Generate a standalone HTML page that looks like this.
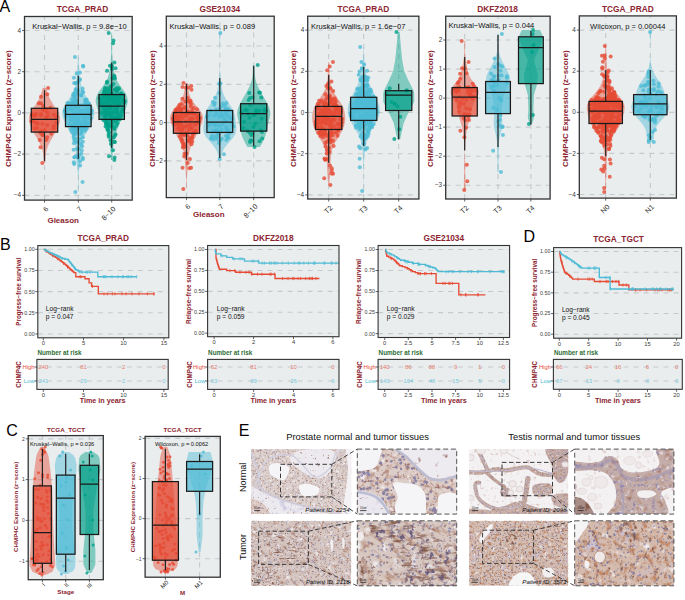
<!DOCTYPE html>
<html><head><meta charset="utf-8"><style>
html,body{margin:0;padding:0;background:#fff;width:685px;height:600px;overflow:hidden}
svg{display:block}
</style></head><body>
<svg width="685" height="600" viewBox="0 0 685 600" font-family="Liberation Sans, sans-serif">
<text x="-0.6" y="11.7" font-size="16" fill="#000" text-anchor="start">A</text>
<clipPath id="a1"><rect x="24.5" y="16.5" width="107.7" height="183.6"/></clipPath>
<rect x="24.5" y="16.5" width="107.7" height="183.6" fill="#E9EDEE"/>
<g clip-path="url(#a1)">
<path d="M24.5,30.5H132.2" stroke="#C5CACD" stroke-width="1.15" stroke-dasharray="5 5"/>
<path d="M24.5,71.7H132.2" stroke="#C5CACD" stroke-width="1.15" stroke-dasharray="5 5"/>
<path d="M24.5,112.9H132.2" stroke="#C5CACD" stroke-width="1.15" stroke-dasharray="5 5"/>
<path d="M24.5,154.1H132.2" stroke="#C5CACD" stroke-width="1.15" stroke-dasharray="5 5"/>
<path d="M24.5,195.3H132.2" stroke="#C5CACD" stroke-width="1.15" stroke-dasharray="5 5"/>
<path d="M44.5,200.1V16.5" stroke="#C5CACD" stroke-width="1.15" stroke-dasharray="5 5"/>
<path d="M78.3,200.1V16.5" stroke="#C5CACD" stroke-width="1.15" stroke-dasharray="5 5"/>
<path d="M111.7,200.1V16.5" stroke="#C5CACD" stroke-width="1.15" stroke-dasharray="5 5"/>
<path d="M43.72,163 L43.65,161.12 L43.56,159.25 L43.45,157.38 L43.28,155.5 L43.05,153.62 L42.72,151.75 L42.27,149.88 L41.71,148 L41.02,146.12 L40.21,144.25 L39.29,142.38 L38.28,140.5 L37.21,138.62 L36.1,136.75 L34.99,134.88 L33.9,133 L32.85,131.12 L31.88,129.25 L31.01,127.38 L30.25,125.5 L29.65,123.62 L29.22,121.75 L29,119.88 L29.03,118 L29.31,116.12 L29.87,114.25 L30.69,112.38 L31.71,110.5 L32.9,108.62 L34.18,106.75 L35.47,104.88 L36.71,103 L37.86,101.12 L38.87,99.25 L39.76,97.38 L40.51,95.5 L41.15,93.62 L41.69,91.75 L42.16,89.88 L42.57,88 L46.43,88 L46.84,89.88 L47.31,91.75 L47.85,93.62 L48.49,95.5 L49.24,97.38 L50.13,99.25 L51.14,101.12 L52.29,103 L53.53,104.88 L54.82,106.75 L56.1,108.62 L57.29,110.5 L58.31,112.38 L59.13,114.25 L59.69,116.12 L59.97,118 L60,119.88 L59.78,121.75 L59.35,123.62 L58.75,125.5 L57.99,127.38 L57.12,129.25 L56.15,131.12 L55.1,133 L54.01,134.88 L52.9,136.75 L51.79,138.62 L50.72,140.5 L49.71,142.38 L48.79,144.25 L47.98,146.12 L47.29,148 L46.73,149.88 L46.28,151.75 L45.95,153.62 L45.72,155.5 L45.55,157.38 L45.44,159.25 L45.35,161.12 L45.28,163Z" fill="#E64B35" fill-opacity="0.45"/>
<circle cx="48.14" cy="88" r="2.0" fill="#E64B35" fill-opacity="0.8"/>
<circle cx="42.28" cy="163" r="2.0" fill="#E64B35" fill-opacity="0.8"/>
<circle cx="42.36" cy="123.73" r="2.0" fill="#E64B35" fill-opacity="0.8"/>
<circle cx="40.99" cy="115.15" r="2.0" fill="#E64B35" fill-opacity="0.8"/>
<circle cx="53.81" cy="125.95" r="2.0" fill="#E64B35" fill-opacity="0.8"/>
<circle cx="56.32" cy="116.86" r="2.0" fill="#E64B35" fill-opacity="0.8"/>
<circle cx="35.49" cy="115.47" r="2.0" fill="#E64B35" fill-opacity="0.8"/>
<circle cx="37.07" cy="127.97" r="2.0" fill="#E64B35" fill-opacity="0.8"/>
<circle cx="40.95" cy="103.19" r="2.0" fill="#E64B35" fill-opacity="0.8"/>
<circle cx="37.77" cy="123.68" r="2.0" fill="#E64B35" fill-opacity="0.8"/>
<circle cx="44.17" cy="110.01" r="2.0" fill="#E64B35" fill-opacity="0.8"/>
<circle cx="46.26" cy="108.96" r="2.0" fill="#E64B35" fill-opacity="0.8"/>
<circle cx="40.22" cy="132.63" r="2.0" fill="#E64B35" fill-opacity="0.8"/>
<circle cx="32.17" cy="114.37" r="2.0" fill="#E64B35" fill-opacity="0.8"/>
<circle cx="42.74" cy="109.87" r="2.0" fill="#E64B35" fill-opacity="0.8"/>
<circle cx="41.25" cy="114.07" r="2.0" fill="#E64B35" fill-opacity="0.8"/>
<circle cx="46.25" cy="117.18" r="2.0" fill="#E64B35" fill-opacity="0.8"/>
<circle cx="56.27" cy="122.4" r="2.0" fill="#E64B35" fill-opacity="0.8"/>
<circle cx="47.22" cy="137.17" r="2.0" fill="#E64B35" fill-opacity="0.8"/>
<circle cx="44.83" cy="129.99" r="2.0" fill="#E64B35" fill-opacity="0.8"/>
<circle cx="47.26" cy="112.2" r="2.0" fill="#E64B35" fill-opacity="0.8"/>
<circle cx="46.36" cy="139.91" r="2.0" fill="#E64B35" fill-opacity="0.8"/>
<circle cx="39.78" cy="140.12" r="2.0" fill="#E64B35" fill-opacity="0.8"/>
<circle cx="53.66" cy="128.18" r="2.0" fill="#E64B35" fill-opacity="0.8"/>
<circle cx="47.3" cy="94.15" r="2.0" fill="#E64B35" fill-opacity="0.8"/>
<circle cx="51.25" cy="133.82" r="2.0" fill="#E64B35" fill-opacity="0.8"/>
<circle cx="50.37" cy="107.83" r="2.0" fill="#E64B35" fill-opacity="0.8"/>
<circle cx="42.76" cy="135.14" r="2.0" fill="#E64B35" fill-opacity="0.8"/>
<circle cx="42.95" cy="105.81" r="2.0" fill="#E64B35" fill-opacity="0.8"/>
<circle cx="40.54" cy="147.29" r="2.0" fill="#E64B35" fill-opacity="0.8"/>
<circle cx="47.97" cy="115.98" r="2.0" fill="#E64B35" fill-opacity="0.8"/>
<circle cx="33.13" cy="121.21" r="2.0" fill="#E64B35" fill-opacity="0.8"/>
<circle cx="38.77" cy="103.3" r="2.0" fill="#E64B35" fill-opacity="0.8"/>
<circle cx="37.15" cy="122.82" r="2.0" fill="#E64B35" fill-opacity="0.8"/>
<circle cx="36.1" cy="114.07" r="2.0" fill="#E64B35" fill-opacity="0.8"/>
<circle cx="41.33" cy="130.83" r="2.0" fill="#E64B35" fill-opacity="0.8"/>
<circle cx="34.9" cy="128.32" r="2.0" fill="#E64B35" fill-opacity="0.8"/>
<circle cx="31.52" cy="121.37" r="2.0" fill="#E64B35" fill-opacity="0.8"/>
<circle cx="35.69" cy="122.91" r="2.0" fill="#E64B35" fill-opacity="0.8"/>
<circle cx="34.59" cy="115.15" r="2.0" fill="#E64B35" fill-opacity="0.8"/>
<circle cx="42.29" cy="134.75" r="2.0" fill="#E64B35" fill-opacity="0.8"/>
<circle cx="32.25" cy="115.55" r="2.0" fill="#E64B35" fill-opacity="0.8"/>
<circle cx="53.81" cy="114.74" r="2.0" fill="#E64B35" fill-opacity="0.8"/>
<circle cx="47.26" cy="124.98" r="2.0" fill="#E64B35" fill-opacity="0.8"/>
<circle cx="40.99" cy="96.77" r="2.0" fill="#E64B35" fill-opacity="0.8"/>
<path d="M44.5,90.2V108.3M44.5,132.1V161.3" stroke="#222" stroke-width="1.2"/>
<rect x="31.3" y="108.3" width="26.4" height="23.8" fill="#E64B35" fill-opacity="0.7" stroke="#1a1a1a" stroke-width="1.25"/>
<path d="M31.3,119.4H57.7" stroke="#1a1a1a" stroke-width="1.25"/>
<path d="M78.08,192 L78.05,188.62 L78.04,185.25 L78.04,181.88 L78.02,178.5 L77.93,175.12 L77.71,171.75 L77.35,168.38 L76.9,165 L76.45,161.62 L76.1,158.25 L75.89,154.88 L75.73,151.5 L75.5,148.12 L75.06,144.75 L74.27,141.38 L73.04,138 L71.39,134.62 L69.48,131.25 L67.55,127.88 L65.76,124.5 L64.2,121.12 L62.97,117.75 L62.3,114.38 L62.44,111 L63.5,107.62 L65.35,104.25 L67.64,100.88 L69.98,97.5 L72.05,94.12 L73.68,90.75 L74.87,87.38 L75.68,84 L76.24,80.62 L76.65,77.25 L76.98,73.88 L77.25,70.5 L77.47,67.12 L77.66,63.75 L77.82,60.38 L77.95,57 L78.65,57 L78.78,60.38 L78.94,63.75 L79.13,67.12 L79.35,70.5 L79.62,73.88 L79.95,77.25 L80.36,80.62 L80.92,84 L81.73,87.38 L82.92,90.75 L84.55,94.12 L86.62,97.5 L88.96,100.88 L91.25,104.25 L93.1,107.62 L94.16,111 L94.3,114.38 L93.63,117.75 L92.4,121.12 L90.84,124.5 L89.05,127.88 L87.12,131.25 L85.21,134.62 L83.56,138 L82.33,141.38 L81.54,144.75 L81.1,148.12 L80.87,151.5 L80.71,154.88 L80.5,158.25 L80.15,161.62 L79.7,165 L79.25,168.38 L78.89,171.75 L78.67,175.12 L78.58,178.5 L78.56,181.88 L78.56,185.25 L78.55,188.62 L78.52,192Z" fill="#4DBBD5" fill-opacity="0.45"/>
<circle cx="74.92" cy="57" r="2.0" fill="#4DBBD5" fill-opacity="0.8"/>
<circle cx="75.38" cy="192" r="2.0" fill="#4DBBD5" fill-opacity="0.8"/>
<circle cx="85.65" cy="99.82" r="2.0" fill="#4DBBD5" fill-opacity="0.8"/>
<circle cx="78.23" cy="109.15" r="2.0" fill="#4DBBD5" fill-opacity="0.8"/>
<circle cx="71.26" cy="108.98" r="2.0" fill="#4DBBD5" fill-opacity="0.8"/>
<circle cx="89.25" cy="111.12" r="2.0" fill="#4DBBD5" fill-opacity="0.8"/>
<circle cx="91.69" cy="110.54" r="2.0" fill="#4DBBD5" fill-opacity="0.8"/>
<circle cx="77.23" cy="123.82" r="2.0" fill="#4DBBD5" fill-opacity="0.8"/>
<circle cx="74.07" cy="134.51" r="2.0" fill="#4DBBD5" fill-opacity="0.8"/>
<circle cx="70.28" cy="116.11" r="2.0" fill="#4DBBD5" fill-opacity="0.8"/>
<circle cx="74.21" cy="164.05" r="2.0" fill="#4DBBD5" fill-opacity="0.8"/>
<circle cx="75.93" cy="132.06" r="2.0" fill="#4DBBD5" fill-opacity="0.8"/>
<circle cx="69.59" cy="123.88" r="2.0" fill="#4DBBD5" fill-opacity="0.8"/>
<circle cx="72.56" cy="102.88" r="2.0" fill="#4DBBD5" fill-opacity="0.8"/>
<circle cx="75.73" cy="94.4" r="2.0" fill="#4DBBD5" fill-opacity="0.8"/>
<circle cx="79.97" cy="121.13" r="2.0" fill="#4DBBD5" fill-opacity="0.8"/>
<circle cx="85.32" cy="99.73" r="2.0" fill="#4DBBD5" fill-opacity="0.8"/>
<circle cx="83.8" cy="104.96" r="2.0" fill="#4DBBD5" fill-opacity="0.8"/>
<circle cx="76.44" cy="125.26" r="2.0" fill="#4DBBD5" fill-opacity="0.8"/>
<circle cx="76.06" cy="117.02" r="2.0" fill="#4DBBD5" fill-opacity="0.8"/>
<circle cx="78.95" cy="111.75" r="2.0" fill="#4DBBD5" fill-opacity="0.8"/>
<circle cx="74.95" cy="115.91" r="2.0" fill="#4DBBD5" fill-opacity="0.8"/>
<circle cx="76.68" cy="73.38" r="2.0" fill="#4DBBD5" fill-opacity="0.8"/>
<circle cx="73.92" cy="77.67" r="2.0" fill="#4DBBD5" fill-opacity="0.8"/>
<circle cx="76.08" cy="156.13" r="2.0" fill="#4DBBD5" fill-opacity="0.8"/>
<circle cx="90.91" cy="112.53" r="2.0" fill="#4DBBD5" fill-opacity="0.8"/>
<circle cx="70.06" cy="104.89" r="2.0" fill="#4DBBD5" fill-opacity="0.8"/>
<circle cx="78.33" cy="142.15" r="2.0" fill="#4DBBD5" fill-opacity="0.8"/>
<circle cx="81.83" cy="115.12" r="2.0" fill="#4DBBD5" fill-opacity="0.8"/>
<circle cx="86.29" cy="105.5" r="2.0" fill="#4DBBD5" fill-opacity="0.8"/>
<circle cx="75.46" cy="141.83" r="2.0" fill="#4DBBD5" fill-opacity="0.8"/>
<circle cx="74.15" cy="102.27" r="2.0" fill="#4DBBD5" fill-opacity="0.8"/>
<circle cx="71.97" cy="106.96" r="2.0" fill="#4DBBD5" fill-opacity="0.8"/>
<circle cx="76.09" cy="104.08" r="2.0" fill="#4DBBD5" fill-opacity="0.8"/>
<circle cx="77.72" cy="93.09" r="2.0" fill="#4DBBD5" fill-opacity="0.8"/>
<circle cx="86.52" cy="100.45" r="2.0" fill="#4DBBD5" fill-opacity="0.8"/>
<circle cx="81.79" cy="150.26" r="2.0" fill="#4DBBD5" fill-opacity="0.8"/>
<circle cx="85.11" cy="127.54" r="2.0" fill="#4DBBD5" fill-opacity="0.8"/>
<circle cx="73.22" cy="95.53" r="2.0" fill="#4DBBD5" fill-opacity="0.8"/>
<circle cx="73.33" cy="94.31" r="2.0" fill="#4DBBD5" fill-opacity="0.8"/>
<circle cx="81.44" cy="132.9" r="2.0" fill="#4DBBD5" fill-opacity="0.8"/>
<circle cx="85.47" cy="100.2" r="2.0" fill="#4DBBD5" fill-opacity="0.8"/>
<circle cx="77.66" cy="120.3" r="2.0" fill="#4DBBD5" fill-opacity="0.8"/>
<circle cx="80.67" cy="112.76" r="2.0" fill="#4DBBD5" fill-opacity="0.8"/>
<circle cx="64.82" cy="110.99" r="2.0" fill="#4DBBD5" fill-opacity="0.8"/>
<circle cx="75.35" cy="113.52" r="2.0" fill="#4DBBD5" fill-opacity="0.8"/>
<circle cx="82.57" cy="181.92" r="2.0" fill="#4DBBD5" fill-opacity="0.8"/>
<circle cx="85.24" cy="125.89" r="2.0" fill="#4DBBD5" fill-opacity="0.8"/>
<circle cx="86.13" cy="103.37" r="2.0" fill="#4DBBD5" fill-opacity="0.8"/>
<circle cx="91.14" cy="113.25" r="2.0" fill="#4DBBD5" fill-opacity="0.8"/>
<circle cx="74.74" cy="96.6" r="2.0" fill="#4DBBD5" fill-opacity="0.8"/>
<circle cx="74.14" cy="94.4" r="2.0" fill="#4DBBD5" fill-opacity="0.8"/>
<circle cx="74.63" cy="92.82" r="2.0" fill="#4DBBD5" fill-opacity="0.8"/>
<circle cx="78.52" cy="148.51" r="2.0" fill="#4DBBD5" fill-opacity="0.8"/>
<circle cx="80.44" cy="134.06" r="2.0" fill="#4DBBD5" fill-opacity="0.8"/>
<circle cx="82.71" cy="159.23" r="2.0" fill="#4DBBD5" fill-opacity="0.8"/>
<circle cx="84.33" cy="114.53" r="2.0" fill="#4DBBD5" fill-opacity="0.8"/>
<circle cx="81.44" cy="125.09" r="2.0" fill="#4DBBD5" fill-opacity="0.8"/>
<circle cx="85.44" cy="111.18" r="2.0" fill="#4DBBD5" fill-opacity="0.8"/>
<circle cx="77.52" cy="127.44" r="2.0" fill="#4DBBD5" fill-opacity="0.8"/>
<circle cx="79.64" cy="117.91" r="2.0" fill="#4DBBD5" fill-opacity="0.8"/>
<circle cx="73.7" cy="137.27" r="2.0" fill="#4DBBD5" fill-opacity="0.8"/>
<circle cx="81.12" cy="144.32" r="2.0" fill="#4DBBD5" fill-opacity="0.8"/>
<circle cx="72.6" cy="125.2" r="2.0" fill="#4DBBD5" fill-opacity="0.8"/>
<circle cx="87.25" cy="124.39" r="2.0" fill="#4DBBD5" fill-opacity="0.8"/>
<circle cx="82.22" cy="112.09" r="2.0" fill="#4DBBD5" fill-opacity="0.8"/>
<circle cx="73.36" cy="106.67" r="2.0" fill="#4DBBD5" fill-opacity="0.8"/>
<circle cx="74.58" cy="157.3" r="2.0" fill="#4DBBD5" fill-opacity="0.8"/>
<circle cx="74.58" cy="130.76" r="2.0" fill="#4DBBD5" fill-opacity="0.8"/>
<circle cx="80.79" cy="128.36" r="2.0" fill="#4DBBD5" fill-opacity="0.8"/>
<circle cx="83.48" cy="116.21" r="2.0" fill="#4DBBD5" fill-opacity="0.8"/>
<circle cx="74.42" cy="157.34" r="2.0" fill="#4DBBD5" fill-opacity="0.8"/>
<circle cx="68.84" cy="103.25" r="2.0" fill="#4DBBD5" fill-opacity="0.8"/>
<circle cx="78.84" cy="105.55" r="2.0" fill="#4DBBD5" fill-opacity="0.8"/>
<circle cx="79.13" cy="154.97" r="2.0" fill="#4DBBD5" fill-opacity="0.8"/>
<circle cx="76.26" cy="128.86" r="2.0" fill="#4DBBD5" fill-opacity="0.8"/>
<circle cx="74.16" cy="130.26" r="2.0" fill="#4DBBD5" fill-opacity="0.8"/>
<circle cx="80.52" cy="105.41" r="2.0" fill="#4DBBD5" fill-opacity="0.8"/>
<circle cx="65.1" cy="109.94" r="2.0" fill="#4DBBD5" fill-opacity="0.8"/>
<circle cx="73.31" cy="105.97" r="2.0" fill="#4DBBD5" fill-opacity="0.8"/>
<circle cx="77.91" cy="90.37" r="2.0" fill="#4DBBD5" fill-opacity="0.8"/>
<circle cx="86.68" cy="128.62" r="2.0" fill="#4DBBD5" fill-opacity="0.8"/>
<circle cx="79.75" cy="79.36" r="2.0" fill="#4DBBD5" fill-opacity="0.8"/>
<circle cx="85.25" cy="101.79" r="2.0" fill="#4DBBD5" fill-opacity="0.8"/>
<circle cx="78.05" cy="81.96" r="2.0" fill="#4DBBD5" fill-opacity="0.8"/>
<circle cx="75.65" cy="89.13" r="2.0" fill="#4DBBD5" fill-opacity="0.8"/>
<circle cx="71.71" cy="116.49" r="2.0" fill="#4DBBD5" fill-opacity="0.8"/>
<circle cx="85.2" cy="130.82" r="2.0" fill="#4DBBD5" fill-opacity="0.8"/>
<circle cx="83.87" cy="115.92" r="2.0" fill="#4DBBD5" fill-opacity="0.8"/>
<circle cx="73.06" cy="114.93" r="2.0" fill="#4DBBD5" fill-opacity="0.8"/>
<circle cx="65.84" cy="116.69" r="2.0" fill="#4DBBD5" fill-opacity="0.8"/>
<circle cx="78.26" cy="117.86" r="2.0" fill="#4DBBD5" fill-opacity="0.8"/>
<circle cx="80.91" cy="129.86" r="2.0" fill="#4DBBD5" fill-opacity="0.8"/>
<circle cx="77.1" cy="129.65" r="2.0" fill="#4DBBD5" fill-opacity="0.8"/>
<circle cx="74.87" cy="97.29" r="2.0" fill="#4DBBD5" fill-opacity="0.8"/>
<circle cx="79.97" cy="161.58" r="2.0" fill="#4DBBD5" fill-opacity="0.8"/>
<circle cx="82.55" cy="91.83" r="2.0" fill="#4DBBD5" fill-opacity="0.8"/>
<circle cx="71.43" cy="108.59" r="2.0" fill="#4DBBD5" fill-opacity="0.8"/>
<circle cx="73.64" cy="149.75" r="2.0" fill="#4DBBD5" fill-opacity="0.8"/>
<circle cx="74.85" cy="123.98" r="2.0" fill="#4DBBD5" fill-opacity="0.8"/>
<circle cx="76.86" cy="100.51" r="2.0" fill="#4DBBD5" fill-opacity="0.8"/>
<circle cx="80.13" cy="165.45" r="2.0" fill="#4DBBD5" fill-opacity="0.8"/>
<circle cx="72.78" cy="126.45" r="2.0" fill="#4DBBD5" fill-opacity="0.8"/>
<circle cx="85.42" cy="121.57" r="2.0" fill="#4DBBD5" fill-opacity="0.8"/>
<circle cx="81.88" cy="132.07" r="2.0" fill="#4DBBD5" fill-opacity="0.8"/>
<circle cx="78.35" cy="157.86" r="2.0" fill="#4DBBD5" fill-opacity="0.8"/>
<circle cx="75.35" cy="138.83" r="2.0" fill="#4DBBD5" fill-opacity="0.8"/>
<circle cx="83" cy="65.7" r="2.0" fill="#4DBBD5" fill-opacity="0.8"/>
<circle cx="74.15" cy="103.49" r="2.0" fill="#4DBBD5" fill-opacity="0.8"/>
<circle cx="81.5" cy="153.69" r="2.0" fill="#4DBBD5" fill-opacity="0.8"/>
<circle cx="73.38" cy="127.94" r="2.0" fill="#4DBBD5" fill-opacity="0.8"/>
<circle cx="73.21" cy="127.57" r="2.0" fill="#4DBBD5" fill-opacity="0.8"/>
<circle cx="85.09" cy="116.57" r="2.0" fill="#4DBBD5" fill-opacity="0.8"/>
<circle cx="73.79" cy="105.79" r="2.0" fill="#4DBBD5" fill-opacity="0.8"/>
<circle cx="90.48" cy="111.51" r="2.0" fill="#4DBBD5" fill-opacity="0.8"/>
<circle cx="78.18" cy="113.64" r="2.0" fill="#4DBBD5" fill-opacity="0.8"/>
<circle cx="72.59" cy="129.36" r="2.0" fill="#4DBBD5" fill-opacity="0.8"/>
<circle cx="71.09" cy="116.3" r="2.0" fill="#4DBBD5" fill-opacity="0.8"/>
<circle cx="76.06" cy="112.21" r="2.0" fill="#4DBBD5" fill-opacity="0.8"/>
<circle cx="82.61" cy="116.75" r="2.0" fill="#4DBBD5" fill-opacity="0.8"/>
<circle cx="82.79" cy="137.25" r="2.0" fill="#4DBBD5" fill-opacity="0.8"/>
<circle cx="69.4" cy="108.5" r="2.0" fill="#4DBBD5" fill-opacity="0.8"/>
<circle cx="75.52" cy="117.02" r="2.0" fill="#4DBBD5" fill-opacity="0.8"/>
<circle cx="70.82" cy="117.75" r="2.0" fill="#4DBBD5" fill-opacity="0.8"/>
<circle cx="90.66" cy="118.59" r="2.0" fill="#4DBBD5" fill-opacity="0.8"/>
<circle cx="74.09" cy="134.07" r="2.0" fill="#4DBBD5" fill-opacity="0.8"/>
<circle cx="73.82" cy="162.23" r="2.0" fill="#4DBBD5" fill-opacity="0.8"/>
<circle cx="67.23" cy="108.23" r="2.0" fill="#4DBBD5" fill-opacity="0.8"/>
<circle cx="75.52" cy="118.12" r="2.0" fill="#4DBBD5" fill-opacity="0.8"/>
<circle cx="88.32" cy="107.67" r="2.0" fill="#4DBBD5" fill-opacity="0.8"/>
<circle cx="88.64" cy="111.94" r="2.0" fill="#4DBBD5" fill-opacity="0.8"/>
<circle cx="83.26" cy="124.11" r="2.0" fill="#4DBBD5" fill-opacity="0.8"/>
<circle cx="83.28" cy="92.22" r="2.0" fill="#4DBBD5" fill-opacity="0.8"/>
<circle cx="82.62" cy="88.38" r="2.0" fill="#4DBBD5" fill-opacity="0.8"/>
<circle cx="74.66" cy="123.05" r="2.0" fill="#4DBBD5" fill-opacity="0.8"/>
<circle cx="70.76" cy="119.71" r="2.0" fill="#4DBBD5" fill-opacity="0.8"/>
<circle cx="86.2" cy="100.04" r="2.0" fill="#4DBBD5" fill-opacity="0.8"/>
<circle cx="84.72" cy="118.17" r="2.0" fill="#4DBBD5" fill-opacity="0.8"/>
<circle cx="65.57" cy="113.09" r="2.0" fill="#4DBBD5" fill-opacity="0.8"/>
<circle cx="79.94" cy="79.67" r="2.0" fill="#4DBBD5" fill-opacity="0.8"/>
<circle cx="76.1" cy="101.22" r="2.0" fill="#4DBBD5" fill-opacity="0.8"/>
<circle cx="74.87" cy="114.21" r="2.0" fill="#4DBBD5" fill-opacity="0.8"/>
<circle cx="73.76" cy="109.5" r="2.0" fill="#4DBBD5" fill-opacity="0.8"/>
<circle cx="72.31" cy="99.23" r="2.0" fill="#4DBBD5" fill-opacity="0.8"/>
<circle cx="67.36" cy="102.91" r="2.0" fill="#4DBBD5" fill-opacity="0.8"/>
<circle cx="72.76" cy="107.1" r="2.0" fill="#4DBBD5" fill-opacity="0.8"/>
<circle cx="74.43" cy="118.74" r="2.0" fill="#4DBBD5" fill-opacity="0.8"/>
<circle cx="90.69" cy="113.44" r="2.0" fill="#4DBBD5" fill-opacity="0.8"/>
<circle cx="68.15" cy="109.68" r="2.0" fill="#4DBBD5" fill-opacity="0.8"/>
<circle cx="88.52" cy="103.17" r="2.0" fill="#4DBBD5" fill-opacity="0.8"/>
<circle cx="71.86" cy="105.14" r="2.0" fill="#4DBBD5" fill-opacity="0.8"/>
<circle cx="74.69" cy="106.74" r="2.0" fill="#4DBBD5" fill-opacity="0.8"/>
<circle cx="86.97" cy="110.1" r="2.0" fill="#4DBBD5" fill-opacity="0.8"/>
<circle cx="87.06" cy="115.29" r="2.0" fill="#4DBBD5" fill-opacity="0.8"/>
<circle cx="76.81" cy="102.79" r="2.0" fill="#4DBBD5" fill-opacity="0.8"/>
<circle cx="66.96" cy="107.44" r="2.0" fill="#4DBBD5" fill-opacity="0.8"/>
<circle cx="77.82" cy="128.77" r="2.0" fill="#4DBBD5" fill-opacity="0.8"/>
<circle cx="77.03" cy="148.9" r="2.0" fill="#4DBBD5" fill-opacity="0.8"/>
<circle cx="87.54" cy="104.72" r="2.0" fill="#4DBBD5" fill-opacity="0.8"/>
<circle cx="71.54" cy="102.77" r="2.0" fill="#4DBBD5" fill-opacity="0.8"/>
<circle cx="74.88" cy="108.62" r="2.0" fill="#4DBBD5" fill-opacity="0.8"/>
<circle cx="89.1" cy="115.25" r="2.0" fill="#4DBBD5" fill-opacity="0.8"/>
<circle cx="67.96" cy="105.84" r="2.0" fill="#4DBBD5" fill-opacity="0.8"/>
<circle cx="76.34" cy="104.93" r="2.0" fill="#4DBBD5" fill-opacity="0.8"/>
<circle cx="86.71" cy="112.58" r="2.0" fill="#4DBBD5" fill-opacity="0.8"/>
<circle cx="85.49" cy="110.59" r="2.0" fill="#4DBBD5" fill-opacity="0.8"/>
<circle cx="65.81" cy="114.73" r="2.0" fill="#4DBBD5" fill-opacity="0.8"/>
<circle cx="66.6" cy="107.76" r="2.0" fill="#4DBBD5" fill-opacity="0.8"/>
<circle cx="73.93" cy="143.24" r="2.0" fill="#4DBBD5" fill-opacity="0.8"/>
<circle cx="89.25" cy="117.94" r="2.0" fill="#4DBBD5" fill-opacity="0.8"/>
<circle cx="73.12" cy="124.24" r="2.0" fill="#4DBBD5" fill-opacity="0.8"/>
<circle cx="84.23" cy="119.98" r="2.0" fill="#4DBBD5" fill-opacity="0.8"/>
<circle cx="89.14" cy="115.9" r="2.0" fill="#4DBBD5" fill-opacity="0.8"/>
<circle cx="75.38" cy="100.33" r="2.0" fill="#4DBBD5" fill-opacity="0.8"/>
<circle cx="74.14" cy="126.56" r="2.0" fill="#4DBBD5" fill-opacity="0.8"/>
<circle cx="82.88" cy="141.73" r="2.0" fill="#4DBBD5" fill-opacity="0.8"/>
<circle cx="81.45" cy="110.87" r="2.0" fill="#4DBBD5" fill-opacity="0.8"/>
<circle cx="74.74" cy="131.25" r="2.0" fill="#4DBBD5" fill-opacity="0.8"/>
<circle cx="84.14" cy="111.64" r="2.0" fill="#4DBBD5" fill-opacity="0.8"/>
<circle cx="73.31" cy="114.96" r="2.0" fill="#4DBBD5" fill-opacity="0.8"/>
<circle cx="75.66" cy="133.86" r="2.0" fill="#4DBBD5" fill-opacity="0.8"/>
<circle cx="70.86" cy="129.82" r="2.0" fill="#4DBBD5" fill-opacity="0.8"/>
<circle cx="82.97" cy="127.48" r="2.0" fill="#4DBBD5" fill-opacity="0.8"/>
<circle cx="88.28" cy="122.69" r="2.0" fill="#4DBBD5" fill-opacity="0.8"/>
<circle cx="79.64" cy="139" r="2.0" fill="#4DBBD5" fill-opacity="0.8"/>
<circle cx="87.75" cy="123.26" r="2.0" fill="#4DBBD5" fill-opacity="0.8"/>
<circle cx="65.47" cy="111.49" r="2.0" fill="#4DBBD5" fill-opacity="0.8"/>
<circle cx="75.64" cy="83.29" r="2.0" fill="#4DBBD5" fill-opacity="0.8"/>
<circle cx="77.71" cy="120.16" r="2.0" fill="#4DBBD5" fill-opacity="0.8"/>
<circle cx="86.57" cy="99.41" r="2.0" fill="#4DBBD5" fill-opacity="0.8"/>
<circle cx="82.84" cy="157.63" r="2.0" fill="#4DBBD5" fill-opacity="0.8"/>
<circle cx="75.45" cy="106.26" r="2.0" fill="#4DBBD5" fill-opacity="0.8"/>
<circle cx="75.81" cy="83.12" r="2.0" fill="#4DBBD5" fill-opacity="0.8"/>
<circle cx="77.02" cy="128.67" r="2.0" fill="#4DBBD5" fill-opacity="0.8"/>
<circle cx="78.14" cy="107.49" r="2.0" fill="#4DBBD5" fill-opacity="0.8"/>
<circle cx="89.94" cy="114.04" r="2.0" fill="#4DBBD5" fill-opacity="0.8"/>
<circle cx="70.7" cy="119.99" r="2.0" fill="#4DBBD5" fill-opacity="0.8"/>
<circle cx="84.75" cy="125.08" r="2.0" fill="#4DBBD5" fill-opacity="0.8"/>
<circle cx="84.02" cy="122.45" r="2.0" fill="#4DBBD5" fill-opacity="0.8"/>
<circle cx="87.08" cy="114.04" r="2.0" fill="#4DBBD5" fill-opacity="0.8"/>
<circle cx="83.28" cy="129.03" r="2.0" fill="#4DBBD5" fill-opacity="0.8"/>
<circle cx="81.19" cy="110.86" r="2.0" fill="#4DBBD5" fill-opacity="0.8"/>
<circle cx="75.15" cy="128.39" r="2.0" fill="#4DBBD5" fill-opacity="0.8"/>
<circle cx="76.5" cy="90.92" r="2.0" fill="#4DBBD5" fill-opacity="0.8"/>
<circle cx="75.26" cy="104.35" r="2.0" fill="#4DBBD5" fill-opacity="0.8"/>
<circle cx="81.3" cy="95.43" r="2.0" fill="#4DBBD5" fill-opacity="0.8"/>
<circle cx="74.09" cy="140.01" r="2.0" fill="#4DBBD5" fill-opacity="0.8"/>
<circle cx="72.77" cy="126.96" r="2.0" fill="#4DBBD5" fill-opacity="0.8"/>
<circle cx="80.99" cy="95.12" r="2.0" fill="#4DBBD5" fill-opacity="0.8"/>
<circle cx="72.24" cy="119.89" r="2.0" fill="#4DBBD5" fill-opacity="0.8"/>
<circle cx="66.46" cy="115.2" r="2.0" fill="#4DBBD5" fill-opacity="0.8"/>
<circle cx="65.73" cy="110.16" r="2.0" fill="#4DBBD5" fill-opacity="0.8"/>
<circle cx="79.42" cy="122.9" r="2.0" fill="#4DBBD5" fill-opacity="0.8"/>
<circle cx="73.56" cy="114.21" r="2.0" fill="#4DBBD5" fill-opacity="0.8"/>
<circle cx="88.87" cy="103.81" r="2.0" fill="#4DBBD5" fill-opacity="0.8"/>
<circle cx="82.13" cy="146.21" r="2.0" fill="#4DBBD5" fill-opacity="0.8"/>
<circle cx="83.18" cy="66.62" r="2.0" fill="#4DBBD5" fill-opacity="0.8"/>
<circle cx="71.96" cy="110.46" r="2.0" fill="#4DBBD5" fill-opacity="0.8"/>
<circle cx="74.14" cy="82.92" r="2.0" fill="#4DBBD5" fill-opacity="0.8"/>
<circle cx="72.25" cy="132.37" r="2.0" fill="#4DBBD5" fill-opacity="0.8"/>
<circle cx="78.26" cy="116.27" r="2.0" fill="#4DBBD5" fill-opacity="0.8"/>
<circle cx="83.96" cy="110.06" r="2.0" fill="#4DBBD5" fill-opacity="0.8"/>
<circle cx="77.03" cy="122.68" r="2.0" fill="#4DBBD5" fill-opacity="0.8"/>
<circle cx="71.61" cy="108.06" r="2.0" fill="#4DBBD5" fill-opacity="0.8"/>
<circle cx="76.13" cy="118.53" r="2.0" fill="#4DBBD5" fill-opacity="0.8"/>
<circle cx="80.86" cy="123.14" r="2.0" fill="#4DBBD5" fill-opacity="0.8"/>
<circle cx="80.04" cy="72.51" r="2.0" fill="#4DBBD5" fill-opacity="0.8"/>
<circle cx="83.58" cy="122.89" r="2.0" fill="#4DBBD5" fill-opacity="0.8"/>
<circle cx="87.34" cy="118.54" r="2.0" fill="#4DBBD5" fill-opacity="0.8"/>
<circle cx="81.3" cy="127.11" r="2.0" fill="#4DBBD5" fill-opacity="0.8"/>
<path d="M78.3,75.7V105.3M78.3,126.6V159" stroke="#222" stroke-width="1.2"/>
<rect x="65.5" y="105.3" width="25.6" height="21.3" fill="#4DBBD5" fill-opacity="0.7" stroke="#1a1a1a" stroke-width="1.25"/>
<path d="M65.5,114.3H91.1" stroke="#1a1a1a" stroke-width="1.25"/>
<path d="M111.06,160 L110.9,156.82 L110.74,153.65 L110.53,150.47 L110.25,147.3 L109.87,144.12 L109.35,140.95 L108.69,137.78 L107.87,134.6 L106.88,131.43 L105.74,128.25 L104.49,125.08 L103.18,121.9 L101.83,118.72 L100.46,115.55 L99.08,112.38 L97.74,109.2 L96.59,106.03 L95.83,102.85 L95.7,99.67 L96.36,96.5 L97.82,93.33 L99.9,90.15 L102.27,86.97 L104.56,83.8 L106.49,80.62 L107.93,77.45 L108.89,74.28 L109.51,71.1 L109.93,67.92 L110.28,64.75 L110.59,61.58 L110.88,58.4 L111.1,55.22 L111.24,52.05 L111.29,48.88 L111.29,45.7 L111.27,42.53 L111.26,39.35 L111.29,36.17 L111.35,33 L112.05,33 L112.11,36.17 L112.14,39.35 L112.13,42.53 L112.11,45.7 L112.11,48.88 L112.16,52.05 L112.3,55.22 L112.52,58.4 L112.81,61.58 L113.12,64.75 L113.47,67.92 L113.89,71.1 L114.51,74.28 L115.47,77.45 L116.91,80.62 L118.84,83.8 L121.13,86.97 L123.5,90.15 L125.58,93.33 L127.04,96.5 L127.7,99.67 L127.57,102.85 L126.81,106.03 L125.66,109.2 L124.32,112.38 L122.94,115.55 L121.57,118.72 L120.22,121.9 L118.91,125.08 L117.66,128.25 L116.52,131.43 L115.53,134.6 L114.71,137.78 L114.05,140.95 L113.53,144.12 L113.15,147.3 L112.87,150.47 L112.66,153.65 L112.5,156.82 L112.34,160Z" fill="#00A087" fill-opacity="0.45"/>
<circle cx="108.72" cy="33" r="2.0" fill="#00A087" fill-opacity="0.8"/>
<circle cx="114.32" cy="160" r="2.0" fill="#00A087" fill-opacity="0.8"/>
<circle cx="119.72" cy="119.15" r="2.0" fill="#00A087" fill-opacity="0.8"/>
<circle cx="103.39" cy="119.94" r="2.0" fill="#00A087" fill-opacity="0.8"/>
<circle cx="111.55" cy="85.89" r="2.0" fill="#00A087" fill-opacity="0.8"/>
<circle cx="111.52" cy="113.63" r="2.0" fill="#00A087" fill-opacity="0.8"/>
<circle cx="114.67" cy="77.03" r="2.0" fill="#00A087" fill-opacity="0.8"/>
<circle cx="108.55" cy="134.68" r="2.0" fill="#00A087" fill-opacity="0.8"/>
<circle cx="111.55" cy="100.35" r="2.0" fill="#00A087" fill-opacity="0.8"/>
<circle cx="107.78" cy="107.42" r="2.0" fill="#00A087" fill-opacity="0.8"/>
<circle cx="115.02" cy="142.11" r="2.0" fill="#00A087" fill-opacity="0.8"/>
<circle cx="106.9" cy="90.56" r="2.0" fill="#00A087" fill-opacity="0.8"/>
<circle cx="123.77" cy="101.12" r="2.0" fill="#00A087" fill-opacity="0.8"/>
<circle cx="106.06" cy="98" r="2.0" fill="#00A087" fill-opacity="0.8"/>
<circle cx="105.98" cy="91.04" r="2.0" fill="#00A087" fill-opacity="0.8"/>
<circle cx="115.7" cy="89.96" r="2.0" fill="#00A087" fill-opacity="0.8"/>
<circle cx="111.66" cy="93.69" r="2.0" fill="#00A087" fill-opacity="0.8"/>
<circle cx="106.05" cy="122.15" r="2.0" fill="#00A087" fill-opacity="0.8"/>
<circle cx="114.44" cy="89.38" r="2.0" fill="#00A087" fill-opacity="0.8"/>
<circle cx="107.45" cy="128.67" r="2.0" fill="#00A087" fill-opacity="0.8"/>
<circle cx="115.87" cy="121.68" r="2.0" fill="#00A087" fill-opacity="0.8"/>
<circle cx="117.06" cy="98.84" r="2.0" fill="#00A087" fill-opacity="0.8"/>
<circle cx="119.18" cy="97.16" r="2.0" fill="#00A087" fill-opacity="0.8"/>
<circle cx="115.18" cy="100.41" r="2.0" fill="#00A087" fill-opacity="0.8"/>
<circle cx="108.8" cy="90.96" r="2.0" fill="#00A087" fill-opacity="0.8"/>
<circle cx="110.04" cy="119.76" r="2.0" fill="#00A087" fill-opacity="0.8"/>
<circle cx="108.99" cy="105.02" r="2.0" fill="#00A087" fill-opacity="0.8"/>
<circle cx="122.32" cy="100.07" r="2.0" fill="#00A087" fill-opacity="0.8"/>
<circle cx="107.56" cy="129.95" r="2.0" fill="#00A087" fill-opacity="0.8"/>
<circle cx="116.46" cy="125.82" r="2.0" fill="#00A087" fill-opacity="0.8"/>
<circle cx="105.88" cy="123.84" r="2.0" fill="#00A087" fill-opacity="0.8"/>
<circle cx="104.77" cy="92.92" r="2.0" fill="#00A087" fill-opacity="0.8"/>
<circle cx="106.08" cy="110.01" r="2.0" fill="#00A087" fill-opacity="0.8"/>
<circle cx="117.51" cy="123.37" r="2.0" fill="#00A087" fill-opacity="0.8"/>
<circle cx="111.71" cy="66.64" r="2.0" fill="#00A087" fill-opacity="0.8"/>
<circle cx="109.11" cy="112.3" r="2.0" fill="#00A087" fill-opacity="0.8"/>
<circle cx="115.54" cy="68.27" r="2.0" fill="#00A087" fill-opacity="0.8"/>
<circle cx="109.04" cy="156.2" r="2.0" fill="#00A087" fill-opacity="0.8"/>
<circle cx="110.77" cy="107.93" r="2.0" fill="#00A087" fill-opacity="0.8"/>
<circle cx="112.23" cy="119.28" r="2.0" fill="#00A087" fill-opacity="0.8"/>
<circle cx="116.81" cy="91.54" r="2.0" fill="#00A087" fill-opacity="0.8"/>
<circle cx="114.26" cy="128.88" r="2.0" fill="#00A087" fill-opacity="0.8"/>
<circle cx="115.65" cy="103.63" r="2.0" fill="#00A087" fill-opacity="0.8"/>
<circle cx="107.58" cy="100.82" r="2.0" fill="#00A087" fill-opacity="0.8"/>
<circle cx="109.97" cy="65.77" r="2.0" fill="#00A087" fill-opacity="0.8"/>
<circle cx="103.57" cy="93.48" r="2.0" fill="#00A087" fill-opacity="0.8"/>
<circle cx="120.65" cy="97.63" r="2.0" fill="#00A087" fill-opacity="0.8"/>
<circle cx="115.93" cy="95.06" r="2.0" fill="#00A087" fill-opacity="0.8"/>
<circle cx="114.12" cy="75.4" r="2.0" fill="#00A087" fill-opacity="0.8"/>
<circle cx="105.07" cy="88.59" r="2.0" fill="#00A087" fill-opacity="0.8"/>
<circle cx="110.26" cy="93.59" r="2.0" fill="#00A087" fill-opacity="0.8"/>
<circle cx="114.43" cy="62.59" r="2.0" fill="#00A087" fill-opacity="0.8"/>
<circle cx="112.67" cy="124.91" r="2.0" fill="#00A087" fill-opacity="0.8"/>
<circle cx="104.2" cy="90.99" r="2.0" fill="#00A087" fill-opacity="0.8"/>
<circle cx="111.23" cy="123.58" r="2.0" fill="#00A087" fill-opacity="0.8"/>
<circle cx="120.79" cy="93.93" r="2.0" fill="#00A087" fill-opacity="0.8"/>
<circle cx="104.63" cy="103.4" r="2.0" fill="#00A087" fill-opacity="0.8"/>
<circle cx="106.53" cy="119.72" r="2.0" fill="#00A087" fill-opacity="0.8"/>
<circle cx="107.02" cy="93.75" r="2.0" fill="#00A087" fill-opacity="0.8"/>
<circle cx="117.18" cy="102.67" r="2.0" fill="#00A087" fill-opacity="0.8"/>
<circle cx="118.59" cy="89.22" r="2.0" fill="#00A087" fill-opacity="0.8"/>
<circle cx="102.69" cy="96.91" r="2.0" fill="#00A087" fill-opacity="0.8"/>
<circle cx="104.8" cy="91.2" r="2.0" fill="#00A087" fill-opacity="0.8"/>
<circle cx="105.12" cy="97.13" r="2.0" fill="#00A087" fill-opacity="0.8"/>
<circle cx="107.18" cy="96.44" r="2.0" fill="#00A087" fill-opacity="0.8"/>
<circle cx="112.3" cy="101.61" r="2.0" fill="#00A087" fill-opacity="0.8"/>
<circle cx="102.55" cy="104.22" r="2.0" fill="#00A087" fill-opacity="0.8"/>
<circle cx="108.41" cy="114.51" r="2.0" fill="#00A087" fill-opacity="0.8"/>
<circle cx="105.76" cy="114.49" r="2.0" fill="#00A087" fill-opacity="0.8"/>
<circle cx="122.97" cy="109.32" r="2.0" fill="#00A087" fill-opacity="0.8"/>
<circle cx="117.13" cy="108.41" r="2.0" fill="#00A087" fill-opacity="0.8"/>
<circle cx="106.87" cy="82.67" r="2.0" fill="#00A087" fill-opacity="0.8"/>
<circle cx="124.17" cy="102.63" r="2.0" fill="#00A087" fill-opacity="0.8"/>
<circle cx="100.95" cy="103.57" r="2.0" fill="#00A087" fill-opacity="0.8"/>
<circle cx="110.54" cy="140.29" r="2.0" fill="#00A087" fill-opacity="0.8"/>
<circle cx="120.95" cy="115.35" r="2.0" fill="#00A087" fill-opacity="0.8"/>
<circle cx="119.27" cy="104.74" r="2.0" fill="#00A087" fill-opacity="0.8"/>
<circle cx="116.38" cy="90.66" r="2.0" fill="#00A087" fill-opacity="0.8"/>
<circle cx="110" cy="96.07" r="2.0" fill="#00A087" fill-opacity="0.8"/>
<circle cx="105.18" cy="111.45" r="2.0" fill="#00A087" fill-opacity="0.8"/>
<circle cx="115.3" cy="95.69" r="2.0" fill="#00A087" fill-opacity="0.8"/>
<circle cx="103.26" cy="112.28" r="2.0" fill="#00A087" fill-opacity="0.8"/>
<circle cx="108.1" cy="125.3" r="2.0" fill="#00A087" fill-opacity="0.8"/>
<circle cx="108.83" cy="107.05" r="2.0" fill="#00A087" fill-opacity="0.8"/>
<circle cx="107.04" cy="70.69" r="2.0" fill="#00A087" fill-opacity="0.8"/>
<circle cx="109.32" cy="94.28" r="2.0" fill="#00A087" fill-opacity="0.8"/>
<circle cx="114.61" cy="157.49" r="2.0" fill="#00A087" fill-opacity="0.8"/>
<circle cx="116.92" cy="101.74" r="2.0" fill="#00A087" fill-opacity="0.8"/>
<circle cx="111.71" cy="96.69" r="2.0" fill="#00A087" fill-opacity="0.8"/>
<circle cx="113.02" cy="150.33" r="2.0" fill="#00A087" fill-opacity="0.8"/>
<circle cx="110.76" cy="105.71" r="2.0" fill="#00A087" fill-opacity="0.8"/>
<circle cx="108.07" cy="129.27" r="2.0" fill="#00A087" fill-opacity="0.8"/>
<circle cx="114.5" cy="102.3" r="2.0" fill="#00A087" fill-opacity="0.8"/>
<circle cx="109.88" cy="116.16" r="2.0" fill="#00A087" fill-opacity="0.8"/>
<circle cx="118.25" cy="99.21" r="2.0" fill="#00A087" fill-opacity="0.8"/>
<circle cx="121.33" cy="93.24" r="2.0" fill="#00A087" fill-opacity="0.8"/>
<circle cx="109.88" cy="95.58" r="2.0" fill="#00A087" fill-opacity="0.8"/>
<circle cx="113.7" cy="103.62" r="2.0" fill="#00A087" fill-opacity="0.8"/>
<circle cx="114.19" cy="141.93" r="2.0" fill="#00A087" fill-opacity="0.8"/>
<circle cx="110.91" cy="143.98" r="2.0" fill="#00A087" fill-opacity="0.8"/>
<circle cx="107.77" cy="122.8" r="2.0" fill="#00A087" fill-opacity="0.8"/>
<circle cx="115.43" cy="118.3" r="2.0" fill="#00A087" fill-opacity="0.8"/>
<circle cx="115.5" cy="134.24" r="2.0" fill="#00A087" fill-opacity="0.8"/>
<circle cx="119.09" cy="103.1" r="2.0" fill="#00A087" fill-opacity="0.8"/>
<circle cx="116.45" cy="110.69" r="2.0" fill="#00A087" fill-opacity="0.8"/>
<circle cx="118.43" cy="116.31" r="2.0" fill="#00A087" fill-opacity="0.8"/>
<circle cx="113.5" cy="40.51" r="2.0" fill="#00A087" fill-opacity="0.8"/>
<circle cx="114.74" cy="112.16" r="2.0" fill="#00A087" fill-opacity="0.8"/>
<circle cx="110.61" cy="108.6" r="2.0" fill="#00A087" fill-opacity="0.8"/>
<circle cx="106.9" cy="106.35" r="2.0" fill="#00A087" fill-opacity="0.8"/>
<circle cx="114.15" cy="116.79" r="2.0" fill="#00A087" fill-opacity="0.8"/>
<circle cx="105.25" cy="87.94" r="2.0" fill="#00A087" fill-opacity="0.8"/>
<circle cx="109.51" cy="99.96" r="2.0" fill="#00A087" fill-opacity="0.8"/>
<circle cx="117.76" cy="112.3" r="2.0" fill="#00A087" fill-opacity="0.8"/>
<circle cx="117.26" cy="96.62" r="2.0" fill="#00A087" fill-opacity="0.8"/>
<circle cx="114.78" cy="109.04" r="2.0" fill="#00A087" fill-opacity="0.8"/>
<circle cx="104.96" cy="104.06" r="2.0" fill="#00A087" fill-opacity="0.8"/>
<circle cx="110.17" cy="89.57" r="2.0" fill="#00A087" fill-opacity="0.8"/>
<circle cx="111.25" cy="126.82" r="2.0" fill="#00A087" fill-opacity="0.8"/>
<circle cx="114.87" cy="97.07" r="2.0" fill="#00A087" fill-opacity="0.8"/>
<circle cx="109.56" cy="93.52" r="2.0" fill="#00A087" fill-opacity="0.8"/>
<circle cx="116.27" cy="96.17" r="2.0" fill="#00A087" fill-opacity="0.8"/>
<circle cx="123.3" cy="102.76" r="2.0" fill="#00A087" fill-opacity="0.8"/>
<circle cx="107.11" cy="122.03" r="2.0" fill="#00A087" fill-opacity="0.8"/>
<circle cx="113.94" cy="121.82" r="2.0" fill="#00A087" fill-opacity="0.8"/>
<circle cx="118.84" cy="105.32" r="2.0" fill="#00A087" fill-opacity="0.8"/>
<circle cx="108.8" cy="96.41" r="2.0" fill="#00A087" fill-opacity="0.8"/>
<circle cx="111.46" cy="92.17" r="2.0" fill="#00A087" fill-opacity="0.8"/>
<circle cx="122.96" cy="110.35" r="2.0" fill="#00A087" fill-opacity="0.8"/>
<circle cx="107.08" cy="81.63" r="2.0" fill="#00A087" fill-opacity="0.8"/>
<circle cx="112.63" cy="112.59" r="2.0" fill="#00A087" fill-opacity="0.8"/>
<circle cx="103.65" cy="108.54" r="2.0" fill="#00A087" fill-opacity="0.8"/>
<circle cx="119.3" cy="102.56" r="2.0" fill="#00A087" fill-opacity="0.8"/>
<circle cx="120.12" cy="117.01" r="2.0" fill="#00A087" fill-opacity="0.8"/>
<circle cx="111.89" cy="65.7" r="2.0" fill="#00A087" fill-opacity="0.8"/>
<circle cx="100.85" cy="100.37" r="2.0" fill="#00A087" fill-opacity="0.8"/>
<circle cx="112.45" cy="78.45" r="2.0" fill="#00A087" fill-opacity="0.8"/>
<circle cx="112.77" cy="95.48" r="2.0" fill="#00A087" fill-opacity="0.8"/>
<circle cx="116.06" cy="89.56" r="2.0" fill="#00A087" fill-opacity="0.8"/>
<circle cx="112.03" cy="98.82" r="2.0" fill="#00A087" fill-opacity="0.8"/>
<circle cx="113.39" cy="83.93" r="2.0" fill="#00A087" fill-opacity="0.8"/>
<circle cx="119.46" cy="94.35" r="2.0" fill="#00A087" fill-opacity="0.8"/>
<circle cx="112.17" cy="112.17" r="2.0" fill="#00A087" fill-opacity="0.8"/>
<circle cx="109.58" cy="92.68" r="2.0" fill="#00A087" fill-opacity="0.8"/>
<circle cx="123.38" cy="94.98" r="2.0" fill="#00A087" fill-opacity="0.8"/>
<circle cx="108.8" cy="136.69" r="2.0" fill="#00A087" fill-opacity="0.8"/>
<circle cx="116.51" cy="96.9" r="2.0" fill="#00A087" fill-opacity="0.8"/>
<circle cx="108.94" cy="107.22" r="2.0" fill="#00A087" fill-opacity="0.8"/>
<circle cx="114.36" cy="127.71" r="2.0" fill="#00A087" fill-opacity="0.8"/>
<circle cx="102" cy="105.57" r="2.0" fill="#00A087" fill-opacity="0.8"/>
<circle cx="124.77" cy="101.33" r="2.0" fill="#00A087" fill-opacity="0.8"/>
<circle cx="107.77" cy="98.78" r="2.0" fill="#00A087" fill-opacity="0.8"/>
<circle cx="99.64" cy="98.16" r="2.0" fill="#00A087" fill-opacity="0.8"/>
<circle cx="108.94" cy="126.01" r="2.0" fill="#00A087" fill-opacity="0.8"/>
<circle cx="109.12" cy="105.23" r="2.0" fill="#00A087" fill-opacity="0.8"/>
<circle cx="101.26" cy="113.1" r="2.0" fill="#00A087" fill-opacity="0.8"/>
<circle cx="110.07" cy="88.65" r="2.0" fill="#00A087" fill-opacity="0.8"/>
<circle cx="109.56" cy="103.92" r="2.0" fill="#00A087" fill-opacity="0.8"/>
<circle cx="116.4" cy="108.46" r="2.0" fill="#00A087" fill-opacity="0.8"/>
<circle cx="108.19" cy="107.92" r="2.0" fill="#00A087" fill-opacity="0.8"/>
<circle cx="106.66" cy="113.61" r="2.0" fill="#00A087" fill-opacity="0.8"/>
<circle cx="104.27" cy="103.57" r="2.0" fill="#00A087" fill-opacity="0.8"/>
<circle cx="118.27" cy="98.87" r="2.0" fill="#00A087" fill-opacity="0.8"/>
<circle cx="118.75" cy="88.13" r="2.0" fill="#00A087" fill-opacity="0.8"/>
<circle cx="111.97" cy="68.98" r="2.0" fill="#00A087" fill-opacity="0.8"/>
<circle cx="104.05" cy="98.69" r="2.0" fill="#00A087" fill-opacity="0.8"/>
<circle cx="117.46" cy="114.44" r="2.0" fill="#00A087" fill-opacity="0.8"/>
<circle cx="108.88" cy="95.58" r="2.0" fill="#00A087" fill-opacity="0.8"/>
<circle cx="108.17" cy="124.42" r="2.0" fill="#00A087" fill-opacity="0.8"/>
<circle cx="101.62" cy="101.2" r="2.0" fill="#00A087" fill-opacity="0.8"/>
<circle cx="119.16" cy="102.96" r="2.0" fill="#00A087" fill-opacity="0.8"/>
<circle cx="116.89" cy="118.35" r="2.0" fill="#00A087" fill-opacity="0.8"/>
<circle cx="115.35" cy="98.3" r="2.0" fill="#00A087" fill-opacity="0.8"/>
<circle cx="111.11" cy="115.96" r="2.0" fill="#00A087" fill-opacity="0.8"/>
<circle cx="113.32" cy="97.22" r="2.0" fill="#00A087" fill-opacity="0.8"/>
<circle cx="108.96" cy="132.26" r="2.0" fill="#00A087" fill-opacity="0.8"/>
<circle cx="121.65" cy="112.03" r="2.0" fill="#00A087" fill-opacity="0.8"/>
<circle cx="108.23" cy="94.11" r="2.0" fill="#00A087" fill-opacity="0.8"/>
<circle cx="113.09" cy="43.31" r="2.0" fill="#00A087" fill-opacity="0.8"/>
<circle cx="114.89" cy="78.48" r="2.0" fill="#00A087" fill-opacity="0.8"/>
<circle cx="116.77" cy="88" r="2.0" fill="#00A087" fill-opacity="0.8"/>
<circle cx="110.83" cy="98.89" r="2.0" fill="#00A087" fill-opacity="0.8"/>
<circle cx="108.4" cy="88.14" r="2.0" fill="#00A087" fill-opacity="0.8"/>
<circle cx="112.84" cy="93.91" r="2.0" fill="#00A087" fill-opacity="0.8"/>
<circle cx="104.54" cy="115.32" r="2.0" fill="#00A087" fill-opacity="0.8"/>
<circle cx="115.04" cy="135.57" r="2.0" fill="#00A087" fill-opacity="0.8"/>
<circle cx="107.97" cy="105.57" r="2.0" fill="#00A087" fill-opacity="0.8"/>
<circle cx="117.58" cy="119.44" r="2.0" fill="#00A087" fill-opacity="0.8"/>
<circle cx="106.21" cy="93.08" r="2.0" fill="#00A087" fill-opacity="0.8"/>
<circle cx="108.36" cy="104.38" r="2.0" fill="#00A087" fill-opacity="0.8"/>
<circle cx="106.41" cy="111.83" r="2.0" fill="#00A087" fill-opacity="0.8"/>
<circle cx="110.52" cy="86.43" r="2.0" fill="#00A087" fill-opacity="0.8"/>
<circle cx="105.7" cy="116.57" r="2.0" fill="#00A087" fill-opacity="0.8"/>
<circle cx="105.61" cy="126.45" r="2.0" fill="#00A087" fill-opacity="0.8"/>
<circle cx="113.92" cy="137.39" r="2.0" fill="#00A087" fill-opacity="0.8"/>
<circle cx="106.54" cy="94.68" r="2.0" fill="#00A087" fill-opacity="0.8"/>
<circle cx="105.15" cy="104.68" r="2.0" fill="#00A087" fill-opacity="0.8"/>
<circle cx="106.35" cy="101.28" r="2.0" fill="#00A087" fill-opacity="0.8"/>
<circle cx="111.4" cy="120.4" r="2.0" fill="#00A087" fill-opacity="0.8"/>
<circle cx="110.17" cy="112.65" r="2.0" fill="#00A087" fill-opacity="0.8"/>
<path d="M111.7,62.6V94.6M111.7,119.4V148" stroke="#222" stroke-width="1.2"/>
<rect x="99" y="94.6" width="25.4" height="24.8" fill="#00A087" fill-opacity="0.7" stroke="#1a1a1a" stroke-width="1.25"/>
<path d="M99,106.1H124.4" stroke="#1a1a1a" stroke-width="1.25"/>
</g>
<rect x="24.5" y="16.5" width="107.7" height="183.6" fill="none" stroke="#333333" stroke-width="1.3"/>
<path d="M22,30.5H24.5" stroke="#3A3A3A" stroke-width="0.8"/>
<text x="21" y="32.66" font-size="6.4" fill="#3A3A3A" text-anchor="end">4</text>
<path d="M22,71.7H24.5" stroke="#3A3A3A" stroke-width="0.8"/>
<text x="21" y="73.86" font-size="6.4" fill="#3A3A3A" text-anchor="end">2</text>
<path d="M22,112.9H24.5" stroke="#3A3A3A" stroke-width="0.8"/>
<text x="21" y="115.06" font-size="6.4" fill="#3A3A3A" text-anchor="end">0</text>
<path d="M22,154.1H24.5" stroke="#3A3A3A" stroke-width="0.8"/>
<text x="21" y="156.26" font-size="6.4" fill="#3A3A3A" text-anchor="end">&#8722;2</text>
<path d="M22,195.3H24.5" stroke="#3A3A3A" stroke-width="0.8"/>
<text x="21" y="197.46" font-size="6.4" fill="#3A3A3A" text-anchor="end">&#8722;4</text>
<path d="M44.5,200.1V202.6" stroke="#3A3A3A" stroke-width="0.8"/>
<path d="M78.3,200.1V202.6" stroke="#3A3A3A" stroke-width="0.8"/>
<path d="M111.7,200.1V202.6" stroke="#3A3A3A" stroke-width="0.8"/>
<text x="48.8" y="209.5" font-size="7.2" fill="#2a2a2a" text-anchor="end" transform="rotate(-45 48.8 209.5)">6</text>
<text x="82.6" y="209.5" font-size="7.2" fill="#2a2a2a" text-anchor="end" transform="rotate(-45 82.6 209.5)">7</text>
<text x="116" y="209.5" font-size="7.2" fill="#2a2a2a" text-anchor="end" transform="rotate(-45 116 209.5)">8&#8722;10</text>
<text x="82.5" y="12.3" font-size="8.32" fill="#8C2530" text-anchor="middle" font-weight="bold">TCGA_PRAD</text>
<text x="32.3" y="29" font-size="7.6" fill="#111" text-anchor="start">Kruskal&#8722;Wallis, p = 9.8e&#8722;10</text>
<text x="63.2" y="222.5" font-size="8" fill="#8C2530" text-anchor="middle" font-weight="bold">Gleason</text>
<text x="11" y="108.6" font-size="8" fill="#8C2530" text-anchor="middle" font-weight="bold" transform="rotate(-90 11 108.6)">CHMP4C Expression (z&#8722;score)</text>
<clipPath id="a2"><rect x="166.3" y="16.2" width="107.9" height="181.4"/></clipPath>
<rect x="166.3" y="16.2" width="107.9" height="181.4" fill="#E9EDEE"/>
<g clip-path="url(#a2)">
<path d="M166.3,46H274.2" stroke="#C5CACD" stroke-width="1.15" stroke-dasharray="5 5"/>
<path d="M166.3,84.3H274.2" stroke="#C5CACD" stroke-width="1.15" stroke-dasharray="5 5"/>
<path d="M166.3,122.6H274.2" stroke="#C5CACD" stroke-width="1.15" stroke-dasharray="5 5"/>
<path d="M166.3,160.9H274.2" stroke="#C5CACD" stroke-width="1.15" stroke-dasharray="5 5"/>
<path d="M186.5,197.6V16.2" stroke="#C5CACD" stroke-width="1.15" stroke-dasharray="5 5"/>
<path d="M219.8,197.6V16.2" stroke="#C5CACD" stroke-width="1.15" stroke-dasharray="5 5"/>
<path d="M253.7,197.6V16.2" stroke="#C5CACD" stroke-width="1.15" stroke-dasharray="5 5"/>
<path d="M186.25,189 L186.25,186.35 L186.25,183.7 L186.22,181.05 L186.13,178.4 L185.98,175.75 L185.77,173.1 L185.54,170.45 L185.32,167.8 L185.15,165.15 L184.99,162.5 L184.83,159.85 L184.61,157.2 L184.26,154.55 L183.72,151.9 L182.97,149.25 L182,146.6 L180.84,143.95 L179.56,141.3 L178.24,138.65 L176.93,136 L175.65,133.35 L174.38,130.7 L173.12,128.05 L171.91,125.4 L170.87,122.75 L170.17,120.1 L170,117.45 L170.51,114.8 L171.74,112.15 L173.55,109.5 L175.73,106.85 L177.98,104.2 L180.05,101.55 L181.75,98.9 L183,96.25 L183.81,93.6 L184.31,90.95 L184.62,88.3 L184.89,85.65 L185.18,83 L187.82,83 L188.11,85.65 L188.38,88.3 L188.69,90.95 L189.19,93.6 L190,96.25 L191.25,98.9 L192.95,101.55 L195.02,104.2 L197.27,106.85 L199.45,109.5 L201.26,112.15 L202.49,114.8 L203,117.45 L202.83,120.1 L202.13,122.75 L201.09,125.4 L199.88,128.05 L198.62,130.7 L197.35,133.35 L196.07,136 L194.76,138.65 L193.44,141.3 L192.16,143.95 L191,146.6 L190.03,149.25 L189.28,151.9 L188.74,154.55 L188.39,157.2 L188.17,159.85 L188.01,162.5 L187.85,165.15 L187.68,167.8 L187.46,170.45 L187.23,173.1 L187.02,175.75 L186.87,178.4 L186.78,181.05 L186.75,183.7 L186.75,186.35 L186.75,189Z" fill="#E64B35" fill-opacity="0.45"/>
<circle cx="183.51" cy="83" r="2.0" fill="#E64B35" fill-opacity="0.8"/>
<circle cx="183.31" cy="189" r="2.0" fill="#E64B35" fill-opacity="0.8"/>
<circle cx="179.73" cy="136.27" r="2.0" fill="#E64B35" fill-opacity="0.8"/>
<circle cx="176.62" cy="109.46" r="2.0" fill="#E64B35" fill-opacity="0.8"/>
<circle cx="187.43" cy="135.27" r="2.0" fill="#E64B35" fill-opacity="0.8"/>
<circle cx="196.9" cy="117.82" r="2.0" fill="#E64B35" fill-opacity="0.8"/>
<circle cx="186.08" cy="87.67" r="2.0" fill="#E64B35" fill-opacity="0.8"/>
<circle cx="195.72" cy="131.19" r="2.0" fill="#E64B35" fill-opacity="0.8"/>
<circle cx="197.88" cy="119.43" r="2.0" fill="#E64B35" fill-opacity="0.8"/>
<circle cx="174.4" cy="119.43" r="2.0" fill="#E64B35" fill-opacity="0.8"/>
<circle cx="187.48" cy="97.91" r="2.0" fill="#E64B35" fill-opacity="0.8"/>
<circle cx="185.38" cy="101.56" r="2.0" fill="#E64B35" fill-opacity="0.8"/>
<circle cx="181.17" cy="138.87" r="2.0" fill="#E64B35" fill-opacity="0.8"/>
<circle cx="191.09" cy="167.69" r="2.0" fill="#E64B35" fill-opacity="0.8"/>
<circle cx="181.15" cy="109.82" r="2.0" fill="#E64B35" fill-opacity="0.8"/>
<circle cx="188.12" cy="111.51" r="2.0" fill="#E64B35" fill-opacity="0.8"/>
<circle cx="188.16" cy="140.45" r="2.0" fill="#E64B35" fill-opacity="0.8"/>
<circle cx="199.17" cy="120.96" r="2.0" fill="#E64B35" fill-opacity="0.8"/>
<circle cx="190.71" cy="124.18" r="2.0" fill="#E64B35" fill-opacity="0.8"/>
<circle cx="185.43" cy="146.83" r="2.0" fill="#E64B35" fill-opacity="0.8"/>
<circle cx="185.22" cy="126.39" r="2.0" fill="#E64B35" fill-opacity="0.8"/>
<circle cx="178.76" cy="127.76" r="2.0" fill="#E64B35" fill-opacity="0.8"/>
<circle cx="198.88" cy="121.69" r="2.0" fill="#E64B35" fill-opacity="0.8"/>
<circle cx="192.3" cy="141.72" r="2.0" fill="#E64B35" fill-opacity="0.8"/>
<circle cx="178.77" cy="121.01" r="2.0" fill="#E64B35" fill-opacity="0.8"/>
<circle cx="173.69" cy="120.79" r="2.0" fill="#E64B35" fill-opacity="0.8"/>
<circle cx="179.65" cy="116.83" r="2.0" fill="#E64B35" fill-opacity="0.8"/>
<circle cx="182.83" cy="126.55" r="2.0" fill="#E64B35" fill-opacity="0.8"/>
<circle cx="197.8" cy="116.55" r="2.0" fill="#E64B35" fill-opacity="0.8"/>
<circle cx="197.85" cy="117.73" r="2.0" fill="#E64B35" fill-opacity="0.8"/>
<circle cx="195.46" cy="123.54" r="2.0" fill="#E64B35" fill-opacity="0.8"/>
<circle cx="173.79" cy="116.3" r="2.0" fill="#E64B35" fill-opacity="0.8"/>
<circle cx="189.36" cy="168.21" r="2.0" fill="#E64B35" fill-opacity="0.8"/>
<circle cx="188.6" cy="87.41" r="2.0" fill="#E64B35" fill-opacity="0.8"/>
<circle cx="190.57" cy="118.97" r="2.0" fill="#E64B35" fill-opacity="0.8"/>
<circle cx="200.12" cy="118.06" r="2.0" fill="#E64B35" fill-opacity="0.8"/>
<circle cx="175.49" cy="124.56" r="2.0" fill="#E64B35" fill-opacity="0.8"/>
<circle cx="182.95" cy="147.47" r="2.0" fill="#E64B35" fill-opacity="0.8"/>
<circle cx="192.11" cy="110.12" r="2.0" fill="#E64B35" fill-opacity="0.8"/>
<circle cx="194.61" cy="132.66" r="2.0" fill="#E64B35" fill-opacity="0.8"/>
<circle cx="188.59" cy="140.88" r="2.0" fill="#E64B35" fill-opacity="0.8"/>
<circle cx="182.35" cy="129.6" r="2.0" fill="#E64B35" fill-opacity="0.8"/>
<circle cx="188.77" cy="125.48" r="2.0" fill="#E64B35" fill-opacity="0.8"/>
<circle cx="193.51" cy="113.6" r="2.0" fill="#E64B35" fill-opacity="0.8"/>
<circle cx="182.55" cy="167.77" r="2.0" fill="#E64B35" fill-opacity="0.8"/>
<circle cx="182.08" cy="112.95" r="2.0" fill="#E64B35" fill-opacity="0.8"/>
<circle cx="180.04" cy="123.75" r="2.0" fill="#E64B35" fill-opacity="0.8"/>
<circle cx="177.95" cy="128.74" r="2.0" fill="#E64B35" fill-opacity="0.8"/>
<circle cx="186.03" cy="113.19" r="2.0" fill="#E64B35" fill-opacity="0.8"/>
<circle cx="181.7" cy="104.26" r="2.0" fill="#E64B35" fill-opacity="0.8"/>
<circle cx="180.74" cy="110.08" r="2.0" fill="#E64B35" fill-opacity="0.8"/>
<circle cx="178.64" cy="110.69" r="2.0" fill="#E64B35" fill-opacity="0.8"/>
<circle cx="191.48" cy="118.28" r="2.0" fill="#E64B35" fill-opacity="0.8"/>
<circle cx="179.44" cy="105.09" r="2.0" fill="#E64B35" fill-opacity="0.8"/>
<circle cx="191.95" cy="113.04" r="2.0" fill="#E64B35" fill-opacity="0.8"/>
<circle cx="183.45" cy="143.84" r="2.0" fill="#E64B35" fill-opacity="0.8"/>
<circle cx="173.49" cy="118.32" r="2.0" fill="#E64B35" fill-opacity="0.8"/>
<circle cx="198.12" cy="115.88" r="2.0" fill="#E64B35" fill-opacity="0.8"/>
<circle cx="178.66" cy="116.35" r="2.0" fill="#E64B35" fill-opacity="0.8"/>
<circle cx="195.44" cy="131.22" r="2.0" fill="#E64B35" fill-opacity="0.8"/>
<circle cx="192.47" cy="136.72" r="2.0" fill="#E64B35" fill-opacity="0.8"/>
<circle cx="191.96" cy="138.12" r="2.0" fill="#E64B35" fill-opacity="0.8"/>
<circle cx="176.4" cy="117.16" r="2.0" fill="#E64B35" fill-opacity="0.8"/>
<circle cx="185.3" cy="126.78" r="2.0" fill="#E64B35" fill-opacity="0.8"/>
<circle cx="176.39" cy="113.11" r="2.0" fill="#E64B35" fill-opacity="0.8"/>
<circle cx="195.34" cy="130.9" r="2.0" fill="#E64B35" fill-opacity="0.8"/>
<circle cx="189.92" cy="158.9" r="2.0" fill="#E64B35" fill-opacity="0.8"/>
<circle cx="189.15" cy="129.38" r="2.0" fill="#E64B35" fill-opacity="0.8"/>
<circle cx="185.45" cy="108.6" r="2.0" fill="#E64B35" fill-opacity="0.8"/>
<circle cx="182.97" cy="108.46" r="2.0" fill="#E64B35" fill-opacity="0.8"/>
<circle cx="191.03" cy="139.03" r="2.0" fill="#E64B35" fill-opacity="0.8"/>
<circle cx="185.89" cy="115.15" r="2.0" fill="#E64B35" fill-opacity="0.8"/>
<circle cx="187.78" cy="163" r="2.0" fill="#E64B35" fill-opacity="0.8"/>
<circle cx="179.96" cy="108.16" r="2.0" fill="#E64B35" fill-opacity="0.8"/>
<circle cx="180.37" cy="108.48" r="2.0" fill="#E64B35" fill-opacity="0.8"/>
<circle cx="174.19" cy="119.45" r="2.0" fill="#E64B35" fill-opacity="0.8"/>
<circle cx="191.36" cy="128.58" r="2.0" fill="#E64B35" fill-opacity="0.8"/>
<circle cx="187.48" cy="132.6" r="2.0" fill="#E64B35" fill-opacity="0.8"/>
<circle cx="176.53" cy="118.52" r="2.0" fill="#E64B35" fill-opacity="0.8"/>
<circle cx="190.56" cy="100.76" r="2.0" fill="#E64B35" fill-opacity="0.8"/>
<circle cx="180.01" cy="121.26" r="2.0" fill="#E64B35" fill-opacity="0.8"/>
<circle cx="184.88" cy="107.11" r="2.0" fill="#E64B35" fill-opacity="0.8"/>
<circle cx="177.96" cy="124.31" r="2.0" fill="#E64B35" fill-opacity="0.8"/>
<circle cx="182.28" cy="133.52" r="2.0" fill="#E64B35" fill-opacity="0.8"/>
<circle cx="192.77" cy="134.26" r="2.0" fill="#E64B35" fill-opacity="0.8"/>
<circle cx="182" cy="115.35" r="2.0" fill="#E64B35" fill-opacity="0.8"/>
<circle cx="177.67" cy="123.7" r="2.0" fill="#E64B35" fill-opacity="0.8"/>
<circle cx="186.26" cy="115.48" r="2.0" fill="#E64B35" fill-opacity="0.8"/>
<circle cx="182.36" cy="128.94" r="2.0" fill="#E64B35" fill-opacity="0.8"/>
<circle cx="196.5" cy="124.12" r="2.0" fill="#E64B35" fill-opacity="0.8"/>
<circle cx="181.95" cy="140.07" r="2.0" fill="#E64B35" fill-opacity="0.8"/>
<circle cx="191.29" cy="85.93" r="2.0" fill="#E64B35" fill-opacity="0.8"/>
<circle cx="175.38" cy="112.17" r="2.0" fill="#E64B35" fill-opacity="0.8"/>
<circle cx="193.79" cy="132.13" r="2.0" fill="#E64B35" fill-opacity="0.8"/>
<circle cx="188.34" cy="101" r="2.0" fill="#E64B35" fill-opacity="0.8"/>
<circle cx="181.17" cy="133.72" r="2.0" fill="#E64B35" fill-opacity="0.8"/>
<circle cx="185.9" cy="121.48" r="2.0" fill="#E64B35" fill-opacity="0.8"/>
<circle cx="181.2" cy="124.18" r="2.0" fill="#E64B35" fill-opacity="0.8"/>
<circle cx="182.56" cy="135.1" r="2.0" fill="#E64B35" fill-opacity="0.8"/>
<circle cx="179.71" cy="126.98" r="2.0" fill="#E64B35" fill-opacity="0.8"/>
<circle cx="182.69" cy="117.92" r="2.0" fill="#E64B35" fill-opacity="0.8"/>
<circle cx="191.41" cy="144.26" r="2.0" fill="#E64B35" fill-opacity="0.8"/>
<circle cx="191.48" cy="89.69" r="2.0" fill="#E64B35" fill-opacity="0.8"/>
<circle cx="198.3" cy="119.85" r="2.0" fill="#E64B35" fill-opacity="0.8"/>
<circle cx="182.48" cy="86.96" r="2.0" fill="#E64B35" fill-opacity="0.8"/>
<circle cx="181.21" cy="111.86" r="2.0" fill="#E64B35" fill-opacity="0.8"/>
<circle cx="193.76" cy="107.9" r="2.0" fill="#E64B35" fill-opacity="0.8"/>
<circle cx="178.4" cy="107.26" r="2.0" fill="#E64B35" fill-opacity="0.8"/>
<circle cx="192.79" cy="118.8" r="2.0" fill="#E64B35" fill-opacity="0.8"/>
<circle cx="184.44" cy="153.77" r="2.0" fill="#E64B35" fill-opacity="0.8"/>
<circle cx="197.04" cy="109.24" r="2.0" fill="#E64B35" fill-opacity="0.8"/>
<circle cx="173.06" cy="118.78" r="2.0" fill="#E64B35" fill-opacity="0.8"/>
<circle cx="194.84" cy="113.86" r="2.0" fill="#E64B35" fill-opacity="0.8"/>
<circle cx="183.91" cy="134.81" r="2.0" fill="#E64B35" fill-opacity="0.8"/>
<circle cx="182.26" cy="141.75" r="2.0" fill="#E64B35" fill-opacity="0.8"/>
<circle cx="175.53" cy="110.02" r="2.0" fill="#E64B35" fill-opacity="0.8"/>
<circle cx="194.84" cy="113.23" r="2.0" fill="#E64B35" fill-opacity="0.8"/>
<circle cx="187.17" cy="112.34" r="2.0" fill="#E64B35" fill-opacity="0.8"/>
<circle cx="183.36" cy="146.23" r="2.0" fill="#E64B35" fill-opacity="0.8"/>
<circle cx="185.31" cy="133.71" r="2.0" fill="#E64B35" fill-opacity="0.8"/>
<circle cx="198.06" cy="116.24" r="2.0" fill="#E64B35" fill-opacity="0.8"/>
<circle cx="180.69" cy="130.05" r="2.0" fill="#E64B35" fill-opacity="0.8"/>
<circle cx="188.29" cy="112.78" r="2.0" fill="#E64B35" fill-opacity="0.8"/>
<circle cx="176.35" cy="117.08" r="2.0" fill="#E64B35" fill-opacity="0.8"/>
<circle cx="179.46" cy="108.66" r="2.0" fill="#E64B35" fill-opacity="0.8"/>
<circle cx="189.69" cy="141.81" r="2.0" fill="#E64B35" fill-opacity="0.8"/>
<circle cx="189.47" cy="137.73" r="2.0" fill="#E64B35" fill-opacity="0.8"/>
<circle cx="178.44" cy="122.74" r="2.0" fill="#E64B35" fill-opacity="0.8"/>
<circle cx="175.32" cy="123.4" r="2.0" fill="#E64B35" fill-opacity="0.8"/>
<circle cx="182.37" cy="98.67" r="2.0" fill="#E64B35" fill-opacity="0.8"/>
<circle cx="189.45" cy="113.56" r="2.0" fill="#E64B35" fill-opacity="0.8"/>
<circle cx="186.45" cy="153.52" r="2.0" fill="#E64B35" fill-opacity="0.8"/>
<circle cx="184.24" cy="156.45" r="2.0" fill="#E64B35" fill-opacity="0.8"/>
<circle cx="183.56" cy="144.21" r="2.0" fill="#E64B35" fill-opacity="0.8"/>
<circle cx="189.62" cy="119.17" r="2.0" fill="#E64B35" fill-opacity="0.8"/>
<circle cx="191.71" cy="112.76" r="2.0" fill="#E64B35" fill-opacity="0.8"/>
<circle cx="189.91" cy="102.26" r="2.0" fill="#E64B35" fill-opacity="0.8"/>
<circle cx="188.56" cy="125.53" r="2.0" fill="#E64B35" fill-opacity="0.8"/>
<circle cx="178.23" cy="119.4" r="2.0" fill="#E64B35" fill-opacity="0.8"/>
<circle cx="174.7" cy="115.12" r="2.0" fill="#E64B35" fill-opacity="0.8"/>
<circle cx="190.76" cy="106.4" r="2.0" fill="#E64B35" fill-opacity="0.8"/>
<circle cx="185.01" cy="134.69" r="2.0" fill="#E64B35" fill-opacity="0.8"/>
<circle cx="191.54" cy="127.67" r="2.0" fill="#E64B35" fill-opacity="0.8"/>
<circle cx="176.71" cy="109.7" r="2.0" fill="#E64B35" fill-opacity="0.8"/>
<circle cx="191" cy="104.11" r="2.0" fill="#E64B35" fill-opacity="0.8"/>
<circle cx="183.46" cy="133.91" r="2.0" fill="#E64B35" fill-opacity="0.8"/>
<circle cx="194.98" cy="124.65" r="2.0" fill="#E64B35" fill-opacity="0.8"/>
<circle cx="193.23" cy="132.69" r="2.0" fill="#E64B35" fill-opacity="0.8"/>
<circle cx="186.32" cy="112.12" r="2.0" fill="#E64B35" fill-opacity="0.8"/>
<circle cx="173.62" cy="122.14" r="2.0" fill="#E64B35" fill-opacity="0.8"/>
<path d="M186.5,84V112.5M186.5,133.3V160" stroke="#222" stroke-width="1.2"/>
<rect x="173.4" y="112.5" width="26.2" height="20.8" fill="#E64B35" fill-opacity="0.7" stroke="#1a1a1a" stroke-width="1.25"/>
<path d="M173.4,121.9H199.6" stroke="#1a1a1a" stroke-width="1.25"/>
<path d="M218.63,159 L218.18,155.85 L217.42,152.7 L216.09,149.55 L214.02,146.4 L211.31,143.25 L208.4,140.1 L205.88,136.95 L204.17,133.8 L203.38,130.65 L203.3,127.5 L203.58,124.35 L203.96,121.2 L204.35,118.05 L204.89,114.9 L205.82,111.75 L207.28,108.6 L209.22,105.45 L211.42,102.3 L213.56,99.15 L215.35,96 L216.65,92.85 L217.48,89.7 L217.99,86.55 L218.35,83.4 L218.68,80.25 L219.02,77.1 L219.32,73.95 L219.54,70.8 L219.68,67.65 L219.76,64.5 L219.78,61.35 L219.79,58.2 L219.79,55.05 L219.78,51.9 L219.74,48.75 L219.67,45.6 L219.56,42.45 L219.44,39.3 L219.33,36.15 L219.29,33 L220.31,33 L220.27,36.15 L220.16,39.3 L220.04,42.45 L219.93,45.6 L219.86,48.75 L219.82,51.9 L219.81,55.05 L219.81,58.2 L219.82,61.35 L219.84,64.5 L219.92,67.65 L220.06,70.8 L220.28,73.95 L220.58,77.1 L220.92,80.25 L221.25,83.4 L221.61,86.55 L222.12,89.7 L222.95,92.85 L224.25,96 L226.04,99.15 L228.18,102.3 L230.38,105.45 L232.32,108.6 L233.78,111.75 L234.71,114.9 L235.25,118.05 L235.64,121.2 L236.02,124.35 L236.3,127.5 L236.22,130.65 L235.43,133.8 L233.72,136.95 L231.2,140.1 L228.29,143.25 L225.58,146.4 L223.51,149.55 L222.18,152.7 L221.42,155.85 L220.97,159Z" fill="#4DBBD5" fill-opacity="0.45"/>
<circle cx="220.37" cy="33" r="2.0" fill="#4DBBD5" fill-opacity="0.8"/>
<circle cx="219.71" cy="159" r="2.0" fill="#4DBBD5" fill-opacity="0.8"/>
<circle cx="213.79" cy="130.74" r="2.0" fill="#4DBBD5" fill-opacity="0.8"/>
<circle cx="233.47" cy="126.51" r="2.0" fill="#4DBBD5" fill-opacity="0.8"/>
<circle cx="214.96" cy="136.3" r="2.0" fill="#4DBBD5" fill-opacity="0.8"/>
<circle cx="224.69" cy="105.41" r="2.0" fill="#4DBBD5" fill-opacity="0.8"/>
<circle cx="213.19" cy="139.5" r="2.0" fill="#4DBBD5" fill-opacity="0.8"/>
<circle cx="208.82" cy="115.14" r="2.0" fill="#4DBBD5" fill-opacity="0.8"/>
<circle cx="227.7" cy="110.13" r="2.0" fill="#4DBBD5" fill-opacity="0.8"/>
<circle cx="218.93" cy="142.96" r="2.0" fill="#4DBBD5" fill-opacity="0.8"/>
<circle cx="215.16" cy="97.76" r="2.0" fill="#4DBBD5" fill-opacity="0.8"/>
<circle cx="217.15" cy="136.88" r="2.0" fill="#4DBBD5" fill-opacity="0.8"/>
<circle cx="219.2" cy="83.8" r="2.0" fill="#4DBBD5" fill-opacity="0.8"/>
<circle cx="226.4" cy="127.13" r="2.0" fill="#4DBBD5" fill-opacity="0.8"/>
<circle cx="209.03" cy="125.07" r="2.0" fill="#4DBBD5" fill-opacity="0.8"/>
<circle cx="212.22" cy="123.47" r="2.0" fill="#4DBBD5" fill-opacity="0.8"/>
<circle cx="231.87" cy="118.73" r="2.0" fill="#4DBBD5" fill-opacity="0.8"/>
<circle cx="225.85" cy="114.77" r="2.0" fill="#4DBBD5" fill-opacity="0.8"/>
<circle cx="211.62" cy="137.94" r="2.0" fill="#4DBBD5" fill-opacity="0.8"/>
<circle cx="215.31" cy="125.2" r="2.0" fill="#4DBBD5" fill-opacity="0.8"/>
<circle cx="215.68" cy="131.64" r="2.0" fill="#4DBBD5" fill-opacity="0.8"/>
<circle cx="224.41" cy="119.13" r="2.0" fill="#4DBBD5" fill-opacity="0.8"/>
<circle cx="223.01" cy="124.11" r="2.0" fill="#4DBBD5" fill-opacity="0.8"/>
<circle cx="228.08" cy="135.74" r="2.0" fill="#4DBBD5" fill-opacity="0.8"/>
<circle cx="227.4" cy="137.43" r="2.0" fill="#4DBBD5" fill-opacity="0.8"/>
<circle cx="220.14" cy="140.16" r="2.0" fill="#4DBBD5" fill-opacity="0.8"/>
<circle cx="226.23" cy="121.19" r="2.0" fill="#4DBBD5" fill-opacity="0.8"/>
<circle cx="226.62" cy="128.94" r="2.0" fill="#4DBBD5" fill-opacity="0.8"/>
<circle cx="225.33" cy="108.46" r="2.0" fill="#4DBBD5" fill-opacity="0.8"/>
<circle cx="219.15" cy="116.83" r="2.0" fill="#4DBBD5" fill-opacity="0.8"/>
<circle cx="226.57" cy="112.75" r="2.0" fill="#4DBBD5" fill-opacity="0.8"/>
<circle cx="222.77" cy="103.54" r="2.0" fill="#4DBBD5" fill-opacity="0.8"/>
<circle cx="223.95" cy="154.25" r="2.0" fill="#4DBBD5" fill-opacity="0.8"/>
<circle cx="210.94" cy="110.87" r="2.0" fill="#4DBBD5" fill-opacity="0.8"/>
<circle cx="228.58" cy="137.92" r="2.0" fill="#4DBBD5" fill-opacity="0.8"/>
<circle cx="206.78" cy="116.78" r="2.0" fill="#4DBBD5" fill-opacity="0.8"/>
<circle cx="226.09" cy="135.82" r="2.0" fill="#4DBBD5" fill-opacity="0.8"/>
<circle cx="221.34" cy="106.52" r="2.0" fill="#4DBBD5" fill-opacity="0.8"/>
<circle cx="219.75" cy="108.96" r="2.0" fill="#4DBBD5" fill-opacity="0.8"/>
<circle cx="226.39" cy="103.07" r="2.0" fill="#4DBBD5" fill-opacity="0.8"/>
<circle cx="220.52" cy="83.6" r="2.0" fill="#4DBBD5" fill-opacity="0.8"/>
<circle cx="217.51" cy="131.42" r="2.0" fill="#4DBBD5" fill-opacity="0.8"/>
<circle cx="227.72" cy="131.87" r="2.0" fill="#4DBBD5" fill-opacity="0.8"/>
<circle cx="229.71" cy="132.87" r="2.0" fill="#4DBBD5" fill-opacity="0.8"/>
<circle cx="221.88" cy="138.69" r="2.0" fill="#4DBBD5" fill-opacity="0.8"/>
<circle cx="216.75" cy="113.74" r="2.0" fill="#4DBBD5" fill-opacity="0.8"/>
<circle cx="219.32" cy="93.02" r="2.0" fill="#4DBBD5" fill-opacity="0.8"/>
<circle cx="218.62" cy="132.1" r="2.0" fill="#4DBBD5" fill-opacity="0.8"/>
<circle cx="225.1" cy="110.4" r="2.0" fill="#4DBBD5" fill-opacity="0.8"/>
<circle cx="214.55" cy="115.25" r="2.0" fill="#4DBBD5" fill-opacity="0.8"/>
<circle cx="216.75" cy="129.95" r="2.0" fill="#4DBBD5" fill-opacity="0.8"/>
<circle cx="221.35" cy="129.69" r="2.0" fill="#4DBBD5" fill-opacity="0.8"/>
<circle cx="216.62" cy="124.7" r="2.0" fill="#4DBBD5" fill-opacity="0.8"/>
<circle cx="216.35" cy="138.95" r="2.0" fill="#4DBBD5" fill-opacity="0.8"/>
<circle cx="227.81" cy="130.08" r="2.0" fill="#4DBBD5" fill-opacity="0.8"/>
<circle cx="227.24" cy="108.62" r="2.0" fill="#4DBBD5" fill-opacity="0.8"/>
<circle cx="219.79" cy="125.86" r="2.0" fill="#4DBBD5" fill-opacity="0.8"/>
<circle cx="218.31" cy="134.88" r="2.0" fill="#4DBBD5" fill-opacity="0.8"/>
<circle cx="214.12" cy="104.89" r="2.0" fill="#4DBBD5" fill-opacity="0.8"/>
<circle cx="214.4" cy="123.99" r="2.0" fill="#4DBBD5" fill-opacity="0.8"/>
<circle cx="214.75" cy="103.02" r="2.0" fill="#4DBBD5" fill-opacity="0.8"/>
<circle cx="221.71" cy="115.56" r="2.0" fill="#4DBBD5" fill-opacity="0.8"/>
<circle cx="221.87" cy="115.65" r="2.0" fill="#4DBBD5" fill-opacity="0.8"/>
<circle cx="208.44" cy="124.75" r="2.0" fill="#4DBBD5" fill-opacity="0.8"/>
<circle cx="228.74" cy="109.63" r="2.0" fill="#4DBBD5" fill-opacity="0.8"/>
<circle cx="216.05" cy="109.5" r="2.0" fill="#4DBBD5" fill-opacity="0.8"/>
<circle cx="228.5" cy="116.36" r="2.0" fill="#4DBBD5" fill-opacity="0.8"/>
<circle cx="226.35" cy="139.88" r="2.0" fill="#4DBBD5" fill-opacity="0.8"/>
<circle cx="232.45" cy="123.33" r="2.0" fill="#4DBBD5" fill-opacity="0.8"/>
<circle cx="211.94" cy="135.17" r="2.0" fill="#4DBBD5" fill-opacity="0.8"/>
<circle cx="217.85" cy="133.29" r="2.0" fill="#4DBBD5" fill-opacity="0.8"/>
<circle cx="230.58" cy="118.37" r="2.0" fill="#4DBBD5" fill-opacity="0.8"/>
<circle cx="212.83" cy="101.89" r="2.0" fill="#4DBBD5" fill-opacity="0.8"/>
<circle cx="211.03" cy="138.56" r="2.0" fill="#4DBBD5" fill-opacity="0.8"/>
<circle cx="221.45" cy="113.86" r="2.0" fill="#4DBBD5" fill-opacity="0.8"/>
<path d="M219.8,78V110.5M219.8,132.4V158" stroke="#222" stroke-width="1.2"/>
<rect x="206.9" y="110.5" width="25.8" height="21.9" fill="#4DBBD5" fill-opacity="0.7" stroke="#1a1a1a" stroke-width="1.25"/>
<path d="M206.9,122H232.7" stroke="#1a1a1a" stroke-width="1.25"/>
<path d="M247.47,147 L246.3,144.95 L245.15,142.9 L244.08,140.85 L243.14,138.8 L242.33,136.75 L241.67,134.7 L241.14,132.65 L240.69,130.6 L240.27,128.55 L239.85,126.5 L239.38,124.45 L238.86,122.4 L238.32,120.35 L237.81,118.3 L237.41,116.25 L237.2,114.2 L237.23,112.15 L237.54,110.1 L238.11,108.05 L238.91,106 L239.89,103.95 L240.98,101.9 L242.13,99.85 L243.31,97.8 L244.49,95.75 L245.65,93.7 L246.79,91.65 L247.89,89.6 L248.93,87.55 L249.87,85.5 L250.68,83.45 L251.36,81.4 L251.89,79.35 L252.27,77.3 L252.52,75.25 L252.66,73.2 L252.73,71.15 L252.76,69.1 L252.78,67.05 L252.8,65 L254.6,65 L254.62,67.05 L254.64,69.1 L254.67,71.15 L254.74,73.2 L254.88,75.25 L255.13,77.3 L255.51,79.35 L256.04,81.4 L256.72,83.45 L257.53,85.5 L258.47,87.55 L259.51,89.6 L260.61,91.65 L261.75,93.7 L262.91,95.75 L264.09,97.8 L265.27,99.85 L266.42,101.9 L267.51,103.95 L268.49,106 L269.29,108.05 L269.86,110.1 L270.17,112.15 L270.2,114.2 L269.99,116.25 L269.59,118.3 L269.08,120.35 L268.54,122.4 L268.02,124.45 L267.55,126.5 L267.13,128.55 L266.71,130.6 L266.26,132.65 L265.73,134.7 L265.07,136.75 L264.26,138.8 L263.32,140.85 L262.25,142.9 L261.1,144.95 L259.93,147Z" fill="#00A087" fill-opacity="0.45"/>
<circle cx="257.74" cy="65" r="2.0" fill="#00A087" fill-opacity="0.8"/>
<circle cx="254.57" cy="147" r="2.0" fill="#00A087" fill-opacity="0.8"/>
<circle cx="249.62" cy="117.87" r="2.0" fill="#00A087" fill-opacity="0.8"/>
<circle cx="252.63" cy="133.58" r="2.0" fill="#00A087" fill-opacity="0.8"/>
<circle cx="251.83" cy="140.66" r="2.0" fill="#00A087" fill-opacity="0.8"/>
<circle cx="241.23" cy="112.78" r="2.0" fill="#00A087" fill-opacity="0.8"/>
<circle cx="262.04" cy="132.1" r="2.0" fill="#00A087" fill-opacity="0.8"/>
<circle cx="256.01" cy="111.21" r="2.0" fill="#00A087" fill-opacity="0.8"/>
<circle cx="259.1" cy="92.51" r="2.0" fill="#00A087" fill-opacity="0.8"/>
<circle cx="252.63" cy="97.58" r="2.0" fill="#00A087" fill-opacity="0.8"/>
<circle cx="257.06" cy="112.28" r="2.0" fill="#00A087" fill-opacity="0.8"/>
<circle cx="246.81" cy="109.99" r="2.0" fill="#00A087" fill-opacity="0.8"/>
<circle cx="243.29" cy="128.13" r="2.0" fill="#00A087" fill-opacity="0.8"/>
<circle cx="261.31" cy="97.42" r="2.0" fill="#00A087" fill-opacity="0.8"/>
<circle cx="259.5" cy="141.22" r="2.0" fill="#00A087" fill-opacity="0.8"/>
<circle cx="250.67" cy="140.2" r="2.0" fill="#00A087" fill-opacity="0.8"/>
<circle cx="264.66" cy="109.52" r="2.0" fill="#00A087" fill-opacity="0.8"/>
<circle cx="260.69" cy="130.34" r="2.0" fill="#00A087" fill-opacity="0.8"/>
<circle cx="248.19" cy="114.11" r="2.0" fill="#00A087" fill-opacity="0.8"/>
<circle cx="256.52" cy="110.27" r="2.0" fill="#00A087" fill-opacity="0.8"/>
<circle cx="259.99" cy="92.73" r="2.0" fill="#00A087" fill-opacity="0.8"/>
<circle cx="253.58" cy="115.05" r="2.0" fill="#00A087" fill-opacity="0.8"/>
<circle cx="266.06" cy="110.66" r="2.0" fill="#00A087" fill-opacity="0.8"/>
<circle cx="249.97" cy="141.92" r="2.0" fill="#00A087" fill-opacity="0.8"/>
<circle cx="251.45" cy="135.19" r="2.0" fill="#00A087" fill-opacity="0.8"/>
<circle cx="259.7" cy="110.82" r="2.0" fill="#00A087" fill-opacity="0.8"/>
<circle cx="247.54" cy="130.91" r="2.0" fill="#00A087" fill-opacity="0.8"/>
<circle cx="249.62" cy="132.87" r="2.0" fill="#00A087" fill-opacity="0.8"/>
<circle cx="264.21" cy="112.58" r="2.0" fill="#00A087" fill-opacity="0.8"/>
<circle cx="253.33" cy="127" r="2.0" fill="#00A087" fill-opacity="0.8"/>
<circle cx="261.61" cy="118.67" r="2.0" fill="#00A087" fill-opacity="0.8"/>
<circle cx="248.65" cy="99.9" r="2.0" fill="#00A087" fill-opacity="0.8"/>
<circle cx="249.23" cy="92.95" r="2.0" fill="#00A087" fill-opacity="0.8"/>
<circle cx="250.14" cy="105.06" r="2.0" fill="#00A087" fill-opacity="0.8"/>
<circle cx="245.09" cy="109.95" r="2.0" fill="#00A087" fill-opacity="0.8"/>
<circle cx="262.17" cy="138.59" r="2.0" fill="#00A087" fill-opacity="0.8"/>
<circle cx="250" cy="97.93" r="2.0" fill="#00A087" fill-opacity="0.8"/>
<circle cx="255.2" cy="123.71" r="2.0" fill="#00A087" fill-opacity="0.8"/>
<circle cx="243.98" cy="121.94" r="2.0" fill="#00A087" fill-opacity="0.8"/>
<circle cx="254.65" cy="114.84" r="2.0" fill="#00A087" fill-opacity="0.8"/>
<path d="M253.7,66V103.7M253.7,131.1V146" stroke="#222" stroke-width="1.2"/>
<rect x="240.6" y="103.7" width="26.2" height="27.4" fill="#00A087" fill-opacity="0.7" stroke="#1a1a1a" stroke-width="1.25"/>
<path d="M240.6,113.6H266.8" stroke="#1a1a1a" stroke-width="1.25"/>
</g>
<rect x="166.3" y="16.2" width="107.9" height="181.4" fill="none" stroke="#333333" stroke-width="1.3"/>
<path d="M163.8,46H166.3" stroke="#3A3A3A" stroke-width="0.8"/>
<text x="162.8" y="48.16" font-size="6.4" fill="#3A3A3A" text-anchor="end">4</text>
<path d="M163.8,84.3H166.3" stroke="#3A3A3A" stroke-width="0.8"/>
<text x="162.8" y="86.46" font-size="6.4" fill="#3A3A3A" text-anchor="end">2</text>
<path d="M163.8,122.6H166.3" stroke="#3A3A3A" stroke-width="0.8"/>
<text x="162.8" y="124.76" font-size="6.4" fill="#3A3A3A" text-anchor="end">0</text>
<path d="M163.8,160.9H166.3" stroke="#3A3A3A" stroke-width="0.8"/>
<text x="162.8" y="163.06" font-size="6.4" fill="#3A3A3A" text-anchor="end">&#8722;2</text>
<path d="M186.5,197.6V200.1" stroke="#3A3A3A" stroke-width="0.8"/>
<path d="M219.8,197.6V200.1" stroke="#3A3A3A" stroke-width="0.8"/>
<path d="M253.7,197.6V200.1" stroke="#3A3A3A" stroke-width="0.8"/>
<text x="190.8" y="207" font-size="7.2" fill="#2a2a2a" text-anchor="end" transform="rotate(-45 190.8 207)">6</text>
<text x="224.1" y="207" font-size="7.2" fill="#2a2a2a" text-anchor="end" transform="rotate(-45 224.1 207)">7</text>
<text x="258" y="207" font-size="7.2" fill="#2a2a2a" text-anchor="end" transform="rotate(-45 258 207)">8&#8722;10</text>
<text x="219.8" y="12.2" font-size="8.32" fill="#8C2530" text-anchor="middle" font-weight="bold">GSE21034</text>
<text x="169.4" y="29.3" font-size="7.6" fill="#111" text-anchor="start">Kruskal&#8722;Wallis, p = 0.089</text>
<text x="208.8" y="216.5" font-size="8" fill="#8C2530" text-anchor="middle" font-weight="bold">Gleason</text>
<text x="154.6" y="108.6" font-size="8" fill="#8C2530" text-anchor="middle" font-weight="bold" transform="rotate(-90 154.6 108.6)">CHMP4C Expression (z&#8722;score)</text>
<clipPath id="a3"><rect x="307.7" y="16.2" width="111.2" height="182.8"/></clipPath>
<rect x="307.7" y="16.2" width="111.2" height="182.8" fill="#E9EDEE"/>
<g clip-path="url(#a3)">
<path d="M307.7,30.1H418.9" stroke="#C5CACD" stroke-width="1.15" stroke-dasharray="5 5"/>
<path d="M307.7,71.3H418.9" stroke="#C5CACD" stroke-width="1.15" stroke-dasharray="5 5"/>
<path d="M307.7,112.5H418.9" stroke="#C5CACD" stroke-width="1.15" stroke-dasharray="5 5"/>
<path d="M307.7,153.7H418.9" stroke="#C5CACD" stroke-width="1.15" stroke-dasharray="5 5"/>
<path d="M307.7,194.9H418.9" stroke="#C5CACD" stroke-width="1.15" stroke-dasharray="5 5"/>
<path d="M328.7,199V16.2" stroke="#C5CACD" stroke-width="1.15" stroke-dasharray="5 5"/>
<path d="M363.7,199V16.2" stroke="#C5CACD" stroke-width="1.15" stroke-dasharray="5 5"/>
<path d="M398.7,199V16.2" stroke="#C5CACD" stroke-width="1.15" stroke-dasharray="5 5"/>
<path d="M328.12,185 L327.92,181.93 L327.71,178.85 L327.51,175.78 L327.33,172.7 L327.17,169.62 L327.04,166.55 L326.91,163.47 L326.75,160.4 L326.54,157.32 L326.21,154.25 L325.66,151.18 L324.8,148.1 L323.55,145.03 L321.91,141.95 L320,138.88 L318,135.8 L316.16,132.72 L314.63,129.65 L313.49,126.58 L312.74,123.5 L312.32,120.42 L312.2,117.35 L312.38,114.28 L312.92,111.2 L313.9,108.12 L315.34,105.05 L317.21,101.97 L319.33,98.9 L321.45,95.83 L323.35,92.75 L324.88,89.67 L326,86.6 L326.79,83.53 L327.32,80.45 L327.65,77.38 L327.85,74.3 L327.96,71.22 L328.02,68.15 L328.09,65.08 L328.18,62 L329.22,62 L329.31,65.08 L329.38,68.15 L329.44,71.22 L329.55,74.3 L329.75,77.38 L330.08,80.45 L330.61,83.53 L331.4,86.6 L332.52,89.67 L334.05,92.75 L335.95,95.83 L338.07,98.9 L340.19,101.97 L342.06,105.05 L343.5,108.12 L344.48,111.2 L345.02,114.28 L345.2,117.35 L345.08,120.42 L344.66,123.5 L343.91,126.58 L342.77,129.65 L341.24,132.72 L339.4,135.8 L337.4,138.88 L335.49,141.95 L333.85,145.03 L332.6,148.1 L331.74,151.18 L331.19,154.25 L330.86,157.32 L330.65,160.4 L330.49,163.47 L330.36,166.55 L330.23,169.62 L330.07,172.7 L329.89,175.78 L329.69,178.85 L329.48,181.93 L329.28,185Z" fill="#E64B35" fill-opacity="0.45"/>
<circle cx="332.95" cy="62" r="2.0" fill="#E64B35" fill-opacity="0.8"/>
<circle cx="330.45" cy="185" r="2.0" fill="#E64B35" fill-opacity="0.8"/>
<circle cx="322.04" cy="122.76" r="2.0" fill="#E64B35" fill-opacity="0.8"/>
<circle cx="320.19" cy="113.36" r="2.0" fill="#E64B35" fill-opacity="0.8"/>
<circle cx="327.22" cy="119.39" r="2.0" fill="#E64B35" fill-opacity="0.8"/>
<circle cx="336.38" cy="105.73" r="2.0" fill="#E64B35" fill-opacity="0.8"/>
<circle cx="330.91" cy="123.18" r="2.0" fill="#E64B35" fill-opacity="0.8"/>
<circle cx="317.86" cy="118.74" r="2.0" fill="#E64B35" fill-opacity="0.8"/>
<circle cx="315.7" cy="124.64" r="2.0" fill="#E64B35" fill-opacity="0.8"/>
<circle cx="320.39" cy="132.3" r="2.0" fill="#E64B35" fill-opacity="0.8"/>
<circle cx="334.57" cy="102.56" r="2.0" fill="#E64B35" fill-opacity="0.8"/>
<circle cx="325.55" cy="146.48" r="2.0" fill="#E64B35" fill-opacity="0.8"/>
<circle cx="330.21" cy="119.65" r="2.0" fill="#E64B35" fill-opacity="0.8"/>
<circle cx="326.6" cy="153.62" r="2.0" fill="#E64B35" fill-opacity="0.8"/>
<circle cx="331.68" cy="99.65" r="2.0" fill="#E64B35" fill-opacity="0.8"/>
<circle cx="325.47" cy="123.39" r="2.0" fill="#E64B35" fill-opacity="0.8"/>
<circle cx="321.75" cy="100.61" r="2.0" fill="#E64B35" fill-opacity="0.8"/>
<circle cx="334.68" cy="99.38" r="2.0" fill="#E64B35" fill-opacity="0.8"/>
<circle cx="329.08" cy="148.12" r="2.0" fill="#E64B35" fill-opacity="0.8"/>
<circle cx="333.6" cy="126.13" r="2.0" fill="#E64B35" fill-opacity="0.8"/>
<circle cx="336.07" cy="128.68" r="2.0" fill="#E64B35" fill-opacity="0.8"/>
<circle cx="333.19" cy="90.9" r="2.0" fill="#E64B35" fill-opacity="0.8"/>
<circle cx="317.66" cy="104" r="2.0" fill="#E64B35" fill-opacity="0.8"/>
<circle cx="324.33" cy="114.41" r="2.0" fill="#E64B35" fill-opacity="0.8"/>
<circle cx="319.02" cy="114.19" r="2.0" fill="#E64B35" fill-opacity="0.8"/>
<circle cx="328.73" cy="135.37" r="2.0" fill="#E64B35" fill-opacity="0.8"/>
<circle cx="338.09" cy="108.46" r="2.0" fill="#E64B35" fill-opacity="0.8"/>
<circle cx="336.26" cy="106.87" r="2.0" fill="#E64B35" fill-opacity="0.8"/>
<circle cx="315.76" cy="121.26" r="2.0" fill="#E64B35" fill-opacity="0.8"/>
<circle cx="320.08" cy="122.32" r="2.0" fill="#E64B35" fill-opacity="0.8"/>
<circle cx="337.34" cy="124.36" r="2.0" fill="#E64B35" fill-opacity="0.8"/>
<circle cx="332.78" cy="104.68" r="2.0" fill="#E64B35" fill-opacity="0.8"/>
<circle cx="325.82" cy="111.25" r="2.0" fill="#E64B35" fill-opacity="0.8"/>
<circle cx="328.02" cy="119.69" r="2.0" fill="#E64B35" fill-opacity="0.8"/>
<circle cx="321.41" cy="131.88" r="2.0" fill="#E64B35" fill-opacity="0.8"/>
<circle cx="337.39" cy="106.8" r="2.0" fill="#E64B35" fill-opacity="0.8"/>
<circle cx="325.71" cy="117.19" r="2.0" fill="#E64B35" fill-opacity="0.8"/>
<circle cx="338.7" cy="111.06" r="2.0" fill="#E64B35" fill-opacity="0.8"/>
<circle cx="331.77" cy="112.82" r="2.0" fill="#E64B35" fill-opacity="0.8"/>
<circle cx="319.66" cy="132.68" r="2.0" fill="#E64B35" fill-opacity="0.8"/>
<circle cx="326.73" cy="141.72" r="2.0" fill="#E64B35" fill-opacity="0.8"/>
<circle cx="321" cy="122.72" r="2.0" fill="#E64B35" fill-opacity="0.8"/>
<circle cx="338.12" cy="130" r="2.0" fill="#E64B35" fill-opacity="0.8"/>
<circle cx="329.8" cy="95.81" r="2.0" fill="#E64B35" fill-opacity="0.8"/>
<circle cx="320.4" cy="136.04" r="2.0" fill="#E64B35" fill-opacity="0.8"/>
<circle cx="321.66" cy="132.88" r="2.0" fill="#E64B35" fill-opacity="0.8"/>
<circle cx="324.97" cy="112.36" r="2.0" fill="#E64B35" fill-opacity="0.8"/>
<circle cx="327.97" cy="104.47" r="2.0" fill="#E64B35" fill-opacity="0.8"/>
<circle cx="330.69" cy="126.74" r="2.0" fill="#E64B35" fill-opacity="0.8"/>
<circle cx="327.32" cy="96.79" r="2.0" fill="#E64B35" fill-opacity="0.8"/>
<circle cx="324.64" cy="114.11" r="2.0" fill="#E64B35" fill-opacity="0.8"/>
<circle cx="315.93" cy="126.88" r="2.0" fill="#E64B35" fill-opacity="0.8"/>
<circle cx="330.85" cy="123.62" r="2.0" fill="#E64B35" fill-opacity="0.8"/>
<circle cx="325.16" cy="132.89" r="2.0" fill="#E64B35" fill-opacity="0.8"/>
<circle cx="316.63" cy="107.38" r="2.0" fill="#E64B35" fill-opacity="0.8"/>
<circle cx="328.29" cy="88.36" r="2.0" fill="#E64B35" fill-opacity="0.8"/>
<circle cx="337.54" cy="135.74" r="2.0" fill="#E64B35" fill-opacity="0.8"/>
<circle cx="317.26" cy="108.64" r="2.0" fill="#E64B35" fill-opacity="0.8"/>
<circle cx="318.88" cy="113.78" r="2.0" fill="#E64B35" fill-opacity="0.8"/>
<circle cx="330.67" cy="142.18" r="2.0" fill="#E64B35" fill-opacity="0.8"/>
<circle cx="323.85" cy="134.08" r="2.0" fill="#E64B35" fill-opacity="0.8"/>
<circle cx="322.39" cy="120.94" r="2.0" fill="#E64B35" fill-opacity="0.8"/>
<circle cx="328.7" cy="105.68" r="2.0" fill="#E64B35" fill-opacity="0.8"/>
<circle cx="326.32" cy="86.11" r="2.0" fill="#E64B35" fill-opacity="0.8"/>
<circle cx="329.55" cy="97.2" r="2.0" fill="#E64B35" fill-opacity="0.8"/>
<circle cx="329.12" cy="139.22" r="2.0" fill="#E64B35" fill-opacity="0.8"/>
<circle cx="340.96" cy="112.22" r="2.0" fill="#E64B35" fill-opacity="0.8"/>
<circle cx="333.62" cy="146.1" r="2.0" fill="#E64B35" fill-opacity="0.8"/>
<circle cx="316.06" cy="122.96" r="2.0" fill="#E64B35" fill-opacity="0.8"/>
<circle cx="329.8" cy="135.86" r="2.0" fill="#E64B35" fill-opacity="0.8"/>
<circle cx="331.41" cy="81.47" r="2.0" fill="#E64B35" fill-opacity="0.8"/>
<circle cx="334.63" cy="98.35" r="2.0" fill="#E64B35" fill-opacity="0.8"/>
<circle cx="334.93" cy="106.43" r="2.0" fill="#E64B35" fill-opacity="0.8"/>
<circle cx="330.03" cy="165.53" r="2.0" fill="#E64B35" fill-opacity="0.8"/>
<circle cx="332.43" cy="114.97" r="2.0" fill="#E64B35" fill-opacity="0.8"/>
<circle cx="325.42" cy="131.14" r="2.0" fill="#E64B35" fill-opacity="0.8"/>
<circle cx="323.48" cy="128.94" r="2.0" fill="#E64B35" fill-opacity="0.8"/>
<circle cx="335.41" cy="104.5" r="2.0" fill="#E64B35" fill-opacity="0.8"/>
<circle cx="335.98" cy="101.21" r="2.0" fill="#E64B35" fill-opacity="0.8"/>
<circle cx="340.04" cy="127.6" r="2.0" fill="#E64B35" fill-opacity="0.8"/>
<circle cx="331.59" cy="98.83" r="2.0" fill="#E64B35" fill-opacity="0.8"/>
<circle cx="326.74" cy="159.23" r="2.0" fill="#E64B35" fill-opacity="0.8"/>
<circle cx="334.68" cy="104.64" r="2.0" fill="#E64B35" fill-opacity="0.8"/>
<circle cx="335.12" cy="110.26" r="2.0" fill="#E64B35" fill-opacity="0.8"/>
<circle cx="328.94" cy="123.51" r="2.0" fill="#E64B35" fill-opacity="0.8"/>
<circle cx="332.45" cy="114.83" r="2.0" fill="#E64B35" fill-opacity="0.8"/>
<circle cx="325.12" cy="130.53" r="2.0" fill="#E64B35" fill-opacity="0.8"/>
<circle cx="330.11" cy="113.18" r="2.0" fill="#E64B35" fill-opacity="0.8"/>
<circle cx="326.15" cy="123.52" r="2.0" fill="#E64B35" fill-opacity="0.8"/>
<circle cx="318.72" cy="105.6" r="2.0" fill="#E64B35" fill-opacity="0.8"/>
<circle cx="324.17" cy="120.89" r="2.0" fill="#E64B35" fill-opacity="0.8"/>
<circle cx="325.25" cy="102.81" r="2.0" fill="#E64B35" fill-opacity="0.8"/>
<circle cx="342.4" cy="118.88" r="2.0" fill="#E64B35" fill-opacity="0.8"/>
<circle cx="328.18" cy="118.62" r="2.0" fill="#E64B35" fill-opacity="0.8"/>
<circle cx="325.36" cy="106.76" r="2.0" fill="#E64B35" fill-opacity="0.8"/>
<circle cx="324.03" cy="134.49" r="2.0" fill="#E64B35" fill-opacity="0.8"/>
<circle cx="321.34" cy="113.65" r="2.0" fill="#E64B35" fill-opacity="0.8"/>
<circle cx="327.19" cy="70.36" r="2.0" fill="#E64B35" fill-opacity="0.8"/>
<circle cx="320.93" cy="134.18" r="2.0" fill="#E64B35" fill-opacity="0.8"/>
<circle cx="319.07" cy="100.74" r="2.0" fill="#E64B35" fill-opacity="0.8"/>
<circle cx="336.61" cy="133.12" r="2.0" fill="#E64B35" fill-opacity="0.8"/>
<circle cx="327.4" cy="113.27" r="2.0" fill="#E64B35" fill-opacity="0.8"/>
<circle cx="327.33" cy="109.55" r="2.0" fill="#E64B35" fill-opacity="0.8"/>
<circle cx="329.8" cy="99.16" r="2.0" fill="#E64B35" fill-opacity="0.8"/>
<circle cx="326.72" cy="150" r="2.0" fill="#E64B35" fill-opacity="0.8"/>
<circle cx="325.39" cy="159.44" r="2.0" fill="#E64B35" fill-opacity="0.8"/>
<circle cx="317.49" cy="127.02" r="2.0" fill="#E64B35" fill-opacity="0.8"/>
<circle cx="323.19" cy="114.14" r="2.0" fill="#E64B35" fill-opacity="0.8"/>
<circle cx="324.35" cy="105.32" r="2.0" fill="#E64B35" fill-opacity="0.8"/>
<circle cx="334.99" cy="113.71" r="2.0" fill="#E64B35" fill-opacity="0.8"/>
<circle cx="329.29" cy="140.68" r="2.0" fill="#E64B35" fill-opacity="0.8"/>
<circle cx="333.07" cy="173.69" r="2.0" fill="#E64B35" fill-opacity="0.8"/>
<circle cx="324.42" cy="110.37" r="2.0" fill="#E64B35" fill-opacity="0.8"/>
<circle cx="340.13" cy="123.81" r="2.0" fill="#E64B35" fill-opacity="0.8"/>
<circle cx="329.53" cy="152.12" r="2.0" fill="#E64B35" fill-opacity="0.8"/>
<circle cx="317.3" cy="124.08" r="2.0" fill="#E64B35" fill-opacity="0.8"/>
<circle cx="321.85" cy="134.09" r="2.0" fill="#E64B35" fill-opacity="0.8"/>
<circle cx="330.78" cy="127.54" r="2.0" fill="#E64B35" fill-opacity="0.8"/>
<circle cx="341.93" cy="122.29" r="2.0" fill="#E64B35" fill-opacity="0.8"/>
<circle cx="324.86" cy="112.22" r="2.0" fill="#E64B35" fill-opacity="0.8"/>
<circle cx="336.06" cy="109.69" r="2.0" fill="#E64B35" fill-opacity="0.8"/>
<circle cx="327.98" cy="83.82" r="2.0" fill="#E64B35" fill-opacity="0.8"/>
<circle cx="338.69" cy="124.09" r="2.0" fill="#E64B35" fill-opacity="0.8"/>
<circle cx="316.97" cy="124.25" r="2.0" fill="#E64B35" fill-opacity="0.8"/>
<circle cx="328.45" cy="97.78" r="2.0" fill="#E64B35" fill-opacity="0.8"/>
<circle cx="338.25" cy="130.77" r="2.0" fill="#E64B35" fill-opacity="0.8"/>
<circle cx="322.69" cy="110.09" r="2.0" fill="#E64B35" fill-opacity="0.8"/>
<circle cx="321.9" cy="117.99" r="2.0" fill="#E64B35" fill-opacity="0.8"/>
<circle cx="316.7" cy="107.77" r="2.0" fill="#E64B35" fill-opacity="0.8"/>
<circle cx="325.35" cy="94.27" r="2.0" fill="#E64B35" fill-opacity="0.8"/>
<circle cx="323.43" cy="104.81" r="2.0" fill="#E64B35" fill-opacity="0.8"/>
<circle cx="334.39" cy="119.59" r="2.0" fill="#E64B35" fill-opacity="0.8"/>
<circle cx="321.96" cy="128.71" r="2.0" fill="#E64B35" fill-opacity="0.8"/>
<circle cx="326.87" cy="136.24" r="2.0" fill="#E64B35" fill-opacity="0.8"/>
<circle cx="325.24" cy="143.06" r="2.0" fill="#E64B35" fill-opacity="0.8"/>
<circle cx="330.71" cy="103.22" r="2.0" fill="#E64B35" fill-opacity="0.8"/>
<circle cx="337.86" cy="108.15" r="2.0" fill="#E64B35" fill-opacity="0.8"/>
<circle cx="330.89" cy="139.83" r="2.0" fill="#E64B35" fill-opacity="0.8"/>
<circle cx="320.57" cy="109.73" r="2.0" fill="#E64B35" fill-opacity="0.8"/>
<circle cx="334.01" cy="105.12" r="2.0" fill="#E64B35" fill-opacity="0.8"/>
<circle cx="341.12" cy="109.72" r="2.0" fill="#E64B35" fill-opacity="0.8"/>
<circle cx="329.71" cy="66.52" r="2.0" fill="#E64B35" fill-opacity="0.8"/>
<circle cx="324.49" cy="158.62" r="2.0" fill="#E64B35" fill-opacity="0.8"/>
<circle cx="331.79" cy="168.14" r="2.0" fill="#E64B35" fill-opacity="0.8"/>
<circle cx="333.03" cy="140.65" r="2.0" fill="#E64B35" fill-opacity="0.8"/>
<circle cx="324.29" cy="112.84" r="2.0" fill="#E64B35" fill-opacity="0.8"/>
<circle cx="325.07" cy="159.68" r="2.0" fill="#E64B35" fill-opacity="0.8"/>
<circle cx="323.03" cy="137.14" r="2.0" fill="#E64B35" fill-opacity="0.8"/>
<circle cx="329.7" cy="124.97" r="2.0" fill="#E64B35" fill-opacity="0.8"/>
<circle cx="339.11" cy="113.76" r="2.0" fill="#E64B35" fill-opacity="0.8"/>
<circle cx="332.6" cy="119.45" r="2.0" fill="#E64B35" fill-opacity="0.8"/>
<circle cx="340.56" cy="118.65" r="2.0" fill="#E64B35" fill-opacity="0.8"/>
<circle cx="321.26" cy="126.39" r="2.0" fill="#E64B35" fill-opacity="0.8"/>
<circle cx="323.88" cy="119.97" r="2.0" fill="#E64B35" fill-opacity="0.8"/>
<circle cx="334.02" cy="132.25" r="2.0" fill="#E64B35" fill-opacity="0.8"/>
<circle cx="332.85" cy="120.83" r="2.0" fill="#E64B35" fill-opacity="0.8"/>
<circle cx="326.85" cy="103.23" r="2.0" fill="#E64B35" fill-opacity="0.8"/>
<circle cx="330.49" cy="88.17" r="2.0" fill="#E64B35" fill-opacity="0.8"/>
<circle cx="324.62" cy="109.06" r="2.0" fill="#E64B35" fill-opacity="0.8"/>
<circle cx="317.26" cy="127.71" r="2.0" fill="#E64B35" fill-opacity="0.8"/>
<circle cx="326.3" cy="116.62" r="2.0" fill="#E64B35" fill-opacity="0.8"/>
<circle cx="316.95" cy="128.08" r="2.0" fill="#E64B35" fill-opacity="0.8"/>
<circle cx="331.39" cy="132.93" r="2.0" fill="#E64B35" fill-opacity="0.8"/>
<circle cx="326.06" cy="99.21" r="2.0" fill="#E64B35" fill-opacity="0.8"/>
<circle cx="328.6" cy="134.34" r="2.0" fill="#E64B35" fill-opacity="0.8"/>
<circle cx="330.61" cy="102.12" r="2.0" fill="#E64B35" fill-opacity="0.8"/>
<circle cx="323.95" cy="102.19" r="2.0" fill="#E64B35" fill-opacity="0.8"/>
<circle cx="327.78" cy="109.4" r="2.0" fill="#E64B35" fill-opacity="0.8"/>
<circle cx="318.33" cy="132.87" r="2.0" fill="#E64B35" fill-opacity="0.8"/>
<circle cx="340.54" cy="119.6" r="2.0" fill="#E64B35" fill-opacity="0.8"/>
<circle cx="330.49" cy="121.02" r="2.0" fill="#E64B35" fill-opacity="0.8"/>
<circle cx="341.3" cy="125.27" r="2.0" fill="#E64B35" fill-opacity="0.8"/>
<circle cx="324.26" cy="178.3" r="2.0" fill="#E64B35" fill-opacity="0.8"/>
<circle cx="331.43" cy="129.34" r="2.0" fill="#E64B35" fill-opacity="0.8"/>
<circle cx="332.78" cy="135.3" r="2.0" fill="#E64B35" fill-opacity="0.8"/>
<circle cx="323.91" cy="118.76" r="2.0" fill="#E64B35" fill-opacity="0.8"/>
<circle cx="318.98" cy="128.66" r="2.0" fill="#E64B35" fill-opacity="0.8"/>
<circle cx="319.16" cy="114.54" r="2.0" fill="#E64B35" fill-opacity="0.8"/>
<circle cx="318.75" cy="119.56" r="2.0" fill="#E64B35" fill-opacity="0.8"/>
<circle cx="331.37" cy="173.43" r="2.0" fill="#E64B35" fill-opacity="0.8"/>
<circle cx="320.69" cy="102.78" r="2.0" fill="#E64B35" fill-opacity="0.8"/>
<circle cx="331.84" cy="170.75" r="2.0" fill="#E64B35" fill-opacity="0.8"/>
<circle cx="326.55" cy="116.91" r="2.0" fill="#E64B35" fill-opacity="0.8"/>
<circle cx="329.74" cy="110.51" r="2.0" fill="#E64B35" fill-opacity="0.8"/>
<circle cx="330.59" cy="132.52" r="2.0" fill="#E64B35" fill-opacity="0.8"/>
<circle cx="329.87" cy="134.14" r="2.0" fill="#E64B35" fill-opacity="0.8"/>
<circle cx="331.77" cy="101.79" r="2.0" fill="#E64B35" fill-opacity="0.8"/>
<circle cx="330.55" cy="135.91" r="2.0" fill="#E64B35" fill-opacity="0.8"/>
<circle cx="325.09" cy="133.51" r="2.0" fill="#E64B35" fill-opacity="0.8"/>
<circle cx="335.39" cy="114.03" r="2.0" fill="#E64B35" fill-opacity="0.8"/>
<path d="M328.7,75V106.4M328.7,129.5V163" stroke="#222" stroke-width="1.2"/>
<rect x="315.6" y="106.4" width="26.2" height="23.1" fill="#E64B35" fill-opacity="0.7" stroke="#1a1a1a" stroke-width="1.25"/>
<path d="M315.6,116.4H341.8" stroke="#1a1a1a" stroke-width="1.25"/>
<path d="M363.57,191 L363.58,187.4 L363.6,183.8 L363.61,180.2 L363.6,176.6 L363.56,173 L363.5,169.4 L363.43,165.8 L363.33,162.2 L363.18,158.6 L362.95,155 L362.6,151.4 L362.11,147.8 L361.45,144.2 L360.55,140.6 L359.31,137 L357.68,133.4 L355.68,129.8 L353.48,126.2 L351.35,122.6 L349.56,119 L348.31,115.4 L347.7,111.8 L347.77,108.2 L348.46,104.6 L349.67,101 L351.26,97.4 L353.08,93.8 L354.99,90.2 L356.8,86.6 L358.36,83 L359.61,79.4 L360.6,75.8 L361.39,72.2 L362.03,68.6 L362.54,65 L362.93,61.4 L363.2,57.8 L363.37,54.2 L363.47,50.6 L363.53,47 L363.87,47 L363.93,50.6 L364.03,54.2 L364.2,57.8 L364.47,61.4 L364.86,65 L365.37,68.6 L366.01,72.2 L366.8,75.8 L367.79,79.4 L369.04,83 L370.6,86.6 L372.41,90.2 L374.32,93.8 L376.14,97.4 L377.73,101 L378.94,104.6 L379.63,108.2 L379.7,111.8 L379.09,115.4 L377.84,119 L376.05,122.6 L373.92,126.2 L371.72,129.8 L369.72,133.4 L368.09,137 L366.85,140.6 L365.95,144.2 L365.29,147.8 L364.8,151.4 L364.45,155 L364.22,158.6 L364.07,162.2 L363.97,165.8 L363.9,169.4 L363.84,173 L363.8,176.6 L363.79,180.2 L363.8,183.8 L363.82,187.4 L363.83,191Z" fill="#4DBBD5" fill-opacity="0.45"/>
<circle cx="360.21" cy="47" r="2.0" fill="#4DBBD5" fill-opacity="0.8"/>
<circle cx="362.14" cy="191" r="2.0" fill="#4DBBD5" fill-opacity="0.8"/>
<circle cx="354.29" cy="115.9" r="2.0" fill="#4DBBD5" fill-opacity="0.8"/>
<circle cx="359.23" cy="91.06" r="2.0" fill="#4DBBD5" fill-opacity="0.8"/>
<circle cx="356.07" cy="112.29" r="2.0" fill="#4DBBD5" fill-opacity="0.8"/>
<circle cx="362.01" cy="68.71" r="2.0" fill="#4DBBD5" fill-opacity="0.8"/>
<circle cx="370.75" cy="89.66" r="2.0" fill="#4DBBD5" fill-opacity="0.8"/>
<circle cx="374.22" cy="98.48" r="2.0" fill="#4DBBD5" fill-opacity="0.8"/>
<circle cx="371.6" cy="107.43" r="2.0" fill="#4DBBD5" fill-opacity="0.8"/>
<circle cx="363.22" cy="100.87" r="2.0" fill="#4DBBD5" fill-opacity="0.8"/>
<circle cx="363.67" cy="80.85" r="2.0" fill="#4DBBD5" fill-opacity="0.8"/>
<circle cx="370.94" cy="104.61" r="2.0" fill="#4DBBD5" fill-opacity="0.8"/>
<circle cx="374.27" cy="104.13" r="2.0" fill="#4DBBD5" fill-opacity="0.8"/>
<circle cx="368.98" cy="120.85" r="2.0" fill="#4DBBD5" fill-opacity="0.8"/>
<circle cx="366.56" cy="121.83" r="2.0" fill="#4DBBD5" fill-opacity="0.8"/>
<circle cx="356.52" cy="101.44" r="2.0" fill="#4DBBD5" fill-opacity="0.8"/>
<circle cx="365.96" cy="93.1" r="2.0" fill="#4DBBD5" fill-opacity="0.8"/>
<circle cx="367.16" cy="80.16" r="2.0" fill="#4DBBD5" fill-opacity="0.8"/>
<circle cx="371.13" cy="103.27" r="2.0" fill="#4DBBD5" fill-opacity="0.8"/>
<circle cx="359.62" cy="158.67" r="2.0" fill="#4DBBD5" fill-opacity="0.8"/>
<circle cx="369.59" cy="108.34" r="2.0" fill="#4DBBD5" fill-opacity="0.8"/>
<circle cx="359.6" cy="110.05" r="2.0" fill="#4DBBD5" fill-opacity="0.8"/>
<circle cx="355.64" cy="101.98" r="2.0" fill="#4DBBD5" fill-opacity="0.8"/>
<circle cx="371.79" cy="125.37" r="2.0" fill="#4DBBD5" fill-opacity="0.8"/>
<circle cx="368.4" cy="112.31" r="2.0" fill="#4DBBD5" fill-opacity="0.8"/>
<circle cx="369.6" cy="118.1" r="2.0" fill="#4DBBD5" fill-opacity="0.8"/>
<circle cx="357.36" cy="125.17" r="2.0" fill="#4DBBD5" fill-opacity="0.8"/>
<circle cx="370.59" cy="122.73" r="2.0" fill="#4DBBD5" fill-opacity="0.8"/>
<circle cx="371.29" cy="126.03" r="2.0" fill="#4DBBD5" fill-opacity="0.8"/>
<circle cx="373.43" cy="117.5" r="2.0" fill="#4DBBD5" fill-opacity="0.8"/>
<circle cx="369.59" cy="120.21" r="2.0" fill="#4DBBD5" fill-opacity="0.8"/>
<circle cx="372.31" cy="103.63" r="2.0" fill="#4DBBD5" fill-opacity="0.8"/>
<circle cx="371.53" cy="103.29" r="2.0" fill="#4DBBD5" fill-opacity="0.8"/>
<circle cx="365.61" cy="96.9" r="2.0" fill="#4DBBD5" fill-opacity="0.8"/>
<circle cx="362.34" cy="121.82" r="2.0" fill="#4DBBD5" fill-opacity="0.8"/>
<circle cx="372.51" cy="109.38" r="2.0" fill="#4DBBD5" fill-opacity="0.8"/>
<circle cx="371.14" cy="114.88" r="2.0" fill="#4DBBD5" fill-opacity="0.8"/>
<circle cx="373.4" cy="116.94" r="2.0" fill="#4DBBD5" fill-opacity="0.8"/>
<circle cx="361.69" cy="80.95" r="2.0" fill="#4DBBD5" fill-opacity="0.8"/>
<circle cx="374.69" cy="100.87" r="2.0" fill="#4DBBD5" fill-opacity="0.8"/>
<circle cx="364.52" cy="104.93" r="2.0" fill="#4DBBD5" fill-opacity="0.8"/>
<circle cx="375.37" cy="115.13" r="2.0" fill="#4DBBD5" fill-opacity="0.8"/>
<circle cx="356.77" cy="94.51" r="2.0" fill="#4DBBD5" fill-opacity="0.8"/>
<circle cx="373.61" cy="96.82" r="2.0" fill="#4DBBD5" fill-opacity="0.8"/>
<circle cx="368.89" cy="95.23" r="2.0" fill="#4DBBD5" fill-opacity="0.8"/>
<circle cx="357.74" cy="119.64" r="2.0" fill="#4DBBD5" fill-opacity="0.8"/>
<circle cx="367.08" cy="80.6" r="2.0" fill="#4DBBD5" fill-opacity="0.8"/>
<circle cx="356.44" cy="108.98" r="2.0" fill="#4DBBD5" fill-opacity="0.8"/>
<circle cx="355.88" cy="106.24" r="2.0" fill="#4DBBD5" fill-opacity="0.8"/>
<circle cx="362.56" cy="109.28" r="2.0" fill="#4DBBD5" fill-opacity="0.8"/>
<circle cx="356.57" cy="109.2" r="2.0" fill="#4DBBD5" fill-opacity="0.8"/>
<circle cx="363.51" cy="116.46" r="2.0" fill="#4DBBD5" fill-opacity="0.8"/>
<circle cx="370.79" cy="124.4" r="2.0" fill="#4DBBD5" fill-opacity="0.8"/>
<circle cx="365.87" cy="85.52" r="2.0" fill="#4DBBD5" fill-opacity="0.8"/>
<circle cx="365.8" cy="135.95" r="2.0" fill="#4DBBD5" fill-opacity="0.8"/>
<circle cx="362.62" cy="84.73" r="2.0" fill="#4DBBD5" fill-opacity="0.8"/>
<circle cx="370.47" cy="101.58" r="2.0" fill="#4DBBD5" fill-opacity="0.8"/>
<circle cx="371.31" cy="106.01" r="2.0" fill="#4DBBD5" fill-opacity="0.8"/>
<circle cx="368.65" cy="106.47" r="2.0" fill="#4DBBD5" fill-opacity="0.8"/>
<circle cx="370.24" cy="91" r="2.0" fill="#4DBBD5" fill-opacity="0.8"/>
<circle cx="369.58" cy="94.04" r="2.0" fill="#4DBBD5" fill-opacity="0.8"/>
<circle cx="361.15" cy="110.28" r="2.0" fill="#4DBBD5" fill-opacity="0.8"/>
<circle cx="353.78" cy="118" r="2.0" fill="#4DBBD5" fill-opacity="0.8"/>
<circle cx="367.83" cy="107.79" r="2.0" fill="#4DBBD5" fill-opacity="0.8"/>
<circle cx="372.85" cy="112.44" r="2.0" fill="#4DBBD5" fill-opacity="0.8"/>
<circle cx="359.35" cy="108.47" r="2.0" fill="#4DBBD5" fill-opacity="0.8"/>
<circle cx="365.98" cy="117.67" r="2.0" fill="#4DBBD5" fill-opacity="0.8"/>
<circle cx="367.06" cy="148.01" r="2.0" fill="#4DBBD5" fill-opacity="0.8"/>
<circle cx="371.64" cy="107.63" r="2.0" fill="#4DBBD5" fill-opacity="0.8"/>
<circle cx="358.74" cy="74.81" r="2.0" fill="#4DBBD5" fill-opacity="0.8"/>
<circle cx="363.44" cy="117.31" r="2.0" fill="#4DBBD5" fill-opacity="0.8"/>
<circle cx="351.05" cy="115.91" r="2.0" fill="#4DBBD5" fill-opacity="0.8"/>
<circle cx="353.61" cy="104.02" r="2.0" fill="#4DBBD5" fill-opacity="0.8"/>
<circle cx="372.16" cy="106.43" r="2.0" fill="#4DBBD5" fill-opacity="0.8"/>
<circle cx="361.99" cy="124.2" r="2.0" fill="#4DBBD5" fill-opacity="0.8"/>
<circle cx="366.44" cy="114.33" r="2.0" fill="#4DBBD5" fill-opacity="0.8"/>
<circle cx="362.6" cy="102.91" r="2.0" fill="#4DBBD5" fill-opacity="0.8"/>
<circle cx="362.02" cy="134.25" r="2.0" fill="#4DBBD5" fill-opacity="0.8"/>
<circle cx="358.73" cy="124.81" r="2.0" fill="#4DBBD5" fill-opacity="0.8"/>
<circle cx="359.87" cy="115.67" r="2.0" fill="#4DBBD5" fill-opacity="0.8"/>
<circle cx="369.68" cy="125.95" r="2.0" fill="#4DBBD5" fill-opacity="0.8"/>
<circle cx="365.85" cy="92.31" r="2.0" fill="#4DBBD5" fill-opacity="0.8"/>
<circle cx="358.05" cy="111.45" r="2.0" fill="#4DBBD5" fill-opacity="0.8"/>
<circle cx="359.58" cy="71.49" r="2.0" fill="#4DBBD5" fill-opacity="0.8"/>
<circle cx="361.41" cy="61.97" r="2.0" fill="#4DBBD5" fill-opacity="0.8"/>
<circle cx="367.33" cy="92.93" r="2.0" fill="#4DBBD5" fill-opacity="0.8"/>
<circle cx="362.48" cy="121.66" r="2.0" fill="#4DBBD5" fill-opacity="0.8"/>
<circle cx="367.57" cy="119.52" r="2.0" fill="#4DBBD5" fill-opacity="0.8"/>
<circle cx="366.77" cy="84.68" r="2.0" fill="#4DBBD5" fill-opacity="0.8"/>
<circle cx="356.85" cy="93.58" r="2.0" fill="#4DBBD5" fill-opacity="0.8"/>
<circle cx="365.85" cy="87.19" r="2.0" fill="#4DBBD5" fill-opacity="0.8"/>
<circle cx="351.7" cy="115.32" r="2.0" fill="#4DBBD5" fill-opacity="0.8"/>
<circle cx="372.45" cy="106.71" r="2.0" fill="#4DBBD5" fill-opacity="0.8"/>
<circle cx="355.14" cy="107.79" r="2.0" fill="#4DBBD5" fill-opacity="0.8"/>
<circle cx="359.58" cy="95.59" r="2.0" fill="#4DBBD5" fill-opacity="0.8"/>
<circle cx="376.1" cy="108.64" r="2.0" fill="#4DBBD5" fill-opacity="0.8"/>
<circle cx="361.66" cy="90.43" r="2.0" fill="#4DBBD5" fill-opacity="0.8"/>
<circle cx="359.94" cy="128.48" r="2.0" fill="#4DBBD5" fill-opacity="0.8"/>
<circle cx="369.01" cy="129.65" r="2.0" fill="#4DBBD5" fill-opacity="0.8"/>
<circle cx="366.7" cy="112.63" r="2.0" fill="#4DBBD5" fill-opacity="0.8"/>
<circle cx="369.07" cy="128.64" r="2.0" fill="#4DBBD5" fill-opacity="0.8"/>
<circle cx="361.86" cy="125.77" r="2.0" fill="#4DBBD5" fill-opacity="0.8"/>
<circle cx="363.69" cy="106.93" r="2.0" fill="#4DBBD5" fill-opacity="0.8"/>
<circle cx="374.65" cy="119.02" r="2.0" fill="#4DBBD5" fill-opacity="0.8"/>
<circle cx="363.82" cy="126.48" r="2.0" fill="#4DBBD5" fill-opacity="0.8"/>
<circle cx="376.99" cy="112.31" r="2.0" fill="#4DBBD5" fill-opacity="0.8"/>
<circle cx="359.47" cy="129.6" r="2.0" fill="#4DBBD5" fill-opacity="0.8"/>
<circle cx="367.01" cy="84.65" r="2.0" fill="#4DBBD5" fill-opacity="0.8"/>
<circle cx="360.32" cy="78.89" r="2.0" fill="#4DBBD5" fill-opacity="0.8"/>
<circle cx="363.97" cy="140.35" r="2.0" fill="#4DBBD5" fill-opacity="0.8"/>
<circle cx="350.63" cy="114.05" r="2.0" fill="#4DBBD5" fill-opacity="0.8"/>
<circle cx="355.96" cy="100.45" r="2.0" fill="#4DBBD5" fill-opacity="0.8"/>
<circle cx="373.11" cy="96.54" r="2.0" fill="#4DBBD5" fill-opacity="0.8"/>
<circle cx="363.25" cy="143.76" r="2.0" fill="#4DBBD5" fill-opacity="0.8"/>
<circle cx="366.79" cy="77.15" r="2.0" fill="#4DBBD5" fill-opacity="0.8"/>
<circle cx="358.43" cy="96.89" r="2.0" fill="#4DBBD5" fill-opacity="0.8"/>
<circle cx="359.87" cy="104.13" r="2.0" fill="#4DBBD5" fill-opacity="0.8"/>
<circle cx="352.89" cy="108.58" r="2.0" fill="#4DBBD5" fill-opacity="0.8"/>
<circle cx="364.96" cy="100.77" r="2.0" fill="#4DBBD5" fill-opacity="0.8"/>
<circle cx="373.51" cy="107.72" r="2.0" fill="#4DBBD5" fill-opacity="0.8"/>
<circle cx="363.95" cy="94.32" r="2.0" fill="#4DBBD5" fill-opacity="0.8"/>
<circle cx="361.87" cy="91" r="2.0" fill="#4DBBD5" fill-opacity="0.8"/>
<circle cx="375.36" cy="110.47" r="2.0" fill="#4DBBD5" fill-opacity="0.8"/>
<circle cx="373.09" cy="100.13" r="2.0" fill="#4DBBD5" fill-opacity="0.8"/>
<circle cx="365.36" cy="136.9" r="2.0" fill="#4DBBD5" fill-opacity="0.8"/>
<circle cx="352.6" cy="113.67" r="2.0" fill="#4DBBD5" fill-opacity="0.8"/>
<circle cx="367.06" cy="107.26" r="2.0" fill="#4DBBD5" fill-opacity="0.8"/>
<circle cx="362.69" cy="92.56" r="2.0" fill="#4DBBD5" fill-opacity="0.8"/>
<circle cx="373.38" cy="97.45" r="2.0" fill="#4DBBD5" fill-opacity="0.8"/>
<circle cx="361.3" cy="125.67" r="2.0" fill="#4DBBD5" fill-opacity="0.8"/>
<circle cx="368.07" cy="107.26" r="2.0" fill="#4DBBD5" fill-opacity="0.8"/>
<circle cx="366.87" cy="117.25" r="2.0" fill="#4DBBD5" fill-opacity="0.8"/>
<circle cx="360.34" cy="106.89" r="2.0" fill="#4DBBD5" fill-opacity="0.8"/>
<circle cx="363.92" cy="77.07" r="2.0" fill="#4DBBD5" fill-opacity="0.8"/>
<circle cx="366.89" cy="95.39" r="2.0" fill="#4DBBD5" fill-opacity="0.8"/>
<circle cx="367.77" cy="136.2" r="2.0" fill="#4DBBD5" fill-opacity="0.8"/>
<circle cx="363.65" cy="113.48" r="2.0" fill="#4DBBD5" fill-opacity="0.8"/>
<circle cx="361.24" cy="94.83" r="2.0" fill="#4DBBD5" fill-opacity="0.8"/>
<circle cx="371.97" cy="127.21" r="2.0" fill="#4DBBD5" fill-opacity="0.8"/>
<circle cx="357.14" cy="89.07" r="2.0" fill="#4DBBD5" fill-opacity="0.8"/>
<circle cx="369.52" cy="127.72" r="2.0" fill="#4DBBD5" fill-opacity="0.8"/>
<circle cx="365.58" cy="134.33" r="2.0" fill="#4DBBD5" fill-opacity="0.8"/>
<circle cx="364.27" cy="143.83" r="2.0" fill="#4DBBD5" fill-opacity="0.8"/>
<circle cx="362.79" cy="127.55" r="2.0" fill="#4DBBD5" fill-opacity="0.8"/>
<circle cx="370.27" cy="116.58" r="2.0" fill="#4DBBD5" fill-opacity="0.8"/>
<circle cx="373.93" cy="115.12" r="2.0" fill="#4DBBD5" fill-opacity="0.8"/>
<circle cx="367.68" cy="125.04" r="2.0" fill="#4DBBD5" fill-opacity="0.8"/>
<circle cx="370.5" cy="113.18" r="2.0" fill="#4DBBD5" fill-opacity="0.8"/>
<circle cx="359.05" cy="146.46" r="2.0" fill="#4DBBD5" fill-opacity="0.8"/>
<circle cx="360.66" cy="126.91" r="2.0" fill="#4DBBD5" fill-opacity="0.8"/>
<circle cx="353.87" cy="109.95" r="2.0" fill="#4DBBD5" fill-opacity="0.8"/>
<circle cx="375.97" cy="107.74" r="2.0" fill="#4DBBD5" fill-opacity="0.8"/>
<circle cx="374.35" cy="111.8" r="2.0" fill="#4DBBD5" fill-opacity="0.8"/>
<circle cx="357.28" cy="94.7" r="2.0" fill="#4DBBD5" fill-opacity="0.8"/>
<circle cx="365.8" cy="120.57" r="2.0" fill="#4DBBD5" fill-opacity="0.8"/>
<circle cx="365.32" cy="97.31" r="2.0" fill="#4DBBD5" fill-opacity="0.8"/>
<circle cx="351.37" cy="112.32" r="2.0" fill="#4DBBD5" fill-opacity="0.8"/>
<circle cx="362.6" cy="131.94" r="2.0" fill="#4DBBD5" fill-opacity="0.8"/>
<circle cx="370.4" cy="106.53" r="2.0" fill="#4DBBD5" fill-opacity="0.8"/>
<circle cx="366.69" cy="98.64" r="2.0" fill="#4DBBD5" fill-opacity="0.8"/>
<circle cx="357.76" cy="107.28" r="2.0" fill="#4DBBD5" fill-opacity="0.8"/>
<circle cx="369.21" cy="123.96" r="2.0" fill="#4DBBD5" fill-opacity="0.8"/>
<circle cx="358.72" cy="101.96" r="2.0" fill="#4DBBD5" fill-opacity="0.8"/>
<circle cx="364.85" cy="106.15" r="2.0" fill="#4DBBD5" fill-opacity="0.8"/>
<circle cx="361.79" cy="120.18" r="2.0" fill="#4DBBD5" fill-opacity="0.8"/>
<circle cx="368.59" cy="133.73" r="2.0" fill="#4DBBD5" fill-opacity="0.8"/>
<circle cx="367.59" cy="115.15" r="2.0" fill="#4DBBD5" fill-opacity="0.8"/>
<circle cx="368.21" cy="90.3" r="2.0" fill="#4DBBD5" fill-opacity="0.8"/>
<circle cx="366.89" cy="94.91" r="2.0" fill="#4DBBD5" fill-opacity="0.8"/>
<circle cx="361.62" cy="125.61" r="2.0" fill="#4DBBD5" fill-opacity="0.8"/>
<circle cx="376.29" cy="110.43" r="2.0" fill="#4DBBD5" fill-opacity="0.8"/>
<circle cx="369.38" cy="108.94" r="2.0" fill="#4DBBD5" fill-opacity="0.8"/>
<circle cx="368.87" cy="109.68" r="2.0" fill="#4DBBD5" fill-opacity="0.8"/>
<circle cx="359.68" cy="94.15" r="2.0" fill="#4DBBD5" fill-opacity="0.8"/>
<circle cx="360.32" cy="148.15" r="2.0" fill="#4DBBD5" fill-opacity="0.8"/>
<circle cx="365.67" cy="115.73" r="2.0" fill="#4DBBD5" fill-opacity="0.8"/>
<circle cx="371.53" cy="120.39" r="2.0" fill="#4DBBD5" fill-opacity="0.8"/>
<circle cx="369" cy="95.47" r="2.0" fill="#4DBBD5" fill-opacity="0.8"/>
<circle cx="362.17" cy="77.09" r="2.0" fill="#4DBBD5" fill-opacity="0.8"/>
<circle cx="358.37" cy="88.99" r="2.0" fill="#4DBBD5" fill-opacity="0.8"/>
<circle cx="364.08" cy="101.87" r="2.0" fill="#4DBBD5" fill-opacity="0.8"/>
<circle cx="367.56" cy="131.8" r="2.0" fill="#4DBBD5" fill-opacity="0.8"/>
<circle cx="354.55" cy="106.98" r="2.0" fill="#4DBBD5" fill-opacity="0.8"/>
<circle cx="369.43" cy="120.13" r="2.0" fill="#4DBBD5" fill-opacity="0.8"/>
<circle cx="355.79" cy="119.23" r="2.0" fill="#4DBBD5" fill-opacity="0.8"/>
<circle cx="358.59" cy="110.47" r="2.0" fill="#4DBBD5" fill-opacity="0.8"/>
<circle cx="355.94" cy="127.64" r="2.0" fill="#4DBBD5" fill-opacity="0.8"/>
<circle cx="359.42" cy="96.9" r="2.0" fill="#4DBBD5" fill-opacity="0.8"/>
<circle cx="360.67" cy="104.56" r="2.0" fill="#4DBBD5" fill-opacity="0.8"/>
<circle cx="373.58" cy="97.45" r="2.0" fill="#4DBBD5" fill-opacity="0.8"/>
<circle cx="376.27" cy="110.26" r="2.0" fill="#4DBBD5" fill-opacity="0.8"/>
<circle cx="360.57" cy="136.58" r="2.0" fill="#4DBBD5" fill-opacity="0.8"/>
<circle cx="358.76" cy="104.37" r="2.0" fill="#4DBBD5" fill-opacity="0.8"/>
<circle cx="375.77" cy="112.72" r="2.0" fill="#4DBBD5" fill-opacity="0.8"/>
<circle cx="358.44" cy="126.01" r="2.0" fill="#4DBBD5" fill-opacity="0.8"/>
<circle cx="361.91" cy="68.26" r="2.0" fill="#4DBBD5" fill-opacity="0.8"/>
<circle cx="362.39" cy="98.73" r="2.0" fill="#4DBBD5" fill-opacity="0.8"/>
<circle cx="359.78" cy="167.27" r="2.0" fill="#4DBBD5" fill-opacity="0.8"/>
<circle cx="357.94" cy="120.36" r="2.0" fill="#4DBBD5" fill-opacity="0.8"/>
<circle cx="361.17" cy="102.11" r="2.0" fill="#4DBBD5" fill-opacity="0.8"/>
<circle cx="360.97" cy="100.82" r="2.0" fill="#4DBBD5" fill-opacity="0.8"/>
<circle cx="368.34" cy="77.75" r="2.0" fill="#4DBBD5" fill-opacity="0.8"/>
<circle cx="357.66" cy="104.4" r="2.0" fill="#4DBBD5" fill-opacity="0.8"/>
<circle cx="356.64" cy="101.12" r="2.0" fill="#4DBBD5" fill-opacity="0.8"/>
<circle cx="371.08" cy="92.03" r="2.0" fill="#4DBBD5" fill-opacity="0.8"/>
<circle cx="362.4" cy="115.88" r="2.0" fill="#4DBBD5" fill-opacity="0.8"/>
<circle cx="368.3" cy="131.39" r="2.0" fill="#4DBBD5" fill-opacity="0.8"/>
<circle cx="366.58" cy="121.9" r="2.0" fill="#4DBBD5" fill-opacity="0.8"/>
<circle cx="371.28" cy="110.22" r="2.0" fill="#4DBBD5" fill-opacity="0.8"/>
<circle cx="358.85" cy="116.51" r="2.0" fill="#4DBBD5" fill-opacity="0.8"/>
<circle cx="354.24" cy="113.36" r="2.0" fill="#4DBBD5" fill-opacity="0.8"/>
<circle cx="370.43" cy="115.54" r="2.0" fill="#4DBBD5" fill-opacity="0.8"/>
<circle cx="363.07" cy="121.93" r="2.0" fill="#4DBBD5" fill-opacity="0.8"/>
<circle cx="364.29" cy="139.01" r="2.0" fill="#4DBBD5" fill-opacity="0.8"/>
<circle cx="365.41" cy="80.06" r="2.0" fill="#4DBBD5" fill-opacity="0.8"/>
<circle cx="367.44" cy="90.96" r="2.0" fill="#4DBBD5" fill-opacity="0.8"/>
<circle cx="359.65" cy="92.61" r="2.0" fill="#4DBBD5" fill-opacity="0.8"/>
<circle cx="360.4" cy="119.24" r="2.0" fill="#4DBBD5" fill-opacity="0.8"/>
<circle cx="374.52" cy="105.16" r="2.0" fill="#4DBBD5" fill-opacity="0.8"/>
<circle cx="363.99" cy="136.27" r="2.0" fill="#4DBBD5" fill-opacity="0.8"/>
<circle cx="358.65" cy="102.56" r="2.0" fill="#4DBBD5" fill-opacity="0.8"/>
<circle cx="366.43" cy="123.47" r="2.0" fill="#4DBBD5" fill-opacity="0.8"/>
<circle cx="358.66" cy="123.17" r="2.0" fill="#4DBBD5" fill-opacity="0.8"/>
<circle cx="371.05" cy="109.52" r="2.0" fill="#4DBBD5" fill-opacity="0.8"/>
<circle cx="355.73" cy="125.47" r="2.0" fill="#4DBBD5" fill-opacity="0.8"/>
<circle cx="367.53" cy="85.91" r="2.0" fill="#4DBBD5" fill-opacity="0.8"/>
<circle cx="364.36" cy="76.6" r="2.0" fill="#4DBBD5" fill-opacity="0.8"/>
<circle cx="361.98" cy="87.4" r="2.0" fill="#4DBBD5" fill-opacity="0.8"/>
<circle cx="375.62" cy="107.01" r="2.0" fill="#4DBBD5" fill-opacity="0.8"/>
<circle cx="358.11" cy="100.06" r="2.0" fill="#4DBBD5" fill-opacity="0.8"/>
<circle cx="360.69" cy="88.18" r="2.0" fill="#4DBBD5" fill-opacity="0.8"/>
<circle cx="353.36" cy="119.09" r="2.0" fill="#4DBBD5" fill-opacity="0.8"/>
<circle cx="364.19" cy="64.54" r="2.0" fill="#4DBBD5" fill-opacity="0.8"/>
<circle cx="369.75" cy="99.42" r="2.0" fill="#4DBBD5" fill-opacity="0.8"/>
<circle cx="365.79" cy="85.69" r="2.0" fill="#4DBBD5" fill-opacity="0.8"/>
<circle cx="361.6" cy="117.33" r="2.0" fill="#4DBBD5" fill-opacity="0.8"/>
<circle cx="370.16" cy="121.14" r="2.0" fill="#4DBBD5" fill-opacity="0.8"/>
<circle cx="355.54" cy="120.96" r="2.0" fill="#4DBBD5" fill-opacity="0.8"/>
<circle cx="358.65" cy="116.33" r="2.0" fill="#4DBBD5" fill-opacity="0.8"/>
<circle cx="367.45" cy="104.6" r="2.0" fill="#4DBBD5" fill-opacity="0.8"/>
<circle cx="373.51" cy="124.19" r="2.0" fill="#4DBBD5" fill-opacity="0.8"/>
<circle cx="366.53" cy="97.98" r="2.0" fill="#4DBBD5" fill-opacity="0.8"/>
<circle cx="368.9" cy="110" r="2.0" fill="#4DBBD5" fill-opacity="0.8"/>
<circle cx="370.89" cy="116.45" r="2.0" fill="#4DBBD5" fill-opacity="0.8"/>
<circle cx="361.49" cy="122.78" r="2.0" fill="#4DBBD5" fill-opacity="0.8"/>
<circle cx="375.22" cy="114.21" r="2.0" fill="#4DBBD5" fill-opacity="0.8"/>
<circle cx="370.27" cy="109.17" r="2.0" fill="#4DBBD5" fill-opacity="0.8"/>
<circle cx="360.38" cy="121.55" r="2.0" fill="#4DBBD5" fill-opacity="0.8"/>
<circle cx="361.76" cy="94.59" r="2.0" fill="#4DBBD5" fill-opacity="0.8"/>
<circle cx="369.22" cy="94.86" r="2.0" fill="#4DBBD5" fill-opacity="0.8"/>
<circle cx="359.77" cy="114.19" r="2.0" fill="#4DBBD5" fill-opacity="0.8"/>
<circle cx="360.56" cy="80.15" r="2.0" fill="#4DBBD5" fill-opacity="0.8"/>
<circle cx="369.2" cy="89.49" r="2.0" fill="#4DBBD5" fill-opacity="0.8"/>
<circle cx="364.53" cy="117.1" r="2.0" fill="#4DBBD5" fill-opacity="0.8"/>
<circle cx="364.28" cy="110.48" r="2.0" fill="#4DBBD5" fill-opacity="0.8"/>
<circle cx="366.01" cy="128.96" r="2.0" fill="#4DBBD5" fill-opacity="0.8"/>
<circle cx="374.62" cy="113.14" r="2.0" fill="#4DBBD5" fill-opacity="0.8"/>
<circle cx="354.89" cy="118.29" r="2.0" fill="#4DBBD5" fill-opacity="0.8"/>
<circle cx="359.85" cy="102.13" r="2.0" fill="#4DBBD5" fill-opacity="0.8"/>
<circle cx="355.87" cy="94.95" r="2.0" fill="#4DBBD5" fill-opacity="0.8"/>
<circle cx="362.83" cy="138.59" r="2.0" fill="#4DBBD5" fill-opacity="0.8"/>
<circle cx="363.73" cy="90.48" r="2.0" fill="#4DBBD5" fill-opacity="0.8"/>
<circle cx="372.82" cy="105.93" r="2.0" fill="#4DBBD5" fill-opacity="0.8"/>
<circle cx="367.73" cy="119.01" r="2.0" fill="#4DBBD5" fill-opacity="0.8"/>
<circle cx="365.33" cy="121.94" r="2.0" fill="#4DBBD5" fill-opacity="0.8"/>
<circle cx="361.18" cy="115.62" r="2.0" fill="#4DBBD5" fill-opacity="0.8"/>
<circle cx="364.98" cy="125.2" r="2.0" fill="#4DBBD5" fill-opacity="0.8"/>
<circle cx="358.92" cy="96.03" r="2.0" fill="#4DBBD5" fill-opacity="0.8"/>
<circle cx="367.15" cy="70.83" r="2.0" fill="#4DBBD5" fill-opacity="0.8"/>
<circle cx="369.8" cy="97.47" r="2.0" fill="#4DBBD5" fill-opacity="0.8"/>
<circle cx="370.86" cy="98.12" r="2.0" fill="#4DBBD5" fill-opacity="0.8"/>
<circle cx="357.64" cy="125.5" r="2.0" fill="#4DBBD5" fill-opacity="0.8"/>
<circle cx="365.42" cy="149.38" r="2.0" fill="#4DBBD5" fill-opacity="0.8"/>
<circle cx="366.24" cy="137.88" r="2.0" fill="#4DBBD5" fill-opacity="0.8"/>
<circle cx="363.71" cy="101.49" r="2.0" fill="#4DBBD5" fill-opacity="0.8"/>
<circle cx="374.12" cy="114.63" r="2.0" fill="#4DBBD5" fill-opacity="0.8"/>
<circle cx="374.5" cy="109.98" r="2.0" fill="#4DBBD5" fill-opacity="0.8"/>
<circle cx="370" cy="105.84" r="2.0" fill="#4DBBD5" fill-opacity="0.8"/>
<circle cx="370.49" cy="97.91" r="2.0" fill="#4DBBD5" fill-opacity="0.8"/>
<circle cx="367.25" cy="101.97" r="2.0" fill="#4DBBD5" fill-opacity="0.8"/>
<path d="M363.7,67V97.3M363.7,120.4V146" stroke="#222" stroke-width="1.2"/>
<rect x="350.6" y="97.3" width="26.2" height="23.1" fill="#4DBBD5" fill-opacity="0.7" stroke="#1a1a1a" stroke-width="1.25"/>
<path d="M350.6,108.5H376.8" stroke="#1a1a1a" stroke-width="1.25"/>
<path d="M397.2,139 L396.61,136.32 L396.03,133.65 L395.44,130.97 L394.86,128.3 L394.27,125.62 L393.68,122.95 L392.46,120.28 L391.25,117.6 L390.03,114.92 L388.81,112.25 L387.37,109.58 L385.89,106.9 L384.42,104.22 L383.2,101.55 L383.2,98.88 L383.2,96.2 L383.2,93.53 L383.77,90.85 L385.11,88.17 L386.45,85.5 L387.79,82.83 L389.08,80.15 L390.29,77.47 L391.49,74.8 L392.69,72.12 L393.48,69.45 L393.97,66.78 L394.45,64.1 L394.94,61.42 L395.32,58.75 L395.59,56.08 L395.86,53.4 L396.13,50.72 L396.39,48.05 L396.66,45.38 L396.88,42.7 L397.08,40.03 L397.29,37.35 L397.49,34.67 L397.7,32 L399.7,32 L399.91,34.67 L400.11,37.35 L400.32,40.03 L400.52,42.7 L400.74,45.38 L401,48.05 L401.27,50.72 L401.54,53.4 L401.81,56.08 L402.07,58.75 L402.46,61.42 L402.95,64.1 L403.43,66.78 L403.92,69.45 L404.71,72.12 L405.91,74.8 L407.11,77.47 L408.32,80.15 L409.61,82.83 L410.95,85.5 L412.29,88.17 L413.62,90.85 L414.2,93.53 L414.2,96.2 L414.2,98.88 L414.2,101.55 L412.98,104.22 L411.5,106.9 L410.03,109.58 L408.59,112.25 L407.37,114.92 L406.15,117.6 L404.94,120.28 L403.72,122.95 L403.13,125.62 L402.54,128.3 L401.96,130.97 L401.37,133.65 L400.79,136.32 L400.2,139Z" fill="#00A087" fill-opacity="0.45"/>
<circle cx="396.45" cy="32" r="2.0" fill="#00A087" fill-opacity="0.8"/>
<circle cx="394.29" cy="139" r="2.0" fill="#00A087" fill-opacity="0.8"/>
<circle cx="397.52" cy="106.37" r="2.0" fill="#00A087" fill-opacity="0.8"/>
<circle cx="399.25" cy="129.37" r="2.0" fill="#00A087" fill-opacity="0.8"/>
<circle cx="406.5" cy="90.45" r="2.0" fill="#00A087" fill-opacity="0.8"/>
<circle cx="386.57" cy="93.96" r="2.0" fill="#00A087" fill-opacity="0.8"/>
<circle cx="407.01" cy="90.58" r="2.0" fill="#00A087" fill-opacity="0.8"/>
<circle cx="389.7" cy="88.34" r="2.0" fill="#00A087" fill-opacity="0.8"/>
<circle cx="391.44" cy="102.09" r="2.0" fill="#00A087" fill-opacity="0.8"/>
<circle cx="400.34" cy="116.63" r="2.0" fill="#00A087" fill-opacity="0.8"/>
<circle cx="394.82" cy="103.84" r="2.0" fill="#00A087" fill-opacity="0.8"/>
<circle cx="394.6" cy="103.64" r="2.0" fill="#00A087" fill-opacity="0.8"/>
<path d="M398.7,83.7V90.7M398.7,110.5V139.4" stroke="#222" stroke-width="1.2"/>
<rect x="385.6" y="90.7" width="26.2" height="19.8" fill="#00A087" fill-opacity="0.7" stroke="#1a1a1a" stroke-width="1.25"/>
<path d="M385.6,95H411.8" stroke="#1a1a1a" stroke-width="1.25"/>
</g>
<rect x="307.7" y="16.2" width="111.2" height="182.8" fill="none" stroke="#333333" stroke-width="1.3"/>
<path d="M305.2,30.1H307.7" stroke="#3A3A3A" stroke-width="0.8"/>
<text x="304.2" y="32.26" font-size="6.4" fill="#3A3A3A" text-anchor="end">4</text>
<path d="M305.2,71.3H307.7" stroke="#3A3A3A" stroke-width="0.8"/>
<text x="304.2" y="73.46" font-size="6.4" fill="#3A3A3A" text-anchor="end">2</text>
<path d="M305.2,112.5H307.7" stroke="#3A3A3A" stroke-width="0.8"/>
<text x="304.2" y="114.66" font-size="6.4" fill="#3A3A3A" text-anchor="end">0</text>
<path d="M305.2,153.7H307.7" stroke="#3A3A3A" stroke-width="0.8"/>
<text x="304.2" y="155.86" font-size="6.4" fill="#3A3A3A" text-anchor="end">&#8722;2</text>
<path d="M305.2,194.9H307.7" stroke="#3A3A3A" stroke-width="0.8"/>
<text x="304.2" y="197.06" font-size="6.4" fill="#3A3A3A" text-anchor="end">&#8722;4</text>
<path d="M328.7,199V201.5" stroke="#3A3A3A" stroke-width="0.8"/>
<path d="M363.7,199V201.5" stroke="#3A3A3A" stroke-width="0.8"/>
<path d="M398.7,199V201.5" stroke="#3A3A3A" stroke-width="0.8"/>
<text x="333" y="208.4" font-size="7.2" fill="#2a2a2a" text-anchor="end" transform="rotate(-45 333 208.4)">T2</text>
<text x="368" y="208.4" font-size="7.2" fill="#2a2a2a" text-anchor="end" transform="rotate(-45 368 208.4)">T3</text>
<text x="403" y="208.4" font-size="7.2" fill="#2a2a2a" text-anchor="end" transform="rotate(-45 403 208.4)">T4</text>
<text x="363.3" y="12.2" font-size="8.32" fill="#8C2530" text-anchor="middle" font-weight="bold">TCGA_PRAD</text>
<text x="311" y="29.3" font-size="7.6" fill="#111" text-anchor="start">Kruskal&#8722;Wallis, p = 1.6e&#8722;07</text>
<text x="363.3" y="222" font-size="8" fill="#8C2530" text-anchor="middle" font-weight="bold"></text>
<text x="296.2" y="108.6" font-size="8" fill="#8C2530" text-anchor="middle" font-weight="bold" transform="rotate(-90 296.2 108.6)">CHMP4C Expression (z&#8722;score)</text>
<clipPath id="a4"><rect x="445.7" y="16.2" width="104.4" height="182.8"/></clipPath>
<rect x="445.7" y="16.2" width="104.4" height="182.8" fill="#E9EDEE"/>
<g clip-path="url(#a4)">
<path d="M445.7,40H550.1" stroke="#C5CACD" stroke-width="1.15" stroke-dasharray="5 5"/>
<path d="M445.7,69.05H550.1" stroke="#C5CACD" stroke-width="1.15" stroke-dasharray="5 5"/>
<path d="M445.7,98.1H550.1" stroke="#C5CACD" stroke-width="1.15" stroke-dasharray="5 5"/>
<path d="M445.7,127.15H550.1" stroke="#C5CACD" stroke-width="1.15" stroke-dasharray="5 5"/>
<path d="M445.7,156.2H550.1" stroke="#C5CACD" stroke-width="1.15" stroke-dasharray="5 5"/>
<path d="M445.7,185.25H550.1" stroke="#C5CACD" stroke-width="1.15" stroke-dasharray="5 5"/>
<path d="M464.7,199V16.2" stroke="#C5CACD" stroke-width="1.15" stroke-dasharray="5 5"/>
<path d="M498,199V16.2" stroke="#C5CACD" stroke-width="1.15" stroke-dasharray="5 5"/>
<path d="M530.9,199V16.2" stroke="#C5CACD" stroke-width="1.15" stroke-dasharray="5 5"/>
<path d="M463.94,190 L463.84,186.28 L463.88,182.55 L464,178.82 L464.13,175.1 L464.17,171.38 L464.15,167.65 L464.16,163.93 L464.27,160.2 L464.43,156.47 L464.53,152.75 L464.51,149.03 L464.33,145.3 L464.02,141.57 L463.62,137.85 L463.18,134.12 L462.65,130.4 L461.9,126.67 L460.86,122.95 L459.68,119.22 L458.71,115.5 L458.06,111.78 L457.37,108.05 L456.15,104.33 L454.24,100.6 L452.1,96.88 L450.7,93.15 L450.99,89.42 L453.1,85.7 L456.12,81.97 L458.82,78.25 L460.58,74.53 L461.59,70.8 L462.3,67.08 L462.96,63.35 L463.58,59.62 L464.05,55.9 L464.29,52.18 L464.31,48.45 L464.22,44.72 L464.18,41 L465.22,41 L465.18,44.72 L465.09,48.45 L465.11,52.18 L465.35,55.9 L465.82,59.62 L466.44,63.35 L467.1,67.08 L467.81,70.8 L468.82,74.53 L470.58,78.25 L473.28,81.97 L476.3,85.7 L478.41,89.42 L478.7,93.15 L477.3,96.88 L475.16,100.6 L473.25,104.33 L472.03,108.05 L471.34,111.78 L470.69,115.5 L469.72,119.22 L468.54,122.95 L467.5,126.67 L466.75,130.4 L466.22,134.12 L465.78,137.85 L465.38,141.57 L465.07,145.3 L464.89,149.03 L464.87,152.75 L464.97,156.47 L465.13,160.2 L465.24,163.93 L465.25,167.65 L465.23,171.38 L465.27,175.1 L465.4,178.82 L465.52,182.55 L465.56,186.28 L465.46,190Z" fill="#E64B35" fill-opacity="0.45"/>
<circle cx="461.7" cy="41" r="2.0" fill="#E64B35" fill-opacity="0.8"/>
<circle cx="464.26" cy="190" r="2.0" fill="#E64B35" fill-opacity="0.8"/>
<circle cx="466.39" cy="87.53" r="2.0" fill="#E64B35" fill-opacity="0.8"/>
<circle cx="466.4" cy="108.17" r="2.0" fill="#E64B35" fill-opacity="0.8"/>
<circle cx="469.13" cy="96.41" r="2.0" fill="#E64B35" fill-opacity="0.8"/>
<circle cx="463.82" cy="103.65" r="2.0" fill="#E64B35" fill-opacity="0.8"/>
<circle cx="460.38" cy="78.87" r="2.0" fill="#E64B35" fill-opacity="0.8"/>
<circle cx="470.04" cy="94.4" r="2.0" fill="#E64B35" fill-opacity="0.8"/>
<circle cx="454.3" cy="89.42" r="2.0" fill="#E64B35" fill-opacity="0.8"/>
<circle cx="464.4" cy="114.12" r="2.0" fill="#E64B35" fill-opacity="0.8"/>
<circle cx="463.7" cy="118.36" r="2.0" fill="#E64B35" fill-opacity="0.8"/>
<circle cx="466.43" cy="73.27" r="2.0" fill="#E64B35" fill-opacity="0.8"/>
<circle cx="466.84" cy="164.73" r="2.0" fill="#E64B35" fill-opacity="0.8"/>
<circle cx="462.1" cy="68.37" r="2.0" fill="#E64B35" fill-opacity="0.8"/>
<circle cx="468.19" cy="90.11" r="2.0" fill="#E64B35" fill-opacity="0.8"/>
<circle cx="466.65" cy="115.16" r="2.0" fill="#E64B35" fill-opacity="0.8"/>
<circle cx="464.42" cy="137.33" r="2.0" fill="#E64B35" fill-opacity="0.8"/>
<circle cx="456.17" cy="91.78" r="2.0" fill="#E64B35" fill-opacity="0.8"/>
<circle cx="472.77" cy="83.84" r="2.0" fill="#E64B35" fill-opacity="0.8"/>
<circle cx="466.46" cy="99.98" r="2.0" fill="#E64B35" fill-opacity="0.8"/>
<circle cx="460.33" cy="130.81" r="2.0" fill="#E64B35" fill-opacity="0.8"/>
<circle cx="460.05" cy="102.34" r="2.0" fill="#E64B35" fill-opacity="0.8"/>
<circle cx="469.65" cy="114.86" r="2.0" fill="#E64B35" fill-opacity="0.8"/>
<circle cx="458.38" cy="90.83" r="2.0" fill="#E64B35" fill-opacity="0.8"/>
<circle cx="462.78" cy="99.02" r="2.0" fill="#E64B35" fill-opacity="0.8"/>
<circle cx="471.41" cy="90.27" r="2.0" fill="#E64B35" fill-opacity="0.8"/>
<circle cx="471.64" cy="96.38" r="2.0" fill="#E64B35" fill-opacity="0.8"/>
<circle cx="467.89" cy="92.66" r="2.0" fill="#E64B35" fill-opacity="0.8"/>
<circle cx="470.45" cy="93.01" r="2.0" fill="#E64B35" fill-opacity="0.8"/>
<circle cx="458.94" cy="107.35" r="2.0" fill="#E64B35" fill-opacity="0.8"/>
<circle cx="458.78" cy="81.93" r="2.0" fill="#E64B35" fill-opacity="0.8"/>
<circle cx="475.8" cy="90.43" r="2.0" fill="#E64B35" fill-opacity="0.8"/>
<circle cx="471.76" cy="91.08" r="2.0" fill="#E64B35" fill-opacity="0.8"/>
<circle cx="460.08" cy="73.72" r="2.0" fill="#E64B35" fill-opacity="0.8"/>
<circle cx="456.67" cy="99.79" r="2.0" fill="#E64B35" fill-opacity="0.8"/>
<circle cx="458.65" cy="90.69" r="2.0" fill="#E64B35" fill-opacity="0.8"/>
<circle cx="472.36" cy="98.78" r="2.0" fill="#E64B35" fill-opacity="0.8"/>
<circle cx="459.17" cy="86.99" r="2.0" fill="#E64B35" fill-opacity="0.8"/>
<circle cx="468.71" cy="88.2" r="2.0" fill="#E64B35" fill-opacity="0.8"/>
<circle cx="469" cy="120.03" r="2.0" fill="#E64B35" fill-opacity="0.8"/>
<circle cx="466.09" cy="127.78" r="2.0" fill="#E64B35" fill-opacity="0.8"/>
<circle cx="473.68" cy="96.76" r="2.0" fill="#E64B35" fill-opacity="0.8"/>
<circle cx="459.62" cy="97.07" r="2.0" fill="#E64B35" fill-opacity="0.8"/>
<circle cx="456.62" cy="91.23" r="2.0" fill="#E64B35" fill-opacity="0.8"/>
<circle cx="457.67" cy="83.35" r="2.0" fill="#E64B35" fill-opacity="0.8"/>
<circle cx="467.27" cy="181.35" r="2.0" fill="#E64B35" fill-opacity="0.8"/>
<circle cx="455.47" cy="88.24" r="2.0" fill="#E64B35" fill-opacity="0.8"/>
<circle cx="474.03" cy="86.53" r="2.0" fill="#E64B35" fill-opacity="0.8"/>
<circle cx="468.84" cy="87.36" r="2.0" fill="#E64B35" fill-opacity="0.8"/>
<circle cx="460.15" cy="104.5" r="2.0" fill="#E64B35" fill-opacity="0.8"/>
<circle cx="471.28" cy="96.22" r="2.0" fill="#E64B35" fill-opacity="0.8"/>
<circle cx="456.84" cy="88.23" r="2.0" fill="#E64B35" fill-opacity="0.8"/>
<circle cx="464.82" cy="68.85" r="2.0" fill="#E64B35" fill-opacity="0.8"/>
<circle cx="455.51" cy="89.16" r="2.0" fill="#E64B35" fill-opacity="0.8"/>
<circle cx="467.62" cy="114.54" r="2.0" fill="#E64B35" fill-opacity="0.8"/>
<circle cx="468.6" cy="62.06" r="2.0" fill="#E64B35" fill-opacity="0.8"/>
<circle cx="469.89" cy="109.24" r="2.0" fill="#E64B35" fill-opacity="0.8"/>
<circle cx="459.08" cy="111.69" r="2.0" fill="#E64B35" fill-opacity="0.8"/>
<circle cx="468.28" cy="116.54" r="2.0" fill="#E64B35" fill-opacity="0.8"/>
<circle cx="465.26" cy="120.16" r="2.0" fill="#E64B35" fill-opacity="0.8"/>
<path d="M464.7,57V87.6M464.7,116V150.4" stroke="#222" stroke-width="1.2"/>
<rect x="452.1" y="87.6" width="25.2" height="28.4" fill="#E64B35" fill-opacity="0.7" stroke="#1a1a1a" stroke-width="1.25"/>
<path d="M452.1,97H477.3" stroke="#1a1a1a" stroke-width="1.25"/>
<path d="M497.22,172 L497.28,168.55 L497.43,165.1 L497.51,161.65 L497.44,158.2 L497.29,154.75 L497.16,151.3 L497.12,147.85 L497.08,144.4 L496.88,140.95 L496.39,137.5 L495.64,134.05 L494.76,130.6 L494.03,127.15 L493.67,123.7 L493.73,120.25 L494.03,116.8 L494.29,113.35 L494.31,109.9 L494.03,106.45 L493.52,103 L492.92,99.55 L492.23,96.1 L491.29,92.65 L489.89,89.2 L488.15,85.75 L486.63,82.3 L486,78.85 L486.57,75.4 L488.08,71.95 L489.98,68.5 L491.86,65.05 L493.6,61.6 L495.11,58.15 L496.3,54.7 L497.1,51.25 L497.52,47.8 L497.6,44.35 L497.48,40.9 L497.3,37.45 L497.22,34 L498.78,34 L498.7,37.45 L498.52,40.9 L498.4,44.35 L498.48,47.8 L498.9,51.25 L499.7,54.7 L500.89,58.15 L502.4,61.6 L504.14,65.05 L506.02,68.5 L507.92,71.95 L509.43,75.4 L510,78.85 L509.37,82.3 L507.85,85.75 L506.11,89.2 L504.71,92.65 L503.77,96.1 L503.08,99.55 L502.48,103 L501.97,106.45 L501.69,109.9 L501.71,113.35 L501.97,116.8 L502.27,120.25 L502.33,123.7 L501.97,127.15 L501.24,130.6 L500.36,134.05 L499.61,137.5 L499.12,140.95 L498.92,144.4 L498.88,147.85 L498.84,151.3 L498.71,154.75 L498.56,158.2 L498.49,161.65 L498.57,165.1 L498.72,168.55 L498.78,172Z" fill="#4DBBD5" fill-opacity="0.45"/>
<circle cx="501.9" cy="34" r="2.0" fill="#4DBBD5" fill-opacity="0.8"/>
<circle cx="500.95" cy="172" r="2.0" fill="#4DBBD5" fill-opacity="0.8"/>
<circle cx="498.32" cy="121.61" r="2.0" fill="#4DBBD5" fill-opacity="0.8"/>
<circle cx="491.39" cy="87.31" r="2.0" fill="#4DBBD5" fill-opacity="0.8"/>
<circle cx="501.25" cy="100.45" r="2.0" fill="#4DBBD5" fill-opacity="0.8"/>
<circle cx="494.38" cy="76.68" r="2.0" fill="#4DBBD5" fill-opacity="0.8"/>
<circle cx="499.27" cy="125.31" r="2.0" fill="#4DBBD5" fill-opacity="0.8"/>
<circle cx="495.43" cy="81.32" r="2.0" fill="#4DBBD5" fill-opacity="0.8"/>
<circle cx="498.72" cy="75.55" r="2.0" fill="#4DBBD5" fill-opacity="0.8"/>
<circle cx="507.05" cy="76.14" r="2.0" fill="#4DBBD5" fill-opacity="0.8"/>
<circle cx="494.61" cy="58.38" r="2.0" fill="#4DBBD5" fill-opacity="0.8"/>
<circle cx="498.32" cy="64.11" r="2.0" fill="#4DBBD5" fill-opacity="0.8"/>
<circle cx="500.53" cy="70.68" r="2.0" fill="#4DBBD5" fill-opacity="0.8"/>
<circle cx="498.78" cy="80.02" r="2.0" fill="#4DBBD5" fill-opacity="0.8"/>
<circle cx="506.93" cy="77.83" r="2.0" fill="#4DBBD5" fill-opacity="0.8"/>
<circle cx="497.08" cy="109.73" r="2.0" fill="#4DBBD5" fill-opacity="0.8"/>
<circle cx="502.32" cy="66.49" r="2.0" fill="#4DBBD5" fill-opacity="0.8"/>
<circle cx="501.69" cy="75.39" r="2.0" fill="#4DBBD5" fill-opacity="0.8"/>
<circle cx="502.67" cy="126.49" r="2.0" fill="#4DBBD5" fill-opacity="0.8"/>
<circle cx="491.08" cy="73.65" r="2.0" fill="#4DBBD5" fill-opacity="0.8"/>
<circle cx="494.72" cy="91.68" r="2.0" fill="#4DBBD5" fill-opacity="0.8"/>
<circle cx="493.87" cy="76.14" r="2.0" fill="#4DBBD5" fill-opacity="0.8"/>
<circle cx="502.07" cy="127.24" r="2.0" fill="#4DBBD5" fill-opacity="0.8"/>
<circle cx="493.14" cy="150.8" r="2.0" fill="#4DBBD5" fill-opacity="0.8"/>
<circle cx="493.37" cy="81.86" r="2.0" fill="#4DBBD5" fill-opacity="0.8"/>
<circle cx="500.25" cy="65.67" r="2.0" fill="#4DBBD5" fill-opacity="0.8"/>
<circle cx="502.9" cy="135.01" r="2.0" fill="#4DBBD5" fill-opacity="0.8"/>
<circle cx="491.4" cy="79.96" r="2.0" fill="#4DBBD5" fill-opacity="0.8"/>
<circle cx="496.96" cy="85.06" r="2.0" fill="#4DBBD5" fill-opacity="0.8"/>
<circle cx="499.87" cy="119.83" r="2.0" fill="#4DBBD5" fill-opacity="0.8"/>
<circle cx="499.91" cy="98.88" r="2.0" fill="#4DBBD5" fill-opacity="0.8"/>
<circle cx="500.46" cy="115.5" r="2.0" fill="#4DBBD5" fill-opacity="0.8"/>
<circle cx="500.53" cy="98.72" r="2.0" fill="#4DBBD5" fill-opacity="0.8"/>
<circle cx="493.79" cy="85.96" r="2.0" fill="#4DBBD5" fill-opacity="0.8"/>
<circle cx="493.05" cy="80.43" r="2.0" fill="#4DBBD5" fill-opacity="0.8"/>
<circle cx="493.28" cy="108.01" r="2.0" fill="#4DBBD5" fill-opacity="0.8"/>
<circle cx="499.91" cy="97.91" r="2.0" fill="#4DBBD5" fill-opacity="0.8"/>
<circle cx="493.99" cy="90.66" r="2.0" fill="#4DBBD5" fill-opacity="0.8"/>
<circle cx="494.72" cy="67.04" r="2.0" fill="#4DBBD5" fill-opacity="0.8"/>
<circle cx="506.97" cy="82.62" r="2.0" fill="#4DBBD5" fill-opacity="0.8"/>
<path d="M498,35V81.5M498,113.6V147" stroke="#222" stroke-width="1.2"/>
<rect x="485.6" y="81.5" width="24.8" height="32.1" fill="#4DBBD5" fill-opacity="0.7" stroke="#1a1a1a" stroke-width="1.25"/>
<path d="M485.6,92.4H510.4" stroke="#1a1a1a" stroke-width="1.25"/>
<path d="M529.9,124 L529.04,121.65 L528.18,119.3 L527.79,116.95 L528,114.6 L528.2,112.25 L528.4,109.9 L528.32,107.55 L528.24,105.2 L528.16,102.85 L528.08,100.5 L528,98.15 L527.93,95.8 L527.43,93.45 L526.73,91.1 L526.02,88.75 L525.32,86.4 L524.8,84.05 L524.57,81.7 L524.33,79.35 L524.1,77 L523.99,74.65 L524.62,72.3 L525.25,69.95 L525.87,67.6 L526.5,65.25 L527.13,62.9 L527.75,60.55 L527.06,58.2 L525.96,55.85 L524.87,53.5 L523.77,51.15 L522.67,48.8 L521.58,46.45 L520.7,44.1 L520.18,41.75 L519.66,39.4 L519.13,37.05 L519.55,34.7 L520.73,32.35 L521.9,30 L539.9,30 L541.07,32.35 L542.25,34.7 L542.67,37.05 L542.14,39.4 L541.62,41.75 L541.1,44.1 L540.22,46.45 L539.13,48.8 L538.03,51.15 L536.93,53.5 L535.84,55.85 L534.74,58.2 L534.05,60.55 L534.67,62.9 L535.3,65.25 L535.93,67.6 L536.55,69.95 L537.18,72.3 L537.81,74.65 L537.7,77 L537.47,79.35 L537.23,81.7 L537,84.05 L536.48,86.4 L535.77,88.75 L535.07,91.1 L534.37,93.45 L533.87,95.8 L533.79,98.15 L533.72,100.5 L533.64,102.85 L533.56,105.2 L533.48,107.55 L533.4,109.9 L533.6,112.25 L533.8,114.6 L534.01,116.95 L533.62,119.3 L532.76,121.65 L531.9,124Z" fill="#00A087" fill-opacity="0.45"/>
<circle cx="533.09" cy="30" r="2.0" fill="#00A087" fill-opacity="0.8"/>
<circle cx="532.66" cy="34" r="2.0" fill="#00A087" fill-opacity="0.8"/>
<circle cx="533.61" cy="45" r="2.0" fill="#00A087" fill-opacity="0.8"/>
<circle cx="532.09" cy="52" r="2.0" fill="#00A087" fill-opacity="0.8"/>
<circle cx="532.85" cy="115" r="2.0" fill="#00A087" fill-opacity="0.8"/>
<circle cx="528.94" cy="124" r="2.0" fill="#00A087" fill-opacity="0.8"/>
<path d="M530.9,31V36.8M530.9,83.6V124.5" stroke="#222" stroke-width="1.2"/>
<rect x="518.5" y="36.8" width="24.8" height="46.8" fill="#00A087" fill-opacity="0.7" stroke="#1a1a1a" stroke-width="1.25"/>
<path d="M518.5,47.7H543.3" stroke="#1a1a1a" stroke-width="1.25"/>
</g>
<rect x="445.7" y="16.2" width="104.4" height="182.8" fill="none" stroke="#333333" stroke-width="1.3"/>
<path d="M443.2,40H445.7" stroke="#3A3A3A" stroke-width="0.8"/>
<text x="442.2" y="42.16" font-size="6.4" fill="#3A3A3A" text-anchor="end">2</text>
<path d="M443.2,69.05H445.7" stroke="#3A3A3A" stroke-width="0.8"/>
<text x="442.2" y="71.21" font-size="6.4" fill="#3A3A3A" text-anchor="end">1</text>
<path d="M443.2,98.1H445.7" stroke="#3A3A3A" stroke-width="0.8"/>
<text x="442.2" y="100.26" font-size="6.4" fill="#3A3A3A" text-anchor="end">0</text>
<path d="M443.2,127.15H445.7" stroke="#3A3A3A" stroke-width="0.8"/>
<text x="442.2" y="129.31" font-size="6.4" fill="#3A3A3A" text-anchor="end">&#8722;1</text>
<path d="M443.2,156.2H445.7" stroke="#3A3A3A" stroke-width="0.8"/>
<text x="442.2" y="158.36" font-size="6.4" fill="#3A3A3A" text-anchor="end">&#8722;2</text>
<path d="M443.2,185.25H445.7" stroke="#3A3A3A" stroke-width="0.8"/>
<text x="442.2" y="187.41" font-size="6.4" fill="#3A3A3A" text-anchor="end">&#8722;3</text>
<path d="M464.7,199V201.5" stroke="#3A3A3A" stroke-width="0.8"/>
<path d="M498,199V201.5" stroke="#3A3A3A" stroke-width="0.8"/>
<path d="M530.9,199V201.5" stroke="#3A3A3A" stroke-width="0.8"/>
<text x="469" y="208.4" font-size="7.2" fill="#2a2a2a" text-anchor="end" transform="rotate(-45 469 208.4)">T2</text>
<text x="502.3" y="208.4" font-size="7.2" fill="#2a2a2a" text-anchor="end" transform="rotate(-45 502.3 208.4)">T3</text>
<text x="535.2" y="208.4" font-size="7.2" fill="#2a2a2a" text-anchor="end" transform="rotate(-45 535.2 208.4)">T4</text>
<text x="497.6" y="12.2" font-size="8.32" fill="#8C2530" text-anchor="middle" font-weight="bold">DKFZ2018</text>
<text x="448.5" y="28" font-size="7.6" fill="#111" text-anchor="start">Kruskal&#8722;Wallis, p = 0.044</text>
<text x="0" y="0" font-size="8" fill="#8C2530" text-anchor="middle" font-weight="bold"></text>
<text x="433.5" y="108.6" font-size="8" fill="#8C2530" text-anchor="middle" font-weight="bold" transform="rotate(-90 433.5 108.6)">CHMP4C Expression (z&#8722;score)</text>
<clipPath id="a5"><rect x="579.3" y="15.9" width="97.1" height="182.2"/></clipPath>
<rect x="579.3" y="15.9" width="97.1" height="182.2" fill="#E9EDEE"/>
<g clip-path="url(#a5)">
<path d="M579.3,30.1H676.4" stroke="#C5CACD" stroke-width="1.15" stroke-dasharray="5 5"/>
<path d="M579.3,71.2H676.4" stroke="#C5CACD" stroke-width="1.15" stroke-dasharray="5 5"/>
<path d="M579.3,112.3H676.4" stroke="#C5CACD" stroke-width="1.15" stroke-dasharray="5 5"/>
<path d="M579.3,153.4H676.4" stroke="#C5CACD" stroke-width="1.15" stroke-dasharray="5 5"/>
<path d="M579.3,194.5H676.4" stroke="#C5CACD" stroke-width="1.15" stroke-dasharray="5 5"/>
<path d="M605.7,198.1V15.9" stroke="#C5CACD" stroke-width="1.15" stroke-dasharray="5 5"/>
<path d="M650.3,198.1V15.9" stroke="#C5CACD" stroke-width="1.15" stroke-dasharray="5 5"/>
<path d="M605.43,192 L605.39,188.35 L605.35,184.7 L605.29,181.05 L605.17,177.4 L605.02,173.75 L604.87,170.1 L604.77,166.45 L604.72,162.8 L604.65,159.15 L604.47,155.5 L604.06,151.85 L603.32,148.2 L602.25,144.55 L600.84,140.9 L599.06,137.25 L596.88,133.6 L594.46,129.95 L592.14,126.3 L590.29,122.65 L588.98,119 L588.01,115.35 L587.18,111.7 L586.7,108.05 L587.1,104.4 L588.77,100.75 L591.56,97.1 L594.81,93.45 L597.81,89.8 L600.15,86.15 L601.76,82.5 L602.82,78.85 L603.52,75.2 L604,71.55 L604.35,67.9 L604.58,64.25 L604.73,60.6 L604.86,56.95 L605.01,53.3 L605.18,49.65 L605.34,46 L606.06,46 L606.22,49.65 L606.39,53.3 L606.54,56.95 L606.67,60.6 L606.82,64.25 L607.05,67.9 L607.4,71.55 L607.88,75.2 L608.58,78.85 L609.64,82.5 L611.25,86.15 L613.59,89.8 L616.59,93.45 L619.84,97.1 L622.63,100.75 L624.3,104.4 L624.7,108.05 L624.22,111.7 L623.39,115.35 L622.42,119 L621.11,122.65 L619.26,126.3 L616.94,129.95 L614.52,133.6 L612.34,137.25 L610.56,140.9 L609.15,144.55 L608.08,148.2 L607.34,151.85 L606.93,155.5 L606.75,159.15 L606.68,162.8 L606.63,166.45 L606.53,170.1 L606.38,173.75 L606.23,177.4 L606.11,181.05 L606.05,184.7 L606.01,188.35 L605.97,192Z" fill="#E64B35" fill-opacity="0.45"/>
<circle cx="604.73" cy="46" r="2.0" fill="#E64B35" fill-opacity="0.8"/>
<circle cx="604.24" cy="192" r="2.0" fill="#E64B35" fill-opacity="0.8"/>
<circle cx="603.34" cy="109.94" r="2.0" fill="#E64B35" fill-opacity="0.8"/>
<circle cx="604.22" cy="159.35" r="2.0" fill="#E64B35" fill-opacity="0.8"/>
<circle cx="611.12" cy="120.29" r="2.0" fill="#E64B35" fill-opacity="0.8"/>
<circle cx="602.87" cy="124.12" r="2.0" fill="#E64B35" fill-opacity="0.8"/>
<circle cx="594.47" cy="109.68" r="2.0" fill="#E64B35" fill-opacity="0.8"/>
<circle cx="611.16" cy="134.65" r="2.0" fill="#E64B35" fill-opacity="0.8"/>
<circle cx="607.79" cy="99.17" r="2.0" fill="#E64B35" fill-opacity="0.8"/>
<circle cx="594.32" cy="127.45" r="2.0" fill="#E64B35" fill-opacity="0.8"/>
<circle cx="609.19" cy="148.98" r="2.0" fill="#E64B35" fill-opacity="0.8"/>
<circle cx="608.76" cy="88.24" r="2.0" fill="#E64B35" fill-opacity="0.8"/>
<circle cx="601.89" cy="122.18" r="2.0" fill="#E64B35" fill-opacity="0.8"/>
<circle cx="608.82" cy="97.07" r="2.0" fill="#E64B35" fill-opacity="0.8"/>
<circle cx="610.45" cy="136.89" r="2.0" fill="#E64B35" fill-opacity="0.8"/>
<circle cx="602.87" cy="99.59" r="2.0" fill="#E64B35" fill-opacity="0.8"/>
<circle cx="605.03" cy="81.9" r="2.0" fill="#E64B35" fill-opacity="0.8"/>
<circle cx="599.18" cy="108.42" r="2.0" fill="#E64B35" fill-opacity="0.8"/>
<circle cx="607.12" cy="124.01" r="2.0" fill="#E64B35" fill-opacity="0.8"/>
<circle cx="607.33" cy="77.28" r="2.0" fill="#E64B35" fill-opacity="0.8"/>
<circle cx="608.05" cy="87.49" r="2.0" fill="#E64B35" fill-opacity="0.8"/>
<circle cx="620.21" cy="108.97" r="2.0" fill="#E64B35" fill-opacity="0.8"/>
<circle cx="594.24" cy="108.89" r="2.0" fill="#E64B35" fill-opacity="0.8"/>
<circle cx="601.37" cy="109.21" r="2.0" fill="#E64B35" fill-opacity="0.8"/>
<circle cx="614.15" cy="97.76" r="2.0" fill="#E64B35" fill-opacity="0.8"/>
<circle cx="612.41" cy="125.71" r="2.0" fill="#E64B35" fill-opacity="0.8"/>
<circle cx="608.06" cy="121.16" r="2.0" fill="#E64B35" fill-opacity="0.8"/>
<circle cx="611.03" cy="115.19" r="2.0" fill="#E64B35" fill-opacity="0.8"/>
<circle cx="600.64" cy="102.81" r="2.0" fill="#E64B35" fill-opacity="0.8"/>
<circle cx="618.34" cy="119.81" r="2.0" fill="#E64B35" fill-opacity="0.8"/>
<circle cx="607.26" cy="104.12" r="2.0" fill="#E64B35" fill-opacity="0.8"/>
<circle cx="603.15" cy="122.27" r="2.0" fill="#E64B35" fill-opacity="0.8"/>
<circle cx="595.44" cy="108.43" r="2.0" fill="#E64B35" fill-opacity="0.8"/>
<circle cx="596.45" cy="97.16" r="2.0" fill="#E64B35" fill-opacity="0.8"/>
<circle cx="618.22" cy="112.33" r="2.0" fill="#E64B35" fill-opacity="0.8"/>
<circle cx="608.7" cy="70.45" r="2.0" fill="#E64B35" fill-opacity="0.8"/>
<circle cx="593.3" cy="121.84" r="2.0" fill="#E64B35" fill-opacity="0.8"/>
<circle cx="600.11" cy="104.5" r="2.0" fill="#E64B35" fill-opacity="0.8"/>
<circle cx="605.11" cy="99.16" r="2.0" fill="#E64B35" fill-opacity="0.8"/>
<circle cx="605.6" cy="127.5" r="2.0" fill="#E64B35" fill-opacity="0.8"/>
<circle cx="601.77" cy="100.47" r="2.0" fill="#E64B35" fill-opacity="0.8"/>
<circle cx="618.46" cy="106.35" r="2.0" fill="#E64B35" fill-opacity="0.8"/>
<circle cx="601.38" cy="101.86" r="2.0" fill="#E64B35" fill-opacity="0.8"/>
<circle cx="606.47" cy="98.68" r="2.0" fill="#E64B35" fill-opacity="0.8"/>
<circle cx="619.28" cy="105.51" r="2.0" fill="#E64B35" fill-opacity="0.8"/>
<circle cx="609.35" cy="124.43" r="2.0" fill="#E64B35" fill-opacity="0.8"/>
<circle cx="605.01" cy="113.57" r="2.0" fill="#E64B35" fill-opacity="0.8"/>
<circle cx="600.29" cy="109.19" r="2.0" fill="#E64B35" fill-opacity="0.8"/>
<circle cx="604.57" cy="55.38" r="2.0" fill="#E64B35" fill-opacity="0.8"/>
<circle cx="608.8" cy="119.62" r="2.0" fill="#E64B35" fill-opacity="0.8"/>
<circle cx="608.93" cy="137.88" r="2.0" fill="#E64B35" fill-opacity="0.8"/>
<circle cx="598.16" cy="113.3" r="2.0" fill="#E64B35" fill-opacity="0.8"/>
<circle cx="601.52" cy="108.37" r="2.0" fill="#E64B35" fill-opacity="0.8"/>
<circle cx="602.15" cy="105.32" r="2.0" fill="#E64B35" fill-opacity="0.8"/>
<circle cx="604.33" cy="168.56" r="2.0" fill="#E64B35" fill-opacity="0.8"/>
<circle cx="618.76" cy="105.48" r="2.0" fill="#E64B35" fill-opacity="0.8"/>
<circle cx="606.87" cy="116.31" r="2.0" fill="#E64B35" fill-opacity="0.8"/>
<circle cx="598.96" cy="116.77" r="2.0" fill="#E64B35" fill-opacity="0.8"/>
<circle cx="600.88" cy="102.23" r="2.0" fill="#E64B35" fill-opacity="0.8"/>
<circle cx="610.52" cy="134.02" r="2.0" fill="#E64B35" fill-opacity="0.8"/>
<circle cx="595" cy="110.14" r="2.0" fill="#E64B35" fill-opacity="0.8"/>
<circle cx="611.68" cy="110.73" r="2.0" fill="#E64B35" fill-opacity="0.8"/>
<circle cx="600.92" cy="140.63" r="2.0" fill="#E64B35" fill-opacity="0.8"/>
<circle cx="595.79" cy="106.77" r="2.0" fill="#E64B35" fill-opacity="0.8"/>
<circle cx="600.72" cy="136.05" r="2.0" fill="#E64B35" fill-opacity="0.8"/>
<circle cx="612.74" cy="125.44" r="2.0" fill="#E64B35" fill-opacity="0.8"/>
<circle cx="597.21" cy="96.96" r="2.0" fill="#E64B35" fill-opacity="0.8"/>
<circle cx="597.87" cy="99.78" r="2.0" fill="#E64B35" fill-opacity="0.8"/>
<circle cx="591.77" cy="111.08" r="2.0" fill="#E64B35" fill-opacity="0.8"/>
<circle cx="598.9" cy="102.53" r="2.0" fill="#E64B35" fill-opacity="0.8"/>
<circle cx="611.31" cy="98.36" r="2.0" fill="#E64B35" fill-opacity="0.8"/>
<circle cx="612.04" cy="101.72" r="2.0" fill="#E64B35" fill-opacity="0.8"/>
<circle cx="615.57" cy="95.97" r="2.0" fill="#E64B35" fill-opacity="0.8"/>
<circle cx="620.14" cy="107.71" r="2.0" fill="#E64B35" fill-opacity="0.8"/>
<circle cx="607.3" cy="111.36" r="2.0" fill="#E64B35" fill-opacity="0.8"/>
<circle cx="609.92" cy="159.46" r="2.0" fill="#E64B35" fill-opacity="0.8"/>
<circle cx="592.78" cy="112.45" r="2.0" fill="#E64B35" fill-opacity="0.8"/>
<circle cx="618.48" cy="116.44" r="2.0" fill="#E64B35" fill-opacity="0.8"/>
<circle cx="604.71" cy="132.81" r="2.0" fill="#E64B35" fill-opacity="0.8"/>
<circle cx="595.99" cy="106.2" r="2.0" fill="#E64B35" fill-opacity="0.8"/>
<circle cx="609.03" cy="90.98" r="2.0" fill="#E64B35" fill-opacity="0.8"/>
<circle cx="616.99" cy="112.5" r="2.0" fill="#E64B35" fill-opacity="0.8"/>
<circle cx="602.71" cy="123.16" r="2.0" fill="#E64B35" fill-opacity="0.8"/>
<circle cx="601.1" cy="136.36" r="2.0" fill="#E64B35" fill-opacity="0.8"/>
<circle cx="617.49" cy="105.59" r="2.0" fill="#E64B35" fill-opacity="0.8"/>
<circle cx="611.54" cy="125.14" r="2.0" fill="#E64B35" fill-opacity="0.8"/>
<circle cx="607.55" cy="130.34" r="2.0" fill="#E64B35" fill-opacity="0.8"/>
<circle cx="620.78" cy="103.85" r="2.0" fill="#E64B35" fill-opacity="0.8"/>
<circle cx="591.16" cy="111.08" r="2.0" fill="#E64B35" fill-opacity="0.8"/>
<circle cx="594.06" cy="120.91" r="2.0" fill="#E64B35" fill-opacity="0.8"/>
<circle cx="593.87" cy="111.49" r="2.0" fill="#E64B35" fill-opacity="0.8"/>
<circle cx="590.58" cy="104.43" r="2.0" fill="#E64B35" fill-opacity="0.8"/>
<circle cx="612.26" cy="110.76" r="2.0" fill="#E64B35" fill-opacity="0.8"/>
<circle cx="608.83" cy="96.5" r="2.0" fill="#E64B35" fill-opacity="0.8"/>
<circle cx="594.54" cy="99.7" r="2.0" fill="#E64B35" fill-opacity="0.8"/>
<circle cx="597.57" cy="98.84" r="2.0" fill="#E64B35" fill-opacity="0.8"/>
<circle cx="598.03" cy="97.8" r="2.0" fill="#E64B35" fill-opacity="0.8"/>
<circle cx="608.84" cy="101.65" r="2.0" fill="#E64B35" fill-opacity="0.8"/>
<circle cx="608.89" cy="94.45" r="2.0" fill="#E64B35" fill-opacity="0.8"/>
<circle cx="614.39" cy="94.86" r="2.0" fill="#E64B35" fill-opacity="0.8"/>
<circle cx="604.31" cy="145.85" r="2.0" fill="#E64B35" fill-opacity="0.8"/>
<circle cx="618.25" cy="121.53" r="2.0" fill="#E64B35" fill-opacity="0.8"/>
<circle cx="605.04" cy="76.77" r="2.0" fill="#E64B35" fill-opacity="0.8"/>
<circle cx="602.25" cy="105.34" r="2.0" fill="#E64B35" fill-opacity="0.8"/>
<circle cx="598.28" cy="115.56" r="2.0" fill="#E64B35" fill-opacity="0.8"/>
<circle cx="598.69" cy="122.74" r="2.0" fill="#E64B35" fill-opacity="0.8"/>
<circle cx="610.45" cy="146.04" r="2.0" fill="#E64B35" fill-opacity="0.8"/>
<circle cx="621.69" cy="106.3" r="2.0" fill="#E64B35" fill-opacity="0.8"/>
<circle cx="611.55" cy="117.71" r="2.0" fill="#E64B35" fill-opacity="0.8"/>
<circle cx="595.47" cy="110.36" r="2.0" fill="#E64B35" fill-opacity="0.8"/>
<circle cx="596.49" cy="101.58" r="2.0" fill="#E64B35" fill-opacity="0.8"/>
<circle cx="602.22" cy="68.66" r="2.0" fill="#E64B35" fill-opacity="0.8"/>
<circle cx="600.89" cy="107.13" r="2.0" fill="#E64B35" fill-opacity="0.8"/>
<circle cx="612.53" cy="100.39" r="2.0" fill="#E64B35" fill-opacity="0.8"/>
<circle cx="594.14" cy="123.98" r="2.0" fill="#E64B35" fill-opacity="0.8"/>
<circle cx="606.49" cy="121" r="2.0" fill="#E64B35" fill-opacity="0.8"/>
<circle cx="609.87" cy="126.02" r="2.0" fill="#E64B35" fill-opacity="0.8"/>
<circle cx="596.79" cy="128.31" r="2.0" fill="#E64B35" fill-opacity="0.8"/>
<circle cx="603.75" cy="107.23" r="2.0" fill="#E64B35" fill-opacity="0.8"/>
<circle cx="612.69" cy="98.02" r="2.0" fill="#E64B35" fill-opacity="0.8"/>
<circle cx="607.88" cy="101.62" r="2.0" fill="#E64B35" fill-opacity="0.8"/>
<circle cx="605.15" cy="138.32" r="2.0" fill="#E64B35" fill-opacity="0.8"/>
<circle cx="618.02" cy="106.48" r="2.0" fill="#E64B35" fill-opacity="0.8"/>
<circle cx="608.96" cy="107.83" r="2.0" fill="#E64B35" fill-opacity="0.8"/>
<circle cx="600.43" cy="106.49" r="2.0" fill="#E64B35" fill-opacity="0.8"/>
<circle cx="602.97" cy="124.15" r="2.0" fill="#E64B35" fill-opacity="0.8"/>
<circle cx="619.72" cy="103.27" r="2.0" fill="#E64B35" fill-opacity="0.8"/>
<circle cx="609.29" cy="82.47" r="2.0" fill="#E64B35" fill-opacity="0.8"/>
<circle cx="618.82" cy="106" r="2.0" fill="#E64B35" fill-opacity="0.8"/>
<circle cx="606.31" cy="87.66" r="2.0" fill="#E64B35" fill-opacity="0.8"/>
<circle cx="594.39" cy="102.67" r="2.0" fill="#E64B35" fill-opacity="0.8"/>
<circle cx="595.2" cy="109.47" r="2.0" fill="#E64B35" fill-opacity="0.8"/>
<circle cx="602.34" cy="101.24" r="2.0" fill="#E64B35" fill-opacity="0.8"/>
<circle cx="611.19" cy="101.46" r="2.0" fill="#E64B35" fill-opacity="0.8"/>
<circle cx="591.44" cy="100.01" r="2.0" fill="#E64B35" fill-opacity="0.8"/>
<circle cx="608.72" cy="149.06" r="2.0" fill="#E64B35" fill-opacity="0.8"/>
<circle cx="614.3" cy="116.99" r="2.0" fill="#E64B35" fill-opacity="0.8"/>
<circle cx="606.15" cy="113.72" r="2.0" fill="#E64B35" fill-opacity="0.8"/>
<circle cx="598.29" cy="132.75" r="2.0" fill="#E64B35" fill-opacity="0.8"/>
<circle cx="609.7" cy="89.52" r="2.0" fill="#E64B35" fill-opacity="0.8"/>
<circle cx="602.93" cy="108.79" r="2.0" fill="#E64B35" fill-opacity="0.8"/>
<circle cx="607.39" cy="87.09" r="2.0" fill="#E64B35" fill-opacity="0.8"/>
<circle cx="607.96" cy="106.66" r="2.0" fill="#E64B35" fill-opacity="0.8"/>
<circle cx="612.92" cy="104.65" r="2.0" fill="#E64B35" fill-opacity="0.8"/>
<circle cx="603.6" cy="125.73" r="2.0" fill="#E64B35" fill-opacity="0.8"/>
<circle cx="620.18" cy="109.95" r="2.0" fill="#E64B35" fill-opacity="0.8"/>
<circle cx="616.2" cy="126.55" r="2.0" fill="#E64B35" fill-opacity="0.8"/>
<circle cx="619.55" cy="107.97" r="2.0" fill="#E64B35" fill-opacity="0.8"/>
<circle cx="609.02" cy="99.21" r="2.0" fill="#E64B35" fill-opacity="0.8"/>
<circle cx="600.89" cy="123.3" r="2.0" fill="#E64B35" fill-opacity="0.8"/>
<circle cx="604.47" cy="139.83" r="2.0" fill="#E64B35" fill-opacity="0.8"/>
<circle cx="599.13" cy="117.57" r="2.0" fill="#E64B35" fill-opacity="0.8"/>
<circle cx="617.32" cy="102.24" r="2.0" fill="#E64B35" fill-opacity="0.8"/>
<circle cx="611.28" cy="131.1" r="2.0" fill="#E64B35" fill-opacity="0.8"/>
<circle cx="614.77" cy="110.93" r="2.0" fill="#E64B35" fill-opacity="0.8"/>
<circle cx="614.12" cy="124.23" r="2.0" fill="#E64B35" fill-opacity="0.8"/>
<circle cx="610.61" cy="163.44" r="2.0" fill="#E64B35" fill-opacity="0.8"/>
<circle cx="607.58" cy="75.93" r="2.0" fill="#E64B35" fill-opacity="0.8"/>
<circle cx="602.23" cy="130.48" r="2.0" fill="#E64B35" fill-opacity="0.8"/>
<circle cx="611.64" cy="127.06" r="2.0" fill="#E64B35" fill-opacity="0.8"/>
<circle cx="598.22" cy="113.44" r="2.0" fill="#E64B35" fill-opacity="0.8"/>
<circle cx="609.19" cy="111.53" r="2.0" fill="#E64B35" fill-opacity="0.8"/>
<circle cx="594.67" cy="106.32" r="2.0" fill="#E64B35" fill-opacity="0.8"/>
<circle cx="612.32" cy="94.14" r="2.0" fill="#E64B35" fill-opacity="0.8"/>
<circle cx="605.38" cy="120.71" r="2.0" fill="#E64B35" fill-opacity="0.8"/>
<circle cx="598.59" cy="103.89" r="2.0" fill="#E64B35" fill-opacity="0.8"/>
<circle cx="617.87" cy="100.16" r="2.0" fill="#E64B35" fill-opacity="0.8"/>
<circle cx="595.67" cy="98.59" r="2.0" fill="#E64B35" fill-opacity="0.8"/>
<circle cx="613.92" cy="129.2" r="2.0" fill="#E64B35" fill-opacity="0.8"/>
<circle cx="608.27" cy="80.26" r="2.0" fill="#E64B35" fill-opacity="0.8"/>
<circle cx="595.15" cy="115.8" r="2.0" fill="#E64B35" fill-opacity="0.8"/>
<circle cx="612.54" cy="122.06" r="2.0" fill="#E64B35" fill-opacity="0.8"/>
<circle cx="607.81" cy="101.55" r="2.0" fill="#E64B35" fill-opacity="0.8"/>
<circle cx="616.37" cy="121.38" r="2.0" fill="#E64B35" fill-opacity="0.8"/>
<circle cx="608.19" cy="101.48" r="2.0" fill="#E64B35" fill-opacity="0.8"/>
<circle cx="603.79" cy="121.98" r="2.0" fill="#E64B35" fill-opacity="0.8"/>
<circle cx="618.02" cy="117.33" r="2.0" fill="#E64B35" fill-opacity="0.8"/>
<circle cx="592.37" cy="109.12" r="2.0" fill="#E64B35" fill-opacity="0.8"/>
<circle cx="614.46" cy="104.44" r="2.0" fill="#E64B35" fill-opacity="0.8"/>
<circle cx="598.35" cy="93.23" r="2.0" fill="#E64B35" fill-opacity="0.8"/>
<circle cx="599.85" cy="121.59" r="2.0" fill="#E64B35" fill-opacity="0.8"/>
<circle cx="598.32" cy="131.16" r="2.0" fill="#E64B35" fill-opacity="0.8"/>
<circle cx="612.79" cy="130.02" r="2.0" fill="#E64B35" fill-opacity="0.8"/>
<circle cx="604.17" cy="122.39" r="2.0" fill="#E64B35" fill-opacity="0.8"/>
<circle cx="612.86" cy="102.91" r="2.0" fill="#E64B35" fill-opacity="0.8"/>
<circle cx="598" cy="105.09" r="2.0" fill="#E64B35" fill-opacity="0.8"/>
<circle cx="611.24" cy="98.36" r="2.0" fill="#E64B35" fill-opacity="0.8"/>
<circle cx="609.6" cy="121.27" r="2.0" fill="#E64B35" fill-opacity="0.8"/>
<circle cx="600.31" cy="91.35" r="2.0" fill="#E64B35" fill-opacity="0.8"/>
<circle cx="605.5" cy="107.5" r="2.0" fill="#E64B35" fill-opacity="0.8"/>
<circle cx="612.71" cy="104.29" r="2.0" fill="#E64B35" fill-opacity="0.8"/>
<circle cx="602.85" cy="61.83" r="2.0" fill="#E64B35" fill-opacity="0.8"/>
<circle cx="610.09" cy="118.84" r="2.0" fill="#E64B35" fill-opacity="0.8"/>
<circle cx="598.71" cy="112.31" r="2.0" fill="#E64B35" fill-opacity="0.8"/>
<circle cx="602.71" cy="127.68" r="2.0" fill="#E64B35" fill-opacity="0.8"/>
<circle cx="617.63" cy="117.27" r="2.0" fill="#E64B35" fill-opacity="0.8"/>
<circle cx="613.9" cy="91.63" r="2.0" fill="#E64B35" fill-opacity="0.8"/>
<circle cx="610.68" cy="56.43" r="2.0" fill="#E64B35" fill-opacity="0.8"/>
<circle cx="603.33" cy="108.83" r="2.0" fill="#E64B35" fill-opacity="0.8"/>
<circle cx="607.97" cy="104.26" r="2.0" fill="#E64B35" fill-opacity="0.8"/>
<circle cx="611.59" cy="130.05" r="2.0" fill="#E64B35" fill-opacity="0.8"/>
<circle cx="610.49" cy="93.69" r="2.0" fill="#E64B35" fill-opacity="0.8"/>
<circle cx="604.69" cy="127" r="2.0" fill="#E64B35" fill-opacity="0.8"/>
<circle cx="614.08" cy="127.1" r="2.0" fill="#E64B35" fill-opacity="0.8"/>
<circle cx="602.86" cy="100.32" r="2.0" fill="#E64B35" fill-opacity="0.8"/>
<circle cx="617.49" cy="122.36" r="2.0" fill="#E64B35" fill-opacity="0.8"/>
<circle cx="605.43" cy="139.68" r="2.0" fill="#E64B35" fill-opacity="0.8"/>
<circle cx="594.23" cy="116.35" r="2.0" fill="#E64B35" fill-opacity="0.8"/>
<circle cx="613.75" cy="107.88" r="2.0" fill="#E64B35" fill-opacity="0.8"/>
<circle cx="602.15" cy="74.27" r="2.0" fill="#E64B35" fill-opacity="0.8"/>
<circle cx="610.41" cy="121.42" r="2.0" fill="#E64B35" fill-opacity="0.8"/>
<circle cx="593.01" cy="120.82" r="2.0" fill="#E64B35" fill-opacity="0.8"/>
<circle cx="618.5" cy="122.36" r="2.0" fill="#E64B35" fill-opacity="0.8"/>
<circle cx="606.68" cy="98.33" r="2.0" fill="#E64B35" fill-opacity="0.8"/>
<circle cx="612.93" cy="116.35" r="2.0" fill="#E64B35" fill-opacity="0.8"/>
<circle cx="595.22" cy="119.22" r="2.0" fill="#E64B35" fill-opacity="0.8"/>
<circle cx="610.01" cy="111.09" r="2.0" fill="#E64B35" fill-opacity="0.8"/>
<circle cx="604.47" cy="142.5" r="2.0" fill="#E64B35" fill-opacity="0.8"/>
<circle cx="598.57" cy="117.57" r="2.0" fill="#E64B35" fill-opacity="0.8"/>
<circle cx="615.66" cy="103.21" r="2.0" fill="#E64B35" fill-opacity="0.8"/>
<circle cx="592.44" cy="118.58" r="2.0" fill="#E64B35" fill-opacity="0.8"/>
<circle cx="605.48" cy="87.07" r="2.0" fill="#E64B35" fill-opacity="0.8"/>
<circle cx="592.64" cy="103.35" r="2.0" fill="#E64B35" fill-opacity="0.8"/>
<circle cx="617.05" cy="107.47" r="2.0" fill="#E64B35" fill-opacity="0.8"/>
<circle cx="616" cy="124.47" r="2.0" fill="#E64B35" fill-opacity="0.8"/>
<circle cx="590.66" cy="109.76" r="2.0" fill="#E64B35" fill-opacity="0.8"/>
<circle cx="605.02" cy="130.32" r="2.0" fill="#E64B35" fill-opacity="0.8"/>
<circle cx="604.7" cy="109.45" r="2.0" fill="#E64B35" fill-opacity="0.8"/>
<circle cx="607.89" cy="72.43" r="2.0" fill="#E64B35" fill-opacity="0.8"/>
<circle cx="612.91" cy="113.46" r="2.0" fill="#E64B35" fill-opacity="0.8"/>
<circle cx="604.13" cy="187.97" r="2.0" fill="#E64B35" fill-opacity="0.8"/>
<circle cx="613.71" cy="92.16" r="2.0" fill="#E64B35" fill-opacity="0.8"/>
<circle cx="596.76" cy="117.92" r="2.0" fill="#E64B35" fill-opacity="0.8"/>
<circle cx="595.37" cy="117.48" r="2.0" fill="#E64B35" fill-opacity="0.8"/>
<circle cx="608.85" cy="140.2" r="2.0" fill="#E64B35" fill-opacity="0.8"/>
<circle cx="593.69" cy="104.52" r="2.0" fill="#E64B35" fill-opacity="0.8"/>
<circle cx="596.77" cy="117.67" r="2.0" fill="#E64B35" fill-opacity="0.8"/>
<circle cx="605.7" cy="113.45" r="2.0" fill="#E64B35" fill-opacity="0.8"/>
<circle cx="604.06" cy="165.85" r="2.0" fill="#E64B35" fill-opacity="0.8"/>
<circle cx="595.07" cy="102.67" r="2.0" fill="#E64B35" fill-opacity="0.8"/>
<circle cx="616.97" cy="120.92" r="2.0" fill="#E64B35" fill-opacity="0.8"/>
<circle cx="604.96" cy="117.55" r="2.0" fill="#E64B35" fill-opacity="0.8"/>
<circle cx="614.74" cy="103.13" r="2.0" fill="#E64B35" fill-opacity="0.8"/>
<circle cx="599.69" cy="98.59" r="2.0" fill="#E64B35" fill-opacity="0.8"/>
<circle cx="613.58" cy="130.84" r="2.0" fill="#E64B35" fill-opacity="0.8"/>
<circle cx="596.69" cy="107.79" r="2.0" fill="#E64B35" fill-opacity="0.8"/>
<circle cx="609.76" cy="176.68" r="2.0" fill="#E64B35" fill-opacity="0.8"/>
<circle cx="606.83" cy="144.18" r="2.0" fill="#E64B35" fill-opacity="0.8"/>
<circle cx="619.09" cy="120.59" r="2.0" fill="#E64B35" fill-opacity="0.8"/>
<circle cx="608.41" cy="86.22" r="2.0" fill="#E64B35" fill-opacity="0.8"/>
<circle cx="609.13" cy="121.91" r="2.0" fill="#E64B35" fill-opacity="0.8"/>
<circle cx="606.65" cy="99.89" r="2.0" fill="#E64B35" fill-opacity="0.8"/>
<circle cx="614.23" cy="98.61" r="2.0" fill="#E64B35" fill-opacity="0.8"/>
<circle cx="604.34" cy="98.82" r="2.0" fill="#E64B35" fill-opacity="0.8"/>
<circle cx="595.17" cy="121.46" r="2.0" fill="#E64B35" fill-opacity="0.8"/>
<circle cx="613.61" cy="131.39" r="2.0" fill="#E64B35" fill-opacity="0.8"/>
<circle cx="613.05" cy="95.52" r="2.0" fill="#E64B35" fill-opacity="0.8"/>
<circle cx="611.45" cy="103.05" r="2.0" fill="#E64B35" fill-opacity="0.8"/>
<circle cx="612.11" cy="121.1" r="2.0" fill="#E64B35" fill-opacity="0.8"/>
<circle cx="597.64" cy="115.99" r="2.0" fill="#E64B35" fill-opacity="0.8"/>
<circle cx="604.85" cy="125.9" r="2.0" fill="#E64B35" fill-opacity="0.8"/>
<circle cx="611.87" cy="128.66" r="2.0" fill="#E64B35" fill-opacity="0.8"/>
<circle cx="611.89" cy="88.14" r="2.0" fill="#E64B35" fill-opacity="0.8"/>
<circle cx="617.88" cy="100.08" r="2.0" fill="#E64B35" fill-opacity="0.8"/>
<circle cx="602.3" cy="67.19" r="2.0" fill="#E64B35" fill-opacity="0.8"/>
<circle cx="611.51" cy="105.54" r="2.0" fill="#E64B35" fill-opacity="0.8"/>
<circle cx="606.73" cy="129.33" r="2.0" fill="#E64B35" fill-opacity="0.8"/>
<circle cx="604.75" cy="58.61" r="2.0" fill="#E64B35" fill-opacity="0.8"/>
<circle cx="598.04" cy="127.16" r="2.0" fill="#E64B35" fill-opacity="0.8"/>
<circle cx="595.26" cy="102.18" r="2.0" fill="#E64B35" fill-opacity="0.8"/>
<circle cx="604.76" cy="103.93" r="2.0" fill="#E64B35" fill-opacity="0.8"/>
<circle cx="605.51" cy="118.63" r="2.0" fill="#E64B35" fill-opacity="0.8"/>
<circle cx="599.02" cy="101.93" r="2.0" fill="#E64B35" fill-opacity="0.8"/>
<circle cx="604.38" cy="85.62" r="2.0" fill="#E64B35" fill-opacity="0.8"/>
<circle cx="607.45" cy="106.98" r="2.0" fill="#E64B35" fill-opacity="0.8"/>
<circle cx="609.21" cy="89.44" r="2.0" fill="#E64B35" fill-opacity="0.8"/>
<circle cx="608.27" cy="101.35" r="2.0" fill="#E64B35" fill-opacity="0.8"/>
<circle cx="601.88" cy="137.99" r="2.0" fill="#E64B35" fill-opacity="0.8"/>
<circle cx="609.56" cy="80.93" r="2.0" fill="#E64B35" fill-opacity="0.8"/>
<circle cx="604.21" cy="137.28" r="2.0" fill="#E64B35" fill-opacity="0.8"/>
<circle cx="610.3" cy="139.79" r="2.0" fill="#E64B35" fill-opacity="0.8"/>
<circle cx="620.18" cy="114.41" r="2.0" fill="#E64B35" fill-opacity="0.8"/>
<circle cx="602.1" cy="142.55" r="2.0" fill="#E64B35" fill-opacity="0.8"/>
<circle cx="607.6" cy="127.01" r="2.0" fill="#E64B35" fill-opacity="0.8"/>
<circle cx="619.14" cy="100.68" r="2.0" fill="#E64B35" fill-opacity="0.8"/>
<circle cx="603.5" cy="130.03" r="2.0" fill="#E64B35" fill-opacity="0.8"/>
<circle cx="607.23" cy="108.18" r="2.0" fill="#E64B35" fill-opacity="0.8"/>
<circle cx="600.82" cy="122.92" r="2.0" fill="#E64B35" fill-opacity="0.8"/>
<circle cx="600.99" cy="141.27" r="2.0" fill="#E64B35" fill-opacity="0.8"/>
<circle cx="598.89" cy="126.25" r="2.0" fill="#E64B35" fill-opacity="0.8"/>
<circle cx="601.94" cy="55.66" r="2.0" fill="#E64B35" fill-opacity="0.8"/>
<circle cx="600.73" cy="127.53" r="2.0" fill="#E64B35" fill-opacity="0.8"/>
<circle cx="609.59" cy="114.04" r="2.0" fill="#E64B35" fill-opacity="0.8"/>
<circle cx="607.35" cy="121.69" r="2.0" fill="#E64B35" fill-opacity="0.8"/>
<circle cx="618.6" cy="100.23" r="2.0" fill="#E64B35" fill-opacity="0.8"/>
<circle cx="607.55" cy="140.27" r="2.0" fill="#E64B35" fill-opacity="0.8"/>
<circle cx="601.37" cy="112.27" r="2.0" fill="#E64B35" fill-opacity="0.8"/>
<circle cx="610.19" cy="143.99" r="2.0" fill="#E64B35" fill-opacity="0.8"/>
<circle cx="607.04" cy="80.26" r="2.0" fill="#E64B35" fill-opacity="0.8"/>
<circle cx="607.06" cy="112.12" r="2.0" fill="#E64B35" fill-opacity="0.8"/>
<circle cx="614.42" cy="97.46" r="2.0" fill="#E64B35" fill-opacity="0.8"/>
<circle cx="610.81" cy="116.41" r="2.0" fill="#E64B35" fill-opacity="0.8"/>
<circle cx="602.04" cy="123.76" r="2.0" fill="#E64B35" fill-opacity="0.8"/>
<circle cx="608.22" cy="98.9" r="2.0" fill="#E64B35" fill-opacity="0.8"/>
<circle cx="599.69" cy="116.17" r="2.0" fill="#E64B35" fill-opacity="0.8"/>
<circle cx="614.67" cy="128.88" r="2.0" fill="#E64B35" fill-opacity="0.8"/>
<circle cx="603.14" cy="171.42" r="2.0" fill="#E64B35" fill-opacity="0.8"/>
<circle cx="618.09" cy="123.36" r="2.0" fill="#E64B35" fill-opacity="0.8"/>
<circle cx="601.34" cy="169.59" r="2.0" fill="#E64B35" fill-opacity="0.8"/>
<circle cx="596.33" cy="130.74" r="2.0" fill="#E64B35" fill-opacity="0.8"/>
<circle cx="607.23" cy="102.4" r="2.0" fill="#E64B35" fill-opacity="0.8"/>
<circle cx="596.85" cy="116.92" r="2.0" fill="#E64B35" fill-opacity="0.8"/>
<circle cx="605.77" cy="86.11" r="2.0" fill="#E64B35" fill-opacity="0.8"/>
<circle cx="601.88" cy="157.78" r="2.0" fill="#E64B35" fill-opacity="0.8"/>
<circle cx="611.94" cy="94.23" r="2.0" fill="#E64B35" fill-opacity="0.8"/>
<circle cx="610.5" cy="120.8" r="2.0" fill="#E64B35" fill-opacity="0.8"/>
<circle cx="611" cy="101.5" r="2.0" fill="#E64B35" fill-opacity="0.8"/>
<circle cx="616.88" cy="122.52" r="2.0" fill="#E64B35" fill-opacity="0.8"/>
<circle cx="619.69" cy="119.65" r="2.0" fill="#E64B35" fill-opacity="0.8"/>
<circle cx="609.11" cy="131.63" r="2.0" fill="#E64B35" fill-opacity="0.8"/>
<circle cx="612.41" cy="112.9" r="2.0" fill="#E64B35" fill-opacity="0.8"/>
<circle cx="594.21" cy="126.75" r="2.0" fill="#E64B35" fill-opacity="0.8"/>
<circle cx="593.89" cy="121.75" r="2.0" fill="#E64B35" fill-opacity="0.8"/>
<circle cx="604.34" cy="91.73" r="2.0" fill="#E64B35" fill-opacity="0.8"/>
<circle cx="619.2" cy="102.29" r="2.0" fill="#E64B35" fill-opacity="0.8"/>
<circle cx="603.83" cy="75.96" r="2.0" fill="#E64B35" fill-opacity="0.8"/>
<circle cx="606.47" cy="136.23" r="2.0" fill="#E64B35" fill-opacity="0.8"/>
<circle cx="590.17" cy="104.42" r="2.0" fill="#E64B35" fill-opacity="0.8"/>
<circle cx="603.31" cy="120.33" r="2.0" fill="#E64B35" fill-opacity="0.8"/>
<circle cx="615.38" cy="97.61" r="2.0" fill="#E64B35" fill-opacity="0.8"/>
<circle cx="607.76" cy="126.11" r="2.0" fill="#E64B35" fill-opacity="0.8"/>
<circle cx="613.18" cy="125.7" r="2.0" fill="#E64B35" fill-opacity="0.8"/>
<circle cx="589.97" cy="109.02" r="2.0" fill="#E64B35" fill-opacity="0.8"/>
<circle cx="596.3" cy="105.52" r="2.0" fill="#E64B35" fill-opacity="0.8"/>
<circle cx="602.08" cy="136.4" r="2.0" fill="#E64B35" fill-opacity="0.8"/>
<circle cx="615.26" cy="100.88" r="2.0" fill="#E64B35" fill-opacity="0.8"/>
<circle cx="593.16" cy="110.07" r="2.0" fill="#E64B35" fill-opacity="0.8"/>
<circle cx="615.66" cy="124.8" r="2.0" fill="#E64B35" fill-opacity="0.8"/>
<circle cx="602.21" cy="132.58" r="2.0" fill="#E64B35" fill-opacity="0.8"/>
<circle cx="616.65" cy="100.41" r="2.0" fill="#E64B35" fill-opacity="0.8"/>
<circle cx="606.19" cy="110" r="2.0" fill="#E64B35" fill-opacity="0.8"/>
<circle cx="600.12" cy="105.2" r="2.0" fill="#E64B35" fill-opacity="0.8"/>
<circle cx="617.92" cy="122.81" r="2.0" fill="#E64B35" fill-opacity="0.8"/>
<circle cx="602.71" cy="111.53" r="2.0" fill="#E64B35" fill-opacity="0.8"/>
<circle cx="609.35" cy="94.67" r="2.0" fill="#E64B35" fill-opacity="0.8"/>
<circle cx="593.4" cy="118.31" r="2.0" fill="#E64B35" fill-opacity="0.8"/>
<circle cx="616.15" cy="104.95" r="2.0" fill="#E64B35" fill-opacity="0.8"/>
<circle cx="614.61" cy="92.78" r="2.0" fill="#E64B35" fill-opacity="0.8"/>
<circle cx="600.48" cy="90.97" r="2.0" fill="#E64B35" fill-opacity="0.8"/>
<circle cx="609" cy="91.12" r="2.0" fill="#E64B35" fill-opacity="0.8"/>
<path d="M605.7,70V101.4M605.7,123.5V156.2" stroke="#222" stroke-width="1.2"/>
<rect x="589" y="101.4" width="33.4" height="22.1" fill="#E64B35" fill-opacity="0.7" stroke="#1a1a1a" stroke-width="1.25"/>
<path d="M589,111.2H622.4" stroke="#1a1a1a" stroke-width="1.25"/>
<path d="M647.41,142 L646.94,139.25 L646.62,136.5 L646.36,133.75 L645.89,131 L644.96,128.25 L643.42,125.5 L641.33,122.75 L638.93,120 L636.52,117.25 L634.35,114.5 L632.62,111.75 L631.54,109 L631.3,106.25 L631.91,103.5 L633.1,100.75 L634.41,98 L635.49,95.25 L636.28,92.5 L637.03,89.75 L638.06,87 L639.52,84.25 L641.35,81.5 L643.29,78.75 L645.09,76 L646.61,73.25 L647.8,70.5 L648.7,67.75 L649.34,65 L649.78,62.25 L650.04,59.5 L650.19,56.75 L650.25,54 L650.27,51.25 L650.26,48.5 L650.21,45.75 L650.13,43 L650.01,40.25 L649.88,37.5 L649.77,34.75 L649.73,32 L650.87,32 L650.83,34.75 L650.72,37.5 L650.59,40.25 L650.47,43 L650.39,45.75 L650.34,48.5 L650.33,51.25 L650.35,54 L650.41,56.75 L650.56,59.5 L650.82,62.25 L651.26,65 L651.9,67.75 L652.8,70.5 L653.99,73.25 L655.51,76 L657.31,78.75 L659.25,81.5 L661.08,84.25 L662.54,87 L663.57,89.75 L664.32,92.5 L665.11,95.25 L666.19,98 L667.5,100.75 L668.69,103.5 L669.3,106.25 L669.06,109 L667.98,111.75 L666.25,114.5 L664.08,117.25 L661.67,120 L659.27,122.75 L657.18,125.5 L655.64,128.25 L654.71,131 L654.24,133.75 L653.98,136.5 L653.66,139.25 L653.19,142Z" fill="#4DBBD5" fill-opacity="0.45"/>
<circle cx="650.13" cy="32" r="2.0" fill="#4DBBD5" fill-opacity="0.8"/>
<circle cx="648.67" cy="142" r="2.0" fill="#4DBBD5" fill-opacity="0.8"/>
<circle cx="648.38" cy="82.87" r="2.0" fill="#4DBBD5" fill-opacity="0.8"/>
<circle cx="650.4" cy="137.22" r="2.0" fill="#4DBBD5" fill-opacity="0.8"/>
<circle cx="652" cy="120.2" r="2.0" fill="#4DBBD5" fill-opacity="0.8"/>
<circle cx="641.62" cy="102.34" r="2.0" fill="#4DBBD5" fill-opacity="0.8"/>
<circle cx="644.7" cy="95.34" r="2.0" fill="#4DBBD5" fill-opacity="0.8"/>
<circle cx="650.39" cy="111.12" r="2.0" fill="#4DBBD5" fill-opacity="0.8"/>
<circle cx="650.39" cy="93.04" r="2.0" fill="#4DBBD5" fill-opacity="0.8"/>
<circle cx="648.4" cy="115.88" r="2.0" fill="#4DBBD5" fill-opacity="0.8"/>
<circle cx="654" cy="89.08" r="2.0" fill="#4DBBD5" fill-opacity="0.8"/>
<circle cx="641.1" cy="102.07" r="2.0" fill="#4DBBD5" fill-opacity="0.8"/>
<circle cx="651.33" cy="106.59" r="2.0" fill="#4DBBD5" fill-opacity="0.8"/>
<circle cx="643.29" cy="104.66" r="2.0" fill="#4DBBD5" fill-opacity="0.8"/>
<circle cx="658.2" cy="101.97" r="2.0" fill="#4DBBD5" fill-opacity="0.8"/>
<circle cx="653.4" cy="80.79" r="2.0" fill="#4DBBD5" fill-opacity="0.8"/>
<circle cx="658.75" cy="113.01" r="2.0" fill="#4DBBD5" fill-opacity="0.8"/>
<circle cx="650.64" cy="119.6" r="2.0" fill="#4DBBD5" fill-opacity="0.8"/>
<circle cx="642.96" cy="101.97" r="2.0" fill="#4DBBD5" fill-opacity="0.8"/>
<circle cx="661.84" cy="113.68" r="2.0" fill="#4DBBD5" fill-opacity="0.8"/>
<circle cx="650.56" cy="93.75" r="2.0" fill="#4DBBD5" fill-opacity="0.8"/>
<circle cx="649.05" cy="140.21" r="2.0" fill="#4DBBD5" fill-opacity="0.8"/>
<circle cx="644.62" cy="115.14" r="2.0" fill="#4DBBD5" fill-opacity="0.8"/>
<circle cx="647.24" cy="104.61" r="2.0" fill="#4DBBD5" fill-opacity="0.8"/>
<circle cx="657.04" cy="107.29" r="2.0" fill="#4DBBD5" fill-opacity="0.8"/>
<circle cx="660.59" cy="106.59" r="2.0" fill="#4DBBD5" fill-opacity="0.8"/>
<circle cx="649.83" cy="98.72" r="2.0" fill="#4DBBD5" fill-opacity="0.8"/>
<circle cx="656.12" cy="94.39" r="2.0" fill="#4DBBD5" fill-opacity="0.8"/>
<circle cx="641.15" cy="108.55" r="2.0" fill="#4DBBD5" fill-opacity="0.8"/>
<circle cx="649.37" cy="119.71" r="2.0" fill="#4DBBD5" fill-opacity="0.8"/>
<circle cx="645.71" cy="106.41" r="2.0" fill="#4DBBD5" fill-opacity="0.8"/>
<circle cx="648.36" cy="76.88" r="2.0" fill="#4DBBD5" fill-opacity="0.8"/>
<circle cx="647.73" cy="84.69" r="2.0" fill="#4DBBD5" fill-opacity="0.8"/>
<circle cx="656.27" cy="116" r="2.0" fill="#4DBBD5" fill-opacity="0.8"/>
<circle cx="654.81" cy="119.46" r="2.0" fill="#4DBBD5" fill-opacity="0.8"/>
<circle cx="644.94" cy="85.3" r="2.0" fill="#4DBBD5" fill-opacity="0.8"/>
<circle cx="644.76" cy="85.73" r="2.0" fill="#4DBBD5" fill-opacity="0.8"/>
<circle cx="659.19" cy="103.58" r="2.0" fill="#4DBBD5" fill-opacity="0.8"/>
<circle cx="653.79" cy="90.27" r="2.0" fill="#4DBBD5" fill-opacity="0.8"/>
<circle cx="655.99" cy="106.25" r="2.0" fill="#4DBBD5" fill-opacity="0.8"/>
<circle cx="653.47" cy="118.29" r="2.0" fill="#4DBBD5" fill-opacity="0.8"/>
<circle cx="653.84" cy="84.33" r="2.0" fill="#4DBBD5" fill-opacity="0.8"/>
<circle cx="643.2" cy="103.68" r="2.0" fill="#4DBBD5" fill-opacity="0.8"/>
<circle cx="641.16" cy="85.99" r="2.0" fill="#4DBBD5" fill-opacity="0.8"/>
<circle cx="648.18" cy="81.86" r="2.0" fill="#4DBBD5" fill-opacity="0.8"/>
<circle cx="635.2" cy="106.33" r="2.0" fill="#4DBBD5" fill-opacity="0.8"/>
<circle cx="658.76" cy="83.46" r="2.0" fill="#4DBBD5" fill-opacity="0.8"/>
<circle cx="651.09" cy="110.31" r="2.0" fill="#4DBBD5" fill-opacity="0.8"/>
<circle cx="653.59" cy="119.64" r="2.0" fill="#4DBBD5" fill-opacity="0.8"/>
<circle cx="654.97" cy="130.02" r="2.0" fill="#4DBBD5" fill-opacity="0.8"/>
<circle cx="654.94" cy="122.44" r="2.0" fill="#4DBBD5" fill-opacity="0.8"/>
<circle cx="641.84" cy="104.17" r="2.0" fill="#4DBBD5" fill-opacity="0.8"/>
<circle cx="645.2" cy="104.05" r="2.0" fill="#4DBBD5" fill-opacity="0.8"/>
<circle cx="638.54" cy="111.23" r="2.0" fill="#4DBBD5" fill-opacity="0.8"/>
<circle cx="657.35" cy="91.58" r="2.0" fill="#4DBBD5" fill-opacity="0.8"/>
<circle cx="654.88" cy="120.57" r="2.0" fill="#4DBBD5" fill-opacity="0.8"/>
<circle cx="650.02" cy="89.26" r="2.0" fill="#4DBBD5" fill-opacity="0.8"/>
<circle cx="646.48" cy="101.53" r="2.0" fill="#4DBBD5" fill-opacity="0.8"/>
<circle cx="648" cy="73.85" r="2.0" fill="#4DBBD5" fill-opacity="0.8"/>
<circle cx="649.89" cy="110.13" r="2.0" fill="#4DBBD5" fill-opacity="0.8"/>
<circle cx="652.42" cy="131.98" r="2.0" fill="#4DBBD5" fill-opacity="0.8"/>
<circle cx="658.53" cy="86.69" r="2.0" fill="#4DBBD5" fill-opacity="0.8"/>
<circle cx="661.42" cy="109.26" r="2.0" fill="#4DBBD5" fill-opacity="0.8"/>
<circle cx="662.02" cy="108.59" r="2.0" fill="#4DBBD5" fill-opacity="0.8"/>
<circle cx="648.47" cy="111.76" r="2.0" fill="#4DBBD5" fill-opacity="0.8"/>
<circle cx="648.42" cy="91.81" r="2.0" fill="#4DBBD5" fill-opacity="0.8"/>
<circle cx="645.28" cy="97.86" r="2.0" fill="#4DBBD5" fill-opacity="0.8"/>
<circle cx="661.6" cy="92.84" r="2.0" fill="#4DBBD5" fill-opacity="0.8"/>
<circle cx="642.88" cy="116.04" r="2.0" fill="#4DBBD5" fill-opacity="0.8"/>
<circle cx="639.6" cy="103.63" r="2.0" fill="#4DBBD5" fill-opacity="0.8"/>
<circle cx="645.17" cy="117.45" r="2.0" fill="#4DBBD5" fill-opacity="0.8"/>
<circle cx="663.5" cy="104.55" r="2.0" fill="#4DBBD5" fill-opacity="0.8"/>
<circle cx="661.69" cy="105.1" r="2.0" fill="#4DBBD5" fill-opacity="0.8"/>
<circle cx="648.61" cy="71.3" r="2.0" fill="#4DBBD5" fill-opacity="0.8"/>
<circle cx="653.82" cy="141.92" r="2.0" fill="#4DBBD5" fill-opacity="0.8"/>
<circle cx="659.61" cy="91.5" r="2.0" fill="#4DBBD5" fill-opacity="0.8"/>
<circle cx="648.66" cy="89.66" r="2.0" fill="#4DBBD5" fill-opacity="0.8"/>
<circle cx="643.36" cy="90.32" r="2.0" fill="#4DBBD5" fill-opacity="0.8"/>
<circle cx="657.7" cy="114.59" r="2.0" fill="#4DBBD5" fill-opacity="0.8"/>
<circle cx="649.05" cy="135.13" r="2.0" fill="#4DBBD5" fill-opacity="0.8"/>
<path d="M650.3,70V94.6M650.3,114.7V139.9" stroke="#222" stroke-width="1.2"/>
<rect x="633.6" y="94.6" width="33.4" height="20.1" fill="#4DBBD5" fill-opacity="0.7" stroke="#1a1a1a" stroke-width="1.25"/>
<path d="M633.6,103.9H667" stroke="#1a1a1a" stroke-width="1.25"/>
</g>
<rect x="579.3" y="15.9" width="97.1" height="182.2" fill="none" stroke="#333333" stroke-width="1.3"/>
<path d="M576.8,30.1H579.3" stroke="#3A3A3A" stroke-width="0.8"/>
<text x="575.8" y="32.26" font-size="6.4" fill="#3A3A3A" text-anchor="end">4</text>
<path d="M576.8,71.2H579.3" stroke="#3A3A3A" stroke-width="0.8"/>
<text x="575.8" y="73.36" font-size="6.4" fill="#3A3A3A" text-anchor="end">2</text>
<path d="M576.8,112.3H579.3" stroke="#3A3A3A" stroke-width="0.8"/>
<text x="575.8" y="114.46" font-size="6.4" fill="#3A3A3A" text-anchor="end">0</text>
<path d="M576.8,153.4H579.3" stroke="#3A3A3A" stroke-width="0.8"/>
<text x="575.8" y="155.56" font-size="6.4" fill="#3A3A3A" text-anchor="end">&#8722;2</text>
<path d="M576.8,194.5H579.3" stroke="#3A3A3A" stroke-width="0.8"/>
<text x="575.8" y="196.66" font-size="6.4" fill="#3A3A3A" text-anchor="end">&#8722;4</text>
<path d="M605.7,198.1V200.6" stroke="#3A3A3A" stroke-width="0.8"/>
<path d="M650.3,198.1V200.6" stroke="#3A3A3A" stroke-width="0.8"/>
<text x="610" y="207.5" font-size="7.2" fill="#2a2a2a" text-anchor="end" transform="rotate(-45 610 207.5)">N0</text>
<text x="654.6" y="207.5" font-size="7.2" fill="#2a2a2a" text-anchor="end" transform="rotate(-45 654.6 207.5)">N1</text>
<text x="627.8" y="12.2" font-size="8.32" fill="#8C2530" text-anchor="middle" font-weight="bold">TCGA_PRAD</text>
<text x="627.8" y="28.5" font-size="7.6" fill="#111" text-anchor="middle">Wilcoxon, p = 0.00044</text>
<text x="0" y="0" font-size="8" fill="#8C2530" text-anchor="middle" font-weight="bold"></text>
<text x="567.8" y="108.6" font-size="8" fill="#8C2530" text-anchor="middle" font-weight="bold" transform="rotate(-90 567.8 108.6)">CHMP4C Expression (z&#8722;score)</text>
<text x="0" y="249.8" font-size="16" fill="#000" text-anchor="start">B</text>
<clipPath id="b1"><rect x="37.8" y="245.6" width="131" height="92.2"/></clipPath>
<rect x="37.8" y="245.6" width="131" height="92.2" fill="#E9EDEE"/>
<path d="M37.8,249.3H168.8" stroke="#C5CACD" stroke-width="1.1" stroke-dasharray="5 5"/>
<path d="M35.3,249.3H37.8" stroke="#3A3A3A" stroke-width="0.8"/>
<text x="34.6" y="251.2" font-size="5.3" fill="#3A3A3A" text-anchor="end">1.00</text>
<path d="M37.8,270.48H168.8" stroke="#C5CACD" stroke-width="1.1" stroke-dasharray="5 5"/>
<path d="M35.3,270.48H37.8" stroke="#3A3A3A" stroke-width="0.8"/>
<text x="34.6" y="272.38" font-size="5.3" fill="#3A3A3A" text-anchor="end">0.75</text>
<path d="M37.8,291.65H168.8" stroke="#C5CACD" stroke-width="1.1" stroke-dasharray="5 5"/>
<path d="M35.3,291.65H37.8" stroke="#3A3A3A" stroke-width="0.8"/>
<text x="34.6" y="293.55" font-size="5.3" fill="#3A3A3A" text-anchor="end">0.50</text>
<path d="M37.8,312.82H168.8" stroke="#C5CACD" stroke-width="1.1" stroke-dasharray="5 5"/>
<path d="M35.3,312.82H37.8" stroke="#3A3A3A" stroke-width="0.8"/>
<text x="34.6" y="314.72" font-size="5.3" fill="#3A3A3A" text-anchor="end">0.25</text>
<path d="M37.8,334H168.8" stroke="#C5CACD" stroke-width="1.1" stroke-dasharray="5 5"/>
<path d="M35.3,334H37.8" stroke="#3A3A3A" stroke-width="0.8"/>
<text x="34.6" y="335.9" font-size="5.3" fill="#3A3A3A" text-anchor="end">0.00</text>
<g clip-path="url(#b1)">
<path d="M43.6,249.3H44.88V250.24H46.16V251.18H47.44V252.12H48.72V253.06H50V254H51.33V254.83H52.67V255.67H54V256.5H55.33V257.33H56.67V258.17H58V259H59.09V259.86H60.17V260.71H61.26V261.57H62.34V262.43H63.43V263.29H64.51V264.14H65.6V265H66.62V265.95H67.65V266.9H68.67V267.85H69.7V268.8H70.72V269.75H71.75V270.7H72.77V271.65H73.8V272.6H75.8V276.7H85V278.7H89.1V282.8H91.6V286.4H98.3V293.8H154" fill="none" stroke="#E64B35" stroke-width="1.35"/>
<path d="M80,275.1V278.3M104,292.2V295.4M122,292.2V295.4M126,292.2V295.4M139,292.2V295.4M154,292.2V295.4M46.3,249.69V252.89M52.79,254.14V257.34M57.54,257.11V260.31M63.65,261.86V265.06M67.52,265.18V268.38M67.81,265.45V268.65M80.82,275.1V278.3M92.46,284.8V288M147.34,292.2V295.4M153.88,292.2V295.4M112.36,292.2V295.4M107.26,292.2V295.4M131.96,292.2V295.4M114.98,292.2V295.4" stroke="#E64B35" stroke-width="0.8"/>
<path d="M43.6,249.3H45.2V250.23H46.8V251.15H48.4V252.07H50V253H52.25V254H54.5V255H56.75V256H59V257H60.5V257.75H62V258.5H65V259.25H68V260H68.67V260.83H69.33V261.67H70V262.5H70.67V263.33H71.33V264.17H72V265H72.67V265.83H73.33V266.67H74V267.5H74.67V268.33H75.33V269.17H76V270H78V271.05H80V272.1H97.8V276.7H136.7" fill="none" stroke="#4DBBD5" stroke-width="1.35"/>
<path d="M82,270.5V273.7M86,270.5V273.7M90,270.5V273.7M106,275.1V278.3M112,275.1V278.3M118,275.1V278.3M123,275.1V278.3M127,275.1V278.3M136.7,275.1V278.3M45.58,248.84V252.04M53.99,253.18V256.38M57.9,254.91V258.11M62.17,256.94V260.14M71.57,262.86V266.06M74.64,266.71V269.91M79.08,270.02V273.22M87.4,270.5V273.7M122.8,275.1V278.3M104.64,275.1V278.3M131.25,275.1V278.3M128.77,275.1V278.3M103.28,275.1V278.3" stroke="#4DBBD5" stroke-width="0.8"/>
</g>
<rect x="37.8" y="245.6" width="131" height="92.2" fill="none" stroke="#333333" stroke-width="1.1"/>
<path d="M43.3,337.8V340.3" stroke="#3A3A3A" stroke-width="0.8"/>
<text x="43.3" y="345.4" font-size="5.8" fill="#3A3A3A" text-anchor="middle">0</text>
<path d="M83.5,337.8V340.3" stroke="#3A3A3A" stroke-width="0.8"/>
<text x="83.5" y="345.4" font-size="5.8" fill="#3A3A3A" text-anchor="middle">5</text>
<path d="M123.6,337.8V340.3" stroke="#3A3A3A" stroke-width="0.8"/>
<text x="123.6" y="345.4" font-size="5.8" fill="#3A3A3A" text-anchor="middle">10</text>
<path d="M163.9,337.8V340.3" stroke="#3A3A3A" stroke-width="0.8"/>
<text x="163.9" y="345.4" font-size="5.8" fill="#3A3A3A" text-anchor="middle">15</text>
<text x="103.3" y="241.1" font-size="8.3" fill="#8C2530" text-anchor="middle" font-weight="bold">TCGA_PRAD</text>
<text x="45.8" y="311.1" font-size="6.6" fill="#111" text-anchor="start">Log&#8722;rank</text>
<text x="45.8" y="319.3" font-size="6.6" fill="#111" text-anchor="start">p = 0.047</text>
<text x="20.6" y="291.7" font-size="6.3" fill="#8C2530" text-anchor="middle" font-weight="bold" transform="rotate(-90 20.6 291.7)">Progress&#8722;free survival</text>
<rect x="36.9" y="359.4" width="131.3" height="30" fill="#E9EDEE"/>
<text x="37.4" y="355.2" font-size="6.3" fill="#2E6E35" text-anchor="start" font-weight="bold">Number at risk</text>
<path d="M36.9,367H168.2" stroke="#C5CACD" stroke-width="1.1" stroke-dasharray="5 5"/>
<path d="M34.4,367H36.9" stroke="#3A3A3A" stroke-width="0.8"/>
<text x="34.5" y="369.1" font-size="5.9" fill="#E64B35" text-anchor="end">High</text>
<text x="43.3" y="369.1" font-size="5.9" fill="#E64B35" text-anchor="middle" fill-opacity="0.75">240</text>
<text x="83.5" y="369.1" font-size="5.9" fill="#E64B35" text-anchor="middle" fill-opacity="0.75">81</text>
<text x="123.6" y="369.1" font-size="5.9" fill="#E64B35" text-anchor="middle" fill-opacity="0.75">2</text>
<text x="163.9" y="369.1" font-size="5.9" fill="#E64B35" text-anchor="middle" fill-opacity="0.75">0</text>
<path d="M36.9,381H168.2" stroke="#C5CACD" stroke-width="1.1" stroke-dasharray="5 5"/>
<path d="M34.4,381H36.9" stroke="#3A3A3A" stroke-width="0.8"/>
<text x="34.5" y="383.1" font-size="5.9" fill="#4DBBD5" text-anchor="end">Low</text>
<text x="43.3" y="383.1" font-size="5.9" fill="#4DBBD5" text-anchor="middle" fill-opacity="0.75">241</text>
<text x="83.5" y="383.1" font-size="5.9" fill="#4DBBD5" text-anchor="middle" fill-opacity="0.75">29</text>
<text x="123.6" y="383.1" font-size="5.9" fill="#4DBBD5" text-anchor="middle" fill-opacity="0.75">2</text>
<text x="163.9" y="383.1" font-size="5.9" fill="#4DBBD5" text-anchor="middle" fill-opacity="0.75">0</text>
<rect x="36.9" y="359.4" width="131.3" height="30" fill="none" stroke="#333333" stroke-width="1.1"/>
<path d="M43.3,389.4V391.9" stroke="#3A3A3A" stroke-width="0.8"/>
<text x="43.3" y="397" font-size="5.8" fill="#3A3A3A" text-anchor="middle">0</text>
<path d="M83.5,389.4V391.9" stroke="#3A3A3A" stroke-width="0.8"/>
<text x="83.5" y="397" font-size="5.8" fill="#3A3A3A" text-anchor="middle">5</text>
<path d="M123.6,389.4V391.9" stroke="#3A3A3A" stroke-width="0.8"/>
<text x="123.6" y="397" font-size="5.8" fill="#3A3A3A" text-anchor="middle">10</text>
<path d="M163.9,389.4V391.9" stroke="#3A3A3A" stroke-width="0.8"/>
<text x="163.9" y="397" font-size="5.8" fill="#3A3A3A" text-anchor="middle">15</text>
<text x="102.55" y="402.7" font-size="7.2" fill="#8C2530" text-anchor="middle" font-weight="bold">Time in years</text>
<text x="20.9" y="374.4" font-size="6.3" fill="#8C2530" text-anchor="middle" font-weight="bold" transform="rotate(-90 20.9 374.4)">CHMP4C</text>
<clipPath id="b2"><rect x="207.6" y="245.5" width="131.4" height="91.2"/></clipPath>
<rect x="207.6" y="245.5" width="131.4" height="91.2" fill="#E9EDEE"/>
<path d="M207.6,249.5H339" stroke="#C5CACD" stroke-width="1.1" stroke-dasharray="5 5"/>
<path d="M205.1,249.5H207.6" stroke="#3A3A3A" stroke-width="0.8"/>
<text x="204.4" y="251.4" font-size="5.3" fill="#3A3A3A" text-anchor="end">1.00</text>
<path d="M207.6,270.43H339" stroke="#C5CACD" stroke-width="1.1" stroke-dasharray="5 5"/>
<path d="M205.1,270.43H207.6" stroke="#3A3A3A" stroke-width="0.8"/>
<text x="204.4" y="272.32" font-size="5.3" fill="#3A3A3A" text-anchor="end">0.75</text>
<path d="M207.6,291.35H339" stroke="#C5CACD" stroke-width="1.1" stroke-dasharray="5 5"/>
<path d="M205.1,291.35H207.6" stroke="#3A3A3A" stroke-width="0.8"/>
<text x="204.4" y="293.25" font-size="5.3" fill="#3A3A3A" text-anchor="end">0.50</text>
<path d="M207.6,312.27H339" stroke="#C5CACD" stroke-width="1.1" stroke-dasharray="5 5"/>
<path d="M205.1,312.27H207.6" stroke="#3A3A3A" stroke-width="0.8"/>
<text x="204.4" y="314.17" font-size="5.3" fill="#3A3A3A" text-anchor="end">0.25</text>
<path d="M207.6,333.2H339" stroke="#C5CACD" stroke-width="1.1" stroke-dasharray="5 5"/>
<path d="M205.1,333.2H207.6" stroke="#3A3A3A" stroke-width="0.8"/>
<text x="204.4" y="335.1" font-size="5.3" fill="#3A3A3A" text-anchor="end">0.00</text>
<g clip-path="url(#b2)">
<path d="M214.9,249.5H216V257.8H216.21V258.64H216.43V259.49H216.64V260.33H216.86V261.17H217.07V262.01H217.29V262.86H217.5V263.7H217.82V264.62H218.13V265.53H218.45V266.45H218.77V267.37H219.08V268.28H219.4V269.2H226.7V270.6H235.6V272.2H251.4V274.2H275V278.5H319.4" fill="none" stroke="#E64B35" stroke-width="1.35"/>
<path d="M230,269V272.2M240,270.6V273.8M246,270.6V273.8M262,272.6V275.8M270,272.6V275.8M288,276.9V280.1M294,276.9V280.1M298,276.9V280.1M310,276.9V280.1M316,276.9V280.1M234.69,269V272.2M249.01,270.6V273.8M271.13,272.6V275.8M251.99,272.6V275.8M274.53,272.6V275.8M257.53,272.6V275.8M282.59,276.9V280.1M300.61,276.9V280.1M292.81,276.9V280.1M305.62,276.9V280.1M309.13,276.9V280.1M312.49,276.9V280.1M311.9,276.9V280.1" stroke="#E64B35" stroke-width="0.8"/>
<path d="M214.9,249.5H215.12V250.38H215.34V251.26H215.56V252.14H215.78V253.02H216V253.9H220.8V255.8H226.7V257.4H232.6V258.8H244.5V261.1H258.8V263.1H341" fill="none" stroke="#4DBBD5" stroke-width="1.35"/>
<path d="M222,254.2V257.4M234,257.2V260.4M252,259.5V262.7M254,259.5V262.7M274,261.5V264.7M277,261.5V264.7M294,261.5V264.7M300,261.5V264.7M315,261.5V264.7M332,261.5V264.7M336,261.5V264.7M240,257.2V260.4M242.06,257.2V260.4M258.17,259.5V262.7M274.9,261.5V264.7M324.15,261.5V264.7M303.86,261.5V264.7M308.47,261.5V264.7M324.66,261.5V264.7M314.14,261.5V264.7M313.78,261.5V264.7M331.32,261.5V264.7M271.27,261.5V264.7M264.38,261.5V264.7M282.34,261.5V264.7M288.3,261.5V264.7M269.59,261.5V264.7M262.29,261.5V264.7M298.47,261.5V264.7" stroke="#4DBBD5" stroke-width="0.8"/>
</g>
<rect x="207.6" y="245.5" width="131.4" height="91.2" fill="none" stroke="#333333" stroke-width="1.1"/>
<path d="M214.1,336.7V339.2" stroke="#3A3A3A" stroke-width="0.8"/>
<text x="214.1" y="344.3" font-size="5.8" fill="#3A3A3A" text-anchor="middle">0</text>
<path d="M253.6,336.7V339.2" stroke="#3A3A3A" stroke-width="0.8"/>
<text x="253.6" y="344.3" font-size="5.8" fill="#3A3A3A" text-anchor="middle">2</text>
<path d="M293.5,336.7V339.2" stroke="#3A3A3A" stroke-width="0.8"/>
<text x="293.5" y="344.3" font-size="5.8" fill="#3A3A3A" text-anchor="middle">4</text>
<path d="M332.9,336.7V339.2" stroke="#3A3A3A" stroke-width="0.8"/>
<text x="332.9" y="344.3" font-size="5.8" fill="#3A3A3A" text-anchor="middle">6</text>
<text x="273.3" y="241.1" font-size="8.3" fill="#8C2530" text-anchor="middle" font-weight="bold">DKFZ2018</text>
<text x="216.8" y="311.2" font-size="6.6" fill="#111" text-anchor="start">Log&#8722;rank</text>
<text x="216.8" y="319.4" font-size="6.6" fill="#111" text-anchor="start">p = 0.059</text>
<text x="190.6" y="291.5" font-size="6.3" fill="#8C2530" text-anchor="middle" font-weight="bold" transform="rotate(-90 190.6 291.5)">Relapse&#8722;free survival</text>
<rect x="207.6" y="359.4" width="131.4" height="30" fill="#E9EDEE"/>
<text x="208.1" y="355.2" font-size="6.3" fill="#2E6E35" text-anchor="start" font-weight="bold">Number at risk</text>
<path d="M207.6,367H339" stroke="#C5CACD" stroke-width="1.1" stroke-dasharray="5 5"/>
<path d="M205.1,367H207.6" stroke="#3A3A3A" stroke-width="0.8"/>
<text x="205.2" y="369.1" font-size="5.9" fill="#E64B35" text-anchor="end">High</text>
<text x="214.1" y="369.1" font-size="5.9" fill="#E64B35" text-anchor="middle" fill-opacity="0.75">62</text>
<text x="253.6" y="369.1" font-size="5.9" fill="#E64B35" text-anchor="middle" fill-opacity="0.75">81</text>
<text x="293.5" y="369.1" font-size="5.9" fill="#E64B35" text-anchor="middle" fill-opacity="0.75">10</text>
<text x="332.9" y="369.1" font-size="5.9" fill="#E64B35" text-anchor="middle" fill-opacity="0.75">0</text>
<path d="M207.6,381H339" stroke="#C5CACD" stroke-width="1.1" stroke-dasharray="5 5"/>
<path d="M205.1,381H207.6" stroke="#3A3A3A" stroke-width="0.8"/>
<text x="205.2" y="383.1" font-size="5.9" fill="#4DBBD5" text-anchor="end">Low</text>
<text x="214.1" y="383.1" font-size="5.9" fill="#4DBBD5" text-anchor="middle" fill-opacity="0.75">63</text>
<text x="253.6" y="383.1" font-size="5.9" fill="#4DBBD5" text-anchor="middle" fill-opacity="0.75">89</text>
<text x="293.5" y="383.1" font-size="5.9" fill="#4DBBD5" text-anchor="middle" fill-opacity="0.75">26</text>
<text x="332.9" y="383.1" font-size="5.9" fill="#4DBBD5" text-anchor="middle" fill-opacity="0.75">6</text>
<rect x="207.6" y="359.4" width="131.4" height="30" fill="none" stroke="#333333" stroke-width="1.1"/>
<path d="M214.1,389.4V391.9" stroke="#3A3A3A" stroke-width="0.8"/>
<text x="214.1" y="397" font-size="5.8" fill="#3A3A3A" text-anchor="middle">0</text>
<path d="M253.6,389.4V391.9" stroke="#3A3A3A" stroke-width="0.8"/>
<text x="253.6" y="397" font-size="5.8" fill="#3A3A3A" text-anchor="middle">2</text>
<path d="M293.5,389.4V391.9" stroke="#3A3A3A" stroke-width="0.8"/>
<text x="293.5" y="397" font-size="5.8" fill="#3A3A3A" text-anchor="middle">4</text>
<path d="M332.9,389.4V391.9" stroke="#3A3A3A" stroke-width="0.8"/>
<text x="332.9" y="397" font-size="5.8" fill="#3A3A3A" text-anchor="middle">6</text>
<text x="273.3" y="402.7" font-size="7.2" fill="#8C2530" text-anchor="middle" font-weight="bold">Time in years</text>
<text x="191.6" y="374.4" font-size="6.3" fill="#8C2530" text-anchor="middle" font-weight="bold" transform="rotate(-90 191.6 374.4)">CHMP4C</text>
<clipPath id="b3"><rect x="378.1" y="245.5" width="131.5" height="92"/></clipPath>
<rect x="378.1" y="245.5" width="131.5" height="92" fill="#E9EDEE"/>
<path d="M378.1,249.5H509.6" stroke="#C5CACD" stroke-width="1.1" stroke-dasharray="5 5"/>
<path d="M375.6,249.5H378.1" stroke="#3A3A3A" stroke-width="0.8"/>
<text x="374.9" y="251.4" font-size="5.3" fill="#3A3A3A" text-anchor="end">1.00</text>
<path d="M378.1,270.52H509.6" stroke="#C5CACD" stroke-width="1.1" stroke-dasharray="5 5"/>
<path d="M375.6,270.52H378.1" stroke="#3A3A3A" stroke-width="0.8"/>
<text x="374.9" y="272.42" font-size="5.3" fill="#3A3A3A" text-anchor="end">0.75</text>
<path d="M378.1,291.55H509.6" stroke="#C5CACD" stroke-width="1.1" stroke-dasharray="5 5"/>
<path d="M375.6,291.55H378.1" stroke="#3A3A3A" stroke-width="0.8"/>
<text x="374.9" y="293.45" font-size="5.3" fill="#3A3A3A" text-anchor="end">0.50</text>
<path d="M378.1,312.58H509.6" stroke="#C5CACD" stroke-width="1.1" stroke-dasharray="5 5"/>
<path d="M375.6,312.58H378.1" stroke="#3A3A3A" stroke-width="0.8"/>
<text x="374.9" y="314.48" font-size="5.3" fill="#3A3A3A" text-anchor="end">0.25</text>
<path d="M378.1,333.6H509.6" stroke="#C5CACD" stroke-width="1.1" stroke-dasharray="5 5"/>
<path d="M375.6,333.6H378.1" stroke="#3A3A3A" stroke-width="0.8"/>
<text x="374.9" y="335.5" font-size="5.3" fill="#3A3A3A" text-anchor="end">0.00</text>
<g clip-path="url(#b3)">
<path d="M385.3,249.5H385.53V250.46H385.76V251.41H385.99V252.37H386.21V253.33H386.44V254.29H386.67V255.24H386.9V256.2H388.62V257.1H390.35V258H392.07V258.9H393.8V259.8H394.64V260.64H395.49V261.49H396.33V262.33H397.17V263.17H398.01V264.01H398.86V264.86H399.7V265.7H402.33V266.67H404.97V267.63H407.6V268.6H409.23V269.6H410.87V270.6H412.5V271.6H415.25V272.6H418V273.6H436.1V283.4H458.8V294.8H485.4" fill="none" stroke="#E64B35" stroke-width="1.35"/>
<path d="M420,272V275.2M426,272V275.2M445,281.8V285M450,281.8V285M466,293.2V296.4M478,293.2V296.4M391.25,256.87V260.07M396.59,260.99V264.19M407.03,266.79V269.99M411.16,269.18V272.38M417.83,271.94V275.14M420.3,272V275.2M424.62,272V275.2M431.36,272V275.2M442.87,281.8V285M448.95,281.8V285M452.39,281.8V285M477.92,293.2V296.4M465.48,293.2V296.4M460.86,293.2V296.4" stroke="#E64B35" stroke-width="0.8"/>
<path d="M385.3,249.5H385.73V250.35H386.15V251.2H386.57V252.05H387V252.9H389.27V253.87H391.53V254.83H393.8V255.8H395.18V256.68H396.56V257.56H397.94V258.44H399.32V259.32H400.7V260.2H404.63V261.23H408.57V262.27H412.5V263.3H418.9V264.3H425.3V265.3H427.77V266.12H430.25V266.95H432.73V267.78H435.2V268.6H436.17V269.6H437.13V270.6H438.1V271.6H504.1" fill="none" stroke="#4DBBD5" stroke-width="1.35"/>
<path d="M405,259.4V262.6M418,262.4V265.6M430,265.4V268.6M446,270V273.2M452,270V273.2M460,270V273.2M468,270V273.2M478,270V273.2M490,270V273.2M504,270V273.2M390.06,252.6V255.8M397.25,256.4V259.6M407.31,260.34V263.54M406.2,260.04V263.24M419.86,262.85V266.05M418.38,262.62V265.82M413.26,261.82V265.02M425.98,263.93V267.13M428.71,264.84V268.04M477.6,270V273.2M502.64,270V273.2M503.93,270V273.2M448.22,270V273.2M471.38,270V273.2M501.15,270V273.2M453.94,270V273.2" stroke="#4DBBD5" stroke-width="0.8"/>
</g>
<rect x="378.1" y="245.5" width="131.5" height="92" fill="none" stroke="#333333" stroke-width="1.1"/>
<path d="M384.7,337.5V340" stroke="#3A3A3A" stroke-width="0.8"/>
<text x="384.7" y="345.1" font-size="5.8" fill="#3A3A3A" text-anchor="middle">0</text>
<path d="M408.3,337.5V340" stroke="#3A3A3A" stroke-width="0.8"/>
<text x="408.3" y="345.1" font-size="5.8" fill="#3A3A3A" text-anchor="middle">2.5</text>
<path d="M432,337.5V340" stroke="#3A3A3A" stroke-width="0.8"/>
<text x="432" y="345.1" font-size="5.8" fill="#3A3A3A" text-anchor="middle">5</text>
<path d="M455.6,337.5V340" stroke="#3A3A3A" stroke-width="0.8"/>
<text x="455.6" y="345.1" font-size="5.8" fill="#3A3A3A" text-anchor="middle">7.5</text>
<path d="M479.8,337.5V340" stroke="#3A3A3A" stroke-width="0.8"/>
<text x="479.8" y="345.1" font-size="5.8" fill="#3A3A3A" text-anchor="middle">10</text>
<path d="M503.4,337.5V340" stroke="#3A3A3A" stroke-width="0.8"/>
<text x="503.4" y="345.1" font-size="5.8" fill="#3A3A3A" text-anchor="middle">12.5</text>
<text x="443.8" y="241.1" font-size="8.3" fill="#8C2530" text-anchor="middle" font-weight="bold">GSE21034</text>
<text x="386.8" y="311.2" font-size="6.6" fill="#111" text-anchor="start">Log&#8722;rank</text>
<text x="386.8" y="319.4" font-size="6.6" fill="#111" text-anchor="start">p = 0.029</text>
<text x="361.1" y="291.5" font-size="6.3" fill="#8C2530" text-anchor="middle" font-weight="bold" transform="rotate(-90 361.1 291.5)">Relapse&#8722;free survival</text>
<rect x="378.1" y="359.4" width="131.5" height="30" fill="#E9EDEE"/>
<text x="378.6" y="355.2" font-size="6.3" fill="#2E6E35" text-anchor="start" font-weight="bold">Number at risk</text>
<path d="M378.1,367H509.6" stroke="#C5CACD" stroke-width="1.1" stroke-dasharray="5 5"/>
<path d="M375.6,367H378.1" stroke="#3A3A3A" stroke-width="0.8"/>
<text x="375.7" y="369.1" font-size="5.9" fill="#E64B35" text-anchor="end">High</text>
<text x="384.7" y="369.1" font-size="5.9" fill="#E64B35" text-anchor="middle" fill-opacity="0.75">140</text>
<text x="408.3" y="369.1" font-size="5.9" fill="#E64B35" text-anchor="middle" fill-opacity="0.75">86</text>
<text x="432" y="369.1" font-size="5.9" fill="#E64B35" text-anchor="middle" fill-opacity="0.75">88</text>
<text x="455.6" y="369.1" font-size="5.9" fill="#E64B35" text-anchor="middle" fill-opacity="0.75">9</text>
<text x="479.8" y="369.1" font-size="5.9" fill="#E64B35" text-anchor="middle" fill-opacity="0.75">1</text>
<text x="503.4" y="369.1" font-size="5.9" fill="#E64B35" text-anchor="middle" fill-opacity="0.75">0</text>
<path d="M378.1,381H509.6" stroke="#C5CACD" stroke-width="1.1" stroke-dasharray="5 5"/>
<path d="M375.6,381H378.1" stroke="#3A3A3A" stroke-width="0.8"/>
<text x="375.7" y="383.1" font-size="5.9" fill="#4DBBD5" text-anchor="end">Low</text>
<text x="384.7" y="383.1" font-size="5.9" fill="#4DBBD5" text-anchor="middle" fill-opacity="0.75">140</text>
<text x="408.3" y="383.1" font-size="5.9" fill="#4DBBD5" text-anchor="middle" fill-opacity="0.75">104</text>
<text x="432" y="383.1" font-size="5.9" fill="#4DBBD5" text-anchor="middle" fill-opacity="0.75">48</text>
<text x="455.6" y="383.1" font-size="5.9" fill="#4DBBD5" text-anchor="middle" fill-opacity="0.75">15</text>
<text x="479.8" y="383.1" font-size="5.9" fill="#4DBBD5" text-anchor="middle" fill-opacity="0.75">5</text>
<text x="503.4" y="383.1" font-size="5.9" fill="#4DBBD5" text-anchor="middle" fill-opacity="0.75">0</text>
<rect x="378.1" y="359.4" width="131.5" height="30" fill="none" stroke="#333333" stroke-width="1.1"/>
<path d="M384.7,389.4V391.9" stroke="#3A3A3A" stroke-width="0.8"/>
<text x="384.7" y="397" font-size="5.8" fill="#3A3A3A" text-anchor="middle">0</text>
<path d="M408.3,389.4V391.9" stroke="#3A3A3A" stroke-width="0.8"/>
<text x="408.3" y="397" font-size="5.8" fill="#3A3A3A" text-anchor="middle">2.5</text>
<path d="M432,389.4V391.9" stroke="#3A3A3A" stroke-width="0.8"/>
<text x="432" y="397" font-size="5.8" fill="#3A3A3A" text-anchor="middle">5</text>
<path d="M455.6,389.4V391.9" stroke="#3A3A3A" stroke-width="0.8"/>
<text x="455.6" y="397" font-size="5.8" fill="#3A3A3A" text-anchor="middle">7.5</text>
<path d="M479.8,389.4V391.9" stroke="#3A3A3A" stroke-width="0.8"/>
<text x="479.8" y="397" font-size="5.8" fill="#3A3A3A" text-anchor="middle">10</text>
<path d="M503.4,389.4V391.9" stroke="#3A3A3A" stroke-width="0.8"/>
<text x="503.4" y="397" font-size="5.8" fill="#3A3A3A" text-anchor="middle">12.5</text>
<text x="443.85" y="402.7" font-size="7.2" fill="#8C2530" text-anchor="middle" font-weight="bold">Time in years</text>
<text x="362.1" y="374.4" font-size="6.3" fill="#8C2530" text-anchor="middle" font-weight="bold" transform="rotate(-90 362.1 374.4)">CHMP4C</text>
<text x="523.5" y="241.7" font-size="16" fill="#000" text-anchor="start">D</text>
<clipPath id="d1"><rect x="553.6" y="247.6" width="128" height="90.6"/></clipPath>
<rect x="553.6" y="247.6" width="128" height="90.6" fill="#E9EDEE"/>
<path d="M553.6,251.5H681.6" stroke="#C5CACD" stroke-width="1.1" stroke-dasharray="5 5"/>
<path d="M551.1,251.5H553.6" stroke="#3A3A3A" stroke-width="0.8"/>
<text x="550.4" y="253.4" font-size="5.3" fill="#3A3A3A" text-anchor="end">1.00</text>
<path d="M553.6,272.18H681.6" stroke="#C5CACD" stroke-width="1.1" stroke-dasharray="5 5"/>
<path d="M551.1,272.18H553.6" stroke="#3A3A3A" stroke-width="0.8"/>
<text x="550.4" y="274.07" font-size="5.3" fill="#3A3A3A" text-anchor="end">0.75</text>
<path d="M553.6,292.85H681.6" stroke="#C5CACD" stroke-width="1.1" stroke-dasharray="5 5"/>
<path d="M551.1,292.85H553.6" stroke="#3A3A3A" stroke-width="0.8"/>
<text x="550.4" y="294.75" font-size="5.3" fill="#3A3A3A" text-anchor="end">0.50</text>
<path d="M553.6,313.52H681.6" stroke="#C5CACD" stroke-width="1.1" stroke-dasharray="5 5"/>
<path d="M551.1,313.52H553.6" stroke="#3A3A3A" stroke-width="0.8"/>
<text x="550.4" y="315.42" font-size="5.3" fill="#3A3A3A" text-anchor="end">0.25</text>
<path d="M553.6,334.2H681.6" stroke="#C5CACD" stroke-width="1.1" stroke-dasharray="5 5"/>
<path d="M551.1,334.2H553.6" stroke="#3A3A3A" stroke-width="0.8"/>
<text x="550.4" y="336.1" font-size="5.3" fill="#3A3A3A" text-anchor="end">0.00</text>
<g clip-path="url(#d1)">
<path d="M559.5,251.5H559.64V252.42H559.79V253.34H559.93V254.27H560.08V255.19H560.22V256.11H560.37V257.03H560.51V257.96H560.66V258.88H560.8V259.8H561.05V260.66H561.3V261.52H561.55V262.39H561.8V263.25H562.05V264.11H562.3V264.98H562.55V265.84H562.8V266.7H563.09V267.54H563.37V268.39H563.66V269.23H563.94V270.07H564.23V270.91H564.51V271.76H564.8V272.6H566.1V273.47H567.4V274.33H568.7V275.2H569.7V276.18H570.7V277.15H571.7V278.12H572.7V279.1H594.3V281.5H619V285H628.8V289.8H673.2" fill="none" stroke="#E64B35" stroke-width="1.35"/>
<path d="M562,260.4V263.6M566,271.4V274.6M578,277.5V280.7M588,277.5V280.7M600,279.9V283.1M608,279.9V283.1M623,283.4V286.6M640,288.2V291.4M655,288.2V291.4M662,288.2V291.4M670,288.2V291.4M569.7,274.57V277.77M589.64,277.5V280.7M592.1,277.5V280.7M612.4,279.9V283.1M606.09,279.9V283.1M618.71,279.9V283.1M616,279.9V283.1M626.3,283.4V286.6M646.47,288.2V291.4M659.63,288.2V291.4M671.6,288.2V291.4M657.8,288.2V291.4M667.87,288.2V291.4M669.39,288.2V291.4M635.43,288.2V291.4M635.85,288.2V291.4" stroke="#E64B35" stroke-width="0.8"/>
<path d="M559.5,251.5H560.08V252.35H560.65V253.2H561.22V254.05H561.8V254.9H563.52V255.88H565.25V256.85H566.98V257.82H568.7V258.8H570.18V259.8H571.65V260.8H573.12V261.8H574.6V262.8H575.75V263.68H576.9V264.57H578.05V265.45H579.2V266.33H580.35V267.22H581.5V268.1H599.3V277.5H610.1V289H673.8" fill="none" stroke="#4DBBD5" stroke-width="1.35"/>
<path d="M566,255.4V258.6M572,259.4V262.6M580,265.4V268.6M588,266.5V269.7M594,266.5V269.7M606,275.9V279.1M632,287.4V290.6M645,287.4V290.6M660,287.4V290.6M673,287.4V290.6M567.02,256.25V259.45M574.42,261.08V264.28M578.63,264.3V267.5M594.58,266.5V269.7M589.75,266.5V269.7M595.97,266.5V269.7M609.76,275.9V279.1M610.3,287.4V290.6M653.24,287.4V290.6M660.66,287.4V290.6M656.49,287.4V290.6M628.63,287.4V290.6M632.43,287.4V290.6M633.36,287.4V290.6M665.79,287.4V290.6M652.21,287.4V290.6M672.02,287.4V290.6" stroke="#4DBBD5" stroke-width="0.8"/>
</g>
<rect x="553.6" y="247.6" width="128" height="90.6" fill="none" stroke="#333333" stroke-width="1.1"/>
<path d="M559.3,338.2V340.7" stroke="#3A3A3A" stroke-width="0.8"/>
<text x="559.3" y="345.8" font-size="5.8" fill="#3A3A3A" text-anchor="middle">0</text>
<path d="M588.7,338.2V340.7" stroke="#3A3A3A" stroke-width="0.8"/>
<text x="588.7" y="345.8" font-size="5.8" fill="#3A3A3A" text-anchor="middle">5</text>
<path d="M618.1,338.2V340.7" stroke="#3A3A3A" stroke-width="0.8"/>
<text x="618.1" y="345.8" font-size="5.8" fill="#3A3A3A" text-anchor="middle">10</text>
<path d="M647.5,338.2V340.7" stroke="#3A3A3A" stroke-width="0.8"/>
<text x="647.5" y="345.8" font-size="5.8" fill="#3A3A3A" text-anchor="middle">15</text>
<path d="M676.6,338.2V340.7" stroke="#3A3A3A" stroke-width="0.8"/>
<text x="676.6" y="345.8" font-size="5.8" fill="#3A3A3A" text-anchor="middle">20</text>
<text x="618.6" y="241.5" font-size="8.3" fill="#8C2530" text-anchor="middle" font-weight="bold">TCGA_TGCT</text>
<text x="561.9" y="311.5" font-size="6.6" fill="#111" text-anchor="start">Log&#8722;rank</text>
<text x="561.9" y="319.7" font-size="6.6" fill="#111" text-anchor="start">p = 0.045</text>
<text x="536.8" y="292.9" font-size="6.3" fill="#8C2530" text-anchor="middle" font-weight="bold" transform="rotate(-90 536.8 292.9)">Progress&#8722;free survival</text>
<rect x="553.4" y="359.4" width="128.9" height="29.9" fill="#E9EDEE"/>
<text x="553.9" y="355.2" font-size="6.3" fill="#2E6E35" text-anchor="start" font-weight="bold">Number at risk</text>
<path d="M553.4,367H682.3" stroke="#C5CACD" stroke-width="1.1" stroke-dasharray="5 5"/>
<path d="M550.9,367H553.4" stroke="#3A3A3A" stroke-width="0.8"/>
<text x="551" y="369.1" font-size="5.9" fill="#E64B35" text-anchor="end">High</text>
<text x="559.3" y="369.1" font-size="5.9" fill="#E64B35" text-anchor="middle" fill-opacity="0.75">66</text>
<text x="588.7" y="369.1" font-size="5.9" fill="#E64B35" text-anchor="middle" fill-opacity="0.75">24</text>
<text x="618.1" y="369.1" font-size="5.9" fill="#E64B35" text-anchor="middle" fill-opacity="0.75">16</text>
<text x="647.5" y="369.1" font-size="5.9" fill="#E64B35" text-anchor="middle" fill-opacity="0.75">6</text>
<text x="676.6" y="369.1" font-size="5.9" fill="#E64B35" text-anchor="middle" fill-opacity="0.75">0</text>
<path d="M553.4,381H682.3" stroke="#C5CACD" stroke-width="1.1" stroke-dasharray="5 5"/>
<path d="M550.9,381H553.4" stroke="#3A3A3A" stroke-width="0.8"/>
<text x="551" y="383.1" font-size="5.9" fill="#4DBBD5" text-anchor="end">Low</text>
<text x="559.3" y="383.1" font-size="5.9" fill="#4DBBD5" text-anchor="middle" fill-opacity="0.75">67</text>
<text x="588.7" y="383.1" font-size="5.9" fill="#4DBBD5" text-anchor="middle" fill-opacity="0.75">13</text>
<text x="618.1" y="383.1" font-size="5.9" fill="#4DBBD5" text-anchor="middle" fill-opacity="0.75">8</text>
<text x="647.5" y="383.1" font-size="5.9" fill="#4DBBD5" text-anchor="middle" fill-opacity="0.75">8</text>
<text x="676.6" y="383.1" font-size="5.9" fill="#4DBBD5" text-anchor="middle" fill-opacity="0.75">0</text>
<rect x="553.4" y="359.4" width="128.9" height="29.9" fill="none" stroke="#333333" stroke-width="1.1"/>
<path d="M559.3,389.3V391.8" stroke="#3A3A3A" stroke-width="0.8"/>
<text x="559.3" y="396.9" font-size="5.8" fill="#3A3A3A" text-anchor="middle">0</text>
<path d="M588.7,389.3V391.8" stroke="#3A3A3A" stroke-width="0.8"/>
<text x="588.7" y="396.9" font-size="5.8" fill="#3A3A3A" text-anchor="middle">5</text>
<path d="M618.1,389.3V391.8" stroke="#3A3A3A" stroke-width="0.8"/>
<text x="618.1" y="396.9" font-size="5.8" fill="#3A3A3A" text-anchor="middle">10</text>
<path d="M647.5,389.3V391.8" stroke="#3A3A3A" stroke-width="0.8"/>
<text x="647.5" y="396.9" font-size="5.8" fill="#3A3A3A" text-anchor="middle">15</text>
<path d="M676.6,389.3V391.8" stroke="#3A3A3A" stroke-width="0.8"/>
<text x="676.6" y="396.9" font-size="5.8" fill="#3A3A3A" text-anchor="middle">20</text>
<text x="617.85" y="402.6" font-size="7.2" fill="#8C2530" text-anchor="middle" font-weight="bold">Time in years</text>
<text x="537.4" y="374.35" font-size="6.3" fill="#8C2530" text-anchor="middle" font-weight="bold" transform="rotate(-90 537.4 374.35)">CHMP4C</text>
<text x="6.3" y="436" font-size="16" fill="#000" text-anchor="start">C</text>
<clipPath id="c1"><rect x="28.2" y="435.6" width="75.1" height="144.1"/></clipPath>
<rect x="28.2" y="435.6" width="75.1" height="144.1" fill="#E9EDEE"/>
<g clip-path="url(#c1)">
<path d="M28.2,438.8H103.3" stroke="#C5CACD" stroke-width="1.15" stroke-dasharray="5 5"/>
<path d="M28.2,479.6H103.3" stroke="#C5CACD" stroke-width="1.15" stroke-dasharray="5 5"/>
<path d="M28.2,520.4H103.3" stroke="#C5CACD" stroke-width="1.15" stroke-dasharray="5 5"/>
<path d="M28.2,561.2H103.3" stroke="#C5CACD" stroke-width="1.15" stroke-dasharray="5 5"/>
<path d="M42.4,579.7V435.6" stroke="#C5CACD" stroke-width="1.15" stroke-dasharray="5 5"/>
<path d="M65.7,579.7V435.6" stroke="#C5CACD" stroke-width="1.15" stroke-dasharray="5 5"/>
<path d="M89.4,579.7V435.6" stroke="#C5CACD" stroke-width="1.15" stroke-dasharray="5 5"/>
<path d="M39.4,575 L32.31,571.8 L30.94,568.6 L29.57,565.4 L29.59,562.2 L29.8,559 L30.01,555.8 L30.23,552.6 L30.43,549.4 L30.59,546.2 L30.75,543 L30.91,539.8 L31.07,536.6 L31.23,533.4 L31.39,530.2 L31.55,527 L31.71,523.8 L31.87,520.6 L31.94,517.4 L32,514.2 L32.05,511 L32.1,507.8 L32.16,504.6 L32.21,501.4 L32.26,498.2 L32.32,495 L32.37,491.8 L32.54,488.6 L32.86,485.4 L33.18,482.2 L33.5,479 L33.82,475.8 L34.14,472.6 L34.48,469.4 L34.91,466.2 L35.33,463 L35.76,459.8 L36.19,456.6 L37.2,453.4 L38.8,450.2 L40.4,447 L44.4,447 L46,450.2 L47.6,453.4 L48.61,456.6 L49.04,459.8 L49.47,463 L49.89,466.2 L50.32,469.4 L50.66,472.6 L50.98,475.8 L51.3,479 L51.62,482.2 L51.94,485.4 L52.26,488.6 L52.43,491.8 L52.48,495 L52.54,498.2 L52.59,501.4 L52.64,504.6 L52.7,507.8 L52.75,511 L52.8,514.2 L52.86,517.4 L52.93,520.6 L53.09,523.8 L53.25,527 L53.41,530.2 L53.57,533.4 L53.73,536.6 L53.89,539.8 L54.05,543 L54.21,546.2 L54.37,549.4 L54.57,552.6 L54.79,555.8 L55,559 L55.21,562.2 L55.23,565.4 L53.86,568.6 L52.49,571.8 L45.4,575Z" fill="#E64B35" fill-opacity="0.45"/>
<circle cx="45.26" cy="447" r="1.5" fill="#E64B35" fill-opacity="0.8"/>
<circle cx="41.96" cy="575" r="1.5" fill="#E64B35" fill-opacity="0.8"/>
<circle cx="36.01" cy="557.08" r="1.5" fill="#E64B35" fill-opacity="0.8"/>
<circle cx="52.35" cy="566.87" r="1.5" fill="#E64B35" fill-opacity="0.8"/>
<circle cx="38.73" cy="489.51" r="1.5" fill="#E64B35" fill-opacity="0.8"/>
<circle cx="46.92" cy="528.11" r="1.5" fill="#E64B35" fill-opacity="0.8"/>
<circle cx="48.26" cy="513.57" r="1.5" fill="#E64B35" fill-opacity="0.8"/>
<circle cx="39.88" cy="573.49" r="1.5" fill="#E64B35" fill-opacity="0.8"/>
<circle cx="46.65" cy="561.22" r="1.5" fill="#E64B35" fill-opacity="0.8"/>
<circle cx="40.54" cy="521.15" r="1.5" fill="#E64B35" fill-opacity="0.8"/>
<circle cx="38.53" cy="472.8" r="1.5" fill="#E64B35" fill-opacity="0.8"/>
<circle cx="37.37" cy="517" r="1.5" fill="#E64B35" fill-opacity="0.8"/>
<circle cx="50.47" cy="518.61" r="1.5" fill="#E64B35" fill-opacity="0.8"/>
<circle cx="40.06" cy="518.68" r="1.5" fill="#E64B35" fill-opacity="0.8"/>
<circle cx="42.54" cy="474.45" r="1.5" fill="#E64B35" fill-opacity="0.8"/>
<circle cx="42.42" cy="504.45" r="1.5" fill="#E64B35" fill-opacity="0.8"/>
<circle cx="32.26" cy="558.62" r="1.5" fill="#E64B35" fill-opacity="0.8"/>
<circle cx="46.79" cy="500.46" r="1.5" fill="#E64B35" fill-opacity="0.8"/>
<circle cx="47.32" cy="544.84" r="1.5" fill="#E64B35" fill-opacity="0.8"/>
<circle cx="50.45" cy="559.25" r="1.5" fill="#E64B35" fill-opacity="0.8"/>
<circle cx="40.08" cy="485.31" r="1.5" fill="#E64B35" fill-opacity="0.8"/>
<circle cx="37.2" cy="519.58" r="1.5" fill="#E64B35" fill-opacity="0.8"/>
<circle cx="39.19" cy="556.48" r="1.5" fill="#E64B35" fill-opacity="0.8"/>
<circle cx="46.36" cy="490.26" r="1.5" fill="#E64B35" fill-opacity="0.8"/>
<circle cx="45.27" cy="525.15" r="1.5" fill="#E64B35" fill-opacity="0.8"/>
<circle cx="40.78" cy="498.56" r="1.5" fill="#E64B35" fill-opacity="0.8"/>
<circle cx="42.82" cy="572.22" r="1.5" fill="#E64B35" fill-opacity="0.8"/>
<circle cx="35.93" cy="531.24" r="1.5" fill="#E64B35" fill-opacity="0.8"/>
<circle cx="51.52" cy="563.16" r="1.5" fill="#E64B35" fill-opacity="0.8"/>
<circle cx="41.9" cy="521.16" r="1.5" fill="#E64B35" fill-opacity="0.8"/>
<circle cx="42.5" cy="476.75" r="1.5" fill="#E64B35" fill-opacity="0.8"/>
<circle cx="47.35" cy="496.64" r="1.5" fill="#E64B35" fill-opacity="0.8"/>
<circle cx="36.25" cy="549.86" r="1.5" fill="#E64B35" fill-opacity="0.8"/>
<circle cx="44.62" cy="452.22" r="1.5" fill="#E64B35" fill-opacity="0.8"/>
<circle cx="40.74" cy="460.32" r="1.5" fill="#E64B35" fill-opacity="0.8"/>
<circle cx="47.81" cy="502.03" r="1.5" fill="#E64B35" fill-opacity="0.8"/>
<circle cx="33.55" cy="564.77" r="1.5" fill="#E64B35" fill-opacity="0.8"/>
<circle cx="37.68" cy="554.2" r="1.5" fill="#E64B35" fill-opacity="0.8"/>
<circle cx="43.76" cy="450.5" r="1.5" fill="#E64B35" fill-opacity="0.8"/>
<circle cx="42.02" cy="563.19" r="1.5" fill="#E64B35" fill-opacity="0.8"/>
<circle cx="40.13" cy="527.64" r="1.5" fill="#E64B35" fill-opacity="0.8"/>
<circle cx="43.78" cy="507.59" r="1.5" fill="#E64B35" fill-opacity="0.8"/>
<circle cx="37.54" cy="497.18" r="1.5" fill="#E64B35" fill-opacity="0.8"/>
<circle cx="41.03" cy="566.84" r="1.5" fill="#E64B35" fill-opacity="0.8"/>
<circle cx="34.86" cy="478.76" r="1.5" fill="#E64B35" fill-opacity="0.8"/>
<circle cx="47.63" cy="507.45" r="1.5" fill="#E64B35" fill-opacity="0.8"/>
<circle cx="37.13" cy="560.09" r="1.5" fill="#E64B35" fill-opacity="0.8"/>
<circle cx="48.77" cy="536.79" r="1.5" fill="#E64B35" fill-opacity="0.8"/>
<circle cx="43.45" cy="545.06" r="1.5" fill="#E64B35" fill-opacity="0.8"/>
<circle cx="44.17" cy="504.47" r="1.5" fill="#E64B35" fill-opacity="0.8"/>
<circle cx="44.64" cy="518.71" r="1.5" fill="#E64B35" fill-opacity="0.8"/>
<circle cx="35.88" cy="503.04" r="1.5" fill="#E64B35" fill-opacity="0.8"/>
<circle cx="47.13" cy="492.21" r="1.5" fill="#E64B35" fill-opacity="0.8"/>
<circle cx="38.35" cy="569.05" r="1.5" fill="#E64B35" fill-opacity="0.8"/>
<circle cx="50.31" cy="565.49" r="1.5" fill="#E64B35" fill-opacity="0.8"/>
<circle cx="48.43" cy="555.1" r="1.5" fill="#E64B35" fill-opacity="0.8"/>
<circle cx="44.18" cy="452.08" r="1.5" fill="#E64B35" fill-opacity="0.8"/>
<circle cx="48.81" cy="550.77" r="1.5" fill="#E64B35" fill-opacity="0.8"/>
<circle cx="41.11" cy="548.93" r="1.5" fill="#E64B35" fill-opacity="0.8"/>
<circle cx="45.6" cy="525.48" r="1.5" fill="#E64B35" fill-opacity="0.8"/>
<circle cx="49.99" cy="489.95" r="1.5" fill="#E64B35" fill-opacity="0.8"/>
<circle cx="35.74" cy="560.41" r="1.5" fill="#E64B35" fill-opacity="0.8"/>
<circle cx="35.71" cy="489.38" r="1.5" fill="#E64B35" fill-opacity="0.8"/>
<circle cx="40.63" cy="546.16" r="1.5" fill="#E64B35" fill-opacity="0.8"/>
<circle cx="42.59" cy="545.37" r="1.5" fill="#E64B35" fill-opacity="0.8"/>
<circle cx="34.75" cy="564.93" r="1.5" fill="#E64B35" fill-opacity="0.8"/>
<circle cx="37.18" cy="529.35" r="1.5" fill="#E64B35" fill-opacity="0.8"/>
<circle cx="47.75" cy="475.09" r="1.5" fill="#E64B35" fill-opacity="0.8"/>
<circle cx="40.45" cy="503.85" r="1.5" fill="#E64B35" fill-opacity="0.8"/>
<circle cx="34.75" cy="563.78" r="1.5" fill="#E64B35" fill-opacity="0.8"/>
<circle cx="36.21" cy="541.24" r="1.5" fill="#E64B35" fill-opacity="0.8"/>
<circle cx="43.76" cy="510.64" r="1.5" fill="#E64B35" fill-opacity="0.8"/>
<circle cx="37.08" cy="570.59" r="1.5" fill="#E64B35" fill-opacity="0.8"/>
<circle cx="41.91" cy="542.26" r="1.5" fill="#E64B35" fill-opacity="0.8"/>
<circle cx="43.19" cy="554.51" r="1.5" fill="#E64B35" fill-opacity="0.8"/>
<circle cx="41.8" cy="449.03" r="1.5" fill="#E64B35" fill-opacity="0.8"/>
<circle cx="42.44" cy="454.46" r="1.5" fill="#E64B35" fill-opacity="0.8"/>
<circle cx="47.5" cy="477.48" r="1.5" fill="#E64B35" fill-opacity="0.8"/>
<circle cx="32.05" cy="558.76" r="1.5" fill="#E64B35" fill-opacity="0.8"/>
<circle cx="50.68" cy="536.12" r="1.5" fill="#E64B35" fill-opacity="0.8"/>
<path d="M42.4,449V485.9M42.4,563.3V572.5" stroke="#222" stroke-width="1.2"/>
<rect x="33.45" y="485.9" width="17.9" height="77.4" fill="#E64B35" fill-opacity="0.7" stroke="#1a1a1a" stroke-width="1.25"/>
<path d="M33.45,532.5H51.35" stroke="#1a1a1a" stroke-width="1.25"/>
<path d="M63.7,574 L58.36,570.95 L56.49,567.9 L56.19,564.85 L55.88,561.8 L55.87,558.75 L56.27,555.7 L56.68,552.65 L57.09,549.6 L57.49,546.55 L57.82,543.5 L58.06,540.45 L58.31,537.4 L58.55,534.35 L58.8,531.3 L59.04,528.25 L59.28,525.2 L59.53,522.15 L59.66,519.1 L59.5,516.05 L59.35,513 L59.2,509.95 L59.05,506.9 L58.89,503.85 L58.74,500.8 L58.36,497.75 L57.91,494.7 L57.45,491.65 L56.99,488.6 L56.53,485.55 L56.08,482.5 L55.66,479.45 L55.46,476.4 L55.26,473.35 L55.05,470.3 L54.85,467.25 L54.88,464.2 L55.56,461.15 L56.23,458.1 L58.12,455.05 L62.7,452 L68.7,452 L73.28,455.05 L75.17,458.1 L75.84,461.15 L76.52,464.2 L76.55,467.25 L76.35,470.3 L76.14,473.35 L75.94,476.4 L75.74,479.45 L75.33,482.5 L74.87,485.55 L74.41,488.6 L73.95,491.65 L73.5,494.7 L73.04,497.75 L72.66,500.8 L72.51,503.85 L72.36,506.9 L72.2,509.95 L72.05,513 L71.9,516.05 L71.75,519.1 L71.87,522.15 L72.12,525.2 L72.36,528.25 L72.6,531.3 L72.85,534.35 L73.09,537.4 L73.34,540.45 L73.58,543.5 L73.91,546.55 L74.31,549.6 L74.72,552.65 L75.13,555.7 L75.53,558.75 L75.52,561.8 L75.22,564.85 L74.91,567.9 L73.04,570.95 L67.7,574Z" fill="#4DBBD5" fill-opacity="0.45"/>
<circle cx="62.69" cy="452" r="1.5" fill="#4DBBD5" fill-opacity="0.8"/>
<circle cx="59.75" cy="456" r="1.5" fill="#4DBBD5" fill-opacity="0.8"/>
<circle cx="70.54" cy="470" r="1.5" fill="#4DBBD5" fill-opacity="0.8"/>
<circle cx="66.89" cy="478" r="1.5" fill="#4DBBD5" fill-opacity="0.8"/>
<circle cx="66.32" cy="482" r="1.5" fill="#4DBBD5" fill-opacity="0.8"/>
<circle cx="61.3" cy="486" r="1.5" fill="#4DBBD5" fill-opacity="0.8"/>
<circle cx="69.42" cy="495" r="1.5" fill="#4DBBD5" fill-opacity="0.8"/>
<circle cx="63.46" cy="505" r="1.5" fill="#4DBBD5" fill-opacity="0.8"/>
<circle cx="68.03" cy="520" r="1.5" fill="#4DBBD5" fill-opacity="0.8"/>
<circle cx="62.4" cy="533" r="1.5" fill="#4DBBD5" fill-opacity="0.8"/>
<circle cx="66.72" cy="548" r="1.5" fill="#4DBBD5" fill-opacity="0.8"/>
<circle cx="68.18" cy="560" r="1.5" fill="#4DBBD5" fill-opacity="0.8"/>
<circle cx="63.62" cy="566" r="1.5" fill="#4DBBD5" fill-opacity="0.8"/>
<circle cx="65.45" cy="571" r="1.5" fill="#4DBBD5" fill-opacity="0.8"/>
<circle cx="61.35" cy="574" r="1.5" fill="#4DBBD5" fill-opacity="0.8"/>
<path d="M65.7,453.8V475.1M65.7,554.2V571.7" stroke="#222" stroke-width="1.2"/>
<rect x="56.35" y="475.1" width="18.7" height="79.1" fill="#4DBBD5" fill-opacity="0.7" stroke="#1a1a1a" stroke-width="1.25"/>
<path d="M56.35,498.1H75.05" stroke="#1a1a1a" stroke-width="1.25"/>
<path d="M87.4,573 L85.89,569.98 L84.38,566.95 L83.4,563.92 L83.4,560.9 L83.4,557.88 L83.4,554.85 L83.4,551.83 L83.52,548.8 L83.82,545.77 L84.12,542.75 L84.43,539.73 L84.73,536.7 L85.03,533.67 L85.34,530.65 L85.4,527.62 L85.4,524.6 L85.4,521.58 L85.4,518.55 L85.4,515.52 L85.4,512.5 L85.32,509.48 L84.87,506.45 L84.41,503.43 L83.96,500.4 L83.51,497.38 L83.05,494.35 L82.6,491.32 L82.06,488.3 L81.45,485.27 L80.85,482.25 L80.25,479.23 L79.64,476.2 L79.04,473.18 L78.43,470.15 L78.61,467.12 L78.82,464.1 L79.04,461.07 L79.25,458.05 L80.86,455.02 L85.4,452 L93.4,452 L97.94,455.02 L99.55,458.05 L99.76,461.07 L99.98,464.1 L100.19,467.12 L100.37,470.15 L99.77,473.18 L99.16,476.2 L98.56,479.23 L97.95,482.25 L97.35,485.27 L96.74,488.3 L96.2,491.32 L95.75,494.35 L95.29,497.38 L94.84,500.4 L94.39,503.43 L93.93,506.45 L93.48,509.48 L93.4,512.5 L93.4,515.52 L93.4,518.55 L93.4,521.58 L93.4,524.6 L93.4,527.62 L93.47,530.65 L93.77,533.67 L94.07,536.7 L94.37,539.73 L94.68,542.75 L94.98,545.77 L95.28,548.8 L95.4,551.83 L95.4,554.85 L95.4,557.88 L95.4,560.9 L95.4,563.92 L94.42,566.95 L92.91,569.98 L91.4,573Z" fill="#00A087" fill-opacity="0.45"/>
<circle cx="90.83" cy="452" r="1.5" fill="#00A087" fill-opacity="0.8"/>
<circle cx="92.18" cy="456" r="1.5" fill="#00A087" fill-opacity="0.8"/>
<circle cx="83.29" cy="462" r="1.5" fill="#00A087" fill-opacity="0.8"/>
<circle cx="90.35" cy="470" r="1.5" fill="#00A087" fill-opacity="0.8"/>
<circle cx="93.03" cy="480" r="1.5" fill="#00A087" fill-opacity="0.8"/>
<circle cx="85.1" cy="495" r="1.5" fill="#00A087" fill-opacity="0.8"/>
<circle cx="92.79" cy="520" r="1.5" fill="#00A087" fill-opacity="0.8"/>
<circle cx="93.1" cy="545" r="1.5" fill="#00A087" fill-opacity="0.8"/>
<circle cx="84.82" cy="556" r="1.5" fill="#00A087" fill-opacity="0.8"/>
<circle cx="86.88" cy="573" r="1.5" fill="#00A087" fill-opacity="0.8"/>
<path d="M89.4,453.8V465.3M89.4,534.5V570" stroke="#222" stroke-width="1.2"/>
<rect x="80.15" y="465.3" width="18.5" height="69.2" fill="#00A087" fill-opacity="0.7" stroke="#1a1a1a" stroke-width="1.25"/>
<path d="M80.15,484.1H98.65" stroke="#1a1a1a" stroke-width="1.25"/>
</g>
<rect x="28.2" y="435.6" width="75.1" height="144.1" fill="none" stroke="#333333" stroke-width="1.3"/>
<path d="M25.7,438.8H28.2" stroke="#3A3A3A" stroke-width="0.8"/>
<text x="24.7" y="440.6" font-size="5" fill="#3A3A3A" text-anchor="end">2</text>
<path d="M25.7,479.6H28.2" stroke="#3A3A3A" stroke-width="0.8"/>
<text x="24.7" y="481.4" font-size="5" fill="#3A3A3A" text-anchor="end">1</text>
<path d="M25.7,520.4H28.2" stroke="#3A3A3A" stroke-width="0.8"/>
<text x="24.7" y="522.2" font-size="5" fill="#3A3A3A" text-anchor="end">0</text>
<path d="M25.7,561.2H28.2" stroke="#3A3A3A" stroke-width="0.8"/>
<text x="24.7" y="563" font-size="5" fill="#3A3A3A" text-anchor="end">&#8722;1</text>
<path d="M42.4,579.7V582.2" stroke="#3A3A3A" stroke-width="0.8"/>
<path d="M65.7,579.7V582.2" stroke="#3A3A3A" stroke-width="0.8"/>
<path d="M89.4,579.7V582.2" stroke="#3A3A3A" stroke-width="0.8"/>
<text x="45.8" y="585.5" font-size="6" fill="#2a2a2a" text-anchor="end" transform="rotate(-45 45.8 585.5)">I</text>
<text x="69.1" y="585.5" font-size="6" fill="#2a2a2a" text-anchor="end" transform="rotate(-45 69.1 585.5)">II</text>
<text x="92.8" y="585.5" font-size="6" fill="#2a2a2a" text-anchor="end" transform="rotate(-45 92.8 585.5)">III</text>
<text x="66.1" y="432.4" font-size="6.24" fill="#8C2530" text-anchor="middle" font-weight="bold">TCGA_TGCT</text>
<text x="30" y="446.2" font-size="5.7" fill="#111" text-anchor="start">Kruskal&#8722;Wallis, p = 0.036</text>
<text x="65.8" y="594.4" font-size="6.2" fill="#8C2530" text-anchor="middle" font-weight="bold">Stage</text>
<text x="18.2" y="506.8" font-size="6.2" fill="#8C2530" text-anchor="middle" font-weight="bold" transform="rotate(-90 18.2 506.8)">CHMP4C Expression (z&#8722;score)</text>
<clipPath id="c2"><rect x="145.1" y="436.4" width="75.2" height="140.8"/></clipPath>
<rect x="145.1" y="436.4" width="75.2" height="140.8" fill="#E9EDEE"/>
<g clip-path="url(#c2)">
<path d="M145.1,438.4H220.3" stroke="#C5CACD" stroke-width="1.15" stroke-dasharray="5 5"/>
<path d="M145.1,478.5H220.3" stroke="#C5CACD" stroke-width="1.15" stroke-dasharray="5 5"/>
<path d="M145.1,518.6H220.3" stroke="#C5CACD" stroke-width="1.15" stroke-dasharray="5 5"/>
<path d="M145.1,558.7H220.3" stroke="#C5CACD" stroke-width="1.15" stroke-dasharray="5 5"/>
<path d="M165.4,577.2V436.4" stroke="#C5CACD" stroke-width="1.15" stroke-dasharray="5 5"/>
<path d="M199.6,577.2V436.4" stroke="#C5CACD" stroke-width="1.15" stroke-dasharray="5 5"/>
<path d="M162.4,572 L155.37,568.88 L153.23,565.75 L152.99,562.62 L152.75,559.5 L152.51,556.38 L152.54,553.25 L152.79,550.12 L153.04,547 L153.29,543.88 L153.54,540.75 L153.79,537.62 L154.04,534.5 L154.29,531.38 L154.52,528.25 L154.72,525.12 L154.93,522 L155.14,518.88 L155.35,515.75 L155.56,512.62 L155.77,509.5 L155.97,506.38 L156.18,503.25 L156.39,500.12 L156.64,497 L156.89,493.88 L157.14,490.75 L157.39,487.62 L157.64,484.5 L157.89,481.38 L158.14,478.25 L158.39,475.12 L158.7,472 L159.01,468.88 L159.33,465.75 L159.64,462.62 L159.95,459.5 L160.26,456.38 L161.06,453.25 L162.23,450.12 L163.4,447 L167.4,447 L168.57,450.12 L169.74,453.25 L170.54,456.38 L170.85,459.5 L171.16,462.62 L171.47,465.75 L171.79,468.88 L172.1,472 L172.41,475.12 L172.66,478.25 L172.91,481.38 L173.16,484.5 L173.41,487.62 L173.66,490.75 L173.91,493.88 L174.16,497 L174.41,500.12 L174.62,503.25 L174.83,506.38 L175.03,509.5 L175.24,512.62 L175.45,515.75 L175.66,518.88 L175.87,522 L176.08,525.12 L176.28,528.25 L176.51,531.38 L176.76,534.5 L177.01,537.62 L177.26,540.75 L177.51,543.88 L177.76,547 L178.01,550.12 L178.26,553.25 L178.29,556.38 L178.05,559.5 L177.81,562.62 L177.57,565.75 L175.43,568.88 L168.4,572Z" fill="#E64B35" fill-opacity="0.45"/>
<circle cx="160.58" cy="447" r="1.5" fill="#E64B35" fill-opacity="0.8"/>
<circle cx="165.21" cy="572" r="1.5" fill="#E64B35" fill-opacity="0.8"/>
<circle cx="163.59" cy="543.08" r="1.5" fill="#E64B35" fill-opacity="0.8"/>
<circle cx="169.94" cy="456.82" r="1.5" fill="#E64B35" fill-opacity="0.8"/>
<circle cx="164.15" cy="493.53" r="1.5" fill="#E64B35" fill-opacity="0.8"/>
<circle cx="171.75" cy="523.82" r="1.5" fill="#E64B35" fill-opacity="0.8"/>
<circle cx="170.18" cy="516.99" r="1.5" fill="#E64B35" fill-opacity="0.8"/>
<circle cx="167.29" cy="554.65" r="1.5" fill="#E64B35" fill-opacity="0.8"/>
<circle cx="161.38" cy="500.37" r="1.5" fill="#E64B35" fill-opacity="0.8"/>
<circle cx="162.66" cy="490.2" r="1.5" fill="#E64B35" fill-opacity="0.8"/>
<circle cx="165.24" cy="529.46" r="1.5" fill="#E64B35" fill-opacity="0.8"/>
<circle cx="164.11" cy="478.15" r="1.5" fill="#E64B35" fill-opacity="0.8"/>
<circle cx="167.57" cy="496.41" r="1.5" fill="#E64B35" fill-opacity="0.8"/>
<circle cx="165.52" cy="560.49" r="1.5" fill="#E64B35" fill-opacity="0.8"/>
<circle cx="161.53" cy="554.3" r="1.5" fill="#E64B35" fill-opacity="0.8"/>
<circle cx="166.62" cy="473.33" r="1.5" fill="#E64B35" fill-opacity="0.8"/>
<circle cx="174.59" cy="528.63" r="1.5" fill="#E64B35" fill-opacity="0.8"/>
<circle cx="159.28" cy="544.65" r="1.5" fill="#E64B35" fill-opacity="0.8"/>
<circle cx="162.83" cy="502.91" r="1.5" fill="#E64B35" fill-opacity="0.8"/>
<circle cx="154.7" cy="556.97" r="1.5" fill="#E64B35" fill-opacity="0.8"/>
<circle cx="161.34" cy="447.53" r="1.5" fill="#E64B35" fill-opacity="0.8"/>
<circle cx="156.06" cy="545.68" r="1.5" fill="#E64B35" fill-opacity="0.8"/>
<circle cx="163.78" cy="547.38" r="1.5" fill="#E64B35" fill-opacity="0.8"/>
<circle cx="172.5" cy="562.64" r="1.5" fill="#E64B35" fill-opacity="0.8"/>
<circle cx="168.77" cy="569.09" r="1.5" fill="#E64B35" fill-opacity="0.8"/>
<circle cx="173.03" cy="508.87" r="1.5" fill="#E64B35" fill-opacity="0.8"/>
<circle cx="169.56" cy="478.45" r="1.5" fill="#E64B35" fill-opacity="0.8"/>
<circle cx="166.86" cy="568.59" r="1.5" fill="#E64B35" fill-opacity="0.8"/>
<circle cx="166.99" cy="537.7" r="1.5" fill="#E64B35" fill-opacity="0.8"/>
<circle cx="154.91" cy="559.49" r="1.5" fill="#E64B35" fill-opacity="0.8"/>
<circle cx="163.81" cy="488.43" r="1.5" fill="#E64B35" fill-opacity="0.8"/>
<circle cx="160.29" cy="550.45" r="1.5" fill="#E64B35" fill-opacity="0.8"/>
<circle cx="166.61" cy="457.09" r="1.5" fill="#E64B35" fill-opacity="0.8"/>
<circle cx="159.48" cy="488.22" r="1.5" fill="#E64B35" fill-opacity="0.8"/>
<circle cx="165.96" cy="485.14" r="1.5" fill="#E64B35" fill-opacity="0.8"/>
<circle cx="162.94" cy="538.38" r="1.5" fill="#E64B35" fill-opacity="0.8"/>
<circle cx="165.27" cy="512.76" r="1.5" fill="#E64B35" fill-opacity="0.8"/>
<circle cx="164.26" cy="475.95" r="1.5" fill="#E64B35" fill-opacity="0.8"/>
<circle cx="159.64" cy="495.29" r="1.5" fill="#E64B35" fill-opacity="0.8"/>
<circle cx="168.85" cy="497.58" r="1.5" fill="#E64B35" fill-opacity="0.8"/>
<circle cx="171.33" cy="536.65" r="1.5" fill="#E64B35" fill-opacity="0.8"/>
<circle cx="166.57" cy="473.97" r="1.5" fill="#E64B35" fill-opacity="0.8"/>
<circle cx="161.02" cy="472.91" r="1.5" fill="#E64B35" fill-opacity="0.8"/>
<circle cx="167.16" cy="520.61" r="1.5" fill="#E64B35" fill-opacity="0.8"/>
<circle cx="171.08" cy="498.95" r="1.5" fill="#E64B35" fill-opacity="0.8"/>
<circle cx="176.04" cy="553.19" r="1.5" fill="#E64B35" fill-opacity="0.8"/>
<circle cx="170.39" cy="534.69" r="1.5" fill="#E64B35" fill-opacity="0.8"/>
<circle cx="157" cy="528.32" r="1.5" fill="#E64B35" fill-opacity="0.8"/>
<circle cx="171.87" cy="514.51" r="1.5" fill="#E64B35" fill-opacity="0.8"/>
<circle cx="167.05" cy="571.14" r="1.5" fill="#E64B35" fill-opacity="0.8"/>
<circle cx="160.52" cy="552.41" r="1.5" fill="#E64B35" fill-opacity="0.8"/>
<circle cx="174.41" cy="549.18" r="1.5" fill="#E64B35" fill-opacity="0.8"/>
<circle cx="172.39" cy="550.56" r="1.5" fill="#E64B35" fill-opacity="0.8"/>
<circle cx="173.74" cy="564.15" r="1.5" fill="#E64B35" fill-opacity="0.8"/>
<circle cx="160.09" cy="548.14" r="1.5" fill="#E64B35" fill-opacity="0.8"/>
<circle cx="166.63" cy="504.96" r="1.5" fill="#E64B35" fill-opacity="0.8"/>
<circle cx="163.2" cy="525.68" r="1.5" fill="#E64B35" fill-opacity="0.8"/>
<circle cx="163.18" cy="467.36" r="1.5" fill="#E64B35" fill-opacity="0.8"/>
<circle cx="168.51" cy="474.25" r="1.5" fill="#E64B35" fill-opacity="0.8"/>
<circle cx="167.75" cy="539.6" r="1.5" fill="#E64B35" fill-opacity="0.8"/>
<circle cx="163.18" cy="484.83" r="1.5" fill="#E64B35" fill-opacity="0.8"/>
<circle cx="166.21" cy="532.84" r="1.5" fill="#E64B35" fill-opacity="0.8"/>
<circle cx="172.41" cy="509.29" r="1.5" fill="#E64B35" fill-opacity="0.8"/>
<circle cx="166.54" cy="516.95" r="1.5" fill="#E64B35" fill-opacity="0.8"/>
<circle cx="172.9" cy="526.37" r="1.5" fill="#E64B35" fill-opacity="0.8"/>
<circle cx="166.24" cy="480" r="1.5" fill="#E64B35" fill-opacity="0.8"/>
<circle cx="175.99" cy="560.13" r="1.5" fill="#E64B35" fill-opacity="0.8"/>
<circle cx="159.39" cy="480.53" r="1.5" fill="#E64B35" fill-opacity="0.8"/>
<circle cx="165" cy="571.32" r="1.5" fill="#E64B35" fill-opacity="0.8"/>
<circle cx="166.29" cy="570.35" r="1.5" fill="#E64B35" fill-opacity="0.8"/>
<circle cx="167.67" cy="571.93" r="1.5" fill="#E64B35" fill-opacity="0.8"/>
<circle cx="170.09" cy="462.83" r="1.5" fill="#E64B35" fill-opacity="0.8"/>
<circle cx="167.83" cy="538" r="1.5" fill="#E64B35" fill-opacity="0.8"/>
<circle cx="164.92" cy="553.47" r="1.5" fill="#E64B35" fill-opacity="0.8"/>
<circle cx="168.05" cy="536.35" r="1.5" fill="#E64B35" fill-opacity="0.8"/>
<circle cx="165.99" cy="523.01" r="1.5" fill="#E64B35" fill-opacity="0.8"/>
<circle cx="169.64" cy="564.59" r="1.5" fill="#E64B35" fill-opacity="0.8"/>
<circle cx="172.24" cy="499.73" r="1.5" fill="#E64B35" fill-opacity="0.8"/>
<circle cx="158.37" cy="494.63" r="1.5" fill="#E64B35" fill-opacity="0.8"/>
<circle cx="163.35" cy="471.26" r="1.5" fill="#E64B35" fill-opacity="0.8"/>
<circle cx="171.56" cy="508.09" r="1.5" fill="#E64B35" fill-opacity="0.8"/>
<circle cx="159.4" cy="487.61" r="1.5" fill="#E64B35" fill-opacity="0.8"/>
<circle cx="169.85" cy="501.1" r="1.5" fill="#E64B35" fill-opacity="0.8"/>
<circle cx="155.12" cy="557.8" r="1.5" fill="#E64B35" fill-opacity="0.8"/>
<circle cx="168.39" cy="540.04" r="1.5" fill="#E64B35" fill-opacity="0.8"/>
<circle cx="168.66" cy="467.35" r="1.5" fill="#E64B35" fill-opacity="0.8"/>
<circle cx="160.01" cy="544.71" r="1.5" fill="#E64B35" fill-opacity="0.8"/>
<circle cx="162.9" cy="547.73" r="1.5" fill="#E64B35" fill-opacity="0.8"/>
<circle cx="160.23" cy="531.59" r="1.5" fill="#E64B35" fill-opacity="0.8"/>
<circle cx="168.97" cy="519.01" r="1.5" fill="#E64B35" fill-opacity="0.8"/>
<circle cx="165.89" cy="515" r="1.5" fill="#E64B35" fill-opacity="0.8"/>
<circle cx="166.75" cy="480.08" r="1.5" fill="#E64B35" fill-opacity="0.8"/>
<circle cx="162.03" cy="534.41" r="1.5" fill="#E64B35" fill-opacity="0.8"/>
<circle cx="166.97" cy="524.63" r="1.5" fill="#E64B35" fill-opacity="0.8"/>
<circle cx="170.09" cy="465.67" r="1.5" fill="#E64B35" fill-opacity="0.8"/>
<circle cx="168.19" cy="463.92" r="1.5" fill="#E64B35" fill-opacity="0.8"/>
<circle cx="174.7" cy="543.91" r="1.5" fill="#E64B35" fill-opacity="0.8"/>
<circle cx="162.17" cy="481.17" r="1.5" fill="#E64B35" fill-opacity="0.8"/>
<circle cx="165.68" cy="518.12" r="1.5" fill="#E64B35" fill-opacity="0.8"/>
<circle cx="163.03" cy="564.66" r="1.5" fill="#E64B35" fill-opacity="0.8"/>
<circle cx="162.49" cy="530.41" r="1.5" fill="#E64B35" fill-opacity="0.8"/>
<circle cx="168.43" cy="460.28" r="1.5" fill="#E64B35" fill-opacity="0.8"/>
<circle cx="159.85" cy="514.8" r="1.5" fill="#E64B35" fill-opacity="0.8"/>
<circle cx="166.34" cy="506.96" r="1.5" fill="#E64B35" fill-opacity="0.8"/>
<circle cx="168.23" cy="465.2" r="1.5" fill="#E64B35" fill-opacity="0.8"/>
<circle cx="172.84" cy="515.71" r="1.5" fill="#E64B35" fill-opacity="0.8"/>
<circle cx="160.17" cy="469.23" r="1.5" fill="#E64B35" fill-opacity="0.8"/>
<circle cx="160.58" cy="547.09" r="1.5" fill="#E64B35" fill-opacity="0.8"/>
<circle cx="165.25" cy="557.7" r="1.5" fill="#E64B35" fill-opacity="0.8"/>
<circle cx="172.24" cy="502.09" r="1.5" fill="#E64B35" fill-opacity="0.8"/>
<circle cx="159.04" cy="531.43" r="1.5" fill="#E64B35" fill-opacity="0.8"/>
<circle cx="171.46" cy="521.78" r="1.5" fill="#E64B35" fill-opacity="0.8"/>
<circle cx="164.37" cy="570.49" r="1.5" fill="#E64B35" fill-opacity="0.8"/>
<circle cx="166.01" cy="481.26" r="1.5" fill="#E64B35" fill-opacity="0.8"/>
<circle cx="172.7" cy="569.56" r="1.5" fill="#E64B35" fill-opacity="0.8"/>
<circle cx="161.04" cy="571.97" r="1.5" fill="#E64B35" fill-opacity="0.8"/>
<circle cx="162.43" cy="520.07" r="1.5" fill="#E64B35" fill-opacity="0.8"/>
<circle cx="158.14" cy="562.48" r="1.5" fill="#E64B35" fill-opacity="0.8"/>
<circle cx="161.74" cy="448.31" r="1.5" fill="#E64B35" fill-opacity="0.8"/>
<circle cx="163.44" cy="462.18" r="1.5" fill="#E64B35" fill-opacity="0.8"/>
<path d="M165.4,448.8V481.6M165.4,560.2V570.3" stroke="#222" stroke-width="1.2"/>
<rect x="152.4" y="481.6" width="26" height="78.6" fill="#E64B35" fill-opacity="0.7" stroke="#1a1a1a" stroke-width="1.25"/>
<path d="M152.4,525.2H178.4" stroke="#1a1a1a" stroke-width="1.25"/>
<path d="M198.6,552 L198.31,549.5 L198.01,547 L197.72,544.5 L197.42,542 L197.13,539.5 L196.84,537 L196.6,534.5 L196.6,532 L196.6,529.5 L196.6,527 L196.6,524.5 L196.6,522 L196.6,519.5 L196.6,517 L196.57,514.5 L196.4,512 L196.23,509.5 L196.07,507 L195.9,504.5 L195.73,502 L195.5,499.5 L195,497 L194.5,494.5 L194,492 L193.45,489.5 L192.7,487 L191.95,484.5 L191.2,482 L190.45,479.5 L189.7,477 L188.95,474.5 L188.2,472 L187.55,469.5 L187.3,467 L187.05,464.5 L186.8,462 L186.72,459.5 L187.35,457 L187.97,454.5 L188.6,452 L210.6,452 L211.22,454.5 L211.85,457 L212.47,459.5 L212.4,462 L212.15,464.5 L211.9,467 L211.65,469.5 L211,472 L210.25,474.5 L209.5,477 L208.75,479.5 L208,482 L207.25,484.5 L206.5,487 L205.75,489.5 L205.2,492 L204.7,494.5 L204.2,497 L203.7,499.5 L203.47,502 L203.3,504.5 L203.13,507 L202.97,509.5 L202.8,512 L202.63,514.5 L202.6,517 L202.6,519.5 L202.6,522 L202.6,524.5 L202.6,527 L202.6,529.5 L202.6,532 L202.6,534.5 L202.36,537 L202.07,539.5 L201.78,542 L201.48,544.5 L201.19,547 L200.89,549.5 L200.6,552Z" fill="#4DBBD5" fill-opacity="0.45"/>
<circle cx="203.35" cy="452" r="1.5" fill="#4DBBD5" fill-opacity="0.8"/>
<circle cx="201.27" cy="456" r="1.5" fill="#4DBBD5" fill-opacity="0.8"/>
<circle cx="191.69" cy="466" r="1.5" fill="#4DBBD5" fill-opacity="0.8"/>
<circle cx="205.06" cy="474" r="1.5" fill="#4DBBD5" fill-opacity="0.8"/>
<circle cx="199.67" cy="514" r="1.5" fill="#4DBBD5" fill-opacity="0.8"/>
<circle cx="196.03" cy="552" r="1.5" fill="#4DBBD5" fill-opacity="0.8"/>
<path d="M199.6,454.2V461.5M199.6,491.3V514.6" stroke="#222" stroke-width="1.2"/>
<rect x="186.6" y="461.5" width="26" height="29.8" fill="#4DBBD5" fill-opacity="0.7" stroke="#1a1a1a" stroke-width="1.25"/>
<path d="M186.6,469.2H212.6" stroke="#1a1a1a" stroke-width="1.25"/>
</g>
<rect x="145.1" y="436.4" width="75.2" height="140.8" fill="none" stroke="#333333" stroke-width="1.3"/>
<path d="M142.6,438.4H145.1" stroke="#3A3A3A" stroke-width="0.8"/>
<text x="141.6" y="440.2" font-size="5" fill="#3A3A3A" text-anchor="end">2</text>
<path d="M142.6,478.5H145.1" stroke="#3A3A3A" stroke-width="0.8"/>
<text x="141.6" y="480.3" font-size="5" fill="#3A3A3A" text-anchor="end">1</text>
<path d="M142.6,518.6H145.1" stroke="#3A3A3A" stroke-width="0.8"/>
<text x="141.6" y="520.4" font-size="5" fill="#3A3A3A" text-anchor="end">0</text>
<path d="M142.6,558.7H145.1" stroke="#3A3A3A" stroke-width="0.8"/>
<text x="141.6" y="560.5" font-size="5" fill="#3A3A3A" text-anchor="end">&#8722;1</text>
<path d="M165.4,577.2V579.7" stroke="#3A3A3A" stroke-width="0.8"/>
<path d="M199.6,577.2V579.7" stroke="#3A3A3A" stroke-width="0.8"/>
<text x="168.8" y="583" font-size="6" fill="#2a2a2a" text-anchor="end" transform="rotate(-45 168.8 583)">M0</text>
<text x="203" y="583" font-size="6" fill="#2a2a2a" text-anchor="end" transform="rotate(-45 203 583)">M1</text>
<text x="182.6" y="432.3" font-size="6.24" fill="#8C2530" text-anchor="middle" font-weight="bold">TCGA_TGCT</text>
<text x="181.6" y="446" font-size="5.7" fill="#111" text-anchor="middle">Wilcoxon, p = 0.0062</text>
<text x="182.6" y="595" font-size="6.2" fill="#8C2530" text-anchor="middle" font-weight="bold">M</text>
<text x="135.3" y="507" font-size="6.2" fill="#8C2530" text-anchor="middle" font-weight="bold" transform="rotate(-90 135.3 507)">CHMP4C Expression (z&#8722;score)</text>
<text x="238.7" y="436.1" font-size="16" fill="#000" text-anchor="start">E</text>
<text x="357.6" y="440.2" font-size="9.4" fill="#111" text-anchor="middle">Prostate normal and tumor tissues</text>
<text x="574.2" y="440.2" font-size="9.4" fill="#111" text-anchor="middle">Testis normal and tumor tissues</text>
<text x="245.8" y="477.3" font-size="9.1" fill="#111" text-anchor="middle" transform="rotate(-90 245.8 477.3)">Normal</text>
<text x="245.6" y="547" font-size="9.1" fill="#111" text-anchor="middle" transform="rotate(-90 245.6 547)">Tumor</text>
<clipPath id="t1c"><rect x="251.1" y="449.1" width="100.1" height="65"/></clipPath>
<g clip-path="url(#t1c)">
<rect x="251.1" y="449.1" width="100.1" height="65" fill="#DCD0CD"/>
<filter id="t1b0" x="0" y="0" width="100%" height="100%" color-interpolation-filters="sRGB"><feTurbulence type="fractalNoise" baseFrequency="0.4" numOctaves="3" seed="5"/><feColorMatrix type="matrix" values="0 0 0 0 0.72 0 0 0 0 0.56 0 0 0 0 0.5 3 0 0 0 -1.6500000000000001"/></filter>
<rect x="251.1" y="449.1" width="100.1" height="65" filter="url(#t1b0)"/>
<filter id="t1b1" x="0" y="0" width="100%" height="100%" color-interpolation-filters="sRGB"><feTurbulence type="fractalNoise" baseFrequency="0.6" numOctaves="3" seed="6"/><feColorMatrix type="matrix" values="0 0 0 0 0.55 0 0 0 0 0.42 0 0 0 0 0.42 4 0 0 0 -2.52"/></filter>
<rect x="251.1" y="449.1" width="100.1" height="65" filter="url(#t1b1)"/>
<filter id="t1b2" x="0" y="0" width="100%" height="100%" color-interpolation-filters="sRGB"><feTurbulence type="fractalNoise" baseFrequency="0.3" numOctaves="3" seed="9"/><feColorMatrix type="matrix" values="0 0 0 0 0.95 0 0 0 0 0.93 0 0 0 0 0.94 4 0 0 0 -2.32"/></filter>
<rect x="251.1" y="449.1" width="100.1" height="65" filter="url(#t1b2)"/>
<g fill="#7A79A6" fill-opacity="0.55"><circle cx="277.03" cy="493.64" r="0.53"/><circle cx="336.12" cy="461.17" r="0.43"/><circle cx="265.83" cy="463.74" r="0.54"/><circle cx="264.13" cy="483.64" r="0.42"/><circle cx="334.95" cy="488.65" r="0.38"/><circle cx="278.71" cy="458.64" r="0.57"/><circle cx="332.15" cy="501.49" r="0.56"/><circle cx="325.65" cy="510.81" r="0.55"/><circle cx="299.83" cy="498.18" r="0.5"/><circle cx="294.1" cy="472.77" r="0.47"/><circle cx="282.51" cy="456.73" r="0.56"/><circle cx="331.01" cy="513.17" r="0.53"/><circle cx="306.58" cy="497.75" r="0.41"/><circle cx="318.85" cy="477.92" r="0.41"/><circle cx="271.38" cy="483.08" r="0.43"/><circle cx="297.09" cy="488.46" r="0.46"/><circle cx="264.19" cy="481.01" r="0.43"/><circle cx="274.69" cy="461.74" r="0.46"/><circle cx="346.56" cy="474.43" r="0.54"/><circle cx="344.49" cy="451.91" r="0.41"/><circle cx="331.79" cy="503.58" r="0.52"/><circle cx="267.09" cy="475.98" r="0.57"/><circle cx="339.81" cy="501.31" r="0.42"/><circle cx="336.55" cy="473.46" r="0.54"/><circle cx="311.51" cy="496.08" r="0.42"/><circle cx="280.66" cy="459.79" r="0.53"/><circle cx="262.34" cy="463.76" r="0.39"/><circle cx="315.52" cy="485.25" r="0.5"/><circle cx="254.99" cy="477.67" r="0.45"/><circle cx="260.38" cy="449.29" r="0.6"/><circle cx="263.26" cy="468.7" r="0.44"/><circle cx="298.14" cy="472.94" r="0.56"/><circle cx="251.67" cy="470.86" r="0.49"/><circle cx="298.57" cy="492.62" r="0.44"/><circle cx="254.28" cy="481.69" r="0.58"/><circle cx="319.57" cy="504.29" r="0.43"/><circle cx="254.91" cy="474.95" r="0.39"/><circle cx="326.99" cy="488.09" r="0.38"/><circle cx="299.22" cy="485.15" r="0.45"/><circle cx="289.97" cy="451.27" r="0.4"/><circle cx="287.24" cy="477.82" r="0.57"/><circle cx="331.55" cy="470.08" r="0.58"/><circle cx="251.59" cy="465.23" r="0.57"/><circle cx="266.09" cy="480.23" r="0.46"/><circle cx="285.63" cy="501.22" r="0.42"/><circle cx="323.01" cy="492.43" r="0.59"/><circle cx="295.2" cy="486.36" r="0.51"/><circle cx="335.15" cy="507.44" r="0.4"/><circle cx="264.83" cy="483.8" r="0.56"/><circle cx="347.38" cy="468.46" r="0.39"/><circle cx="256.31" cy="451.08" r="0.54"/><circle cx="337.82" cy="514.08" r="0.56"/><circle cx="293.58" cy="489.54" r="0.56"/><circle cx="329.66" cy="478.36" r="0.38"/><circle cx="254.03" cy="465.94" r="0.45"/><circle cx="344.92" cy="465.17" r="0.57"/><circle cx="336.54" cy="476.15" r="0.6"/><circle cx="327.36" cy="480.56" r="0.43"/><circle cx="288.69" cy="480.05" r="0.42"/><circle cx="261.4" cy="487.38" r="0.44"/><circle cx="339.71" cy="481.4" r="0.49"/><circle cx="334.64" cy="463.03" r="0.54"/><circle cx="337.41" cy="458.42" r="0.56"/><circle cx="266.49" cy="452.58" r="0.49"/><circle cx="343.78" cy="465.83" r="0.48"/><circle cx="304.19" cy="449.72" r="0.48"/><circle cx="273.17" cy="452.4" r="0.53"/><circle cx="342.61" cy="509.67" r="0.56"/><circle cx="334.31" cy="493.39" r="0.54"/><circle cx="317.89" cy="487.5" r="0.43"/><circle cx="302.31" cy="499.48" r="0.57"/><circle cx="289.25" cy="502.06" r="0.49"/><circle cx="308.35" cy="476" r="0.58"/><circle cx="284.96" cy="492.8" r="0.58"/><circle cx="258.88" cy="480.19" r="0.47"/><circle cx="332.59" cy="500.08" r="0.6"/><circle cx="295.92" cy="475.78" r="0.5"/><circle cx="272.67" cy="458.58" r="0.45"/><circle cx="280.59" cy="462.35" r="0.59"/><circle cx="260.02" cy="456.44" r="0.4"/><circle cx="257.8" cy="474.23" r="0.42"/><circle cx="267.03" cy="450.12" r="0.53"/><circle cx="256.03" cy="464.14" r="0.5"/><circle cx="339.54" cy="491.96" r="0.53"/><circle cx="321.23" cy="500.91" r="0.57"/><circle cx="266.62" cy="452.61" r="0.51"/><circle cx="303.03" cy="482.96" r="0.55"/><circle cx="293.79" cy="476.51" r="0.43"/><circle cx="279.28" cy="486.73" r="0.5"/><circle cx="341.87" cy="467.31" r="0.54"/><circle cx="260.81" cy="491.48" r="0.41"/><circle cx="336.95" cy="511.84" r="0.43"/><circle cx="281.67" cy="455.81" r="0.47"/><circle cx="308.71" cy="476.41" r="0.53"/><circle cx="287.49" cy="449.23" r="0.57"/><circle cx="259.93" cy="455.67" r="0.55"/><circle cx="333.02" cy="478.19" r="0.47"/><circle cx="265.04" cy="449.18" r="0.49"/><circle cx="275.51" cy="458.92" r="0.58"/><circle cx="253.03" cy="472.65" r="0.54"/><circle cx="325.39" cy="485.72" r="0.52"/><circle cx="311.09" cy="499.14" r="0.49"/><circle cx="306.32" cy="502.23" r="0.51"/><circle cx="288.79" cy="450.43" r="0.55"/><circle cx="279.88" cy="485.2" r="0.47"/><circle cx="334.58" cy="487.72" r="0.5"/><circle cx="329.48" cy="477.73" r="0.5"/><circle cx="326.21" cy="496.06" r="0.54"/><circle cx="340.28" cy="485.37" r="0.5"/><circle cx="269.96" cy="464.78" r="0.47"/><circle cx="255.37" cy="471.83" r="0.54"/><circle cx="297.04" cy="504.24" r="0.41"/><circle cx="328.29" cy="477.13" r="0.5"/><circle cx="256.8" cy="475.29" r="0.56"/><circle cx="324.69" cy="485.76" r="0.47"/><circle cx="295.78" cy="496.16" r="0.51"/><circle cx="309.84" cy="478.2" r="0.59"/><circle cx="302.38" cy="482.15" r="0.39"/><circle cx="330.94" cy="490.65" r="0.43"/><circle cx="262.48" cy="476.4" r="0.59"/><circle cx="338.24" cy="479.35" r="0.38"/><circle cx="334.08" cy="462.24" r="0.54"/><circle cx="323.2" cy="450.22" r="0.5"/><circle cx="280.61" cy="494.3" r="0.59"/><circle cx="317.78" cy="481.21" r="0.51"/><circle cx="275.98" cy="479.5" r="0.4"/><circle cx="323.12" cy="506.84" r="0.53"/><circle cx="268.65" cy="458.19" r="0.43"/><circle cx="303.49" cy="500.27" r="0.53"/><circle cx="323.36" cy="482.41" r="0.41"/><circle cx="318.27" cy="502.13" r="0.43"/><circle cx="323.15" cy="479.26" r="0.42"/><circle cx="278.69" cy="484.07" r="0.56"/><circle cx="311.34" cy="449.13" r="0.55"/><circle cx="309.18" cy="476.57" r="0.43"/><circle cx="295.23" cy="494.09" r="0.44"/><circle cx="340.27" cy="456.21" r="0.46"/><circle cx="341.09" cy="460.54" r="0.5"/><circle cx="339.13" cy="479.48" r="0.54"/><circle cx="297.8" cy="495.67" r="0.59"/><circle cx="285.12" cy="497.01" r="0.45"/><circle cx="339.95" cy="498.76" r="0.57"/><circle cx="338.57" cy="487.8" r="0.59"/><circle cx="266.66" cy="486.4" r="0.39"/><circle cx="270.46" cy="486.67" r="0.46"/><circle cx="255.79" cy="468.98" r="0.59"/><circle cx="298.38" cy="493.5" r="0.47"/><circle cx="258.22" cy="488.89" r="0.42"/><circle cx="263.33" cy="489.21" r="0.53"/><circle cx="253.17" cy="459.89" r="0.45"/><circle cx="330.92" cy="497.37" r="0.54"/><circle cx="256.13" cy="459.08" r="0.54"/><circle cx="328.15" cy="492.85" r="0.43"/><circle cx="337.86" cy="482.58" r="0.42"/><circle cx="256.69" cy="463.38" r="0.46"/><circle cx="340.52" cy="503.1" r="0.56"/><circle cx="275.29" cy="455.89" r="0.57"/><circle cx="295.39" cy="468.25" r="0.5"/><circle cx="257.55" cy="476.65" r="0.52"/><circle cx="337.63" cy="457.07" r="0.58"/><circle cx="261.65" cy="462.52" r="0.45"/><circle cx="268.01" cy="455.02" r="0.52"/><circle cx="291.02" cy="461.43" r="0.49"/><circle cx="293.31" cy="475.01" r="0.46"/><circle cx="280.75" cy="493.99" r="0.48"/><circle cx="257.91" cy="458.54" r="0.56"/><circle cx="286.7" cy="486.78" r="0.47"/><circle cx="261.86" cy="462.99" r="0.58"/><circle cx="343.91" cy="501.93" r="0.57"/><circle cx="290.74" cy="480.9" r="0.49"/><circle cx="271.7" cy="485.91" r="0.57"/><circle cx="296.03" cy="477.63" r="0.46"/><circle cx="334.97" cy="511.82" r="0.46"/><circle cx="337.56" cy="466.16" r="0.42"/><circle cx="282.66" cy="454.72" r="0.41"/><circle cx="274.33" cy="491.44" r="0.58"/><circle cx="260.01" cy="486.38" r="0.48"/><circle cx="253.07" cy="465.99" r="0.41"/><circle cx="275" cy="453.64" r="0.56"/><circle cx="252.73" cy="476.04" r="0.41"/><circle cx="284.25" cy="484.31" r="0.47"/><circle cx="259.11" cy="476.59" r="0.51"/><circle cx="291.02" cy="500.12" r="0.48"/><circle cx="341.62" cy="480.28" r="0.51"/><circle cx="297.98" cy="504.93" r="0.54"/><circle cx="295.38" cy="472.85" r="0.55"/><circle cx="334.92" cy="488.25" r="0.57"/><circle cx="303.93" cy="476.08" r="0.45"/><circle cx="278.04" cy="459.05" r="0.58"/><circle cx="271.99" cy="476.67" r="0.56"/><circle cx="336.79" cy="498.47" r="0.44"/><circle cx="289.9" cy="491.32" r="0.39"/><circle cx="299.13" cy="482.02" r="0.58"/><circle cx="342.75" cy="454.06" r="0.47"/><circle cx="272.07" cy="485.08" r="0.38"/><circle cx="251.48" cy="456.09" r="0.58"/><circle cx="342.64" cy="481.98" r="0.44"/><circle cx="280.94" cy="496.78" r="0.51"/><circle cx="295.79" cy="494.02" r="0.4"/><circle cx="342.41" cy="480.68" r="0.55"/><circle cx="339.64" cy="483" r="0.41"/><circle cx="285.27" cy="483.32" r="0.38"/><circle cx="345.95" cy="467.16" r="0.52"/><circle cx="272.05" cy="485.62" r="0.45"/><circle cx="258.79" cy="460.54" r="0.38"/><circle cx="340.99" cy="462.28" r="0.58"/><circle cx="259.54" cy="489.49" r="0.53"/><circle cx="319.09" cy="508.24" r="0.4"/><circle cx="315.7" cy="494.83" r="0.59"/><circle cx="253.67" cy="487.39" r="0.45"/><circle cx="289.6" cy="471.78" r="0.48"/><circle cx="291.69" cy="463.29" r="0.41"/><circle cx="336.02" cy="458.84" r="0.52"/><circle cx="265.75" cy="470.25" r="0.6"/><circle cx="285.03" cy="455.76" r="0.5"/><circle cx="309.87" cy="482.29" r="0.59"/><circle cx="302.42" cy="472.77" r="0.42"/><circle cx="309.29" cy="497.47" r="0.49"/><circle cx="290.2" cy="465.43" r="0.57"/><circle cx="266.89" cy="452.79" r="0.51"/><circle cx="342.91" cy="493.98" r="0.53"/><circle cx="337.12" cy="475.89" r="0.47"/><circle cx="320.19" cy="483.16" r="0.55"/><circle cx="342.44" cy="452.08" r="0.42"/><circle cx="297.91" cy="495.53" r="0.43"/><circle cx="295.42" cy="492.23" r="0.44"/><circle cx="292.39" cy="490.62" r="0.57"/><circle cx="296.28" cy="469.7" r="0.4"/><circle cx="339.89" cy="499.49" r="0.52"/><circle cx="268.79" cy="483.7" r="0.48"/><circle cx="316.04" cy="505.86" r="0.46"/><circle cx="288.5" cy="494.91" r="0.57"/><circle cx="340.36" cy="508.93" r="0.39"/><circle cx="306.31" cy="481.6" r="0.6"/><circle cx="274.48" cy="451.98" r="0.59"/><circle cx="296.84" cy="478.89" r="0.47"/><circle cx="278.85" cy="451.01" r="0.5"/><circle cx="272.73" cy="481.56" r="0.6"/><circle cx="284.57" cy="457.03" r="0.51"/><circle cx="269.05" cy="457.31" r="0.58"/><circle cx="307.02" cy="506.93" r="0.42"/><circle cx="268.78" cy="486.66" r="0.53"/><circle cx="268.95" cy="481.74" r="0.5"/><circle cx="260.95" cy="452.93" r="0.56"/><circle cx="276.07" cy="492.94" r="0.4"/><circle cx="339.58" cy="450.95" r="0.56"/><circle cx="340.18" cy="449.9" r="0.39"/><circle cx="276.04" cy="451.97" r="0.57"/><circle cx="265.52" cy="493.05" r="0.59"/></g>
<path d="M296,452C300.17,450.17 308.5,449 315,449C321.5,449 332,449.17 335,452C338,454.83 334.5,462 333,466C331.5,470 329,474 326,476C323,478 319.33,479 315,478C310.67,477 304.17,473 300,470C295.83,467 290.67,463 290,460C289.33,457 291.83,453.83 296,452Z" fill="#EDEAEF"/>
<clipPath id="t1s0"><path d="M296,452C300.17,450.17 308.5,449 315,449C321.5,449 332,449.17 335,452C338,454.83 334.5,462 333,466C331.5,470 329,474 326,476C323,478 319.33,479 315,478C310.67,477 304.17,473 300,470C295.83,467 290.67,463 290,460C289.33,457 291.83,453.83 296,452Z"/></clipPath>
<g clip-path="url(#t1s0)">
<filter id="t1f0_0" x="0" y="0" width="100%" height="100%" color-interpolation-filters="sRGB"><feTurbulence type="fractalNoise" baseFrequency="0.4" numOctaves="3" seed="7"/><feColorMatrix type="matrix" values="0 0 0 0 0.62 0 0 0 0 0.45 0 0 0 0 0.42 5 0 0 0 -3.3000000000000003"/></filter>
<rect x="251.1" y="449.1" width="100.1" height="65" filter="url(#t1f0_0)"/>
</g>
<path d="M270,465C271.17,463.83 274,463.17 276,463C278,462.83 279.83,463.33 282,464C284.17,464.67 288,465.33 289,467C290,468.67 288.83,471.83 288,474C287.17,476.17 286,479.33 284,480C282,480.67 278.17,478.83 276,478C273.83,477.17 272.17,476.33 271,475C269.83,473.67 269.17,471.67 269,470C268.83,468.33 268.83,466.17 270,465Z" fill="#F5F4F6"/>
<path d="M299,486C299.5,484.17 302.83,484.17 305,484C307.17,483.83 309.67,484.33 312,485C314.33,485.67 318,486.5 319,488C320,489.5 319.5,492.67 318,494C316.5,495.33 312.67,495.83 310,496C307.33,496.17 303.83,496.67 302,495C300.17,493.33 298.5,487.83 299,486Z" fill="#F5F4F6"/>
<path d="M346,449C346.83,445.5 351.83,437.83 353,449C354.17,460.17 354.83,504.83 353,516C351.17,527.17 343.33,519.5 342,516C340.67,512.5 344,502.67 345,495C346,487.33 347.83,477.67 348,470C348.17,462.33 345.17,452.5 346,449Z" fill="#F3F1F3"/>
<path d="M250,488C252,484 257,490 262,492C267,494 273.67,497.67 280,500C286.33,502.33 293.33,504 300,506C306.67,508 314.67,510.33 320,512C325.33,513.67 343.67,515.33 332,516C320.33,516.67 263.67,520.67 250,516C236.33,511.33 248,492 250,488Z" fill="#ECEAEF"/>
<clipPath id="t1s4"><path d="M250,488C252,484 257,490 262,492C267,494 273.67,497.67 280,500C286.33,502.33 293.33,504 300,506C306.67,508 314.67,510.33 320,512C325.33,513.67 343.67,515.33 332,516C320.33,516.67 263.67,520.67 250,516C236.33,511.33 248,492 250,488Z"/></clipPath>
<g clip-path="url(#t1s4)">
<filter id="t1f4_0" x="0" y="0" width="100%" height="100%" color-interpolation-filters="sRGB"><feTurbulence type="fractalNoise" baseFrequency="0.4" numOctaves="3" seed="36"/><feColorMatrix type="matrix" values="0 0 0 0 0.62 0 0 0 0 0.45 0 0 0 0 0.42 5 0 0 0 -3.4000000000000004"/></filter>
<rect x="251.1" y="449.1" width="100.1" height="65" filter="url(#t1f4_0)"/>
<filter id="t1f4_1" x="0" y="0" width="100%" height="100%" color-interpolation-filters="sRGB"><feTurbulence type="fractalNoise" baseFrequency="0.15" numOctaves="3" seed="37"/><feColorMatrix type="matrix" values="0 0 0 0 0.8 0 0 0 0 0.79 0 0 0 0 0.88 4 0 0 0 -2.2"/></filter>
<rect x="251.1" y="449.1" width="100.1" height="65" filter="url(#t1f4_1)"/>
</g>
<path d="M250,500C252,497.83 258.67,500.33 262,503C265.33,505.67 272,513.83 270,516C268,518.17 253.33,518.67 250,516C246.67,513.33 248,502.17 250,500Z" fill="#D9C7C3"/>
<clipPath id="t1s5"><path d="M250,500C252,497.83 258.67,500.33 262,503C265.33,505.67 272,513.83 270,516C268,518.17 253.33,518.67 250,516C246.67,513.33 248,502.17 250,500Z"/></clipPath>
<g clip-path="url(#t1s5)">
<filter id="t1f5_0" x="0" y="0" width="100%" height="100%" color-interpolation-filters="sRGB"><feTurbulence type="fractalNoise" baseFrequency="0.4" numOctaves="3" seed="40"/><feColorMatrix type="matrix" values="0 0 0 0 0.72 0 0 0 0 0.56 0 0 0 0 0.5 3 0 0 0 -1.6500000000000001"/></filter>
<rect x="251.1" y="449.1" width="100.1" height="65" filter="url(#t1f5_0)"/>
<filter id="t1f5_1" x="0" y="0" width="100%" height="100%" color-interpolation-filters="sRGB"><feTurbulence type="fractalNoise" baseFrequency="0.6" numOctaves="3" seed="41"/><feColorMatrix type="matrix" values="0 0 0 0 0.55 0 0 0 0 0.42 0 0 0 0 0.42 4 0 0 0 -2.52"/></filter>
<rect x="251.1" y="449.1" width="100.1" height="65" filter="url(#t1f5_1)"/>
<filter id="t1f5_2" x="0" y="0" width="100%" height="100%" color-interpolation-filters="sRGB"><feTurbulence type="fractalNoise" baseFrequency="0.3" numOctaves="3" seed="44"/><feColorMatrix type="matrix" values="0 0 0 0 0.95 0 0 0 0 0.93 0 0 0 0 0.94 4 0 0 0 -2.32"/></filter>
<rect x="251.1" y="449.1" width="100.1" height="65" filter="url(#t1f5_2)"/>
</g>
<path d="M257,449C242.5,442 257.33,463.5 258,470C258.67,476.5 258.17,483.5 261,488C263.83,492.5 268.5,494.17 275,497C281.5,499.83 290.83,502.67 300,505C309.17,507.33 322.5,509.83 330,511C337.5,512.17 357.17,522.33 345,512" fill="none" stroke="#CDCBDC" stroke-width="1.6" stroke-linecap="round" stroke-linejoin="round"/>
<path d="M262,488C249,491.5 260.67,475 262,470C263.33,465 265.33,460.5 270,458C274.67,455.5 285,454.33 290,455C295,455.67 295.83,458.33 300,462C304.17,465.67 310,476 315,477C320,478 326.67,471.67 330,468C333.33,464.33 333.33,458.17 335,455C336.67,451.83 352.17,443.5 340,449" fill="none" stroke="#D2CFDF" stroke-width="1.4" stroke-linecap="round" stroke-linejoin="round"/>
</g>
<path d="M254.1,510.6H260.1" stroke="#222" stroke-width="0.8"/>
<text x="257.1" y="509.1" font-size="2.6" fill="#222" text-anchor="middle">50um</text>
<clipPath id="t2c"><rect x="357.3" y="449.1" width="99.4" height="65"/></clipPath>
<g clip-path="url(#t2c)">
<rect x="357.3" y="449.1" width="99.4" height="65" fill="#DDCDC8"/>
<filter id="t2b0" x="0" y="0" width="100%" height="100%" color-interpolation-filters="sRGB"><feTurbulence type="fractalNoise" baseFrequency="0.2" numOctaves="3" seed="15"/><feColorMatrix type="matrix" values="0 0 0 0 0.72 0 0 0 0 0.56 0 0 0 0 0.5 3 0 0 0 -1.47"/></filter>
<rect x="357.3" y="449.1" width="99.4" height="65" filter="url(#t2b0)"/>
<filter id="t2b1" x="0" y="0" width="100%" height="100%" color-interpolation-filters="sRGB"><feTurbulence type="fractalNoise" baseFrequency="0.3" numOctaves="3" seed="16"/><feColorMatrix type="matrix" values="0 0 0 0 0.58 0 0 0 0 0.42 0 0 0 0 0.4 4 0 0 0 -2.32"/></filter>
<rect x="357.3" y="449.1" width="99.4" height="65" filter="url(#t2b1)"/>
<filter id="t2b2" x="0" y="0" width="100%" height="100%" color-interpolation-filters="sRGB"><feTurbulence type="fractalNoise" baseFrequency="0.15" numOctaves="3" seed="19"/><feColorMatrix type="matrix" values="0 0 0 0 0.95 0 0 0 0 0.93 0 0 0 0 0.94 4 0 0 0 -2.48"/></filter>
<rect x="357.3" y="449.1" width="99.4" height="65" filter="url(#t2b2)"/>
<g fill="#77739F" fill-opacity="0.75"><circle cx="377.69" cy="488.15" r="1.09"/><circle cx="434.47" cy="498.79" r="1.08"/><circle cx="425.23" cy="481.78" r="1.45"/><circle cx="435.46" cy="512.26" r="1.07"/><circle cx="370.16" cy="487.93" r="1.58"/><circle cx="395.5" cy="476.92" r="1.38"/><circle cx="361.75" cy="475.54" r="1.28"/><circle cx="434.95" cy="513.48" r="1.11"/><circle cx="435.2" cy="510.34" r="1.5"/><circle cx="434.37" cy="508.44" r="1.49"/><circle cx="391.86" cy="479.63" r="1.3"/><circle cx="413.72" cy="483.08" r="1.66"/><circle cx="359.2" cy="477.03" r="1.23"/><circle cx="399.85" cy="453.26" r="1.16"/><circle cx="367.09" cy="488.67" r="1.07"/><circle cx="399.38" cy="450.58" r="1.64"/><circle cx="421.77" cy="484.65" r="1.3"/><circle cx="401" cy="469" r="1.14"/><circle cx="426.86" cy="482.58" r="1.46"/><circle cx="430.1" cy="509.44" r="1.08"/><circle cx="400.58" cy="463.29" r="1.36"/><circle cx="361.06" cy="489.53" r="1.48"/><circle cx="362.58" cy="480.6" r="1.12"/><circle cx="376.71" cy="483.14" r="1.57"/><circle cx="382.75" cy="499.73" r="1.22"/><circle cx="414.99" cy="479.84" r="1.08"/><circle cx="417.21" cy="469.1" r="1.43"/><circle cx="380.4" cy="463.39" r="1.21"/><circle cx="428.3" cy="494.21" r="1.07"/><circle cx="427.79" cy="498.66" r="1.34"/><circle cx="432.91" cy="510.14" r="1.56"/><circle cx="364.48" cy="473.73" r="1.45"/><circle cx="425.72" cy="498.76" r="1.49"/><circle cx="369.06" cy="474.83" r="1.65"/><circle cx="383.27" cy="455.64" r="1.56"/><circle cx="421.92" cy="473.09" r="1.34"/><circle cx="383.79" cy="494.01" r="1.24"/><circle cx="370.85" cy="481.43" r="1.08"/><circle cx="434.12" cy="479.47" r="1.33"/><circle cx="386.93" cy="494.68" r="1.33"/><circle cx="401.24" cy="462.52" r="1.1"/><circle cx="430.81" cy="492.17" r="1.17"/><circle cx="403" cy="456.81" r="1.55"/><circle cx="414.58" cy="477.73" r="1.67"/><circle cx="407.84" cy="467.01" r="1.48"/><circle cx="451.83" cy="489.71" r="1.63"/><circle cx="412.14" cy="468.47" r="1.45"/><circle cx="387.39" cy="489.61" r="1.59"/><circle cx="446.07" cy="482.14" r="1.41"/><circle cx="390.92" cy="497.47" r="1.31"/><circle cx="393.37" cy="497.07" r="1.27"/><circle cx="393.77" cy="487.5" r="1.37"/><circle cx="449.16" cy="487.21" r="1.27"/><circle cx="404.08" cy="459.49" r="1.14"/><circle cx="416.11" cy="481.16" r="1.3"/><circle cx="377.59" cy="478.46" r="1.15"/><circle cx="359.63" cy="472.13" r="1.36"/><circle cx="367.65" cy="472.58" r="1.61"/><circle cx="396.06" cy="467.01" r="1.58"/><circle cx="388.66" cy="498.27" r="1.66"/><circle cx="385.76" cy="490.13" r="1.56"/><circle cx="385.16" cy="479.75" r="1.27"/><circle cx="363.28" cy="472.35" r="1.67"/><circle cx="383.69" cy="492.69" r="1.6"/><circle cx="380.73" cy="462.94" r="1.48"/><circle cx="363.81" cy="488.67" r="1.61"/><circle cx="382.59" cy="498.56" r="1.37"/><circle cx="399.76" cy="459.77" r="1.57"/><circle cx="391.3" cy="461.35" r="1.3"/></g>
<path d="M354.51,446.51C358.85,442.79 376.35,444.77 380.57,446.51C384.79,448.25 380.69,453.46 379.82,456.93C378.96,460.41 377.84,465.12 375.36,467.36C372.88,469.59 368.41,470.09 364.93,470.33C361.46,470.58 356.25,472.82 354.51,468.85C352.77,464.88 350.17,450.23 354.51,446.51Z" fill="#F4F3F5"/>
<path d="M394.71,446.51C403.4,444.77 449.31,442.54 460.23,446.51C471.15,450.48 462.71,465.12 460.23,470.33C457.75,475.55 450.3,476.54 445.34,477.78C440.38,479.02 434.67,479.02 430.45,477.78C426.23,476.54 423.75,473.81 420.03,470.33C416.3,466.86 412.33,460.9 408.11,456.93C403.9,452.96 386.03,448.25 394.71,446.51Z" fill="#EDEBF0"/>
<clipPath id="t2s1"><path d="M394.71,446.51C403.4,444.77 449.31,442.54 460.23,446.51C471.15,450.48 462.71,465.12 460.23,470.33C457.75,475.55 450.3,476.54 445.34,477.78C440.38,479.02 434.67,479.02 430.45,477.78C426.23,476.54 423.75,473.81 420.03,470.33C416.3,466.86 412.33,460.9 408.11,456.93C403.9,452.96 386.03,448.25 394.71,446.51Z"/></clipPath>
<g clip-path="url(#t2s1)">
<filter id="t2f1_0" x="0" y="0" width="100%" height="100%" color-interpolation-filters="sRGB"><feTurbulence type="fractalNoise" baseFrequency="0.12" numOctaves="3" seed="24"/><feColorMatrix type="matrix" values="0 0 0 0 0.6 0 0 0 0 0.42 0 0 0 0 0.4 5 0 0 0 -3.4000000000000004"/></filter>
<rect x="357.3" y="449.1" width="99.4" height="65" filter="url(#t2f1_0)"/>
</g>
<path d="M393.22,483.74C394.22,481.38 399.68,482.74 403.65,482.99C407.62,483.24 413.57,483.61 417.05,485.22C420.52,486.84 423,489.44 424.49,492.67C425.98,495.9 426.23,500.61 425.98,504.58C425.73,508.55 427.22,514.51 423,516.49C418.79,518.48 405.38,517.98 400.67,516.49C395.95,515 395.21,510.79 394.71,507.56C394.22,504.33 397.94,501.11 397.69,497.14C397.44,493.17 392.23,486.09 393.22,483.74Z" fill="#F5F4F6"/>
<path d="M439.38,495.65C441.62,493.66 447.82,492.17 451.29,492.67C454.77,493.17 458.74,494.65 460.23,498.63C461.72,502.6 463.7,513.52 460.23,516.49C456.75,519.47 443.11,518.48 439.38,516.49C435.66,514.51 437.89,508.06 437.89,504.58C437.89,501.11 437.15,497.63 439.38,495.65Z" fill="#F5F4F6"/>
<path d="M354.51,492.67C357.24,488.7 366.17,491.43 370.89,492.67C375.6,493.91 379.95,496.14 382.8,500.11C385.66,504.08 392.73,513.76 388.01,516.49C383.3,519.22 360.09,520.46 354.51,516.49C348.93,512.52 351.78,496.64 354.51,492.67Z" fill="#EAE8EE"/>
<clipPath id="t2s4"><path d="M354.51,492.67C357.24,488.7 366.17,491.43 370.89,492.67C375.6,493.91 379.95,496.14 382.8,500.11C385.66,504.08 392.73,513.76 388.01,516.49C383.3,519.22 360.09,520.46 354.51,516.49C348.93,512.52 351.78,496.64 354.51,492.67Z"/></clipPath>
<g clip-path="url(#t2s4)">
<filter id="t2f4_0" x="0" y="0" width="100%" height="100%" color-interpolation-filters="sRGB"><feTurbulence type="fractalNoise" baseFrequency="0.08" numOctaves="3" seed="46"/><feColorMatrix type="matrix" values="0 0 0 0 0.8 0 0 0 0 0.79 0 0 0 0 0.88 4 0 0 0 -2.2"/></filter>
<rect x="357.3" y="449.1" width="99.4" height="65" filter="url(#t2f4_0)"/>
<filter id="t2f4_1" x="0" y="0" width="100%" height="100%" color-interpolation-filters="sRGB"><feTurbulence type="fractalNoise" baseFrequency="0.3" numOctaves="3" seed="48"/><feColorMatrix type="matrix" values="0 0 0 0 0.62 0 0 0 0 0.45 0 0 0 0 0.42 5 0 0 0 -3.4000000000000004"/></filter>
<rect x="357.3" y="449.1" width="99.4" height="65" filter="url(#t2f4_1)"/>
</g>
<path d="M396.2,447.26C387.52,445.02 402.9,453.34 406.63,456.93C410.35,460.53 414.57,465.25 418.54,468.85C422.51,472.44 425.98,476.79 430.45,478.52C434.92,480.26 440.62,480.63 445.34,479.27C450.05,477.9 466.93,475.67 458.74,470.33" fill="none" stroke="#BCBDD0" stroke-width="2.6" stroke-linecap="round" stroke-linejoin="round"/>
<path d="M354.51,494.16C351.41,490.44 364.93,492.92 369.4,494.16C373.87,495.4 378.21,497.88 381.31,501.6C384.41,505.33 392.48,517.73 388.01,516.49" fill="none" stroke="#BBBDD2" stroke-width="2.6" stroke-linecap="round" stroke-linejoin="round"/>
</g>
<path d="M360.3,510.6H366.3" stroke="#222" stroke-width="0.8"/>
<text x="363.3" y="509.1" font-size="2.6" fill="#222" text-anchor="middle">50um</text>
<rect x="280.5" y="464.3" width="51.3" height="32.6" fill="none" stroke="#3a3a3a" stroke-width="1" stroke-dasharray="4.5 2.5"/>
<path d="M331.8,464.3L357.3,449.1M331.8,496.9L357.3,514.1" stroke="#333" stroke-width="0.9" stroke-dasharray="4.5 2.5"/>
<rect x="357.3" y="449.1" width="99.4" height="65" fill="none" stroke="#555" stroke-width="1" stroke-dasharray="5 2.8"/>
<text x="349.7" y="511.8" font-size="6.2" fill="#111" text-anchor="end" font-style="italic">Patient ID: 2254</text>
<clipPath id="t3c"><rect x="251.1" y="520.8" width="100.1" height="65"/></clipPath>
<g clip-path="url(#t3c)">
<rect x="251.1" y="520.8" width="100.1" height="65" fill="#D6C7C3"/>
<filter id="t3b0" x="0" y="0" width="100%" height="100%" color-interpolation-filters="sRGB"><feTurbulence type="fractalNoise" baseFrequency="0.15 0.36" numOctaves="3" seed="31"/><feColorMatrix type="matrix" values="0 0 0 0 0.7 0 0 0 0 0.52 0 0 0 0 0.44 3 0 0 0 -1.62"/></filter>
<g transform="rotate(35 301.15 553.3)"><rect x="226.07" y="478.22" width="150.15" height="150.15" filter="url(#t3b0)"/></g>
<filter id="t3b1" x="0" y="0" width="100%" height="100%" color-interpolation-filters="sRGB"><feTurbulence type="fractalNoise" baseFrequency="0.44999999999999996" numOctaves="3" seed="32"/><feColorMatrix type="matrix" values="0 0 0 0 0.58 0 0 0 0 0.42 0 0 0 0 0.38 4 0 0 0 -2.4"/></filter>
<rect x="251.1" y="520.8" width="100.1" height="65" filter="url(#t3b1)"/>
<filter id="t3b2" x="0" y="0" width="100%" height="100%" color-interpolation-filters="sRGB"><feTurbulence type="fractalNoise" baseFrequency="0.135 0.42" numOctaves="3" seed="33"/><feColorMatrix type="matrix" values="0 0 0 0 0.52 0 0 0 0 0.36 0 0 0 0 0.3 3.5 0 0 0 -2.3800000000000003"/></filter>
<g transform="rotate(35 301.15 553.3)"><rect x="226.07" y="478.22" width="150.15" height="150.15" filter="url(#t3b2)"/></g>
<filter id="t3b3" x="0" y="0" width="100%" height="100%" color-interpolation-filters="sRGB"><feTurbulence type="fractalNoise" baseFrequency="0.21" numOctaves="3" seed="34"/><feColorMatrix type="matrix" values="0 0 0 0 0.95 0 0 0 0 0.94 0 0 0 0 0.95 4 0 0 0 -2.4"/></filter>
<rect x="251.1" y="520.8" width="100.1" height="65" filter="url(#t3b3)"/>
<g fill="#66689E" fill-opacity="0.6"><circle cx="272.11" cy="545.85" r="0.46"/><circle cx="290.7" cy="557.37" r="0.57"/><circle cx="276.59" cy="543.95" r="0.46"/><circle cx="332.65" cy="539.91" r="0.63"/><circle cx="258.48" cy="521.36" r="0.52"/><circle cx="293.36" cy="569.7" r="0.63"/><circle cx="302.49" cy="540.29" r="0.59"/><circle cx="297.16" cy="537.54" r="0.49"/><circle cx="251.15" cy="566.88" r="0.42"/><circle cx="269.92" cy="561.08" r="0.57"/><circle cx="313.04" cy="561.98" r="0.61"/><circle cx="345.67" cy="583.71" r="0.51"/><circle cx="286.24" cy="529.63" r="0.52"/><circle cx="268.37" cy="581.5" r="0.6"/><circle cx="274.68" cy="565.76" r="0.59"/><circle cx="261.03" cy="573.39" r="0.59"/><circle cx="298.4" cy="582.15" r="0.43"/><circle cx="254.49" cy="567.81" r="0.58"/><circle cx="251.52" cy="560.16" r="0.56"/><circle cx="288.99" cy="529.03" r="0.62"/><circle cx="340.39" cy="556.91" r="0.47"/><circle cx="305.32" cy="562.81" r="0.54"/><circle cx="331.46" cy="535.55" r="0.63"/><circle cx="322.96" cy="529.32" r="0.43"/><circle cx="328.98" cy="542.31" r="0.64"/><circle cx="344.32" cy="539.08" r="0.6"/><circle cx="272.89" cy="553.37" r="0.46"/><circle cx="331.04" cy="530.06" r="0.64"/><circle cx="287.31" cy="539.37" r="0.42"/><circle cx="272.22" cy="524.91" r="0.47"/><circle cx="349.16" cy="563.4" r="0.44"/><circle cx="261.76" cy="550.64" r="0.63"/><circle cx="296.51" cy="543.96" r="0.58"/><circle cx="263.65" cy="532.79" r="0.54"/><circle cx="334.61" cy="550.87" r="0.48"/><circle cx="304.82" cy="572.88" r="0.46"/><circle cx="266.07" cy="553.21" r="0.5"/><circle cx="265.68" cy="534.59" r="0.63"/><circle cx="271.33" cy="542.86" r="0.65"/><circle cx="288.39" cy="581.97" r="0.62"/><circle cx="299.05" cy="550.8" r="0.42"/><circle cx="289.91" cy="554.89" r="0.66"/><circle cx="258.77" cy="574.39" r="0.65"/><circle cx="339.73" cy="554.59" r="0.58"/><circle cx="286.54" cy="522.68" r="0.51"/><circle cx="325.7" cy="526.53" r="0.53"/><circle cx="257.08" cy="529.51" r="0.62"/><circle cx="255.12" cy="561.47" r="0.48"/><circle cx="279.24" cy="581.8" r="0.52"/><circle cx="307.56" cy="578.91" r="0.58"/><circle cx="264.14" cy="541.65" r="0.62"/><circle cx="281.82" cy="527.7" r="0.49"/><circle cx="279.29" cy="552.12" r="0.45"/><circle cx="335.36" cy="584.55" r="0.46"/><circle cx="304.33" cy="535.74" r="0.57"/><circle cx="278.23" cy="520.89" r="0.42"/><circle cx="252.98" cy="539.82" r="0.59"/><circle cx="299.36" cy="544.94" r="0.45"/><circle cx="337.35" cy="581.51" r="0.45"/><circle cx="286.84" cy="549.75" r="0.5"/><circle cx="258.71" cy="569.39" r="0.55"/><circle cx="252.75" cy="521.47" r="0.58"/><circle cx="294.55" cy="544.98" r="0.62"/><circle cx="253.88" cy="584.11" r="0.64"/><circle cx="300.03" cy="548.32" r="0.45"/><circle cx="317.55" cy="557.06" r="0.5"/><circle cx="317.98" cy="526.71" r="0.5"/><circle cx="346.29" cy="533.22" r="0.66"/><circle cx="286.54" cy="570.27" r="0.62"/><circle cx="263.04" cy="580.48" r="0.45"/><circle cx="278.31" cy="551.52" r="0.53"/><circle cx="346.81" cy="530.19" r="0.56"/><circle cx="259.71" cy="526.06" r="0.46"/><circle cx="315.54" cy="542.86" r="0.64"/><circle cx="299.23" cy="574.84" r="0.44"/><circle cx="288.91" cy="569.97" r="0.66"/><circle cx="261.06" cy="555.26" r="0.59"/><circle cx="335.41" cy="570.3" r="0.51"/><circle cx="331.74" cy="563.92" r="0.5"/><circle cx="282.78" cy="525.05" r="0.49"/><circle cx="268.43" cy="578.86" r="0.54"/><circle cx="329.27" cy="576.57" r="0.59"/><circle cx="255.09" cy="564.6" r="0.5"/><circle cx="276.91" cy="540.26" r="0.43"/><circle cx="342.74" cy="528.12" r="0.47"/><circle cx="346.31" cy="580.63" r="0.53"/><circle cx="274.36" cy="579.46" r="0.42"/><circle cx="305.31" cy="522.89" r="0.62"/><circle cx="324.05" cy="539.99" r="0.41"/><circle cx="261.1" cy="540.71" r="0.49"/><circle cx="336.11" cy="572.71" r="0.45"/><circle cx="350.83" cy="559.81" r="0.5"/><circle cx="300.69" cy="522.55" r="0.42"/><circle cx="302.01" cy="571.16" r="0.65"/><circle cx="251.65" cy="549.69" r="0.55"/><circle cx="277.97" cy="535.63" r="0.41"/><circle cx="338.66" cy="537.26" r="0.63"/><circle cx="317.84" cy="585.35" r="0.56"/><circle cx="328.81" cy="557.86" r="0.43"/><circle cx="322.99" cy="574.84" r="0.64"/><circle cx="288.03" cy="558.13" r="0.63"/><circle cx="263.62" cy="560.81" r="0.42"/><circle cx="305.31" cy="572.21" r="0.5"/><circle cx="259.29" cy="535.72" r="0.61"/><circle cx="348.44" cy="555.84" r="0.59"/><circle cx="310.29" cy="581.81" r="0.59"/><circle cx="334.11" cy="527.24" r="0.63"/><circle cx="277.98" cy="555.71" r="0.46"/><circle cx="277.87" cy="555.18" r="0.6"/><circle cx="320.25" cy="571.09" r="0.56"/><circle cx="294.82" cy="535.04" r="0.48"/><circle cx="275.96" cy="554.46" r="0.46"/><circle cx="314.93" cy="566.44" r="0.64"/><circle cx="261" cy="580.76" r="0.45"/><circle cx="300.13" cy="570.73" r="0.44"/><circle cx="339.26" cy="542.35" r="0.54"/><circle cx="296.61" cy="524.41" r="0.51"/><circle cx="276.22" cy="552.23" r="0.65"/><circle cx="257.15" cy="544.17" r="0.55"/><circle cx="342.46" cy="523.22" r="0.52"/><circle cx="341.31" cy="573.69" r="0.41"/><circle cx="282.21" cy="536.93" r="0.48"/><circle cx="279.63" cy="533.65" r="0.57"/><circle cx="332.16" cy="535.09" r="0.45"/><circle cx="267.89" cy="570.19" r="0.63"/><circle cx="305.23" cy="568.22" r="0.44"/><circle cx="322.76" cy="584.22" r="0.53"/><circle cx="251.11" cy="527.88" r="0.48"/><circle cx="297.92" cy="560.74" r="0.66"/><circle cx="253.38" cy="546" r="0.6"/><circle cx="316.37" cy="565.74" r="0.43"/><circle cx="287.83" cy="533.26" r="0.57"/><circle cx="274.01" cy="571.87" r="0.42"/><circle cx="338.09" cy="544.77" r="0.42"/><circle cx="325.56" cy="550.44" r="0.45"/><circle cx="330.52" cy="555.55" r="0.61"/><circle cx="293.57" cy="541.47" r="0.61"/><circle cx="282.72" cy="566.54" r="0.55"/><circle cx="257.52" cy="552.11" r="0.46"/><circle cx="264.21" cy="569.48" r="0.6"/><circle cx="337.38" cy="539.33" r="0.47"/><circle cx="345.44" cy="542.75" r="0.43"/><circle cx="275.08" cy="529.8" r="0.59"/><circle cx="344.62" cy="576.25" r="0.52"/><circle cx="277.84" cy="555.53" r="0.5"/><circle cx="271.96" cy="562.11" r="0.64"/><circle cx="305.39" cy="540.71" r="0.52"/><circle cx="258.43" cy="567.16" r="0.58"/><circle cx="340.81" cy="568.39" r="0.46"/><circle cx="292.87" cy="543.57" r="0.49"/><circle cx="330.57" cy="545.5" r="0.56"/><circle cx="270.56" cy="563.12" r="0.62"/><circle cx="313.7" cy="544.32" r="0.54"/><circle cx="277.64" cy="548.96" r="0.65"/><circle cx="293.25" cy="582.45" r="0.42"/><circle cx="313.59" cy="561.61" r="0.43"/><circle cx="260.03" cy="585.4" r="0.49"/><circle cx="265.32" cy="541.61" r="0.51"/><circle cx="293.76" cy="585.19" r="0.51"/><circle cx="276.73" cy="559.98" r="0.51"/><circle cx="324.4" cy="545.24" r="0.49"/><circle cx="280.9" cy="550.45" r="0.5"/><circle cx="301.91" cy="580.15" r="0.62"/><circle cx="285.21" cy="555.25" r="0.62"/><circle cx="277.8" cy="563.26" r="0.41"/><circle cx="326.02" cy="529.7" r="0.51"/><circle cx="294.8" cy="571.02" r="0.49"/><circle cx="296" cy="539.45" r="0.58"/><circle cx="272.98" cy="583.78" r="0.51"/><circle cx="308.05" cy="554.77" r="0.41"/><circle cx="264.46" cy="527.32" r="0.58"/><circle cx="275.35" cy="546.56" r="0.42"/><circle cx="300.23" cy="536.7" r="0.51"/><circle cx="335.26" cy="577.43" r="0.43"/><circle cx="308.23" cy="524.03" r="0.66"/><circle cx="325.73" cy="523.79" r="0.51"/><circle cx="327.32" cy="537.02" r="0.65"/><circle cx="261.14" cy="580.49" r="0.45"/><circle cx="319.63" cy="538.76" r="0.5"/><circle cx="257.72" cy="565.06" r="0.61"/><circle cx="251.55" cy="527.91" r="0.44"/><circle cx="273.19" cy="575.36" r="0.46"/><circle cx="302.08" cy="542.52" r="0.63"/><circle cx="320.48" cy="549.94" r="0.64"/><circle cx="297.18" cy="561.24" r="0.42"/><circle cx="254.06" cy="523.37" r="0.52"/><circle cx="312.01" cy="528.79" r="0.43"/><circle cx="333.32" cy="578.8" r="0.42"/><circle cx="294.5" cy="562.19" r="0.44"/><circle cx="333.4" cy="551.2" r="0.61"/><circle cx="340.6" cy="524.45" r="0.58"/><circle cx="346.7" cy="563.75" r="0.41"/><circle cx="341.73" cy="562.36" r="0.57"/><circle cx="311.65" cy="562.2" r="0.55"/><circle cx="347" cy="562.43" r="0.53"/><circle cx="263.81" cy="528.17" r="0.56"/><circle cx="308.03" cy="541.07" r="0.64"/><circle cx="265.99" cy="566.89" r="0.53"/><circle cx="329.83" cy="563.4" r="0.52"/><circle cx="324.71" cy="563.28" r="0.53"/><circle cx="303.86" cy="533.41" r="0.56"/><circle cx="305.27" cy="563" r="0.61"/><circle cx="261.7" cy="563.39" r="0.45"/><circle cx="310.53" cy="585.79" r="0.6"/><circle cx="336.02" cy="525" r="0.55"/><circle cx="300.3" cy="543.25" r="0.54"/><circle cx="266.31" cy="573.5" r="0.62"/><circle cx="323.06" cy="559.34" r="0.47"/><circle cx="300.19" cy="536.84" r="0.42"/><circle cx="313.14" cy="544.73" r="0.65"/><circle cx="302.63" cy="525.88" r="0.62"/><circle cx="275.54" cy="540.6" r="0.61"/><circle cx="275.44" cy="528.12" r="0.46"/><circle cx="299.19" cy="544.32" r="0.63"/><circle cx="303.73" cy="583.34" r="0.59"/><circle cx="276.3" cy="544.1" r="0.43"/><circle cx="308.09" cy="583.32" r="0.66"/><circle cx="251.45" cy="546.14" r="0.54"/><circle cx="302.04" cy="529.6" r="0.48"/><circle cx="281.29" cy="541.1" r="0.59"/><circle cx="315.37" cy="564.31" r="0.5"/><circle cx="262.59" cy="578.18" r="0.6"/><circle cx="338.56" cy="536.2" r="0.46"/><circle cx="288.41" cy="547.53" r="0.63"/><circle cx="329.06" cy="524.41" r="0.57"/><circle cx="323.14" cy="574.96" r="0.52"/><circle cx="266.09" cy="539.81" r="0.63"/><circle cx="318.93" cy="531.32" r="0.43"/><circle cx="303.44" cy="566.67" r="0.63"/><circle cx="267.58" cy="568.83" r="0.49"/><circle cx="339.76" cy="521.16" r="0.62"/><circle cx="307.74" cy="550.37" r="0.46"/><circle cx="344.25" cy="562.21" r="0.48"/><circle cx="255.07" cy="560.94" r="0.59"/><circle cx="270.36" cy="537.25" r="0.6"/><circle cx="333.27" cy="540.05" r="0.5"/><circle cx="322.35" cy="576.53" r="0.48"/><circle cx="314.06" cy="559.75" r="0.45"/><circle cx="342.21" cy="559.39" r="0.61"/><circle cx="290" cy="527.72" r="0.42"/><circle cx="263.79" cy="576.35" r="0.43"/><circle cx="296.74" cy="544.74" r="0.5"/><circle cx="288.44" cy="529.1" r="0.49"/><circle cx="324.07" cy="557.22" r="0.59"/><circle cx="258.56" cy="580.99" r="0.57"/><circle cx="264.05" cy="553.57" r="0.46"/><circle cx="317.04" cy="529.32" r="0.5"/><circle cx="329.07" cy="564.62" r="0.54"/><circle cx="324.99" cy="524.24" r="0.5"/><circle cx="265.95" cy="555.18" r="0.5"/><circle cx="348.76" cy="554.88" r="0.63"/><circle cx="296.48" cy="531.61" r="0.61"/><circle cx="260" cy="527.93" r="0.61"/><circle cx="310.52" cy="552.91" r="0.43"/><circle cx="327.26" cy="577.94" r="0.5"/><circle cx="323.42" cy="558.34" r="0.6"/><circle cx="310.72" cy="559.17" r="0.43"/><circle cx="315.56" cy="577.5" r="0.49"/><circle cx="308.47" cy="555.51" r="0.66"/><circle cx="271.32" cy="534.61" r="0.54"/><circle cx="319.83" cy="533.05" r="0.42"/><circle cx="295.67" cy="577.33" r="0.45"/><circle cx="328.68" cy="539.94" r="0.44"/><circle cx="300.45" cy="530.74" r="0.48"/><circle cx="289.62" cy="573.48" r="0.53"/><circle cx="263.74" cy="575.37" r="0.49"/><circle cx="332.61" cy="584.01" r="0.48"/><circle cx="329.6" cy="585.36" r="0.54"/><circle cx="329.94" cy="580.51" r="0.41"/><circle cx="294.86" cy="555.93" r="0.5"/><circle cx="347.87" cy="545.77" r="0.62"/><circle cx="256.61" cy="576.12" r="0.42"/><circle cx="307.04" cy="561.93" r="0.61"/><circle cx="315.27" cy="572.52" r="0.53"/><circle cx="340.67" cy="575.25" r="0.47"/><circle cx="278.97" cy="535.73" r="0.54"/><circle cx="326.82" cy="554.35" r="0.6"/><circle cx="288.59" cy="574.45" r="0.53"/><circle cx="286.19" cy="530.41" r="0.53"/><circle cx="264.35" cy="543.99" r="0.5"/><circle cx="269.91" cy="558.12" r="0.59"/><circle cx="313.41" cy="528.8" r="0.52"/><circle cx="288.1" cy="544.88" r="0.61"/><circle cx="286.87" cy="524.16" r="0.48"/><circle cx="308.96" cy="568.15" r="0.5"/><circle cx="341.01" cy="585.49" r="0.52"/><circle cx="257.35" cy="552.82" r="0.51"/><circle cx="287.63" cy="584.19" r="0.55"/><circle cx="339.68" cy="557.58" r="0.61"/><circle cx="307.63" cy="566.55" r="0.42"/><circle cx="313.27" cy="548.93" r="0.53"/><circle cx="310.72" cy="581.03" r="0.59"/><circle cx="263.72" cy="536.3" r="0.42"/><circle cx="300.36" cy="579.02" r="0.58"/><circle cx="306.07" cy="567.72" r="0.43"/><circle cx="330.05" cy="541.03" r="0.62"/><circle cx="274.64" cy="554.14" r="0.5"/><circle cx="259.19" cy="537.13" r="0.43"/><circle cx="342.59" cy="521.39" r="0.42"/><circle cx="336.19" cy="554.64" r="0.54"/><circle cx="339.43" cy="561.25" r="0.63"/><circle cx="290.9" cy="547.95" r="0.5"/><circle cx="341.15" cy="563.47" r="0.55"/><circle cx="294.51" cy="581.75" r="0.63"/><circle cx="280.89" cy="583.67" r="0.45"/><circle cx="286.4" cy="582.69" r="0.63"/><circle cx="320.93" cy="580.8" r="0.43"/><circle cx="318.32" cy="569.39" r="0.5"/><circle cx="290.12" cy="530.41" r="0.52"/><circle cx="328.68" cy="527.28" r="0.46"/><circle cx="268.87" cy="526.88" r="0.45"/><circle cx="276.59" cy="582.64" r="0.57"/><circle cx="288.05" cy="527.83" r="0.56"/><circle cx="292.84" cy="553.75" r="0.6"/><circle cx="264.32" cy="524.63" r="0.42"/><circle cx="348.17" cy="535.07" r="0.57"/><circle cx="350.36" cy="569.25" r="0.58"/><circle cx="306.74" cy="525.63" r="0.45"/><circle cx="268.28" cy="578.65" r="0.5"/><circle cx="271.44" cy="575.65" r="0.65"/><circle cx="333.67" cy="553.44" r="0.49"/><circle cx="338.6" cy="547.79" r="0.45"/><circle cx="302.47" cy="532.17" r="0.63"/><circle cx="315.27" cy="537.71" r="0.49"/><circle cx="284.44" cy="561.9" r="0.54"/><circle cx="349.98" cy="578.7" r="0.44"/><circle cx="302.84" cy="533.1" r="0.53"/><circle cx="251.45" cy="565.97" r="0.59"/><circle cx="335.25" cy="541.72" r="0.65"/><circle cx="302.65" cy="581.58" r="0.55"/><circle cx="344.37" cy="579.56" r="0.51"/><circle cx="301.41" cy="532.42" r="0.5"/><circle cx="262.36" cy="568.22" r="0.47"/><circle cx="325.44" cy="532.21" r="0.51"/><circle cx="311.67" cy="550.28" r="0.44"/><circle cx="307.91" cy="556.7" r="0.54"/><circle cx="275.23" cy="560.3" r="0.45"/><circle cx="316.26" cy="576.89" r="0.48"/><circle cx="347.32" cy="547.28" r="0.42"/><circle cx="277.89" cy="546.45" r="0.42"/><circle cx="308.66" cy="573.89" r="0.49"/><circle cx="295.84" cy="524.57" r="0.59"/><circle cx="314.05" cy="557.13" r="0.48"/><circle cx="314.89" cy="551.27" r="0.6"/><circle cx="313.19" cy="529.53" r="0.42"/><circle cx="253.07" cy="577.19" r="0.44"/><circle cx="254.95" cy="523.03" r="0.5"/><circle cx="269.92" cy="544.82" r="0.65"/><circle cx="346.69" cy="569.82" r="0.58"/><circle cx="333.66" cy="537.95" r="0.48"/><circle cx="269.09" cy="572.51" r="0.59"/><circle cx="254.72" cy="574.21" r="0.5"/><circle cx="288.49" cy="538.24" r="0.52"/><circle cx="301.97" cy="545.36" r="0.64"/><circle cx="278.85" cy="584.1" r="0.6"/><circle cx="279.48" cy="563.98" r="0.43"/><circle cx="270.16" cy="577.56" r="0.6"/><circle cx="339.88" cy="525.26" r="0.59"/><circle cx="273.82" cy="537.99" r="0.44"/><circle cx="282.91" cy="539.89" r="0.49"/><circle cx="313.45" cy="532.98" r="0.47"/><circle cx="306.73" cy="536.64" r="0.65"/><circle cx="326.02" cy="558.13" r="0.48"/><circle cx="264.3" cy="580.9" r="0.46"/><circle cx="320.95" cy="543.92" r="0.6"/><circle cx="329.45" cy="581.45" r="0.65"/><circle cx="281.8" cy="538.16" r="0.49"/><circle cx="320.66" cy="537.98" r="0.44"/><circle cx="317.79" cy="583.59" r="0.64"/><circle cx="251.15" cy="528.27" r="0.57"/><circle cx="328.95" cy="585.54" r="0.55"/><circle cx="262.67" cy="577.02" r="0.6"/><circle cx="283.32" cy="550.96" r="0.65"/><circle cx="295.62" cy="582.15" r="0.59"/><circle cx="342.42" cy="543.16" r="0.45"/><circle cx="309.85" cy="536.19" r="0.55"/><circle cx="270.89" cy="539.53" r="0.62"/><circle cx="285.51" cy="573.74" r="0.52"/><circle cx="309.78" cy="530.17" r="0.58"/><circle cx="333.6" cy="574.88" r="0.5"/><circle cx="334.81" cy="553.04" r="0.48"/><circle cx="297.64" cy="566.83" r="0.44"/><circle cx="333.05" cy="585.17" r="0.58"/><circle cx="341.63" cy="561.83" r="0.62"/><circle cx="339.24" cy="525.23" r="0.44"/><circle cx="277.39" cy="548.55" r="0.45"/><circle cx="282.88" cy="540.56" r="0.52"/><circle cx="294.51" cy="556.62" r="0.59"/><circle cx="342.72" cy="576.71" r="0.51"/><circle cx="309.84" cy="526.49" r="0.45"/><circle cx="276.09" cy="563.31" r="0.43"/><circle cx="315.56" cy="534.45" r="0.41"/><circle cx="308.91" cy="547.83" r="0.43"/><circle cx="263.82" cy="568.12" r="0.5"/><circle cx="280.94" cy="533.36" r="0.51"/><circle cx="336.89" cy="565.53" r="0.56"/><circle cx="339.01" cy="580.94" r="0.54"/><circle cx="310.18" cy="539.62" r="0.55"/><circle cx="252.22" cy="546.33" r="0.59"/><circle cx="272.54" cy="570.38" r="0.5"/><circle cx="329.57" cy="574.75" r="0.63"/><circle cx="307.96" cy="521.55" r="0.55"/><circle cx="341.43" cy="527.96" r="0.51"/><circle cx="337.94" cy="524.01" r="0.59"/><circle cx="340.35" cy="568.82" r="0.58"/><circle cx="312.28" cy="560.39" r="0.65"/><circle cx="275.61" cy="585.05" r="0.61"/><circle cx="278.13" cy="562.81" r="0.44"/><circle cx="339.23" cy="558.04" r="0.6"/><circle cx="281.4" cy="585.4" r="0.62"/><circle cx="313.87" cy="540.23" r="0.49"/><circle cx="348.69" cy="577.86" r="0.42"/><circle cx="277.37" cy="570.48" r="0.65"/><circle cx="268.7" cy="561.69" r="0.57"/><circle cx="328.74" cy="580.66" r="0.62"/><circle cx="275.36" cy="541.93" r="0.41"/><circle cx="301.19" cy="567.18" r="0.56"/><circle cx="276.1" cy="558.95" r="0.62"/><circle cx="274" cy="566.42" r="0.62"/><circle cx="287.12" cy="521.24" r="0.62"/><circle cx="328.89" cy="582.92" r="0.55"/><circle cx="267.4" cy="555.98" r="0.64"/><circle cx="263.96" cy="535.99" r="0.51"/><circle cx="334.74" cy="572.45" r="0.48"/><circle cx="334.79" cy="535.49" r="0.63"/><circle cx="300.08" cy="568.57" r="0.43"/><circle cx="300.08" cy="554.26" r="0.46"/><circle cx="304.94" cy="553.91" r="0.54"/><circle cx="324.56" cy="559.69" r="0.53"/><circle cx="315.19" cy="562.82" r="0.6"/><circle cx="260.41" cy="541.5" r="0.54"/><circle cx="256.82" cy="585.69" r="0.42"/><circle cx="296.98" cy="521.72" r="0.43"/><circle cx="335.68" cy="528.34" r="0.44"/><circle cx="299.5" cy="529.34" r="0.62"/><circle cx="314.48" cy="520.92" r="0.6"/><circle cx="314.5" cy="548.88" r="0.6"/><circle cx="285.34" cy="521.32" r="0.44"/><circle cx="336.99" cy="522.16" r="0.64"/><circle cx="321.94" cy="541.89" r="0.5"/><circle cx="313.15" cy="571.76" r="0.57"/><circle cx="296.3" cy="550.94" r="0.5"/><circle cx="311.5" cy="577.62" r="0.54"/><circle cx="251.36" cy="556.7" r="0.61"/><circle cx="273.46" cy="565.45" r="0.56"/><circle cx="303.44" cy="550.7" r="0.49"/><circle cx="281.54" cy="521.93" r="0.56"/></g>
<clipPath id="t3s0"><path d="M263.4,535.38C265.88,532.65 279.78,532.65 287.22,535.38C294.67,538.11 304.6,547.04 308.07,551.76C311.54,556.47 311.54,561.68 308.07,563.67C304.6,565.65 293.18,565.65 287.22,563.67C281.27,561.68 276.31,556.47 272.33,551.76C268.36,547.04 260.92,538.11 263.4,535.38Z"/></clipPath>
<g clip-path="url(#t3s0)">
<filter id="t3f0_0" x="0" y="0" width="100%" height="100%" color-interpolation-filters="sRGB"><feTurbulence type="fractalNoise" baseFrequency="0.12 0.5" numOctaves="3" seed="37"/><feColorMatrix type="matrix" values="0 0 0 0 0.52 0 0 0 0 0.36 0 0 0 0 0.3 4 0 0 0 -2.28"/></filter>
<rect x="251.1" y="520.8" width="100.1" height="65" filter="url(#t3f0_0)"/>
</g>
<clipPath id="t3s1"><path d="M250,563.67C253.72,559.95 267.37,562.68 272.33,565.16C277.3,567.64 279.78,574.84 279.78,578.56C279.78,582.28 277.3,586 272.33,587.49C267.37,588.98 253.72,591.46 250,587.49C246.28,583.52 246.28,567.39 250,563.67Z"/></clipPath>
<g clip-path="url(#t3s1)">
<filter id="t3f1_0" x="0" y="0" width="100%" height="100%" color-interpolation-filters="sRGB"><feTurbulence type="fractalNoise" baseFrequency="0.4" numOctaves="3" seed="45"/><feColorMatrix type="matrix" values="0 0 0 0 0.52 0 0 0 0 0.36 0 0 0 0 0.3 4 0 0 0 -2.24"/></filter>
<rect x="251.1" y="520.8" width="100.1" height="65" filter="url(#t3f1_0)"/>
</g>
<path d="M330.41,540.59C330.65,539.1 332.14,538.6 332.64,539.85C333.13,541.09 333.63,546.55 333.38,548.04C333.13,549.52 331.65,550.02 331.15,548.78C330.65,547.54 330.16,542.08 330.41,540.59Z" fill="#F4F2F4"/>
<path d="M342.32,538.36C342.64,537.12 344.25,538.23 344.55,539.85C344.85,541.46 344.43,546.79 344.1,548.04C343.78,549.28 342.91,548.9 342.61,547.29C342.32,545.68 341.99,539.6 342.32,538.36Z" fill="#F0EEF0"/>
</g>
<path d="M254.1,582.3H260.1" stroke="#222" stroke-width="0.8"/>
<text x="257.1" y="580.8" font-size="2.6" fill="#222" text-anchor="middle">50um</text>
<clipPath id="t4c"><rect x="357.3" y="520.8" width="99.4" height="65"/></clipPath>
<g clip-path="url(#t4c)">
<rect x="357.3" y="520.8" width="99.4" height="65" fill="#D8C8C2"/>
<filter id="t4b0" x="0" y="0" width="100%" height="100%" color-interpolation-filters="sRGB"><feTurbulence type="fractalNoise" baseFrequency="0.075 0.18" numOctaves="3" seed="41"/><feColorMatrix type="matrix" values="0 0 0 0 0.7 0 0 0 0 0.52 0 0 0 0 0.44 3 0 0 0 -1.62"/></filter>
<g transform="rotate(35 407 553.3)"><rect x="332.45" y="478.75" width="149.1" height="149.1" filter="url(#t4b0)"/></g>
<filter id="t4b1" x="0" y="0" width="100%" height="100%" color-interpolation-filters="sRGB"><feTurbulence type="fractalNoise" baseFrequency="0.22499999999999998" numOctaves="3" seed="42"/><feColorMatrix type="matrix" values="0 0 0 0 0.58 0 0 0 0 0.42 0 0 0 0 0.38 4 0 0 0 -2.4"/></filter>
<rect x="357.3" y="520.8" width="99.4" height="65" filter="url(#t4b1)"/>
<filter id="t4b2" x="0" y="0" width="100%" height="100%" color-interpolation-filters="sRGB"><feTurbulence type="fractalNoise" baseFrequency="0.0675 0.21" numOctaves="3" seed="43"/><feColorMatrix type="matrix" values="0 0 0 0 0.52 0 0 0 0 0.36 0 0 0 0 0.3 3.5 0 0 0 -2.3800000000000003"/></filter>
<g transform="rotate(35 407 553.3)"><rect x="332.45" y="478.75" width="149.1" height="149.1" filter="url(#t4b2)"/></g>
<filter id="t4b3" x="0" y="0" width="100%" height="100%" color-interpolation-filters="sRGB"><feTurbulence type="fractalNoise" baseFrequency="0.105" numOctaves="3" seed="44"/><feColorMatrix type="matrix" values="0 0 0 0 0.95 0 0 0 0 0.94 0 0 0 0 0.95 4 0 0 0 -2.4"/></filter>
<rect x="357.3" y="520.8" width="99.4" height="65" filter="url(#t4b3)"/>
<g fill="#66689E" fill-opacity="0.55"><circle cx="454.55" cy="524.34" r="1.08"/><circle cx="405.4" cy="582.01" r="0.93"/><circle cx="448.67" cy="531.14" r="1.2"/><circle cx="398.35" cy="532.7" r="0.91"/><circle cx="420" cy="523.02" r="0.92"/><circle cx="358.4" cy="525.31" r="0.83"/><circle cx="380.22" cy="538.63" r="1.1"/><circle cx="398.65" cy="576.53" r="1.15"/><circle cx="446.28" cy="582.4" r="1.01"/><circle cx="424.01" cy="578.1" r="0.99"/><circle cx="371.44" cy="554.63" r="0.99"/><circle cx="375.16" cy="526.83" r="0.83"/><circle cx="426.62" cy="573.6" r="1.05"/><circle cx="399.71" cy="522.65" r="0.75"/><circle cx="422.39" cy="555.23" r="0.96"/><circle cx="374.35" cy="528.81" r="0.83"/><circle cx="370.08" cy="559.76" r="0.89"/><circle cx="412.45" cy="548.7" r="1"/><circle cx="431.29" cy="571.53" r="0.82"/><circle cx="452.7" cy="576.25" r="1.12"/><circle cx="402.33" cy="582.68" r="1.12"/><circle cx="381.06" cy="565.45" r="1.13"/><circle cx="432.14" cy="579.28" r="0.99"/><circle cx="424.02" cy="525.74" r="1.05"/><circle cx="371.84" cy="567.87" r="1.16"/><circle cx="394.23" cy="525.36" r="0.77"/><circle cx="408.66" cy="530.94" r="1.08"/><circle cx="417.9" cy="553.31" r="1.05"/><circle cx="372.29" cy="550.59" r="0.77"/><circle cx="411.72" cy="572.37" r="0.82"/><circle cx="425.74" cy="585.41" r="0.9"/><circle cx="378.01" cy="537.21" r="1.12"/><circle cx="365.31" cy="571.24" r="0.87"/><circle cx="432.44" cy="578.46" r="1.13"/><circle cx="376.4" cy="556.42" r="0.89"/><circle cx="444.3" cy="539.98" r="0.83"/><circle cx="397.65" cy="526.41" r="0.85"/><circle cx="427.17" cy="542.04" r="0.83"/><circle cx="450.25" cy="537.76" r="1.11"/><circle cx="425.3" cy="556.96" r="1.04"/><circle cx="415.04" cy="575.49" r="1.06"/><circle cx="383.94" cy="563.42" r="0.98"/><circle cx="449.01" cy="528.36" r="0.95"/><circle cx="453.4" cy="525.19" r="1.08"/><circle cx="446.75" cy="560.39" r="0.78"/><circle cx="434.45" cy="537.92" r="0.98"/><circle cx="438.51" cy="541.17" r="0.86"/><circle cx="368.9" cy="543.08" r="0.8"/><circle cx="426.34" cy="574.74" r="0.78"/><circle cx="409.74" cy="572.29" r="1.1"/><circle cx="383.64" cy="555.25" r="1.06"/><circle cx="409.02" cy="585.74" r="1.16"/><circle cx="453.3" cy="528.94" r="0.76"/><circle cx="415.92" cy="558.42" r="0.87"/><circle cx="381.49" cy="571.9" r="1.11"/><circle cx="358.64" cy="528.78" r="1.07"/><circle cx="399.31" cy="530.81" r="1.18"/><circle cx="390.06" cy="525.83" r="0.94"/><circle cx="397.65" cy="562.83" r="1.09"/><circle cx="365.43" cy="551.46" r="1.16"/><circle cx="405.64" cy="578.51" r="1.16"/><circle cx="437.24" cy="563.11" r="0.8"/><circle cx="455.01" cy="540.38" r="0.89"/><circle cx="407.4" cy="555.58" r="1.1"/><circle cx="410.93" cy="580.68" r="1.1"/><circle cx="421.57" cy="538.66" r="1.04"/><circle cx="407.09" cy="570.1" r="0.87"/><circle cx="436.1" cy="567.15" r="0.83"/><circle cx="450.57" cy="552.33" r="0.95"/><circle cx="390.85" cy="545.95" r="1.11"/><circle cx="448.97" cy="551.32" r="0.99"/><circle cx="403.9" cy="528.75" r="1.15"/><circle cx="399.06" cy="522.53" r="0.86"/><circle cx="387.08" cy="571.87" r="0.83"/><circle cx="372.91" cy="579.5" r="0.89"/><circle cx="449.82" cy="521.46" r="0.79"/><circle cx="378.2" cy="546.2" r="0.99"/><circle cx="389.95" cy="583.44" r="1.17"/><circle cx="413.75" cy="584.87" r="1.14"/><circle cx="454.26" cy="558.92" r="0.8"/><circle cx="413.68" cy="523.97" r="0.93"/><circle cx="456.15" cy="546.46" r="1.06"/><circle cx="451.8" cy="566.9" r="0.92"/><circle cx="408.29" cy="528.77" r="1.1"/><circle cx="421.73" cy="541.87" r="0.94"/><circle cx="442.07" cy="523.98" r="0.85"/><circle cx="419.67" cy="572.16" r="0.99"/><circle cx="419.99" cy="521.46" r="1.01"/><circle cx="412.49" cy="525.57" r="0.99"/><circle cx="382.55" cy="543.24" r="1.11"/><circle cx="440.44" cy="521.61" r="0.79"/><circle cx="420.53" cy="580.83" r="1.03"/><circle cx="391.2" cy="569.22" r="1.16"/><circle cx="363.76" cy="523.17" r="0.95"/><circle cx="428.18" cy="554.77" r="0.96"/><circle cx="373.08" cy="531.52" r="0.77"/><circle cx="403.6" cy="537.89" r="1.01"/><circle cx="403.84" cy="541.62" r="1.09"/><circle cx="390.79" cy="550.83" r="0.96"/><circle cx="426.88" cy="584.55" r="1.08"/><circle cx="357.33" cy="569.64" r="0.99"/><circle cx="420.88" cy="522.91" r="0.76"/><circle cx="358.84" cy="528.45" r="0.8"/><circle cx="427.88" cy="570.49" r="0.93"/><circle cx="378.75" cy="549.31" r="0.8"/><circle cx="381.71" cy="549.73" r="1.15"/><circle cx="429.57" cy="528.2" r="1.11"/><circle cx="454.63" cy="578.53" r="0.83"/><circle cx="415.59" cy="582.3" r="0.86"/><circle cx="414.44" cy="561.78" r="1.18"/><circle cx="439.4" cy="551.23" r="1.02"/><circle cx="377.6" cy="574.18" r="0.86"/><circle cx="423.3" cy="530.04" r="1.08"/><circle cx="437.49" cy="527.92" r="0.93"/><circle cx="373.17" cy="554.91" r="0.86"/><circle cx="450.14" cy="574.93" r="0.78"/><circle cx="381.62" cy="538.08" r="0.81"/><circle cx="412.3" cy="567.67" r="0.97"/><circle cx="407.92" cy="531.82" r="0.96"/><circle cx="441.2" cy="525.93" r="0.85"/><circle cx="409.21" cy="553.24" r="0.84"/><circle cx="432.28" cy="584.77" r="0.97"/><circle cx="455.6" cy="581.82" r="1.09"/><circle cx="386.87" cy="557.15" r="1.17"/><circle cx="441.55" cy="551.62" r="0.86"/><circle cx="382.91" cy="546.35" r="1.11"/><circle cx="398.23" cy="554.41" r="0.84"/><circle cx="400.94" cy="531.04" r="0.77"/><circle cx="378.01" cy="556.04" r="1.04"/><circle cx="432.12" cy="546.46" r="1.05"/><circle cx="449.36" cy="523.4" r="1"/><circle cx="379.86" cy="583.14" r="0.82"/><circle cx="389.73" cy="544.38" r="1.09"/><circle cx="424.49" cy="523.97" r="0.96"/><circle cx="391.94" cy="530.48" r="0.76"/><circle cx="404.25" cy="573.63" r="1.2"/><circle cx="379.27" cy="539.5" r="1.04"/><circle cx="415.08" cy="544.98" r="0.82"/><circle cx="439.99" cy="545.36" r="0.88"/><circle cx="408.3" cy="526.72" r="0.97"/><circle cx="368.48" cy="542.12" r="1.04"/><circle cx="429.87" cy="584.32" r="1.06"/><circle cx="366.57" cy="561.56" r="0.87"/><circle cx="379.98" cy="563.67" r="0.9"/><circle cx="445.42" cy="554.68" r="0.82"/><circle cx="370.44" cy="523.91" r="1.17"/><circle cx="449.27" cy="550.74" r="1.16"/><circle cx="429.77" cy="567.91" r="1.05"/><circle cx="430.66" cy="525.93" r="1.04"/><circle cx="403.23" cy="546.32" r="0.84"/><circle cx="420.98" cy="571.29" r="1.05"/><circle cx="363.11" cy="524.04" r="1.04"/><circle cx="422.23" cy="526.43" r="0.77"/><circle cx="444.59" cy="585.25" r="1.15"/><circle cx="418.33" cy="525.11" r="0.89"/><circle cx="386.41" cy="549.22" r="1.16"/><circle cx="449.91" cy="531.82" r="0.99"/><circle cx="444.76" cy="585.49" r="0.99"/><circle cx="376.88" cy="566" r="0.79"/><circle cx="432.41" cy="576.46" r="1.14"/><circle cx="432.1" cy="533.33" r="0.98"/><circle cx="380.66" cy="523.45" r="1.12"/><circle cx="363.86" cy="559.6" r="0.89"/><circle cx="417.64" cy="543.11" r="1.04"/><circle cx="450.45" cy="528.8" r="1.06"/><circle cx="407.39" cy="580.52" r="0.89"/><circle cx="451.44" cy="559.54" r="0.76"/><circle cx="372.98" cy="554.78" r="1.02"/><circle cx="447.91" cy="553.25" r="1.14"/><circle cx="414.27" cy="547.8" r="1.15"/></g>
<clipPath id="t4s0"><path d="M372.26,520.88C377.33,518.66 393.14,518.35 402.63,520.88C412.12,523.41 420.19,531.32 429.2,536.06C438.22,540.8 452.13,541.06 456.72,549.35C461.31,557.63 463.84,579.71 456.72,585.78C449.6,591.86 423.03,589.64 414.02,585.78C405,581.93 406.74,569.02 402.63,562.63C398.52,556.24 394.41,552.19 389.35,547.45C384.28,542.7 375.11,538.59 372.26,534.16C369.42,529.73 367.2,523.09 372.26,520.88Z"/></clipPath>
<g clip-path="url(#t4s0)">
<filter id="t4f0_0" x="0" y="0" width="100%" height="100%" color-interpolation-filters="sRGB"><feTurbulence type="fractalNoise" baseFrequency="0.06 0.25" numOctaves="3" seed="47"/><feColorMatrix type="matrix" values="0 0 0 0 0.52 0 0 0 0 0.36 0 0 0 0 0.3 4 0 0 0 -2.16"/></filter>
<rect x="357.3" y="520.8" width="99.4" height="65" filter="url(#t4f0_0)"/>
<filter id="t4f0_1" x="0" y="0" width="100%" height="100%" color-interpolation-filters="sRGB"><feTurbulence type="fractalNoise" baseFrequency="0.2" numOctaves="3" seed="48"/><feColorMatrix type="matrix" values="0 0 0 0 0.42 0 0 0 0 0.36 0 0 0 0 0.48 5 0 0 0 -2.8000000000000003"/></filter>
<rect x="357.3" y="520.8" width="99.4" height="65" filter="url(#t4f0_1)"/>
</g>
<clipPath id="t4s1"><path d="M357.08,562.63C359.61,559.09 367.84,560.67 372.26,564.53C376.69,568.39 386.18,582.24 383.65,585.78C381.12,589.33 361.51,589.64 357.08,585.78C352.65,581.93 354.55,566.17 357.08,562.63Z"/></clipPath>
<g clip-path="url(#t4s1)">
<filter id="t4f1_0" x="0" y="0" width="100%" height="100%" color-interpolation-filters="sRGB"><feTurbulence type="fractalNoise" baseFrequency="0.2" numOctaves="3" seed="56"/><feColorMatrix type="matrix" values="0 0 0 0 0.52 0 0 0 0 0.36 0 0 0 0 0.3 4 0 0 0 -2.2"/></filter>
<rect x="357.3" y="520.8" width="99.4" height="65" filter="url(#t4f1_0)"/>
</g>
<path d="M358.03,533.21C358.66,531.79 361.83,531.47 362.77,532.26C363.72,533.05 364.36,536.53 363.72,537.96C363.09,539.38 359.93,541.6 358.98,540.8C358.03,540.01 357.4,534.64 358.03,533.21Z" fill="#F0ECEC"/>
</g>
<path d="M360.3,582.3H366.3" stroke="#222" stroke-width="0.8"/>
<text x="363.3" y="580.8" font-size="2.6" fill="#222" text-anchor="middle">50um</text>
<rect x="258.6" y="531.2" width="49.8" height="33.2" fill="none" stroke="#3a3a3a" stroke-width="1" stroke-dasharray="4.5 2.5"/>
<path d="M308.4,531.2L357.3,520.8M308.4,564.4L357.3,585.8" stroke="#333" stroke-width="0.9" stroke-dasharray="4.5 2.5"/>
<rect x="357.3" y="520.8" width="99.4" height="65" fill="none" stroke="#555" stroke-width="1" stroke-dasharray="5 2.8"/>
<text x="349.7" y="583.5" font-size="6.2" fill="#111" text-anchor="end" font-style="italic">Patient ID: 2116</text>
<clipPath id="t5c"><rect x="469.1" y="449.1" width="99.1" height="65"/></clipPath>
<g clip-path="url(#t5c)">
<rect x="469.1" y="449.1" width="99.1" height="65" fill="#F3F1F2"/>
<filter id="t5b0" x="0" y="0" width="100%" height="100%" color-interpolation-filters="sRGB"><feTurbulence type="fractalNoise" baseFrequency="0.3" numOctaves="3" seed="51"/><feColorMatrix type="matrix" values="0 0 0 0 0.86 0 0 0 0 0.78 0 0 0 0 0.77 5 0 0 0 -3.1"/></filter>
<rect x="469.1" y="449.1" width="99.1" height="65" filter="url(#t5b0)"/>
<g fill="#7A79A6" fill-opacity="0.55"><circle cx="502.69" cy="490.67" r="0.58"/><circle cx="554.19" cy="500.95" r="0.56"/><circle cx="502.25" cy="512" r="0.55"/><circle cx="556.07" cy="449.71" r="0.56"/><circle cx="566.05" cy="470.06" r="0.43"/><circle cx="554.99" cy="457.68" r="0.4"/><circle cx="539.22" cy="491.14" r="0.6"/><circle cx="554.34" cy="513.77" r="0.58"/><circle cx="528.07" cy="510.47" r="0.5"/><circle cx="566.09" cy="460.84" r="0.55"/><circle cx="550.21" cy="457.67" r="0.53"/><circle cx="557.04" cy="464.72" r="0.56"/><circle cx="534.11" cy="485.74" r="0.51"/><circle cx="561.1" cy="479.93" r="0.44"/><circle cx="559.18" cy="510.05" r="0.55"/><circle cx="556.81" cy="498.93" r="0.46"/><circle cx="505.16" cy="513.89" r="0.59"/><circle cx="529.92" cy="511.78" r="0.55"/><circle cx="551.34" cy="452.46" r="0.42"/><circle cx="525.61" cy="512.12" r="0.56"/><circle cx="533.95" cy="512.61" r="0.59"/><circle cx="565.17" cy="450.72" r="0.41"/><circle cx="529.16" cy="512.35" r="0.4"/><circle cx="550.73" cy="510.54" r="0.4"/><circle cx="564.88" cy="477.33" r="0.58"/><circle cx="549.94" cy="457.16" r="0.5"/><circle cx="512.66" cy="510.4" r="0.38"/><circle cx="542.2" cy="496.08" r="0.39"/><circle cx="557.38" cy="475.57" r="0.46"/><circle cx="532.32" cy="510.94" r="0.58"/><circle cx="541.37" cy="490.92" r="0.48"/><circle cx="539.74" cy="488.87" r="0.42"/><circle cx="542.68" cy="511.18" r="0.48"/><circle cx="503.04" cy="489.97" r="0.43"/><circle cx="550.95" cy="453.78" r="0.39"/><circle cx="553.36" cy="454.5" r="0.51"/><circle cx="564.89" cy="461.85" r="0.49"/><circle cx="550.06" cy="452.89" r="0.41"/><circle cx="555.67" cy="452.54" r="0.39"/><circle cx="559.64" cy="455.43" r="0.59"/><circle cx="542.55" cy="487.59" r="0.46"/><circle cx="553.29" cy="457.67" r="0.51"/><circle cx="534.96" cy="512.86" r="0.5"/><circle cx="479.08" cy="511.48" r="0.41"/><circle cx="546.19" cy="511.99" r="0.39"/><circle cx="484.82" cy="509.8" r="0.41"/><circle cx="533.7" cy="490.04" r="0.58"/><circle cx="566.62" cy="512.35" r="0.52"/><circle cx="535.86" cy="511.95" r="0.4"/><circle cx="521.67" cy="504.5" r="0.53"/><circle cx="566.03" cy="506.03" r="0.48"/><circle cx="561.25" cy="501.1" r="0.52"/><circle cx="550.66" cy="461.39" r="0.4"/><circle cx="557.48" cy="496.93" r="0.42"/><circle cx="470.58" cy="511.81" r="0.58"/><circle cx="479.89" cy="511.3" r="0.6"/><circle cx="567.54" cy="511.95" r="0.56"/><circle cx="545.5" cy="495.07" r="0.58"/><circle cx="553.69" cy="498.79" r="0.59"/><circle cx="564.01" cy="510.9" r="0.59"/><circle cx="554.61" cy="502.24" r="0.39"/><circle cx="521.7" cy="508.52" r="0.58"/><circle cx="546.61" cy="491.07" r="0.41"/><circle cx="554.15" cy="453.23" r="0.44"/><circle cx="550.07" cy="513.5" r="0.52"/><circle cx="565.08" cy="499.39" r="0.58"/><circle cx="539.96" cy="489.35" r="0.48"/><circle cx="495.44" cy="510.51" r="0.42"/><circle cx="560.8" cy="461.38" r="0.52"/><circle cx="554.98" cy="462.76" r="0.54"/><circle cx="565.64" cy="473.4" r="0.43"/><circle cx="559.13" cy="509.68" r="0.51"/><circle cx="535.51" cy="485.8" r="0.51"/><circle cx="512.31" cy="511.72" r="0.46"/><circle cx="522.16" cy="510.99" r="0.59"/><circle cx="546.06" cy="485.1" r="0.43"/><circle cx="553.29" cy="509.6" r="0.49"/><circle cx="507.22" cy="495.75" r="0.43"/><circle cx="554.23" cy="454.58" r="0.39"/><circle cx="532.12" cy="509.87" r="0.44"/><circle cx="561.59" cy="455.55" r="0.56"/><circle cx="546.03" cy="513.09" r="0.57"/><circle cx="564.68" cy="459" r="0.53"/><circle cx="557.9" cy="471.69" r="0.38"/></g>
<path d="M546,448C548.83,445 565.17,444.33 569,448C572.83,451.67 570,464.33 569,470C568,475.67 565.17,480.33 563,482C560.83,483.67 557.83,482.67 556,480C554.17,477.33 553.67,471.33 552,466C550.33,460.67 543.17,451 546,448Z" fill="#C2AAA6"/>
<clipPath id="t5s0"><path d="M546,448C548.83,445 565.17,444.33 569,448C572.83,451.67 570,464.33 569,470C568,475.67 565.17,480.33 563,482C560.83,483.67 557.83,482.67 556,480C554.17,477.33 553.67,471.33 552,466C550.33,460.67 543.17,451 546,448Z"/></clipPath>
<g clip-path="url(#t5s0)">
<filter id="t5f0_0" x="0" y="0" width="100%" height="100%" color-interpolation-filters="sRGB"><feTurbulence type="fractalNoise" baseFrequency="0.35" numOctaves="3" seed="25"/><feColorMatrix type="matrix" values="0 0 0 0 0.72 0 0 0 0 0.56 0 0 0 0 0.48 3 0 0 0 -1.6500000000000001"/></filter>
<rect x="469.1" y="449.1" width="99.1" height="65" filter="url(#t5f0_0)"/>
<filter id="t5f0_1" x="0" y="0" width="100%" height="100%" color-interpolation-filters="sRGB"><feTurbulence type="fractalNoise" baseFrequency="0.5" numOctaves="3" seed="26"/><feColorMatrix type="matrix" values="0 0 0 0 0.52 0 0 0 0 0.5 0 0 0 0 0.68 4 0 0 0 -2.32"/></filter>
<rect x="469.1" y="449.1" width="99.1" height="65" filter="url(#t5f0_1)"/>
<filter id="t5f0_2" x="0" y="0" width="100%" height="100%" color-interpolation-filters="sRGB"><feTurbulence type="fractalNoise" baseFrequency="0.25" numOctaves="3" seed="27"/><feColorMatrix type="matrix" values="0 0 0 0 0.64 0 0 0 0 0.44 0 0 0 0 0.36 4 0 0 0 -2.56"/></filter>
<rect x="469.1" y="449.1" width="99.1" height="65" filter="url(#t5f0_2)"/>
<filter id="t5f0_3" x="0" y="0" width="100%" height="100%" color-interpolation-filters="sRGB"><feTurbulence type="fractalNoise" baseFrequency="0.4" numOctaves="3" seed="28"/><feColorMatrix type="matrix" values="0 0 0 0 0.92 0 0 0 0 0.9 0 0 0 0 0.92 4 0 0 0 -2.48"/></filter>
<rect x="469.1" y="449.1" width="99.1" height="65" filter="url(#t5f0_3)"/>
</g>
<path d="M534,485C536.83,483.5 547,482.67 550,484C553,485.33 553.67,490.83 552,493C550.33,495.17 543.17,497 540,497C536.83,497 534,495 533,493C532,491 531.17,486.5 534,485Z" fill="#C6AEA8"/>
<clipPath id="t5s1"><path d="M534,485C536.83,483.5 547,482.67 550,484C553,485.33 553.67,490.83 552,493C550.33,495.17 543.17,497 540,497C536.83,497 534,495 533,493C532,491 531.17,486.5 534,485Z"/></clipPath>
<g clip-path="url(#t5s1)">
<filter id="t5f1_0" x="0" y="0" width="100%" height="100%" color-interpolation-filters="sRGB"><feTurbulence type="fractalNoise" baseFrequency="0.35" numOctaves="3" seed="32"/><feColorMatrix type="matrix" values="0 0 0 0 0.72 0 0 0 0 0.56 0 0 0 0 0.48 3 0 0 0 -1.6500000000000001"/></filter>
<rect x="469.1" y="449.1" width="99.1" height="65" filter="url(#t5f1_0)"/>
<filter id="t5f1_1" x="0" y="0" width="100%" height="100%" color-interpolation-filters="sRGB"><feTurbulence type="fractalNoise" baseFrequency="0.5" numOctaves="3" seed="33"/><feColorMatrix type="matrix" values="0 0 0 0 0.52 0 0 0 0 0.5 0 0 0 0 0.68 4 0 0 0 -2.32"/></filter>
<rect x="469.1" y="449.1" width="99.1" height="65" filter="url(#t5f1_1)"/>
<filter id="t5f1_2" x="0" y="0" width="100%" height="100%" color-interpolation-filters="sRGB"><feTurbulence type="fractalNoise" baseFrequency="0.25" numOctaves="3" seed="34"/><feColorMatrix type="matrix" values="0 0 0 0 0.64 0 0 0 0 0.44 0 0 0 0 0.36 4 0 0 0 -2.56"/></filter>
<rect x="469.1" y="449.1" width="99.1" height="65" filter="url(#t5f1_2)"/>
<filter id="t5f1_3" x="0" y="0" width="100%" height="100%" color-interpolation-filters="sRGB"><feTurbulence type="fractalNoise" baseFrequency="0.4" numOctaves="3" seed="35"/><feColorMatrix type="matrix" values="0 0 0 0 0.92 0 0 0 0 0.9 0 0 0 0 0.92 4 0 0 0 -2.48"/></filter>
<rect x="469.1" y="449.1" width="99.1" height="65" filter="url(#t5f1_3)"/>
</g>
<path d="M552,496C554.17,494 566.17,492.17 569,494C571.83,495.83 571.17,505 569,507C566.83,509 558.83,507.83 556,506C553.17,504.17 549.83,498 552,496Z" fill="#C6AEA8"/>
<clipPath id="t5s2"><path d="M552,496C554.17,494 566.17,492.17 569,494C571.83,495.83 571.17,505 569,507C566.83,509 558.83,507.83 556,506C553.17,504.17 549.83,498 552,496Z"/></clipPath>
<g clip-path="url(#t5s2)">
<filter id="t5f2_0" x="0" y="0" width="100%" height="100%" color-interpolation-filters="sRGB"><feTurbulence type="fractalNoise" baseFrequency="0.35" numOctaves="3" seed="39"/><feColorMatrix type="matrix" values="0 0 0 0 0.72 0 0 0 0 0.56 0 0 0 0 0.48 3 0 0 0 -1.6500000000000001"/></filter>
<rect x="469.1" y="449.1" width="99.1" height="65" filter="url(#t5f2_0)"/>
<filter id="t5f2_1" x="0" y="0" width="100%" height="100%" color-interpolation-filters="sRGB"><feTurbulence type="fractalNoise" baseFrequency="0.5" numOctaves="3" seed="40"/><feColorMatrix type="matrix" values="0 0 0 0 0.52 0 0 0 0 0.5 0 0 0 0 0.68 4 0 0 0 -2.32"/></filter>
<rect x="469.1" y="449.1" width="99.1" height="65" filter="url(#t5f2_1)"/>
<filter id="t5f2_2" x="0" y="0" width="100%" height="100%" color-interpolation-filters="sRGB"><feTurbulence type="fractalNoise" baseFrequency="0.25" numOctaves="3" seed="41"/><feColorMatrix type="matrix" values="0 0 0 0 0.64 0 0 0 0 0.44 0 0 0 0 0.36 4 0 0 0 -2.56"/></filter>
<rect x="469.1" y="449.1" width="99.1" height="65" filter="url(#t5f2_2)"/>
<filter id="t5f2_3" x="0" y="0" width="100%" height="100%" color-interpolation-filters="sRGB"><feTurbulence type="fractalNoise" baseFrequency="0.4" numOctaves="3" seed="42"/><feColorMatrix type="matrix" values="0 0 0 0 0.92 0 0 0 0 0.9 0 0 0 0 0.92 4 0 0 0 -2.48"/></filter>
<rect x="469.1" y="449.1" width="99.1" height="65" filter="url(#t5f2_3)"/>
</g>
<path d="M501,489C502,487.67 506,486.83 508,488C510,489.17 514,494.67 513,496C512,497.33 504,497.17 502,496C500,494.83 500,490.33 501,489Z" fill="#B9A3A4"/>
<clipPath id="t5s3"><path d="M501,489C502,487.67 506,486.83 508,488C510,489.17 514,494.67 513,496C512,497.33 504,497.17 502,496C500,494.83 500,490.33 501,489Z"/></clipPath>
<g clip-path="url(#t5s3)">
<filter id="t5f3_0" x="0" y="0" width="100%" height="100%" color-interpolation-filters="sRGB"><feTurbulence type="fractalNoise" baseFrequency="0.35" numOctaves="3" seed="46"/><feColorMatrix type="matrix" values="0 0 0 0 0.72 0 0 0 0 0.56 0 0 0 0 0.48 3 0 0 0 -1.6500000000000001"/></filter>
<rect x="469.1" y="449.1" width="99.1" height="65" filter="url(#t5f3_0)"/>
<filter id="t5f3_1" x="0" y="0" width="100%" height="100%" color-interpolation-filters="sRGB"><feTurbulence type="fractalNoise" baseFrequency="0.5" numOctaves="3" seed="47"/><feColorMatrix type="matrix" values="0 0 0 0 0.52 0 0 0 0 0.5 0 0 0 0 0.68 4 0 0 0 -2.32"/></filter>
<rect x="469.1" y="449.1" width="99.1" height="65" filter="url(#t5f3_1)"/>
<filter id="t5f3_2" x="0" y="0" width="100%" height="100%" color-interpolation-filters="sRGB"><feTurbulence type="fractalNoise" baseFrequency="0.25" numOctaves="3" seed="48"/><feColorMatrix type="matrix" values="0 0 0 0 0.64 0 0 0 0 0.44 0 0 0 0 0.36 4 0 0 0 -2.56"/></filter>
<rect x="469.1" y="449.1" width="99.1" height="65" filter="url(#t5f3_2)"/>
<filter id="t5f3_3" x="0" y="0" width="100%" height="100%" color-interpolation-filters="sRGB"><feTurbulence type="fractalNoise" baseFrequency="0.4" numOctaves="3" seed="49"/><feColorMatrix type="matrix" values="0 0 0 0 0.92 0 0 0 0 0.9 0 0 0 0 0.92 4 0 0 0 -2.48"/></filter>
<rect x="469.1" y="449.1" width="99.1" height="65" filter="url(#t5f3_3)"/>
</g>
<path d="M468,509C473.33,508 491.33,511 500,510C508.67,509 513.33,503.33 520,503C526.67,502.67 531.83,506.83 540,508C548.17,509.17 564.17,508.67 569,510C573.83,511.33 585.83,515 569,516C552.17,517 484.83,517.17 468,516C451.17,514.83 462.67,510 468,509Z" fill="#C9B0A8"/>
<clipPath id="t5s4"><path d="M468,509C473.33,508 491.33,511 500,510C508.67,509 513.33,503.33 520,503C526.67,502.67 531.83,506.83 540,508C548.17,509.17 564.17,508.67 569,510C573.83,511.33 585.83,515 569,516C552.17,517 484.83,517.17 468,516C451.17,514.83 462.67,510 468,509Z"/></clipPath>
<g clip-path="url(#t5s4)">
<filter id="t5f4_0" x="0" y="0" width="100%" height="100%" color-interpolation-filters="sRGB"><feTurbulence type="fractalNoise" baseFrequency="0.35" numOctaves="3" seed="53"/><feColorMatrix type="matrix" values="0 0 0 0 0.72 0 0 0 0 0.56 0 0 0 0 0.48 3 0 0 0 -1.6500000000000001"/></filter>
<rect x="469.1" y="449.1" width="99.1" height="65" filter="url(#t5f4_0)"/>
<filter id="t5f4_1" x="0" y="0" width="100%" height="100%" color-interpolation-filters="sRGB"><feTurbulence type="fractalNoise" baseFrequency="0.5" numOctaves="3" seed="54"/><feColorMatrix type="matrix" values="0 0 0 0 0.52 0 0 0 0 0.5 0 0 0 0 0.68 4 0 0 0 -2.32"/></filter>
<rect x="469.1" y="449.1" width="99.1" height="65" filter="url(#t5f4_1)"/>
<filter id="t5f4_2" x="0" y="0" width="100%" height="100%" color-interpolation-filters="sRGB"><feTurbulence type="fractalNoise" baseFrequency="0.25" numOctaves="3" seed="55"/><feColorMatrix type="matrix" values="0 0 0 0 0.64 0 0 0 0 0.44 0 0 0 0 0.36 4 0 0 0 -2.56"/></filter>
<rect x="469.1" y="449.1" width="99.1" height="65" filter="url(#t5f4_2)"/>
<filter id="t5f4_3" x="0" y="0" width="100%" height="100%" color-interpolation-filters="sRGB"><feTurbulence type="fractalNoise" baseFrequency="0.4" numOctaves="3" seed="56"/><feColorMatrix type="matrix" values="0 0 0 0 0.92 0 0 0 0 0.9 0 0 0 0 0.92 4 0 0 0 -2.48"/></filter>
<rect x="469.1" y="449.1" width="99.1" height="65" filter="url(#t5f4_3)"/>
</g>
<path d="M476.9,448C476.15,445.77 480.82,455.67 482.5,459.2C484.18,462.73 486.25,466.97 487,469.2C487.75,471.43 488.68,476.13 487,472.6" fill="none" stroke="#C2A69C" stroke-width="3.9" stroke-linecap="round" stroke-linejoin="round"/>
<mask id="t5m0" maskUnits="userSpaceOnUse" x="469.1" y="449.1" width="99.1" height="65"><path d="M476.9,448C476.15,445.77 480.82,455.67 482.5,459.2C484.18,462.73 486.25,466.97 487,469.2C487.75,471.43 488.68,476.13 487,472.6" fill="none" stroke="#fff" stroke-width="3.9" stroke-linecap="round"/></mask>
<g mask="url(#t5m0)">
<filter id="t5g0_0" x="0" y="0" width="100%" height="100%" color-interpolation-filters="sRGB"><feTurbulence type="fractalNoise" baseFrequency="0.35" numOctaves="3" seed="25"/><feColorMatrix type="matrix" values="0 0 0 0 0.72 0 0 0 0 0.56 0 0 0 0 0.48 3 0 0 0 -1.6500000000000001"/></filter>
<rect x="469.1" y="449.1" width="99.1" height="65" filter="url(#t5g0_0)"/>
<filter id="t5g0_1" x="0" y="0" width="100%" height="100%" color-interpolation-filters="sRGB"><feTurbulence type="fractalNoise" baseFrequency="0.5" numOctaves="3" seed="26"/><feColorMatrix type="matrix" values="0 0 0 0 0.52 0 0 0 0 0.5 0 0 0 0 0.68 4 0 0 0 -2.32"/></filter>
<rect x="469.1" y="449.1" width="99.1" height="65" filter="url(#t5g0_1)"/>
<filter id="t5g0_2" x="0" y="0" width="100%" height="100%" color-interpolation-filters="sRGB"><feTurbulence type="fractalNoise" baseFrequency="0.25" numOctaves="3" seed="27"/><feColorMatrix type="matrix" values="0 0 0 0 0.64 0 0 0 0 0.44 0 0 0 0 0.36 4 0 0 0 -2.56"/></filter>
<rect x="469.1" y="449.1" width="99.1" height="65" filter="url(#t5g0_2)"/>
<filter id="t5g0_3" x="0" y="0" width="100%" height="100%" color-interpolation-filters="sRGB"><feTurbulence type="fractalNoise" baseFrequency="0.4" numOctaves="3" seed="28"/><feColorMatrix type="matrix" values="0 0 0 0 0.92 0 0 0 0 0.9 0 0 0 0 0.92 4 0 0 0 -2.48"/></filter>
<rect x="469.1" y="449.1" width="99.1" height="65" filter="url(#t5g0_3)"/>
</g>
<path d="M467,471.4C454.37,471.33 475.87,472.6 479.2,472.6C482.53,472.6 484.22,471.97 487,471.4C489.78,470.83 492.57,469.38 495.9,469.2C499.23,469.02 503.48,470.42 507,470.3C510.52,470.18 513.47,468.97 517,468.5C520.53,468.03 524.48,466.63 528.2,467.5C531.92,468.37 535.58,472.48 539.3,473.7C543.02,474.92 547.88,474.92 550.5,474.8C553.12,474.68 568.92,473.57 555,473" fill="none" stroke="#C4A99F" stroke-width="4.2" stroke-linecap="round" stroke-linejoin="round"/>
<mask id="t5m1" maskUnits="userSpaceOnUse" x="469.1" y="449.1" width="99.1" height="65"><path d="M467,471.4C454.37,471.33 475.87,472.6 479.2,472.6C482.53,472.6 484.22,471.97 487,471.4C489.78,470.83 492.57,469.38 495.9,469.2C499.23,469.02 503.48,470.42 507,470.3C510.52,470.18 513.47,468.97 517,468.5C520.53,468.03 524.48,466.63 528.2,467.5C531.92,468.37 535.58,472.48 539.3,473.7C543.02,474.92 547.88,474.92 550.5,474.8C553.12,474.68 568.92,473.57 555,473" fill="none" stroke="#fff" stroke-width="4.2" stroke-linecap="round"/></mask>
<g mask="url(#t5m1)">
<filter id="t5g1_0" x="0" y="0" width="100%" height="100%" color-interpolation-filters="sRGB"><feTurbulence type="fractalNoise" baseFrequency="0.35" numOctaves="3" seed="30"/><feColorMatrix type="matrix" values="0 0 0 0 0.72 0 0 0 0 0.56 0 0 0 0 0.48 3 0 0 0 -1.6500000000000001"/></filter>
<rect x="469.1" y="449.1" width="99.1" height="65" filter="url(#t5g1_0)"/>
<filter id="t5g1_1" x="0" y="0" width="100%" height="100%" color-interpolation-filters="sRGB"><feTurbulence type="fractalNoise" baseFrequency="0.5" numOctaves="3" seed="31"/><feColorMatrix type="matrix" values="0 0 0 0 0.52 0 0 0 0 0.5 0 0 0 0 0.68 4 0 0 0 -2.32"/></filter>
<rect x="469.1" y="449.1" width="99.1" height="65" filter="url(#t5g1_1)"/>
<filter id="t5g1_2" x="0" y="0" width="100%" height="100%" color-interpolation-filters="sRGB"><feTurbulence type="fractalNoise" baseFrequency="0.25" numOctaves="3" seed="32"/><feColorMatrix type="matrix" values="0 0 0 0 0.64 0 0 0 0 0.44 0 0 0 0 0.36 4 0 0 0 -2.56"/></filter>
<rect x="469.1" y="449.1" width="99.1" height="65" filter="url(#t5g1_2)"/>
<filter id="t5g1_3" x="0" y="0" width="100%" height="100%" color-interpolation-filters="sRGB"><feTurbulence type="fractalNoise" baseFrequency="0.4" numOctaves="3" seed="33"/><feColorMatrix type="matrix" values="0 0 0 0 0.92 0 0 0 0 0.9 0 0 0 0 0.92 4 0 0 0 -2.48"/></filter>
<rect x="469.1" y="449.1" width="99.1" height="65" filter="url(#t5g1_3)"/>
</g>
<path d="M487,472.6C485.33,471.48 491.28,477.27 493.7,479.3C496.12,481.33 499.83,483.68 501.5,484.8C503.17,485.92 506.12,488.03 503.7,486" fill="none" stroke="#C2A69C" stroke-width="3.3" stroke-linecap="round" stroke-linejoin="round"/>
<mask id="t5m2" maskUnits="userSpaceOnUse" x="469.1" y="449.1" width="99.1" height="65"><path d="M487,472.6C485.33,471.48 491.28,477.27 493.7,479.3C496.12,481.33 499.83,483.68 501.5,484.8C503.17,485.92 506.12,488.03 503.7,486" fill="none" stroke="#fff" stroke-width="3.3" stroke-linecap="round"/></mask>
<g mask="url(#t5m2)">
<filter id="t5g2_0" x="0" y="0" width="100%" height="100%" color-interpolation-filters="sRGB"><feTurbulence type="fractalNoise" baseFrequency="0.35" numOctaves="3" seed="35"/><feColorMatrix type="matrix" values="0 0 0 0 0.72 0 0 0 0 0.56 0 0 0 0 0.48 3 0 0 0 -1.6500000000000001"/></filter>
<rect x="469.1" y="449.1" width="99.1" height="65" filter="url(#t5g2_0)"/>
<filter id="t5g2_1" x="0" y="0" width="100%" height="100%" color-interpolation-filters="sRGB"><feTurbulence type="fractalNoise" baseFrequency="0.5" numOctaves="3" seed="36"/><feColorMatrix type="matrix" values="0 0 0 0 0.52 0 0 0 0 0.5 0 0 0 0 0.68 4 0 0 0 -2.32"/></filter>
<rect x="469.1" y="449.1" width="99.1" height="65" filter="url(#t5g2_1)"/>
<filter id="t5g2_2" x="0" y="0" width="100%" height="100%" color-interpolation-filters="sRGB"><feTurbulence type="fractalNoise" baseFrequency="0.25" numOctaves="3" seed="37"/><feColorMatrix type="matrix" values="0 0 0 0 0.64 0 0 0 0 0.44 0 0 0 0 0.36 4 0 0 0 -2.56"/></filter>
<rect x="469.1" y="449.1" width="99.1" height="65" filter="url(#t5g2_2)"/>
<filter id="t5g2_3" x="0" y="0" width="100%" height="100%" color-interpolation-filters="sRGB"><feTurbulence type="fractalNoise" baseFrequency="0.4" numOctaves="3" seed="38"/><feColorMatrix type="matrix" values="0 0 0 0 0.92 0 0 0 0 0.9 0 0 0 0 0.92 4 0 0 0 -2.48"/></filter>
<rect x="469.1" y="449.1" width="99.1" height="65" filter="url(#t5g2_3)"/>
</g>
<path d="M479.2,482.6C472.02,481.3 476.53,491.78 476.9,494.9C477.27,498.02 479.17,499.28 481.4,501.3C483.63,503.32 487.33,505.67 490.3,507C493.27,508.33 496.42,509.27 499.2,509.3C501.98,509.33 504.38,508.12 507,507.2C509.62,506.28 512.73,504.55 514.9,503.8C517.07,503.05 525.95,506.23 520,502.7" fill="none" stroke="#C4A99F" stroke-width="3.8" stroke-linecap="round" stroke-linejoin="round"/>
<mask id="t5m3" maskUnits="userSpaceOnUse" x="469.1" y="449.1" width="99.1" height="65"><path d="M479.2,482.6C472.02,481.3 476.53,491.78 476.9,494.9C477.27,498.02 479.17,499.28 481.4,501.3C483.63,503.32 487.33,505.67 490.3,507C493.27,508.33 496.42,509.27 499.2,509.3C501.98,509.33 504.38,508.12 507,507.2C509.62,506.28 512.73,504.55 514.9,503.8C517.07,503.05 525.95,506.23 520,502.7" fill="none" stroke="#fff" stroke-width="3.8" stroke-linecap="round"/></mask>
<g mask="url(#t5m3)">
<filter id="t5g3_0" x="0" y="0" width="100%" height="100%" color-interpolation-filters="sRGB"><feTurbulence type="fractalNoise" baseFrequency="0.35" numOctaves="3" seed="40"/><feColorMatrix type="matrix" values="0 0 0 0 0.72 0 0 0 0 0.56 0 0 0 0 0.48 3 0 0 0 -1.6500000000000001"/></filter>
<rect x="469.1" y="449.1" width="99.1" height="65" filter="url(#t5g3_0)"/>
<filter id="t5g3_1" x="0" y="0" width="100%" height="100%" color-interpolation-filters="sRGB"><feTurbulence type="fractalNoise" baseFrequency="0.5" numOctaves="3" seed="41"/><feColorMatrix type="matrix" values="0 0 0 0 0.52 0 0 0 0 0.5 0 0 0 0 0.68 4 0 0 0 -2.32"/></filter>
<rect x="469.1" y="449.1" width="99.1" height="65" filter="url(#t5g3_1)"/>
<filter id="t5g3_2" x="0" y="0" width="100%" height="100%" color-interpolation-filters="sRGB"><feTurbulence type="fractalNoise" baseFrequency="0.25" numOctaves="3" seed="42"/><feColorMatrix type="matrix" values="0 0 0 0 0.64 0 0 0 0 0.44 0 0 0 0 0.36 4 0 0 0 -2.56"/></filter>
<rect x="469.1" y="449.1" width="99.1" height="65" filter="url(#t5g3_2)"/>
<filter id="t5g3_3" x="0" y="0" width="100%" height="100%" color-interpolation-filters="sRGB"><feTurbulence type="fractalNoise" baseFrequency="0.4" numOctaves="3" seed="43"/><feColorMatrix type="matrix" values="0 0 0 0 0.92 0 0 0 0 0.9 0 0 0 0 0.92 4 0 0 0 -2.48"/></filter>
<rect x="469.1" y="449.1" width="99.1" height="65" filter="url(#t5g3_3)"/>
</g>
<path d="" fill="none" stroke="#C4A99F" stroke-width="3.5" stroke-linecap="round" stroke-linejoin="round"/>
<mask id="t5m4" maskUnits="userSpaceOnUse" x="469.1" y="449.1" width="99.1" height="65"><path d="" fill="none" stroke="#fff" stroke-width="3.5" stroke-linecap="round"/></mask>
<g mask="url(#t5m4)">
<filter id="t5g4_0" x="0" y="0" width="100%" height="100%" color-interpolation-filters="sRGB"><feTurbulence type="fractalNoise" baseFrequency="0.35" numOctaves="3" seed="45"/><feColorMatrix type="matrix" values="0 0 0 0 0.72 0 0 0 0 0.56 0 0 0 0 0.48 3 0 0 0 -1.6500000000000001"/></filter>
<rect x="469.1" y="449.1" width="99.1" height="65" filter="url(#t5g4_0)"/>
<filter id="t5g4_1" x="0" y="0" width="100%" height="100%" color-interpolation-filters="sRGB"><feTurbulence type="fractalNoise" baseFrequency="0.5" numOctaves="3" seed="46"/><feColorMatrix type="matrix" values="0 0 0 0 0.52 0 0 0 0 0.5 0 0 0 0 0.68 4 0 0 0 -2.32"/></filter>
<rect x="469.1" y="449.1" width="99.1" height="65" filter="url(#t5g4_1)"/>
<filter id="t5g4_2" x="0" y="0" width="100%" height="100%" color-interpolation-filters="sRGB"><feTurbulence type="fractalNoise" baseFrequency="0.25" numOctaves="3" seed="47"/><feColorMatrix type="matrix" values="0 0 0 0 0.64 0 0 0 0 0.44 0 0 0 0 0.36 4 0 0 0 -2.56"/></filter>
<rect x="469.1" y="449.1" width="99.1" height="65" filter="url(#t5g4_2)"/>
<filter id="t5g4_3" x="0" y="0" width="100%" height="100%" color-interpolation-filters="sRGB"><feTurbulence type="fractalNoise" baseFrequency="0.4" numOctaves="3" seed="48"/><feColorMatrix type="matrix" values="0 0 0 0 0.92 0 0 0 0 0.9 0 0 0 0 0.92 4 0 0 0 -2.48"/></filter>
<rect x="469.1" y="449.1" width="99.1" height="65" filter="url(#t5g4_3)"/>
</g>
<path d="M528.2,479.3C527.82,475.57 526.65,488.15 525.9,492.6C525.15,497.05 523.32,502.27 523.7,506C524.08,509.73 527.45,519.45 528.2,515" fill="none" stroke="#C2A8A0" stroke-width="5" stroke-linecap="round" stroke-linejoin="round"/>
<mask id="t5m5" maskUnits="userSpaceOnUse" x="469.1" y="449.1" width="99.1" height="65"><path d="M528.2,479.3C527.82,475.57 526.65,488.15 525.9,492.6C525.15,497.05 523.32,502.27 523.7,506C524.08,509.73 527.45,519.45 528.2,515" fill="none" stroke="#fff" stroke-width="5" stroke-linecap="round"/></mask>
<g mask="url(#t5m5)">
<filter id="t5g5_0" x="0" y="0" width="100%" height="100%" color-interpolation-filters="sRGB"><feTurbulence type="fractalNoise" baseFrequency="0.35" numOctaves="3" seed="50"/><feColorMatrix type="matrix" values="0 0 0 0 0.72 0 0 0 0 0.56 0 0 0 0 0.48 3 0 0 0 -1.6500000000000001"/></filter>
<rect x="469.1" y="449.1" width="99.1" height="65" filter="url(#t5g5_0)"/>
<filter id="t5g5_1" x="0" y="0" width="100%" height="100%" color-interpolation-filters="sRGB"><feTurbulence type="fractalNoise" baseFrequency="0.5" numOctaves="3" seed="51"/><feColorMatrix type="matrix" values="0 0 0 0 0.52 0 0 0 0 0.5 0 0 0 0 0.68 4 0 0 0 -2.32"/></filter>
<rect x="469.1" y="449.1" width="99.1" height="65" filter="url(#t5g5_1)"/>
<filter id="t5g5_2" x="0" y="0" width="100%" height="100%" color-interpolation-filters="sRGB"><feTurbulence type="fractalNoise" baseFrequency="0.25" numOctaves="3" seed="52"/><feColorMatrix type="matrix" values="0 0 0 0 0.64 0 0 0 0 0.44 0 0 0 0 0.36 4 0 0 0 -2.56"/></filter>
<rect x="469.1" y="449.1" width="99.1" height="65" filter="url(#t5g5_2)"/>
<filter id="t5g5_3" x="0" y="0" width="100%" height="100%" color-interpolation-filters="sRGB"><feTurbulence type="fractalNoise" baseFrequency="0.4" numOctaves="3" seed="53"/><feColorMatrix type="matrix" values="0 0 0 0 0.92 0 0 0 0 0.9 0 0 0 0 0.92 4 0 0 0 -2.48"/></filter>
<rect x="469.1" y="449.1" width="99.1" height="65" filter="url(#t5g5_3)"/>
</g>
<path d="M501.5,448C499.9,447.25 507.32,452.83 510.4,454.7C513.48,456.57 521.48,460.32 520,459.2" fill="none" stroke="#D8CDCE" stroke-width="0.8" stroke-linecap="round" stroke-linejoin="round"/>
<path d="M477,449C476.25,447.2 480.83,455.7 482.5,459.2C484.17,462.7 487.92,471.7 487,470" fill="none" stroke="#BDB6CC" stroke-width="1.0" stroke-linecap="round" stroke-linejoin="round"/>
<path d="M468,471.8C457.5,471.22 480.5,471.72 487,471.5C493.5,471.28 500.17,471.12 507,470.5C513.83,469.88 520.83,467.05 528,467.8C535.17,468.55 560,474.33 550,475" fill="none" stroke="#BDB6CC" stroke-width="1.1" stroke-linecap="round" stroke-linejoin="round"/>
<path d="M479,484C471.83,482.67 475.17,491.17 477,495C478.83,498.83 485,504.92 490,507C495,509.08 502,508.17 507,507.5C512,506.83 524.67,506.92 520,503" fill="none" stroke="#BDB6CC" stroke-width="1.0" stroke-linecap="round" stroke-linejoin="round"/>
<ellipse cx="463.5" cy="466.28" rx="4.38" ry="3.5" fill="#EFE9EA" stroke="#E3D9DA" stroke-width="1.05"/>
<ellipse cx="470.51" cy="457.52" rx="3.5" ry="3.15" fill="#EFE9EA" stroke="#E3D9DA" stroke-width="1.05"/>
<ellipse cx="481.02" cy="450.51" rx="4.38" ry="3.5" fill="#EFE9EA" stroke="#E3D9DA" stroke-width="1.05"/>
<ellipse cx="512.56" cy="483.8" rx="3.5" ry="3.15" fill="#EFE9EA" stroke="#E0D5D6" stroke-width="1.05"/>
<ellipse cx="519.57" cy="489.05" rx="3.15" ry="2.8" fill="#EFE9EA" stroke="#E0D5D6" stroke-width="1.05"/>
<ellipse cx="510.81" cy="492.56" rx="2.8" ry="2.45" fill="#EFE9EA" stroke="#E0D5D6" stroke-width="1.05"/>
<ellipse cx="503.8" cy="450.51" rx="3.85" ry="3.15" fill="#EFE9EA" stroke="#E3D9DA" stroke-width="1.05"/>
<ellipse cx="565.12" cy="464.53" rx="2.8" ry="2.45" fill="#EFE9EA" stroke="#E3D9DA" stroke-width="1.05"/>
<ellipse cx="470.51" cy="497.81" rx="3.15" ry="2.45" fill="#EFE9EA" stroke="#E3D9DA" stroke-width="1.05"/>
</g>
<path d="M472.1,510.6H478.1" stroke="#222" stroke-width="0.8"/>
<text x="475.1" y="509.1" font-size="2.6" fill="#222" text-anchor="middle">50um</text>
<clipPath id="t6c"><rect x="574.7" y="449.1" width="99.2" height="65"/></clipPath>
<g clip-path="url(#t6c)">
<rect x="574.7" y="449.1" width="99.2" height="65" fill="#F3F1F2"/>
<filter id="t6b0" x="0" y="0" width="100%" height="100%" color-interpolation-filters="sRGB"><feTurbulence type="fractalNoise" baseFrequency="0.14" numOctaves="3" seed="61"/><feColorMatrix type="matrix" values="0 0 0 0 0.86 0 0 0 0 0.78 0 0 0 0 0.77 5 0 0 0 -3.1"/></filter>
<rect x="574.7" y="449.1" width="99.2" height="65" filter="url(#t6b0)"/>
<g fill="#7273A6" fill-opacity="0.6"><circle cx="639.32" cy="499.29" r="0.83"/><circle cx="643.8" cy="473.72" r="1"/><circle cx="671.69" cy="475.53" r="1.13"/><circle cx="659.91" cy="472.83" r="0.84"/><circle cx="661.42" cy="465.81" r="1.17"/><circle cx="648.62" cy="507.72" r="1.16"/><circle cx="669.34" cy="454.49" r="1.14"/><circle cx="610.89" cy="477.2" r="0.79"/><circle cx="653.66" cy="469.51" r="0.99"/><circle cx="624.7" cy="505.94" r="0.78"/><circle cx="614.1" cy="513.19" r="0.76"/><circle cx="671.93" cy="454.57" r="0.84"/><circle cx="643.4" cy="482.27" r="1.17"/><circle cx="605.68" cy="463.43" r="0.82"/><circle cx="605.98" cy="468.44" r="1.19"/><circle cx="639.76" cy="505.26" r="0.97"/><circle cx="648" cy="513.1" r="0.75"/><circle cx="578.34" cy="500.26" r="0.86"/><circle cx="654.78" cy="484.22" r="1.16"/><circle cx="651.66" cy="480.4" r="0.91"/><circle cx="608.94" cy="459.99" r="1.17"/><circle cx="615.15" cy="479.86" r="0.93"/><circle cx="628.84" cy="504.6" r="1.04"/><circle cx="623.46" cy="493.09" r="1.1"/><circle cx="635.17" cy="483.64" r="0.84"/><circle cx="645.71" cy="503.32" r="0.87"/><circle cx="632.56" cy="485.54" r="0.87"/><circle cx="641.1" cy="507.46" r="0.94"/><circle cx="636.13" cy="487.42" r="1"/><circle cx="644.2" cy="493.11" r="0.96"/><circle cx="581.31" cy="513.46" r="1.19"/><circle cx="641.41" cy="489.69" r="0.84"/><circle cx="634.94" cy="478.1" r="1.02"/><circle cx="580.06" cy="502.43" r="1.04"/><circle cx="656.04" cy="500.54" r="0.75"/><circle cx="610.38" cy="458.85" r="1.08"/><circle cx="666.4" cy="478.87" r="0.97"/><circle cx="629.13" cy="498.89" r="1.01"/><circle cx="599.3" cy="471.49" r="0.83"/><circle cx="611.05" cy="471.18" r="1.14"/><circle cx="596.15" cy="462.54" r="0.9"/><circle cx="626.82" cy="504.05" r="0.96"/><circle cx="669.41" cy="481.17" r="1"/><circle cx="642.39" cy="507" r="0.89"/><circle cx="654.95" cy="506.59" r="1"/><circle cx="622.35" cy="510.8" r="0.9"/><circle cx="651.28" cy="511.55" r="1.01"/><circle cx="577.44" cy="510.97" r="1.15"/><circle cx="637.36" cy="479.75" r="0.88"/><circle cx="619.1" cy="471.87" r="0.78"/><circle cx="607.35" cy="467.28" r="0.93"/><circle cx="664.04" cy="460.93" r="1.06"/><circle cx="624.24" cy="492.76" r="1.04"/><circle cx="672.7" cy="454.78" r="0.89"/><circle cx="671.78" cy="475.56" r="1.03"/><circle cx="618.34" cy="470.32" r="0.99"/><circle cx="617.32" cy="505.29" r="0.96"/><circle cx="671.6" cy="485.32" r="1.19"/><circle cx="627.41" cy="476.83" r="1.19"/><circle cx="647.37" cy="477.39" r="0.91"/><circle cx="649.06" cy="484" r="0.83"/><circle cx="663.85" cy="471.99" r="0.82"/><circle cx="659.51" cy="449.28" r="1.08"/><circle cx="599.94" cy="468.7" r="0.99"/><circle cx="622.98" cy="509.82" r="1"/><circle cx="637.6" cy="500.39" r="0.82"/><circle cx="591.17" cy="468.75" r="0.79"/><circle cx="660.61" cy="492.63" r="0.89"/><circle cx="663.92" cy="461.77" r="0.81"/><circle cx="660.13" cy="479.16" r="0.93"/><circle cx="664.73" cy="453.17" r="0.95"/><circle cx="672.53" cy="484.55" r="1.13"/><circle cx="613.21" cy="476.79" r="0.99"/><circle cx="670.66" cy="480.76" r="1.07"/><circle cx="617.67" cy="466.74" r="1.15"/><circle cx="671.09" cy="449.76" r="1.2"/><circle cx="671.77" cy="480.43" r="0.87"/><circle cx="639.48" cy="508.17" r="1.16"/><circle cx="654.4" cy="505.15" r="0.99"/><circle cx="586.41" cy="508.54" r="0.92"/><circle cx="617.85" cy="477.65" r="0.84"/><circle cx="664.65" cy="450.81" r="0.96"/><circle cx="576.63" cy="503.29" r="1.01"/><circle cx="619.76" cy="503.79" r="0.95"/><circle cx="592.31" cy="466.05" r="0.85"/><circle cx="629.73" cy="480.97" r="1"/><circle cx="651.71" cy="506.11" r="1.13"/><circle cx="660.17" cy="459.07" r="0.96"/><circle cx="635.87" cy="480.04" r="0.89"/><circle cx="636.33" cy="472.38" r="0.91"/><circle cx="649.39" cy="497.69" r="1.14"/><circle cx="657.27" cy="469.86" r="1.14"/><circle cx="632.14" cy="513.57" r="1.03"/><circle cx="666.23" cy="475.37" r="1.05"/><circle cx="663.94" cy="462.22" r="1.17"/></g>
<path d="M571.51,462.15C574.74,460.9 585.9,463.14 590.87,462.89C595.83,462.64 598.93,461.7 601.29,460.66C603.65,459.61 603.28,457.38 605.01,456.64C606.75,455.89 609.6,455.64 611.71,456.19C613.82,456.74 615.93,457.8 617.67,459.91C619.41,462.02 619.65,466.74 622.14,468.85C624.62,470.96 627.84,472.32 632.56,472.57C637.27,472.82 645.96,471.82 650.43,470.33C654.89,468.85 658.37,467.6 659.36,463.63C660.35,459.66 653.41,449.36 656.38,446.51C659.36,443.66 673.75,440.31 677.23,446.51C680.7,452.72 678.72,476.79 677.23,483.74C675.74,490.68 671.02,486.71 668.29,488.2C665.57,489.69 661.35,490.44 660.85,492.67C660.35,494.9 664.82,497.63 665.32,501.6C665.81,505.57 673.01,514.01 663.83,516.49C654.65,518.97 618.41,518.48 610.22,516.49C602.04,514.51 613.7,508.55 614.69,504.58C615.68,500.61 616.43,496.39 616.18,492.67C615.93,488.95 614.94,485.47 613.2,482.25C611.47,479.02 609.23,475.3 605.76,473.31C602.28,471.33 598.06,470.83 592.36,470.33C586.65,469.84 574.99,471.7 571.51,470.33C568.04,468.97 568.28,463.39 571.51,462.15Z" fill="#C4ACA8"/>
<clipPath id="t6s0"><path d="M571.51,462.15C574.74,460.9 585.9,463.14 590.87,462.89C595.83,462.64 598.93,461.7 601.29,460.66C603.65,459.61 603.28,457.38 605.01,456.64C606.75,455.89 609.6,455.64 611.71,456.19C613.82,456.74 615.93,457.8 617.67,459.91C619.41,462.02 619.65,466.74 622.14,468.85C624.62,470.96 627.84,472.32 632.56,472.57C637.27,472.82 645.96,471.82 650.43,470.33C654.89,468.85 658.37,467.6 659.36,463.63C660.35,459.66 653.41,449.36 656.38,446.51C659.36,443.66 673.75,440.31 677.23,446.51C680.7,452.72 678.72,476.79 677.23,483.74C675.74,490.68 671.02,486.71 668.29,488.2C665.57,489.69 661.35,490.44 660.85,492.67C660.35,494.9 664.82,497.63 665.32,501.6C665.81,505.57 673.01,514.01 663.83,516.49C654.65,518.97 618.41,518.48 610.22,516.49C602.04,514.51 613.7,508.55 614.69,504.58C615.68,500.61 616.43,496.39 616.18,492.67C615.93,488.95 614.94,485.47 613.2,482.25C611.47,479.02 609.23,475.3 605.76,473.31C602.28,471.33 598.06,470.83 592.36,470.33C586.65,469.84 574.99,471.7 571.51,470.33C568.04,468.97 568.28,463.39 571.51,462.15Z"/></clipPath>
<g clip-path="url(#t6s0)">
<filter id="t6f0_0" x="0" y="0" width="100%" height="100%" color-interpolation-filters="sRGB"><feTurbulence type="fractalNoise" baseFrequency="0.17" numOctaves="3" seed="25"/><feColorMatrix type="matrix" values="0 0 0 0 0.72 0 0 0 0 0.56 0 0 0 0 0.48 3 0 0 0 -1.6500000000000001"/></filter>
<rect x="574.7" y="449.1" width="99.2" height="65" filter="url(#t6f0_0)"/>
<filter id="t6f0_1" x="0" y="0" width="100%" height="100%" color-interpolation-filters="sRGB"><feTurbulence type="fractalNoise" baseFrequency="0.25" numOctaves="3" seed="26"/><feColorMatrix type="matrix" values="0 0 0 0 0.52 0 0 0 0 0.5 0 0 0 0 0.68 4 0 0 0 -2.32"/></filter>
<rect x="574.7" y="449.1" width="99.2" height="65" filter="url(#t6f0_1)"/>
<filter id="t6f0_2" x="0" y="0" width="100%" height="100%" color-interpolation-filters="sRGB"><feTurbulence type="fractalNoise" baseFrequency="0.12" numOctaves="3" seed="27"/><feColorMatrix type="matrix" values="0 0 0 0 0.64 0 0 0 0 0.44 0 0 0 0 0.36 4 0 0 0 -2.56"/></filter>
<rect x="574.7" y="449.1" width="99.2" height="65" filter="url(#t6f0_2)"/>
<filter id="t6f0_3" x="0" y="0" width="100%" height="100%" color-interpolation-filters="sRGB"><feTurbulence type="fractalNoise" baseFrequency="0.2" numOctaves="3" seed="28"/><feColorMatrix type="matrix" values="0 0 0 0 0.92 0 0 0 0 0.9 0 0 0 0 0.92 4 0 0 0 -2.48"/></filter>
<rect x="574.7" y="449.1" width="99.2" height="65" filter="url(#t6f0_3)"/>
</g>
<path d="M571.51,498.63C573.25,495.65 578.71,497.14 581.93,498.63C585.16,500.11 589.13,504.58 590.87,507.56C592.6,510.54 595.58,515 592.36,516.49C589.13,517.98 574.99,519.47 571.51,516.49C568.04,513.52 569.77,501.6 571.51,498.63Z" fill="#A88D86"/>
<clipPath id="t6s1"><path d="M571.51,498.63C573.25,495.65 578.71,497.14 581.93,498.63C585.16,500.11 589.13,504.58 590.87,507.56C592.6,510.54 595.58,515 592.36,516.49C589.13,517.98 574.99,519.47 571.51,516.49C568.04,513.52 569.77,501.6 571.51,498.63Z"/></clipPath>
<g clip-path="url(#t6s1)">
<filter id="t6f1_0" x="0" y="0" width="100%" height="100%" color-interpolation-filters="sRGB"><feTurbulence type="fractalNoise" baseFrequency="0.2" numOctaves="3" seed="71"/><feColorMatrix type="matrix" values="0 0 0 0 0.52 0 0 0 0 0.36 0 0 0 0 0.3 4 0 0 0 -2.0"/></filter>
<rect x="574.7" y="449.1" width="99.2" height="65" filter="url(#t6f1_0)"/>
</g>
<path d="M638.52,491.18C640.5,490.19 647.45,489.94 650.43,490.44C653.41,490.93 656.88,492.92 656.38,494.16C655.89,495.4 650.43,497.51 647.45,497.88C644.47,498.25 640,497.51 638.52,496.39C637.03,495.28 636.53,492.17 638.52,491.18Z" fill="#F2F0F1"/>
<path d="M573,466.91C558.85,467.03 585.66,467.58 590.87,466.91C596.08,466.24 601.04,464.01 604.27,462.89C607.49,461.77 607.99,459.76 610.22,460.21C612.46,460.66 615.56,462.94 617.67,465.57C619.78,468.2 619.9,473.66 622.88,475.99C625.86,478.33 630.95,479.22 635.54,479.57C640.13,479.91 645.46,479.17 650.43,478.08C655.39,476.99 661.1,475 665.32,473.01C669.54,471.03 691.13,467.18 675.74,466.17" fill="none" stroke="rgba(150,145,185,0.45)" stroke-width="3.5" stroke-linecap="round" stroke-linejoin="round"/>
<path d="M620.65,482.25C620.9,478.28 621.76,488.95 622.14,492.67C622.51,496.39 623.13,500.61 622.88,504.58C622.63,508.55 621.02,520.22 620.65,516.49" fill="none" stroke="rgba(150,145,185,0.4)" stroke-width="3" stroke-linecap="round" stroke-linejoin="round"/>
<ellipse cx="629.58" cy="460.66" rx="5.96" ry="4.17" fill="#EFE9EA" stroke="#E6DEDE" stroke-width="0.89"/>
<ellipse cx="647.45" cy="453.96" rx="5.21" ry="3.28" fill="#EFE9EA" stroke="#E8E1E1" stroke-width="0.89"/>
<ellipse cx="601.29" cy="482.25" rx="6.7" ry="5.96" fill="#EFE9EA" stroke="#E4DCDC" stroke-width="0.89"/>
<ellipse cx="586.4" cy="482.25" rx="4.47" ry="3.72" fill="#EFE9EA" stroke="#E3DADA" stroke-width="0.89"/>
<ellipse cx="638.52" cy="465.12" rx="2.68" ry="3.28" fill="#EFE9EA" stroke="#E0D6D6" stroke-width="0.89"/>
<ellipse cx="581.93" cy="491.18" rx="4.47" ry="2.98" fill="#EFE9EA" stroke="#E3DADA" stroke-width="0.89"/>
<ellipse cx="592.36" cy="497.14" rx="4.47" ry="3.72" fill="#EFE9EA" stroke="#E3DADA" stroke-width="0.89"/>
<ellipse cx="598.31" cy="506.07" rx="3.72" ry="2.98" fill="#EFE9EA" stroke="#E3DADA" stroke-width="0.89"/>
<ellipse cx="590.87" cy="477.78" rx="2.23" ry="2.23" fill="#EFE9EA" stroke="#E3DADA" stroke-width="0.89"/>
</g>
<path d="M577.7,510.6H583.7" stroke="#222" stroke-width="0.8"/>
<text x="580.7" y="509.1" font-size="2.6" fill="#222" text-anchor="middle">50um</text>
<rect x="502" y="462.4" width="50.5" height="33.3" fill="none" stroke="#3a3a3a" stroke-width="1" stroke-dasharray="4.5 2.5"/>
<path d="M552.5,462.4L574.7,449.1M552.5,495.7L574.7,514.1" stroke="#333" stroke-width="0.9" stroke-dasharray="4.5 2.5"/>
<rect x="574.7" y="449.1" width="99.2" height="65" fill="none" stroke="#555" stroke-width="1" stroke-dasharray="5 2.8"/>
<text x="566.7" y="511.8" font-size="6.2" fill="#111" text-anchor="end" font-style="italic">Patient ID: 2098</text>
<clipPath id="t7c"><rect x="469.1" y="520.8" width="99.1" height="65"/></clipPath>
<g clip-path="url(#t7c)">
<rect x="469.1" y="520.8" width="99.1" height="65" fill="#D4BDB2"/>
<filter id="t7b0" x="0" y="0" width="100%" height="100%" color-interpolation-filters="sRGB"><feTurbulence type="fractalNoise" baseFrequency="0.1" numOctaves="3" seed="79"/><feColorMatrix type="matrix" values="0 0 0 0 0.8 0 0 0 0 0.76 0 0 0 0 0.84 3.5 0 0 0 -1.9949999999999999"/></filter>
<rect x="469.1" y="520.8" width="99.1" height="65" filter="url(#t7b0)"/>
<filter id="t7b1" x="0" y="0" width="100%" height="100%" color-interpolation-filters="sRGB"><feTurbulence type="fractalNoise" baseFrequency="0.35" numOctaves="3" seed="71"/><feColorMatrix type="matrix" values="0 0 0 0 0.76 0 0 0 0 0.52 0 0 0 0 0.38 3.5 0 0 0 -1.855"/></filter>
<rect x="469.1" y="520.8" width="99.1" height="65" filter="url(#t7b1)"/>
<filter id="t7b2" x="0" y="0" width="100%" height="100%" color-interpolation-filters="sRGB"><feTurbulence type="fractalNoise" baseFrequency="0.5" numOctaves="3" seed="72"/><feColorMatrix type="matrix" values="0 0 0 0 0.55 0 0 0 0 0.36 0 0 0 0 0.28 4 0 0 0 -2.4"/></filter>
<rect x="469.1" y="520.8" width="99.1" height="65" filter="url(#t7b2)"/>
<filter id="t7b3" x="0" y="0" width="100%" height="100%" color-interpolation-filters="sRGB"><feTurbulence type="fractalNoise" baseFrequency="0.6" numOctaves="3" seed="73"/><feColorMatrix type="matrix" values="0 0 0 0 0.45 0 0 0 0 0.45 0 0 0 0 0.62 5 0 0 0 -3.2"/></filter>
<rect x="469.1" y="520.8" width="99.1" height="65" filter="url(#t7b3)"/>
<filter id="t7b4" x="0" y="0" width="100%" height="100%" color-interpolation-filters="sRGB"><feTurbulence type="fractalNoise" baseFrequency="0.25" numOctaves="3" seed="74"/><feColorMatrix type="matrix" values="0 0 0 0 0.95 0 0 0 0 0.94 0 0 0 0 0.95 4 0 0 0 -2.48"/></filter>
<rect x="469.1" y="520.8" width="99.1" height="65" filter="url(#t7b4)"/>
<g fill="#66689E" fill-opacity="0.5"><circle cx="477.38" cy="532" r="0.53"/><circle cx="485.09" cy="582.5" r="0.56"/><circle cx="542.67" cy="551.05" r="0.56"/><circle cx="493.25" cy="560.01" r="0.46"/><circle cx="490.57" cy="569.86" r="0.55"/><circle cx="477.76" cy="585.33" r="0.48"/><circle cx="522.96" cy="540.43" r="0.5"/><circle cx="564.24" cy="543.49" r="0.54"/><circle cx="546.82" cy="577.25" r="0.53"/><circle cx="511.91" cy="542.84" r="0.46"/><circle cx="506.14" cy="578.39" r="0.56"/><circle cx="490.35" cy="538.03" r="0.38"/><circle cx="561.41" cy="524.65" r="0.46"/><circle cx="562.38" cy="549.13" r="0.52"/><circle cx="551.38" cy="554.83" r="0.56"/><circle cx="545.49" cy="560.12" r="0.5"/><circle cx="557.01" cy="564.72" r="0.45"/><circle cx="558.25" cy="574.18" r="0.59"/><circle cx="535.15" cy="549.69" r="0.45"/><circle cx="530.92" cy="532.48" r="0.54"/><circle cx="539.22" cy="577.93" r="0.42"/><circle cx="526.67" cy="556.59" r="0.51"/><circle cx="509.66" cy="521.4" r="0.58"/><circle cx="558.7" cy="531.15" r="0.58"/><circle cx="528.16" cy="521.33" r="0.52"/><circle cx="498.85" cy="545.05" r="0.4"/><circle cx="551.62" cy="562.97" r="0.43"/><circle cx="525.47" cy="548.26" r="0.6"/><circle cx="489.84" cy="565.27" r="0.55"/><circle cx="557.16" cy="538.21" r="0.57"/><circle cx="509.97" cy="532.28" r="0.4"/><circle cx="509.92" cy="577.27" r="0.52"/><circle cx="517" cy="554.96" r="0.42"/><circle cx="492.11" cy="537.99" r="0.54"/><circle cx="533.89" cy="524.17" r="0.5"/><circle cx="564.12" cy="525.55" r="0.41"/><circle cx="565.1" cy="554.64" r="0.58"/><circle cx="551.8" cy="551.32" r="0.6"/><circle cx="495.03" cy="540.83" r="0.43"/><circle cx="543.86" cy="527.52" r="0.47"/><circle cx="545.79" cy="567.34" r="0.45"/><circle cx="484.58" cy="574.31" r="0.57"/><circle cx="532.55" cy="559.48" r="0.4"/><circle cx="502.88" cy="538.99" r="0.49"/><circle cx="496.84" cy="560.51" r="0.48"/><circle cx="565.33" cy="537.65" r="0.38"/><circle cx="537.06" cy="556.74" r="0.5"/><circle cx="542.37" cy="566.45" r="0.42"/><circle cx="487.63" cy="577.76" r="0.54"/><circle cx="508.48" cy="566.45" r="0.53"/><circle cx="477.37" cy="549.76" r="0.55"/><circle cx="551.43" cy="565.16" r="0.45"/><circle cx="555.14" cy="556.74" r="0.6"/><circle cx="563.86" cy="579.15" r="0.42"/><circle cx="563.01" cy="538.03" r="0.42"/><circle cx="521.2" cy="564.61" r="0.44"/><circle cx="565.57" cy="525.54" r="0.56"/><circle cx="540.63" cy="571.32" r="0.48"/><circle cx="558.35" cy="541.67" r="0.48"/><circle cx="550.57" cy="577.27" r="0.39"/><circle cx="501.02" cy="530.36" r="0.51"/><circle cx="551.26" cy="534.8" r="0.55"/><circle cx="484.43" cy="584.76" r="0.4"/><circle cx="482.59" cy="574.73" r="0.46"/><circle cx="476.08" cy="538.19" r="0.57"/><circle cx="553.55" cy="541.95" r="0.38"/><circle cx="537.65" cy="528.91" r="0.54"/><circle cx="476.52" cy="578.87" r="0.39"/><circle cx="529.42" cy="544.01" r="0.5"/><circle cx="492.89" cy="582.32" r="0.49"/><circle cx="534.06" cy="551.68" r="0.55"/><circle cx="554.82" cy="526.26" r="0.59"/><circle cx="496.46" cy="561.02" r="0.42"/><circle cx="502.92" cy="578.29" r="0.57"/><circle cx="559.38" cy="561.76" r="0.48"/><circle cx="515.09" cy="543.88" r="0.53"/><circle cx="509.62" cy="529.75" r="0.52"/><circle cx="504.68" cy="560.83" r="0.54"/><circle cx="565.29" cy="527.99" r="0.5"/><circle cx="556.86" cy="523.17" r="0.5"/><circle cx="494.75" cy="559.98" r="0.55"/><circle cx="525.96" cy="537.98" r="0.47"/><circle cx="490.92" cy="575.68" r="0.46"/><circle cx="491.84" cy="580.54" r="0.5"/><circle cx="530.7" cy="573.12" r="0.45"/><circle cx="519.85" cy="539.3" r="0.55"/><circle cx="495.71" cy="540.07" r="0.41"/><circle cx="558.76" cy="545.58" r="0.57"/><circle cx="521.04" cy="532.67" r="0.53"/><circle cx="553.22" cy="550.06" r="0.59"/><circle cx="535.54" cy="552.46" r="0.56"/><circle cx="537.51" cy="581.25" r="0.42"/><circle cx="562.22" cy="574.42" r="0.46"/><circle cx="513.67" cy="554.78" r="0.4"/><circle cx="543.22" cy="564.3" r="0.41"/><circle cx="552.14" cy="536.82" r="0.59"/><circle cx="514.1" cy="534.06" r="0.5"/><circle cx="473.38" cy="575.94" r="0.52"/><circle cx="522.84" cy="567.07" r="0.55"/><circle cx="469.38" cy="555.84" r="0.56"/><circle cx="553.28" cy="554.93" r="0.6"/><circle cx="507.82" cy="568.5" r="0.56"/><circle cx="508.24" cy="582.32" r="0.56"/><circle cx="558.49" cy="565.66" r="0.39"/><circle cx="563.35" cy="571.21" r="0.54"/><circle cx="510.81" cy="524.9" r="0.58"/><circle cx="562.99" cy="549.74" r="0.48"/><circle cx="522.67" cy="528.21" r="0.39"/><circle cx="540.7" cy="539.45" r="0.38"/><circle cx="535.41" cy="530.96" r="0.59"/><circle cx="564.23" cy="528.45" r="0.51"/><circle cx="546" cy="578.04" r="0.44"/><circle cx="531.02" cy="562.3" r="0.38"/><circle cx="508.04" cy="522.15" r="0.59"/><circle cx="508.18" cy="523.72" r="0.39"/><circle cx="496.15" cy="528.7" r="0.51"/><circle cx="511.68" cy="531.09" r="0.39"/><circle cx="489" cy="565.23" r="0.38"/><circle cx="507.68" cy="538.87" r="0.39"/><circle cx="500.46" cy="568.35" r="0.46"/><circle cx="566.17" cy="530.48" r="0.59"/><circle cx="492.26" cy="524.15" r="0.44"/><circle cx="516.33" cy="537.09" r="0.4"/><circle cx="539.62" cy="551.76" r="0.55"/><circle cx="527.7" cy="524.65" r="0.39"/><circle cx="503.84" cy="569.88" r="0.45"/><circle cx="555.89" cy="578.98" r="0.5"/><circle cx="533.95" cy="541.29" r="0.6"/><circle cx="559.62" cy="584.04" r="0.52"/><circle cx="512.46" cy="526.4" r="0.44"/><circle cx="533.39" cy="575.5" r="0.59"/><circle cx="494.78" cy="557.28" r="0.51"/><circle cx="491.84" cy="548.59" r="0.46"/><circle cx="535.27" cy="564.11" r="0.44"/><circle cx="556.96" cy="541.26" r="0.44"/><circle cx="552.65" cy="533.74" r="0.39"/><circle cx="472.01" cy="560.78" r="0.53"/><circle cx="503.24" cy="583.97" r="0.43"/><circle cx="547.93" cy="534.95" r="0.53"/><circle cx="499.99" cy="557.02" r="0.56"/><circle cx="539.51" cy="565.39" r="0.52"/><circle cx="507.15" cy="581.87" r="0.55"/><circle cx="492.54" cy="549.02" r="0.5"/><circle cx="531.55" cy="542.63" r="0.43"/><circle cx="519.64" cy="538.37" r="0.41"/><circle cx="518.1" cy="527.53" r="0.51"/><circle cx="498.13" cy="538.64" r="0.52"/><circle cx="472.75" cy="585.42" r="0.52"/><circle cx="552.57" cy="551.62" r="0.56"/><circle cx="471.68" cy="575.9" r="0.59"/><circle cx="510.96" cy="556.21" r="0.51"/><circle cx="523.03" cy="529.33" r="0.53"/><circle cx="522.82" cy="532.88" r="0.54"/><circle cx="553.63" cy="549.67" r="0.39"/><circle cx="511.05" cy="549.45" r="0.54"/><circle cx="499.98" cy="532.58" r="0.4"/><circle cx="525.59" cy="534.34" r="0.46"/><circle cx="526.01" cy="556.43" r="0.41"/><circle cx="512.97" cy="545.18" r="0.52"/><circle cx="532.62" cy="571.18" r="0.57"/><circle cx="481.73" cy="527.4" r="0.56"/><circle cx="507.55" cy="531.94" r="0.52"/><circle cx="509.66" cy="578.06" r="0.56"/><circle cx="475.85" cy="521.68" r="0.51"/><circle cx="552.43" cy="579.97" r="0.52"/><circle cx="472.02" cy="560.78" r="0.39"/><circle cx="492.46" cy="564.53" r="0.48"/><circle cx="524.17" cy="549.07" r="0.4"/><circle cx="540.74" cy="559.11" r="0.53"/><circle cx="478.56" cy="537.85" r="0.38"/><circle cx="473.52" cy="556.19" r="0.56"/><circle cx="497.69" cy="560.45" r="0.54"/><circle cx="566.32" cy="579.59" r="0.51"/><circle cx="503.49" cy="570.02" r="0.45"/><circle cx="499.14" cy="583.72" r="0.49"/><circle cx="489.41" cy="569.74" r="0.48"/><circle cx="479.83" cy="566.03" r="0.47"/><circle cx="508.58" cy="572.77" r="0.46"/><circle cx="501.52" cy="581.44" r="0.6"/><circle cx="480.79" cy="581.32" r="0.49"/><circle cx="478.15" cy="575.21" r="0.52"/><circle cx="515.5" cy="527.48" r="0.56"/><circle cx="482.24" cy="554.51" r="0.45"/><circle cx="556.57" cy="584.76" r="0.54"/><circle cx="472.84" cy="578.61" r="0.39"/><circle cx="557.35" cy="561.73" r="0.54"/><circle cx="469.85" cy="535.96" r="0.51"/><circle cx="499.5" cy="570.13" r="0.47"/><circle cx="497.33" cy="547.83" r="0.59"/><circle cx="505.47" cy="524.37" r="0.51"/><circle cx="536.97" cy="535.16" r="0.52"/><circle cx="520.76" cy="571.56" r="0.52"/><circle cx="478.92" cy="531.61" r="0.49"/><circle cx="528.93" cy="564.24" r="0.59"/><circle cx="536.75" cy="571.96" r="0.4"/><circle cx="555.82" cy="523.48" r="0.45"/><circle cx="564.44" cy="571.61" r="0.59"/><circle cx="500.47" cy="534.39" r="0.59"/><circle cx="549.03" cy="556.29" r="0.57"/><circle cx="553.85" cy="520.91" r="0.59"/><circle cx="477.34" cy="558.43" r="0.58"/><circle cx="484.3" cy="542.53" r="0.56"/><circle cx="520.21" cy="556.73" r="0.51"/><circle cx="534.39" cy="520.99" r="0.56"/><circle cx="486.53" cy="575.12" r="0.38"/><circle cx="486.7" cy="523.51" r="0.45"/><circle cx="519.26" cy="546.28" r="0.48"/><circle cx="564.46" cy="553.32" r="0.42"/><circle cx="507.09" cy="523.26" r="0.57"/><circle cx="509.86" cy="572.67" r="0.45"/><circle cx="557.78" cy="571.47" r="0.4"/><circle cx="506.76" cy="581.59" r="0.42"/><circle cx="551.97" cy="525.52" r="0.5"/><circle cx="532.98" cy="548.04" r="0.44"/><circle cx="557.41" cy="525.94" r="0.58"/><circle cx="530.89" cy="554.28" r="0.41"/><circle cx="534.53" cy="579.16" r="0.38"/><circle cx="469.93" cy="521.9" r="0.53"/><circle cx="490.2" cy="542.59" r="0.57"/><circle cx="494.12" cy="546.76" r="0.5"/><circle cx="544.37" cy="566.15" r="0.51"/><circle cx="558.22" cy="547.11" r="0.47"/><circle cx="515.21" cy="572.55" r="0.46"/><circle cx="548.02" cy="546.67" r="0.58"/><circle cx="472.84" cy="553.17" r="0.51"/><circle cx="513.52" cy="563.02" r="0.58"/><circle cx="555.71" cy="536.37" r="0.59"/><circle cx="564.46" cy="575.73" r="0.59"/><circle cx="501.35" cy="562.6" r="0.57"/><circle cx="533.56" cy="576.19" r="0.55"/><circle cx="523.45" cy="554.13" r="0.52"/><circle cx="493.47" cy="579.15" r="0.59"/><circle cx="484.43" cy="567.08" r="0.47"/><circle cx="545.05" cy="561.13" r="0.45"/></g>
<path d="M479.17,539.85C479.29,538.11 481.28,534.76 482.89,532.4C484.5,530.04 487.23,527.07 488.85,525.7C490.46,524.34 492.07,523.59 492.57,524.21C493.06,524.83 492.94,527.31 491.82,529.42C490.71,531.53 487.48,534.63 485.87,536.87C484.25,539.1 483.26,542.33 482.15,542.82C481.03,543.32 479.04,541.58 479.17,539.85Z" fill="#F5F3F4"/>
<path d="M509.69,587.49C506.47,585.38 512.67,577.32 515.65,574.84C518.63,572.36 524.58,571.98 527.56,572.6C530.54,573.22 532.27,576.08 533.52,578.56C534.76,581.04 538.97,586 535,587.49C531.03,588.98 512.92,589.6 509.69,587.49Z" fill="#F7F6F7"/>
<path d="M542.45,569.63C543.44,568.14 549.4,567.14 551.38,568.14C553.37,569.13 555.35,574.09 554.36,575.58C553.37,577.07 547.41,578.06 545.43,577.07C543.44,576.08 541.46,571.11 542.45,569.63Z" fill="#F2F0F1"/>
<clipPath id="t7s3"><path d="M505.22,530.91C506.96,528.68 515.4,528.68 517.14,530.91C518.87,533.15 517.38,542.08 515.65,544.31C513.91,546.55 508.45,546.55 506.71,544.31C504.98,542.08 503.49,533.15 505.22,530.91Z"/></clipPath>
<g clip-path="url(#t7s3)">
<filter id="t7f3_0" x="0" y="0" width="100%" height="100%" color-interpolation-filters="sRGB"><feTurbulence type="fractalNoise" baseFrequency="0.35" numOctaves="3" seed="96"/><feColorMatrix type="matrix" values="0 0 0 0 0.52 0 0 0 0 0.36 0 0 0 0 0.3 4 0 0 0 -2.12"/></filter>
<rect x="469.1" y="520.8" width="99.1" height="65" filter="url(#t7f3_0)"/>
</g>
</g>
<path d="M472.1,582.3H478.1" stroke="#222" stroke-width="0.8"/>
<text x="475.1" y="580.8" font-size="2.6" fill="#222" text-anchor="middle">50um</text>
<clipPath id="t8c"><rect x="574.7" y="520.8" width="99.2" height="65"/></clipPath>
<g clip-path="url(#t8c)">
<rect x="574.7" y="520.8" width="99.2" height="65" fill="#D5BBAD"/>
<filter id="t8b0" x="0" y="0" width="100%" height="100%" color-interpolation-filters="sRGB"><feTurbulence type="fractalNoise" baseFrequency="0.05" numOctaves="3" seed="89"/><feColorMatrix type="matrix" values="0 0 0 0 0.8 0 0 0 0 0.76 0 0 0 0 0.84 3.5 0 0 0 -2.03"/></filter>
<rect x="574.7" y="520.8" width="99.2" height="65" filter="url(#t8b0)"/>
<filter id="t8b1" x="0" y="0" width="100%" height="100%" color-interpolation-filters="sRGB"><feTurbulence type="fractalNoise" baseFrequency="0.17" numOctaves="3" seed="81"/><feColorMatrix type="matrix" values="0 0 0 0 0.76 0 0 0 0 0.52 0 0 0 0 0.38 3.5 0 0 0 -1.82"/></filter>
<rect x="574.7" y="520.8" width="99.2" height="65" filter="url(#t8b1)"/>
<filter id="t8b2" x="0" y="0" width="100%" height="100%" color-interpolation-filters="sRGB"><feTurbulence type="fractalNoise" baseFrequency="0.25" numOctaves="3" seed="82"/><feColorMatrix type="matrix" values="0 0 0 0 0.55 0 0 0 0 0.36 0 0 0 0 0.28 4 0 0 0 -2.4"/></filter>
<rect x="574.7" y="520.8" width="99.2" height="65" filter="url(#t8b2)"/>
<filter id="t8b3" x="0" y="0" width="100%" height="100%" color-interpolation-filters="sRGB"><feTurbulence type="fractalNoise" baseFrequency="0.3" numOctaves="3" seed="83"/><feColorMatrix type="matrix" values="0 0 0 0 0.45 0 0 0 0 0.45 0 0 0 0 0.62 5 0 0 0 -3.2"/></filter>
<rect x="574.7" y="520.8" width="99.2" height="65" filter="url(#t8b3)"/>
<filter id="t8b4" x="0" y="0" width="100%" height="100%" color-interpolation-filters="sRGB"><feTurbulence type="fractalNoise" baseFrequency="0.12" numOctaves="3" seed="84"/><feColorMatrix type="matrix" values="0 0 0 0 0.95 0 0 0 0 0.94 0 0 0 0 0.95 4 0 0 0 -2.48"/></filter>
<rect x="574.7" y="520.8" width="99.2" height="65" filter="url(#t8b4)"/>
<g fill="#5E629E" fill-opacity="0.55"><circle cx="669.93" cy="577.47" r="1.08"/><circle cx="597.28" cy="542.29" r="1.07"/><circle cx="654.73" cy="521.89" r="0.83"/><circle cx="663.52" cy="528.48" r="1.04"/><circle cx="607.41" cy="562.76" r="1.14"/><circle cx="632.39" cy="546.22" r="0.9"/><circle cx="636.35" cy="561.64" r="0.93"/><circle cx="620.96" cy="555.66" r="0.87"/><circle cx="592.53" cy="557.76" r="0.8"/><circle cx="634" cy="572.92" r="1.12"/><circle cx="599.73" cy="547.76" r="1.17"/><circle cx="609.41" cy="585.25" r="0.84"/><circle cx="658.1" cy="523.46" r="1.05"/><circle cx="654.61" cy="556.39" r="1.03"/><circle cx="665.35" cy="585.56" r="0.83"/><circle cx="626.55" cy="523.39" r="0.92"/><circle cx="589.09" cy="531.22" r="1.03"/><circle cx="575.67" cy="573.68" r="0.86"/><circle cx="581.87" cy="561.17" r="1.07"/><circle cx="637.25" cy="556.38" r="0.99"/><circle cx="646.08" cy="540.97" r="1.13"/><circle cx="643.53" cy="576.58" r="1.15"/><circle cx="657.99" cy="554.55" r="0.99"/><circle cx="647.48" cy="558.44" r="0.76"/><circle cx="665.66" cy="533.74" r="0.97"/><circle cx="619.58" cy="526.86" r="1.01"/><circle cx="633.26" cy="573.65" r="1.03"/><circle cx="605.11" cy="557.52" r="1.18"/><circle cx="637.86" cy="575.65" r="0.76"/><circle cx="643.11" cy="534.53" r="0.82"/><circle cx="607.56" cy="532.36" r="0.79"/><circle cx="595.64" cy="535.78" r="0.86"/><circle cx="653.95" cy="526.21" r="0.84"/><circle cx="580.12" cy="553.71" r="0.85"/><circle cx="627.35" cy="536.25" r="0.84"/><circle cx="623.1" cy="525.46" r="1.15"/><circle cx="630.51" cy="546.49" r="1"/><circle cx="668.67" cy="552.93" r="0.93"/><circle cx="596.21" cy="545.53" r="1.1"/><circle cx="635.51" cy="538.72" r="1.15"/><circle cx="587.93" cy="543.93" r="1.1"/><circle cx="665.48" cy="550.65" r="0.76"/><circle cx="630.33" cy="548.56" r="0.76"/><circle cx="609.3" cy="578.13" r="0.77"/><circle cx="592.36" cy="531.66" r="1.11"/><circle cx="605.2" cy="565.3" r="1.05"/><circle cx="575.9" cy="549.27" r="0.8"/><circle cx="654.01" cy="552.61" r="0.92"/><circle cx="655.29" cy="574.25" r="0.78"/><circle cx="584.11" cy="541.8" r="0.89"/><circle cx="618.43" cy="548.58" r="1.19"/><circle cx="641.29" cy="583.29" r="1.03"/><circle cx="597.88" cy="557.7" r="0.82"/><circle cx="632.65" cy="530.08" r="1.17"/><circle cx="604.79" cy="578.93" r="0.85"/><circle cx="595.32" cy="536.8" r="1.12"/><circle cx="656.83" cy="569.23" r="1.01"/><circle cx="589.16" cy="536.3" r="0.76"/><circle cx="667" cy="529.12" r="1.07"/><circle cx="634.54" cy="532.68" r="0.78"/><circle cx="663.57" cy="539.46" r="0.75"/><circle cx="644.58" cy="585.1" r="1"/><circle cx="578.19" cy="547.94" r="1.02"/><circle cx="598.98" cy="547.91" r="1.08"/><circle cx="639.94" cy="574.84" r="1.18"/><circle cx="626.17" cy="584.57" r="0.8"/><circle cx="626.04" cy="564.71" r="1.17"/><circle cx="621.35" cy="549.18" r="1.15"/><circle cx="621.36" cy="524.56" r="0.95"/><circle cx="601.48" cy="563.43" r="1.12"/><circle cx="579.37" cy="541.38" r="1.15"/><circle cx="654.98" cy="571.72" r="0.93"/><circle cx="669.36" cy="575.94" r="1.12"/><circle cx="628.63" cy="562.47" r="0.81"/><circle cx="580.07" cy="553.94" r="1.18"/><circle cx="631.79" cy="572.02" r="1.09"/><circle cx="668.39" cy="538.78" r="0.97"/><circle cx="666.43" cy="542.26" r="1.06"/><circle cx="615.63" cy="530.75" r="0.84"/><circle cx="610.4" cy="522.67" r="1.15"/><circle cx="609.94" cy="536.45" r="1.11"/><circle cx="575.26" cy="570.33" r="0.95"/><circle cx="583.62" cy="546.65" r="1.19"/><circle cx="578.63" cy="539.27" r="0.83"/><circle cx="633.39" cy="533.73" r="1.13"/><circle cx="610.85" cy="582.57" r="0.8"/><circle cx="597.5" cy="522.54" r="0.77"/><circle cx="592.9" cy="558.99" r="1"/><circle cx="646.75" cy="536" r="1.02"/><circle cx="672.36" cy="541.68" r="0.86"/><circle cx="593.12" cy="583.54" r="1.04"/><circle cx="623.71" cy="553.02" r="0.79"/><circle cx="597.05" cy="566.28" r="0.86"/><circle cx="625.66" cy="579.57" r="0.83"/><circle cx="621.55" cy="570.36" r="1.08"/><circle cx="656.68" cy="579.99" r="1.01"/><circle cx="597.1" cy="553.92" r="1.17"/><circle cx="594.37" cy="539.9" r="0.84"/><circle cx="661.85" cy="527.12" r="0.82"/><circle cx="635.11" cy="568.2" r="0.94"/><circle cx="648.97" cy="566.74" r="0.93"/><circle cx="581.96" cy="565.72" r="1.03"/><circle cx="669.82" cy="566.39" r="0.78"/><circle cx="594.08" cy="540.81" r="1.08"/><circle cx="605.36" cy="536.03" r="0.83"/><circle cx="601.61" cy="553.12" r="1.07"/><circle cx="658.81" cy="527.32" r="1"/></g>
<path d="M571.51,521.23C574.24,517.64 586.15,519.12 587.89,521.23C589.63,523.34 583.92,530.54 581.93,533.89C579.95,537.24 577.72,539.85 575.98,541.33C574.24,542.82 572.26,546.17 571.51,542.82C570.77,539.47 568.78,524.83 571.51,521.23Z" fill="#F6F5F6"/>
<clipPath id="t8s1"><path d="M614.69,521.98C617.92,518.01 632.56,518.26 635.54,521.98C638.52,525.7 635.79,540.34 632.56,544.31C629.33,548.28 619.16,549.52 616.18,545.8C613.2,542.08 611.47,525.95 614.69,521.98Z"/></clipPath>
<g clip-path="url(#t8s1)">
<filter id="t8f1_0" x="0" y="0" width="100%" height="100%" color-interpolation-filters="sRGB"><feTurbulence type="fractalNoise" baseFrequency="0.15" numOctaves="3" seed="92"/><feColorMatrix type="matrix" values="0 0 0 0 0.52 0 0 0 0 0.36 0 0 0 0 0.3 4 0 0 0 -2.08"/></filter>
<rect x="574.7" y="520.8" width="99.2" height="65" filter="url(#t8f1_0)"/>
</g>
<path d="M584.91,560.69C585.66,559.95 588.88,560.94 589.38,562.18C589.88,563.42 588.63,567.39 587.89,568.14C587.15,568.88 585.41,567.89 584.91,566.65C584.42,565.41 584.17,561.44 584.91,560.69Z" fill="#F4F2F3"/>
<ellipse cx="599.8" cy="556.97" rx="5.66" ry="5.96" fill="#EFE9EA" stroke="#B88E7A" stroke-width="0.89"/>
</g>
<path d="M577.7,582.3H583.7" stroke="#222" stroke-width="0.8"/>
<text x="580.7" y="580.8" font-size="2.6" fill="#222" text-anchor="middle">50um</text>
<rect x="482.6" y="530.2" width="50.9" height="33.2" fill="none" stroke="#3a3a3a" stroke-width="1" stroke-dasharray="4.5 2.5"/>
<path d="M533.5,530.2L574.7,520.8M533.5,563.4L574.7,585.8" stroke="#333" stroke-width="0.9" stroke-dasharray="4.5 2.5"/>
<rect x="574.7" y="520.8" width="99.2" height="65" fill="none" stroke="#555" stroke-width="1" stroke-dasharray="5 2.8"/>
<text x="566.7" y="583.5" font-size="6.2" fill="#111" text-anchor="end" font-style="italic">Patient ID: 3571</text>
</svg></body></html>
